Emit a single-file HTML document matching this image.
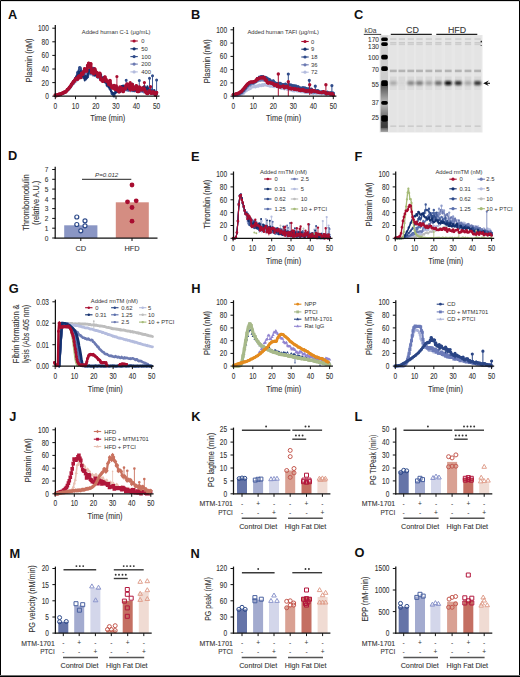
<!DOCTYPE html>
<html><head><meta charset="utf-8"><style>
html,body{margin:0;padding:0;background:#fff;overflow:hidden;}
svg{display:block;}
svg{font-family:"Liberation Sans",sans-serif;}
</style></head><body>
<svg width="520" height="677" viewBox="0 0 520 677">
<rect width="520" height="677" fill="#fff"/>
<g fill="#333" stroke-linejoin="round">
<text transform="translate(8,19)" font-size="12.8" font-weight="bold" fill="#111">A</text>
<polyline points="55.3,95.9 56.3,95.6 57.3,95.2 58.3,95.1 59.3,94.8 60.4,94.5 61.4,94.2 62.4,93.8 63.4,93.3 64.4,92.7 65.4,92.2 66.4,91.5 67.4,90.7 68.5,89.7 69.5,88.7 70.5,87.7 71.5,85.7 72.5,84.4 73.5,83.5 74.5,82.3 75.5,81.7 76.6,80.7 77.6,78.9 78.6,78.6 79.6,77.6 80.6,77 81.6,76.9 82.6,76.1 83.6,75.9 84.7,74.9 85.7,74.9 86.7,74.3 87.7,74.1 88.7,73.6 89.7,73.8 90.7,74.1 91.8,73.4 92.8,73.8 93.8,74.4 94.8,75 95.8,76.1 96.8,76.6 97.8,77.1 98.8,77.9 99.8,77.4 100.9,78.5 101.9,78.4 102.9,79.6 103.9,79.4 104.9,80.2 105.9,81.9 106.9,82.3 107.9,82.1 109,83.4 110,83.6 111,85.1 112,86.4 113,86.3 114,86.7 115,88 116,88.6 117.1,88.6 118.1,88 119.1,88.5 120.1,89.6 121.1,89.6 122.1,89.9 123.1,90.1 124.1,89.2 125.2,90.2 126.2,89.8 127.2,90 128.2,90.4 129.2,89.8 130.2,90.7 131.2,90.1 132.2,90.9 133.3,90.5 134.3,90.9 135.3,90.9 136.3,90.1 137.3,90.5 138.3,91.3 139.3,90.6 140.3,91.7 141.4,91.6 142.4,91.1 143.4,91.5 144.4,92.4 145.4,91.3 146.4,92.5 147.4,92.6 148.4,92 149.5,92.8 150.5,92.9 151.5,93.4 152.5,93.5 153.5,93 154.5,93.6 155.5,93.2 156.6,93.7" fill="none" stroke="#b4bcde" stroke-width="2.8" stroke-linejoin="round" stroke-linecap="round"/>
<polyline points="55.3,95.9 56.3,95.5 57.3,95.3 58.3,95.2 59.3,95 60.4,94.5 61.4,94.2 62.4,93.7 63.4,93.3 64.4,92.8 65.4,92.1 66.4,91.2 67.4,90.4 68.5,89.2 69.5,88.2 70.5,86.6 71.5,85.6 72.5,83.8 73.5,84 74.5,80.5 75.5,80.5 76.6,79 77.6,76.2 78.6,78.5 79.6,77.6 80.6,73.6 81.6,74.9 82.6,76.4 83.6,72.4 84.7,72.1 85.7,75.3 86.7,73.5 87.7,74.3 88.7,73.3 89.7,71.9 90.7,74 91.8,72.1 92.8,75.3 93.8,75.4 94.8,73.2 95.8,75.5 96.8,76 97.8,75.9 98.8,76.9 99.8,77.9 100.9,79.9 101.9,77.8 102.9,77.6 103.9,78.2 104.9,80 105.9,81.7 106.9,82.4 107.9,82 109,82.9 110,85.5 111,85.9 112,86.3 113,86.5 114,86.2 115,87.7 116,89.4 117.1,87.4 118.1,88.7 119.1,88.7 120.1,89.7 121.1,89.3 122.1,89.5 123.1,88.5 124.1,90.4 125.2,89.3 126.2,90.3 127.2,89 128.2,90.8 129.2,90.2 130.2,90 131.2,89.3 132.2,90.9 133.3,89.9 134.3,90.6 135.3,90.5 136.3,90.1 137.3,89 138.3,90.4 139.3,89.3 140.3,91.5 141.4,89.7 142.4,91.3 143.4,92 144.4,90.7 145.4,90.5 146.4,92.9 147.4,92.4 148.4,91.4 149.5,92.6 150.5,93 151.5,93.8 152.5,93.9 153.5,92.7 154.5,92 155.5,92.1 156.6,93.5" fill="none" stroke="#6c7ab2" stroke-width="2.2" stroke-linejoin="round" stroke-linecap="round"/>
<polyline points="55.3,95.7 56.3,95.1 57.3,94.9 58.3,94.5 59.3,94.7 60.4,94.3 61.4,94.1 62.4,93.6 63.4,92.9 64.4,92.7 65.4,91.8 66.4,91.1 67.4,90 68.5,88.7 69.5,87.1 70.5,85.9 71.5,85 72.5,83.3 73.5,82 74.5,79.8 75.5,78.2 76.6,76.4 77.6,72.4 78.6,70.8 79.6,67.6 80.6,67.5 81.6,72.6 82.6,71.4 83.6,77.4 84.7,78.3 85.7,79 86.7,78.2 87.7,76.7 88.7,73.2 89.7,71.7 90.7,73.1 91.8,68.2 92.8,68.9 93.8,68.3 94.8,71.1 95.8,72.7 96.8,72 97.8,76.9 98.8,74 99.8,76.2 100.9,78.7 101.9,79.3 102.9,78.2 103.9,80.7 104.9,80.4 105.9,80.7 106.9,83.2 107.9,86 109,85.6 110,88.8 111,90.7 112,93.5 113,94.7 114,95.9 115,92.4 116,90 117.1,91.9 118.1,89.6 119.1,87.8 120.1,91.4 121.1,90.4 122.1,86.5 123.1,85.9 124.1,86.5 125.2,88.7 126.2,87.2 127.2,84.8 128.2,84.7 129.2,85.3 130.2,88.7 131.2,85.8 132.2,88.7 133.3,87.4 134.3,90.7 135.3,86.9 136.3,88.9 137.3,88.3 138.3,90.7 139.3,88.5 140.3,88.5 141.4,88.1 142.4,89.1 143.4,87 144.4,88.8 145.4,89.1 146.4,89.7 147.4,87.3 148.4,90.5 149.5,90.4 150.5,91.6 151.5,89.3 152.5,90.3 153.5,91 154.5,93.9 155.5,92.6 156.6,93.5" fill="none" stroke="#2f4b8a" stroke-width="2.2" stroke-linejoin="round" stroke-linecap="round"/>
<path d="M53.8,95.7a1.5,1.5 0 1 0 3,0a1.5,1.5 0 1 0 -3,0M55.8,94.9a1.5,1.5 0 1 0 3,0a1.5,1.5 0 1 0 -3,0M57.8,94.7a1.5,1.5 0 1 0 3,0a1.5,1.5 0 1 0 -3,0M59.9,94.1a1.5,1.5 0 1 0 3,0a1.5,1.5 0 1 0 -3,0M61.9,92.9a1.5,1.5 0 1 0 3,0a1.5,1.5 0 1 0 -3,0M63.9,91.8a1.5,1.5 0 1 0 3,0a1.5,1.5 0 1 0 -3,0M65.9,90a1.5,1.5 0 1 0 3,0a1.5,1.5 0 1 0 -3,0M68,87.1a1.5,1.5 0 1 0 3,0a1.5,1.5 0 1 0 -3,0M70,85a1.5,1.5 0 1 0 3,0a1.5,1.5 0 1 0 -3,0M72,82a1.5,1.5 0 1 0 3,0a1.5,1.5 0 1 0 -3,0M74,78.2a1.5,1.5 0 1 0 3,0a1.5,1.5 0 1 0 -3,0M76.1,72.4a1.5,1.5 0 1 0 3,0a1.5,1.5 0 1 0 -3,0M78.1,67.6a1.5,1.5 0 1 0 3,0a1.5,1.5 0 1 0 -3,0M80.1,72.6a1.5,1.5 0 1 0 3,0a1.5,1.5 0 1 0 -3,0M82.1,77.4a1.5,1.5 0 1 0 3,0a1.5,1.5 0 1 0 -3,0M84.2,79a1.5,1.5 0 1 0 3,0a1.5,1.5 0 1 0 -3,0M86.2,76.7a1.5,1.5 0 1 0 3,0a1.5,1.5 0 1 0 -3,0M88.2,71.7a1.5,1.5 0 1 0 3,0a1.5,1.5 0 1 0 -3,0M90.2,68.2a1.5,1.5 0 1 0 3,0a1.5,1.5 0 1 0 -3,0M92.3,68.3a1.5,1.5 0 1 0 3,0a1.5,1.5 0 1 0 -3,0M94.3,72.7a1.5,1.5 0 1 0 3,0a1.5,1.5 0 1 0 -3,0M96.3,76.9a1.5,1.5 0 1 0 3,0a1.5,1.5 0 1 0 -3,0M98.3,76.2a1.5,1.5 0 1 0 3,0a1.5,1.5 0 1 0 -3,0M100.4,79.3a1.5,1.5 0 1 0 3,0a1.5,1.5 0 1 0 -3,0M102.4,80.7a1.5,1.5 0 1 0 3,0a1.5,1.5 0 1 0 -3,0M104.4,80.7a1.5,1.5 0 1 0 3,0a1.5,1.5 0 1 0 -3,0M106.4,86a1.5,1.5 0 1 0 3,0a1.5,1.5 0 1 0 -3,0M108.5,88.8a1.5,1.5 0 1 0 3,0a1.5,1.5 0 1 0 -3,0M110.5,93.5a1.5,1.5 0 1 0 3,0a1.5,1.5 0 1 0 -3,0M112.5,95.9a1.5,1.5 0 1 0 3,0a1.5,1.5 0 1 0 -3,0M114.5,90a1.5,1.5 0 1 0 3,0a1.5,1.5 0 1 0 -3,0M116.6,89.6a1.5,1.5 0 1 0 3,0a1.5,1.5 0 1 0 -3,0M118.6,91.4a1.5,1.5 0 1 0 3,0a1.5,1.5 0 1 0 -3,0M120.6,86.5a1.5,1.5 0 1 0 3,0a1.5,1.5 0 1 0 -3,0M122.6,86.5a1.5,1.5 0 1 0 3,0a1.5,1.5 0 1 0 -3,0M124.7,87.2a1.5,1.5 0 1 0 3,0a1.5,1.5 0 1 0 -3,0M126.7,84.7a1.5,1.5 0 1 0 3,0a1.5,1.5 0 1 0 -3,0M128.7,88.7a1.5,1.5 0 1 0 3,0a1.5,1.5 0 1 0 -3,0M130.8,88.7a1.5,1.5 0 1 0 3,0a1.5,1.5 0 1 0 -3,0M132.8,90.7a1.5,1.5 0 1 0 3,0a1.5,1.5 0 1 0 -3,0M134.8,88.9a1.5,1.5 0 1 0 3,0a1.5,1.5 0 1 0 -3,0M136.8,90.7a1.5,1.5 0 1 0 3,0a1.5,1.5 0 1 0 -3,0M138.8,88.5a1.5,1.5 0 1 0 3,0a1.5,1.5 0 1 0 -3,0M140.9,89.1a1.5,1.5 0 1 0 3,0a1.5,1.5 0 1 0 -3,0M142.9,88.8a1.5,1.5 0 1 0 3,0a1.5,1.5 0 1 0 -3,0M144.9,89.7a1.5,1.5 0 1 0 3,0a1.5,1.5 0 1 0 -3,0M146.9,90.5a1.5,1.5 0 1 0 3,0a1.5,1.5 0 1 0 -3,0M149,91.6a1.5,1.5 0 1 0 3,0a1.5,1.5 0 1 0 -3,0M151,90.3a1.5,1.5 0 1 0 3,0a1.5,1.5 0 1 0 -3,0M153,93.9a1.5,1.5 0 1 0 3,0a1.5,1.5 0 1 0 -3,0M155.1,93.5a1.5,1.5 0 1 0 3,0a1.5,1.5 0 1 0 -3,0" fill="#2f4b8a"/>
<polyline points="55.3,95.8 56.3,95.1 57.3,94.9 58.3,94.5 59.3,94.6 60.4,94.3 61.4,93.7 62.4,93.3 63.4,93.1 64.4,92.4 65.4,91.9 66.4,90.7 67.4,90.1 68.5,88.9 69.5,87.1 70.5,86.1 71.5,84.8 72.5,82.9 73.5,81.5 74.5,80.4 75.5,78.5 76.6,76.5 77.6,76.8 78.6,71.5 79.6,73.5 80.6,70.9 81.6,73.9 82.6,75.8 83.6,74.3 84.7,80.5 85.7,76.4 86.7,78.2 87.7,75.1 88.7,70.1 89.7,69 90.7,73.1 91.8,69.8 92.8,70 93.8,73.9 94.8,75.2 95.8,70.5 96.8,73.6 97.8,76.5 98.8,75.4 99.8,77.7 100.9,74.7 101.9,77.5 102.9,80.8 103.9,77.3 104.9,82.6 105.9,82.6 106.9,85.3 107.9,82.6 109,87.6 110,87.3 111,91.4 112,92.2 113,93.4 114,93.9 115,93.3 116,92.2 117.1,91.7 118.1,90.2 119.1,91.9 120.1,89.3 121.1,89.9 122.1,86.2 123.1,85.4 124.1,89.5 125.2,88.8 126.2,85.7 127.2,86.3 128.2,89.2 129.2,85.8 130.2,84.9 131.2,88 132.2,88.8 133.3,88.2 134.3,86.8 135.3,90.4 136.3,90.4 137.3,90.9 138.3,88.7 139.3,89.3 140.3,90.1 141.4,89.2 142.4,90.7 143.4,89.1 144.4,85.6 145.4,87.6 146.4,89.1 147.4,86.1 148.4,89.3 149.5,90.2 150.5,91.8 151.5,91.7 152.5,92 153.5,92.4 154.5,90 155.5,93.4 156.6,93.9" fill="none" stroke="#13306e" stroke-width="1.8" stroke-linejoin="round" stroke-linecap="round"/>
<path d="M54,95.8a1.3,1.3 0 1 0 2.6,0a1.3,1.3 0 1 0 -2.6,0M57,94.5a1.3,1.3 0 1 0 2.6,0a1.3,1.3 0 1 0 -2.6,0M60.1,93.7a1.3,1.3 0 1 0 2.6,0a1.3,1.3 0 1 0 -2.6,0M63.1,92.4a1.3,1.3 0 1 0 2.6,0a1.3,1.3 0 1 0 -2.6,0M66.1,90.1a1.3,1.3 0 1 0 2.6,0a1.3,1.3 0 1 0 -2.6,0M69.2,86.1a1.3,1.3 0 1 0 2.6,0a1.3,1.3 0 1 0 -2.6,0M72.2,81.5a1.3,1.3 0 1 0 2.6,0a1.3,1.3 0 1 0 -2.6,0M75.3,76.5a1.3,1.3 0 1 0 2.6,0a1.3,1.3 0 1 0 -2.6,0M78.3,73.5a1.3,1.3 0 1 0 2.6,0a1.3,1.3 0 1 0 -2.6,0M81.3,75.8a1.3,1.3 0 1 0 2.6,0a1.3,1.3 0 1 0 -2.6,0M84.4,76.4a1.3,1.3 0 1 0 2.6,0a1.3,1.3 0 1 0 -2.6,0M87.4,70.1a1.3,1.3 0 1 0 2.6,0a1.3,1.3 0 1 0 -2.6,0M90.5,69.8a1.3,1.3 0 1 0 2.6,0a1.3,1.3 0 1 0 -2.6,0M93.5,75.2a1.3,1.3 0 1 0 2.6,0a1.3,1.3 0 1 0 -2.6,0M96.5,76.5a1.3,1.3 0 1 0 2.6,0a1.3,1.3 0 1 0 -2.6,0M99.6,74.7a1.3,1.3 0 1 0 2.6,0a1.3,1.3 0 1 0 -2.6,0M102.6,77.3a1.3,1.3 0 1 0 2.6,0a1.3,1.3 0 1 0 -2.6,0M105.6,85.3a1.3,1.3 0 1 0 2.6,0a1.3,1.3 0 1 0 -2.6,0M108.7,87.3a1.3,1.3 0 1 0 2.6,0a1.3,1.3 0 1 0 -2.6,0M111.7,93.4a1.3,1.3 0 1 0 2.6,0a1.3,1.3 0 1 0 -2.6,0M114.8,92.2a1.3,1.3 0 1 0 2.6,0a1.3,1.3 0 1 0 -2.6,0M117.8,91.9a1.3,1.3 0 1 0 2.6,0a1.3,1.3 0 1 0 -2.6,0M120.8,86.2a1.3,1.3 0 1 0 2.6,0a1.3,1.3 0 1 0 -2.6,0M123.9,88.8a1.3,1.3 0 1 0 2.6,0a1.3,1.3 0 1 0 -2.6,0M126.9,89.2a1.3,1.3 0 1 0 2.6,0a1.3,1.3 0 1 0 -2.6,0M129.9,88a1.3,1.3 0 1 0 2.6,0a1.3,1.3 0 1 0 -2.6,0M133,86.8a1.3,1.3 0 1 0 2.6,0a1.3,1.3 0 1 0 -2.6,0M136,90.9a1.3,1.3 0 1 0 2.6,0a1.3,1.3 0 1 0 -2.6,0M139,90.1a1.3,1.3 0 1 0 2.6,0a1.3,1.3 0 1 0 -2.6,0M142.1,89.1a1.3,1.3 0 1 0 2.6,0a1.3,1.3 0 1 0 -2.6,0M145.1,89.1a1.3,1.3 0 1 0 2.6,0a1.3,1.3 0 1 0 -2.6,0M148.2,90.2a1.3,1.3 0 1 0 2.6,0a1.3,1.3 0 1 0 -2.6,0M151.2,92a1.3,1.3 0 1 0 2.6,0a1.3,1.3 0 1 0 -2.6,0M154.2,93.4a1.3,1.3 0 1 0 2.6,0a1.3,1.3 0 1 0 -2.6,0" fill="#13306e"/>
<path d="M126.2,80.2V90.8M139.3,80.6V90.8M149.5,78.2V92.8M152.5,75.8V92.1M156.6,79.9V94.2M132.2,84V92.1" stroke="#2f4b8a" stroke-width="0.9" fill="none"/>
<path d="M124.7,80.2a1.5,1.5 0 1 0 3,0a1.5,1.5 0 1 0 -3,0M137.8,80.6a1.5,1.5 0 1 0 3,0a1.5,1.5 0 1 0 -3,0M148,78.2a1.5,1.5 0 1 0 3,0a1.5,1.5 0 1 0 -3,0M151,75.8a1.5,1.5 0 1 0 3,0a1.5,1.5 0 1 0 -3,0M155.1,79.9a1.5,1.5 0 1 0 3,0a1.5,1.5 0 1 0 -3,0M130.8,84a1.5,1.5 0 1 0 3,0a1.5,1.5 0 1 0 -3,0" fill="#2f4b8a"/>
<polyline points="55.3,95.2 56.3,95.6 57.3,94.8 58.3,95 59.3,94.1 60.4,94.5 61.4,93.5 62.4,93.3 63.4,92.7 64.4,92.1 65.4,92 66.4,91 67.4,89.6 68.5,88.8 69.5,87.6 70.5,86.3 71.5,84.4 72.5,83 73.5,81.7 74.5,80.9 75.5,79 76.6,78.3 77.6,79.1 78.6,76.5 79.6,75.9 80.6,77.5 81.6,73.3 82.6,74.2 83.6,72.1 84.7,68.8 85.7,70.3 86.7,70.9 87.7,65.7 88.7,63.3 89.7,67 90.7,63.8 91.8,72.3 92.8,72.5 93.8,73.6 94.8,69 95.8,72 96.8,72.6 97.8,76.5 98.8,75.6 99.8,73.4 100.9,79.6 101.9,80.1 102.9,81.2 103.9,78.9 104.9,77 105.9,79.6 106.9,81.4 107.9,81.5 109,84.5 110,80.7 111,85.6 112,87.4 113,87.9 114,85.6 115,89.1 116,86.2 117.1,89.8 118.1,89.5 119.1,91.7 120.1,87.2 121.1,87.8 122.1,89.6 123.1,91.4 124.1,88.7 125.2,88.7 126.2,85.3 127.2,84.2 128.2,85 129.2,87.7 130.2,89.3 131.2,84.6 132.2,84.6 133.3,89.5 134.3,87.9 135.3,88.4 136.3,85.8 137.3,91.3 138.3,91.4 139.3,87.2 140.3,88.9 141.4,89.7 142.4,88.1 143.4,89.3 144.4,89 145.4,91.6 146.4,92.8 147.4,93.5 148.4,92.1 149.5,90.8 150.5,92.6 151.5,93.2 152.5,92.2 153.5,92.2 154.5,93.1 155.5,94.9 156.6,92.5" fill="none" stroke="#a80d30" stroke-width="3.0" stroke-linejoin="round" stroke-linecap="round"/>
<path d="M53.4,95.2a1.85,1.85 0 1 0 3.7,0a1.85,1.85 0 1 0 -3.7,0M54.5,95.6a1.85,1.85 0 1 0 3.7,0a1.85,1.85 0 1 0 -3.7,0M55.5,94.8a1.85,1.85 0 1 0 3.7,0a1.85,1.85 0 1 0 -3.7,0M56.5,95a1.85,1.85 0 1 0 3.7,0a1.85,1.85 0 1 0 -3.7,0M57.5,94.1a1.85,1.85 0 1 0 3.7,0a1.85,1.85 0 1 0 -3.7,0M58.5,94.5a1.85,1.85 0 1 0 3.7,0a1.85,1.85 0 1 0 -3.7,0M59.5,93.5a1.85,1.85 0 1 0 3.7,0a1.85,1.85 0 1 0 -3.7,0M60.5,93.3a1.85,1.85 0 1 0 3.7,0a1.85,1.85 0 1 0 -3.7,0M61.5,92.7a1.85,1.85 0 1 0 3.7,0a1.85,1.85 0 1 0 -3.7,0M62.6,92.1a1.85,1.85 0 1 0 3.7,0a1.85,1.85 0 1 0 -3.7,0M63.6,92a1.85,1.85 0 1 0 3.7,0a1.85,1.85 0 1 0 -3.7,0M64.6,91a1.85,1.85 0 1 0 3.7,0a1.85,1.85 0 1 0 -3.7,0M65.6,89.6a1.85,1.85 0 1 0 3.7,0a1.85,1.85 0 1 0 -3.7,0M66.6,88.8a1.85,1.85 0 1 0 3.7,0a1.85,1.85 0 1 0 -3.7,0M67.6,87.6a1.85,1.85 0 1 0 3.7,0a1.85,1.85 0 1 0 -3.7,0M68.6,86.3a1.85,1.85 0 1 0 3.7,0a1.85,1.85 0 1 0 -3.7,0M69.7,84.4a1.85,1.85 0 1 0 3.7,0a1.85,1.85 0 1 0 -3.7,0M70.7,83a1.85,1.85 0 1 0 3.7,0a1.85,1.85 0 1 0 -3.7,0M71.7,81.7a1.85,1.85 0 1 0 3.7,0a1.85,1.85 0 1 0 -3.7,0M72.7,80.9a1.85,1.85 0 1 0 3.7,0a1.85,1.85 0 1 0 -3.7,0M73.7,79a1.85,1.85 0 1 0 3.7,0a1.85,1.85 0 1 0 -3.7,0M74.7,78.3a1.85,1.85 0 1 0 3.7,0a1.85,1.85 0 1 0 -3.7,0M75.7,79.1a1.85,1.85 0 1 0 3.7,0a1.85,1.85 0 1 0 -3.7,0M76.7,76.5a1.85,1.85 0 1 0 3.7,0a1.85,1.85 0 1 0 -3.7,0M77.8,75.9a1.85,1.85 0 1 0 3.7,0a1.85,1.85 0 1 0 -3.7,0M78.8,77.5a1.85,1.85 0 1 0 3.7,0a1.85,1.85 0 1 0 -3.7,0M79.8,73.3a1.85,1.85 0 1 0 3.7,0a1.85,1.85 0 1 0 -3.7,0M80.8,74.2a1.85,1.85 0 1 0 3.7,0a1.85,1.85 0 1 0 -3.7,0M81.8,72.1a1.85,1.85 0 1 0 3.7,0a1.85,1.85 0 1 0 -3.7,0M82.8,68.8a1.85,1.85 0 1 0 3.7,0a1.85,1.85 0 1 0 -3.7,0M83.8,70.3a1.85,1.85 0 1 0 3.7,0a1.85,1.85 0 1 0 -3.7,0M84.8,70.9a1.85,1.85 0 1 0 3.7,0a1.85,1.85 0 1 0 -3.7,0M85.8,65.7a1.85,1.85 0 1 0 3.7,0a1.85,1.85 0 1 0 -3.7,0M86.9,63.3a1.85,1.85 0 1 0 3.7,0a1.85,1.85 0 1 0 -3.7,0M87.9,67a1.85,1.85 0 1 0 3.7,0a1.85,1.85 0 1 0 -3.7,0M88.9,63.8a1.85,1.85 0 1 0 3.7,0a1.85,1.85 0 1 0 -3.7,0M89.9,72.3a1.85,1.85 0 1 0 3.7,0a1.85,1.85 0 1 0 -3.7,0M90.9,72.5a1.85,1.85 0 1 0 3.7,0a1.85,1.85 0 1 0 -3.7,0M91.9,73.6a1.85,1.85 0 1 0 3.7,0a1.85,1.85 0 1 0 -3.7,0M92.9,69a1.85,1.85 0 1 0 3.7,0a1.85,1.85 0 1 0 -3.7,0M94,72a1.85,1.85 0 1 0 3.7,0a1.85,1.85 0 1 0 -3.7,0M95,72.6a1.85,1.85 0 1 0 3.7,0a1.85,1.85 0 1 0 -3.7,0M96,76.5a1.85,1.85 0 1 0 3.7,0a1.85,1.85 0 1 0 -3.7,0M97,75.6a1.85,1.85 0 1 0 3.7,0a1.85,1.85 0 1 0 -3.7,0M98,73.4a1.85,1.85 0 1 0 3.7,0a1.85,1.85 0 1 0 -3.7,0M99,79.6a1.85,1.85 0 1 0 3.7,0a1.85,1.85 0 1 0 -3.7,0M100,80.1a1.85,1.85 0 1 0 3.7,0a1.85,1.85 0 1 0 -3.7,0M101,81.2a1.85,1.85 0 1 0 3.7,0a1.85,1.85 0 1 0 -3.7,0M102,78.9a1.85,1.85 0 1 0 3.7,0a1.85,1.85 0 1 0 -3.7,0M103.1,77a1.85,1.85 0 1 0 3.7,0a1.85,1.85 0 1 0 -3.7,0M104.1,79.6a1.85,1.85 0 1 0 3.7,0a1.85,1.85 0 1 0 -3.7,0M105.1,81.4a1.85,1.85 0 1 0 3.7,0a1.85,1.85 0 1 0 -3.7,0M106.1,81.5a1.85,1.85 0 1 0 3.7,0a1.85,1.85 0 1 0 -3.7,0M107.1,84.5a1.85,1.85 0 1 0 3.7,0a1.85,1.85 0 1 0 -3.7,0M108.1,80.7a1.85,1.85 0 1 0 3.7,0a1.85,1.85 0 1 0 -3.7,0M109.1,85.6a1.85,1.85 0 1 0 3.7,0a1.85,1.85 0 1 0 -3.7,0M110.2,87.4a1.85,1.85 0 1 0 3.7,0a1.85,1.85 0 1 0 -3.7,0M111.2,87.9a1.85,1.85 0 1 0 3.7,0a1.85,1.85 0 1 0 -3.7,0M112.2,85.6a1.85,1.85 0 1 0 3.7,0a1.85,1.85 0 1 0 -3.7,0M113.2,89.1a1.85,1.85 0 1 0 3.7,0a1.85,1.85 0 1 0 -3.7,0M114.2,86.2a1.85,1.85 0 1 0 3.7,0a1.85,1.85 0 1 0 -3.7,0M115.2,89.8a1.85,1.85 0 1 0 3.7,0a1.85,1.85 0 1 0 -3.7,0M116.2,89.5a1.85,1.85 0 1 0 3.7,0a1.85,1.85 0 1 0 -3.7,0M117.2,91.7a1.85,1.85 0 1 0 3.7,0a1.85,1.85 0 1 0 -3.7,0M118.2,87.2a1.85,1.85 0 1 0 3.7,0a1.85,1.85 0 1 0 -3.7,0M119.3,87.8a1.85,1.85 0 1 0 3.7,0a1.85,1.85 0 1 0 -3.7,0M120.3,89.6a1.85,1.85 0 1 0 3.7,0a1.85,1.85 0 1 0 -3.7,0M121.3,91.4a1.85,1.85 0 1 0 3.7,0a1.85,1.85 0 1 0 -3.7,0M122.3,88.7a1.85,1.85 0 1 0 3.7,0a1.85,1.85 0 1 0 -3.7,0M123.3,88.7a1.85,1.85 0 1 0 3.7,0a1.85,1.85 0 1 0 -3.7,0M124.3,85.3a1.85,1.85 0 1 0 3.7,0a1.85,1.85 0 1 0 -3.7,0M125.3,84.2a1.85,1.85 0 1 0 3.7,0a1.85,1.85 0 1 0 -3.7,0M126.3,85a1.85,1.85 0 1 0 3.7,0a1.85,1.85 0 1 0 -3.7,0M127.4,87.7a1.85,1.85 0 1 0 3.7,0a1.85,1.85 0 1 0 -3.7,0M128.4,89.3a1.85,1.85 0 1 0 3.7,0a1.85,1.85 0 1 0 -3.7,0M129.4,84.6a1.85,1.85 0 1 0 3.7,0a1.85,1.85 0 1 0 -3.7,0M130.4,84.6a1.85,1.85 0 1 0 3.7,0a1.85,1.85 0 1 0 -3.7,0M131.4,89.5a1.85,1.85 0 1 0 3.7,0a1.85,1.85 0 1 0 -3.7,0M132.4,87.9a1.85,1.85 0 1 0 3.7,0a1.85,1.85 0 1 0 -3.7,0M133.4,88.4a1.85,1.85 0 1 0 3.7,0a1.85,1.85 0 1 0 -3.7,0M134.5,85.8a1.85,1.85 0 1 0 3.7,0a1.85,1.85 0 1 0 -3.7,0M135.5,91.3a1.85,1.85 0 1 0 3.7,0a1.85,1.85 0 1 0 -3.7,0M136.5,91.4a1.85,1.85 0 1 0 3.7,0a1.85,1.85 0 1 0 -3.7,0M137.5,87.2a1.85,1.85 0 1 0 3.7,0a1.85,1.85 0 1 0 -3.7,0M138.5,88.9a1.85,1.85 0 1 0 3.7,0a1.85,1.85 0 1 0 -3.7,0M139.5,89.7a1.85,1.85 0 1 0 3.7,0a1.85,1.85 0 1 0 -3.7,0M140.5,88.1a1.85,1.85 0 1 0 3.7,0a1.85,1.85 0 1 0 -3.7,0M141.5,89.3a1.85,1.85 0 1 0 3.7,0a1.85,1.85 0 1 0 -3.7,0M142.5,89a1.85,1.85 0 1 0 3.7,0a1.85,1.85 0 1 0 -3.7,0M143.6,91.6a1.85,1.85 0 1 0 3.7,0a1.85,1.85 0 1 0 -3.7,0M144.6,92.8a1.85,1.85 0 1 0 3.7,0a1.85,1.85 0 1 0 -3.7,0M145.6,93.5a1.85,1.85 0 1 0 3.7,0a1.85,1.85 0 1 0 -3.7,0M146.6,92.1a1.85,1.85 0 1 0 3.7,0a1.85,1.85 0 1 0 -3.7,0M147.6,90.8a1.85,1.85 0 1 0 3.7,0a1.85,1.85 0 1 0 -3.7,0M148.6,92.6a1.85,1.85 0 1 0 3.7,0a1.85,1.85 0 1 0 -3.7,0M149.6,93.2a1.85,1.85 0 1 0 3.7,0a1.85,1.85 0 1 0 -3.7,0M150.7,92.2a1.85,1.85 0 1 0 3.7,0a1.85,1.85 0 1 0 -3.7,0M151.7,92.2a1.85,1.85 0 1 0 3.7,0a1.85,1.85 0 1 0 -3.7,0M152.7,93.1a1.85,1.85 0 1 0 3.7,0a1.85,1.85 0 1 0 -3.7,0M153.7,94.9a1.85,1.85 0 1 0 3.7,0a1.85,1.85 0 1 0 -3.7,0M154.7,92.5a1.85,1.85 0 1 0 3.7,0a1.85,1.85 0 1 0 -3.7,0" fill="#a80d30"/>
<path d="M116.9,76.5V89.4M130.2,82.6V92.1M144.4,82.6V92.8M150.5,86.7V94.2" stroke="#a80d30" stroke-width="0.9" fill="none"/>
<path d="M115.3,76.5a1.6,1.6 0 1 0 3.2,0a1.6,1.6 0 1 0 -3.2,0M128.6,82.6a1.6,1.6 0 1 0 3.2,0a1.6,1.6 0 1 0 -3.2,0M142.8,82.6a1.6,1.6 0 1 0 3.2,0a1.6,1.6 0 1 0 -3.2,0M148.9,86.7a1.6,1.6 0 1 0 3.2,0a1.6,1.6 0 1 0 -3.2,0" fill="#a80d30"/>
<line x1="55.3" y1="25" x2="55.3" y2="96.8" stroke="#111" stroke-width="1.25"/>
<line x1="52.3" y1="96.2" x2="55.3" y2="96.2" stroke="#111" stroke-width="1.0"/>
<text transform="translate(48.9,99.1) scale(0.77,1)" font-size="8.5" text-anchor="end" stroke="#3a3a3a" stroke-width="0.1">0</text>
<line x1="52.3" y1="82.6" x2="55.3" y2="82.6" stroke="#111" stroke-width="1.0"/>
<text transform="translate(48.9,85.5) scale(0.77,1)" font-size="8.5" text-anchor="end" stroke="#3a3a3a" stroke-width="0.1">20</text>
<line x1="52.3" y1="69" x2="55.3" y2="69" stroke="#111" stroke-width="1.0"/>
<text transform="translate(48.9,71.9) scale(0.77,1)" font-size="8.5" text-anchor="end" stroke="#3a3a3a" stroke-width="0.1">40</text>
<line x1="52.3" y1="55.4" x2="55.3" y2="55.4" stroke="#111" stroke-width="1.0"/>
<text transform="translate(48.9,58.3) scale(0.77,1)" font-size="8.5" text-anchor="end" stroke="#3a3a3a" stroke-width="0.1">60</text>
<line x1="52.3" y1="41.8" x2="55.3" y2="41.8" stroke="#111" stroke-width="1.0"/>
<text transform="translate(48.9,44.7) scale(0.77,1)" font-size="8.5" text-anchor="end" stroke="#3a3a3a" stroke-width="0.1">80</text>
<line x1="52.3" y1="28.2" x2="55.3" y2="28.2" stroke="#111" stroke-width="1.0"/>
<text transform="translate(48.9,31.1) scale(0.77,1)" font-size="8.5" text-anchor="end" stroke="#3a3a3a" stroke-width="0.1">100</text>
<line x1="54.7" y1="96.2" x2="159.5" y2="96.2" stroke="#111" stroke-width="1.25"/>
<line x1="55.3" y1="96.2" x2="55.3" y2="99.2" stroke="#111" stroke-width="1.0"/>
<text transform="translate(55.3,108.6) scale(0.8,1)" font-size="8.2" text-anchor="middle" stroke="#3a3a3a" stroke-width="0.1">0</text>
<line x1="75.5" y1="96.2" x2="75.5" y2="99.2" stroke="#111" stroke-width="1.0"/>
<text transform="translate(75.5,108.6) scale(0.8,1)" font-size="8.2" text-anchor="middle" stroke="#3a3a3a" stroke-width="0.1">10</text>
<line x1="95.8" y1="96.2" x2="95.8" y2="99.2" stroke="#111" stroke-width="1.0"/>
<text transform="translate(95.8,108.6) scale(0.8,1)" font-size="8.2" text-anchor="middle" stroke="#3a3a3a" stroke-width="0.1">20</text>
<line x1="116" y1="96.2" x2="116" y2="99.2" stroke="#111" stroke-width="1.0"/>
<text transform="translate(116,108.6) scale(0.8,1)" font-size="8.2" text-anchor="middle" stroke="#3a3a3a" stroke-width="0.1">30</text>
<line x1="136.3" y1="96.2" x2="136.3" y2="99.2" stroke="#111" stroke-width="1.0"/>
<text transform="translate(136.3,108.6) scale(0.8,1)" font-size="8.2" text-anchor="middle" stroke="#3a3a3a" stroke-width="0.1">40</text>
<line x1="156.6" y1="96.2" x2="156.6" y2="99.2" stroke="#111" stroke-width="1.0"/>
<text transform="translate(156.6,108.6) scale(0.8,1)" font-size="8.2" text-anchor="middle" stroke="#3a3a3a" stroke-width="0.1">50</text>
<text transform="translate(107.7,121.1) scale(0.84,1)" font-size="8.8" text-anchor="middle" stroke="#3a3a3a" stroke-width="0.1">Time (min)</text>
<text transform="translate(31.6,60.4) rotate(-90) scale(0.85,1)" font-size="8.8" text-anchor="middle" stroke="#3a3a3a" stroke-width="0.1">Plasmin (nM)</text>
<text transform="translate(81.8,33.5)" font-size="5.8">Added human C-1 (μg/mL)</text>
<line x1="130.4" y1="41" x2="137.8" y2="41" stroke="#a80d30" stroke-width="1.1"/>
<circle cx="134.1" cy="41" r="1.6" fill="#a80d30"/>
<text transform="translate(141.2,43.1)" font-size="5.8">0</text>
<line x1="130.4" y1="48.8" x2="137.8" y2="48.8" stroke="#13306e" stroke-width="1.1"/>
<circle cx="134.1" cy="48.8" r="1.6" fill="#13306e"/>
<text transform="translate(141.2,50.9)" font-size="5.8">50</text>
<line x1="130.4" y1="56.6" x2="137.8" y2="56.6" stroke="#2f4b8a" stroke-width="1.1"/>
<circle cx="134.1" cy="56.6" r="1.6" fill="#2f4b8a"/>
<text transform="translate(141.2,58.7)" font-size="5.8">100</text>
<line x1="130.4" y1="64.1" x2="137.8" y2="64.1" stroke="#6c7ab2" stroke-width="1.1"/>
<circle cx="134.1" cy="64.1" r="1.6" fill="#6c7ab2"/>
<text transform="translate(141.2,66.2)" font-size="5.8">200</text>
<line x1="130.4" y1="71.9" x2="137.8" y2="71.9" stroke="#b4bcde" stroke-width="1.1"/>
<circle cx="134.1" cy="71.9" r="1.6" fill="#b4bcde"/>
<text transform="translate(141.2,74)" font-size="5.8">400</text>
<text transform="translate(191,19)" font-size="12.8" font-weight="bold" fill="#111">B</text>
<polyline points="233.3,96.2 234.3,95.5 235.3,95.4 236.3,95.4 237.3,95.6 238.3,94.8 239.3,94.6 240.3,94.6 241.3,94.2 242.3,93.9 243.3,93.4 244.3,92.1 245.3,91 246.3,90.7 247.3,89.2 248.3,89.3 249.3,88.8 250.3,88.5 251.3,87.1 252.3,87 253.3,86.5 254.3,86.5 255.3,86.8 256.3,86.3 257.3,85.9 258.3,86.2 259.3,85.1 260.3,85.5 261.3,85.6 262.3,84.7 263.3,85.4 264.3,84.5 265.3,85 266.3,84.9 267.3,85.3 268.3,85.3 269.3,85.8 270.3,86.1 271.3,85.4 272.3,86.3 273.3,85.9 274.3,86.7 275.3,86.1 276.3,86.4 277.3,86.8 278.3,87 279.3,87.4 280.3,87.4 281.3,88.3 282.3,88.1 283.3,87.9 284.3,88.8 285.3,88.3 286.3,88.5 287.3,89.2 288.3,89.5 289.3,89.6 290.3,89.8 291.3,89.4 292.3,90.2 293.3,90.7 294.3,90.8 295.3,90.3 296.3,90.2 297.3,90.9 298.3,91 299.3,91.1 300.3,91 301.3,91.7 302.3,91.4 303.3,91.6 304.3,91.7 305.3,92.3 306.3,92.4 307.3,92.3 308.3,91.8 309.3,92.6 310.3,92.4 311.3,92.9 312.3,93.2 313.3,93.3 314.3,92.7 315.3,92.8 316.3,93.3 317.3,93.1 318.3,93.2 319.3,93.1 320.3,93.1 321.3,93.8 322.3,93.3 323.3,93.4 324.3,93.9 325.3,93.7 326.3,94.2 327.3,94.4 328.3,94.7 329.3,94.1 330.3,94.9 331.3,95.1 332.3,94.4 333.3,94.6" fill="none" stroke="#b4bcde" stroke-width="3.2" stroke-linejoin="round" stroke-linecap="round"/>
<polyline points="233.3,95 234.3,95.7 235.3,95.7 236.3,94.5 237.3,95.2 238.3,95.1 239.3,94.3 240.3,94.2 241.3,93.1 242.3,93.1 243.3,91.4 244.3,91.1 245.3,89.7 246.3,88.2 247.3,87.3 248.3,86 249.3,85.4 250.3,85.4 251.3,84 252.3,83.9 253.3,83.8 254.3,83.4 255.3,82.2 256.3,82 257.3,81.2 258.3,81 259.3,80.4 260.3,80.6 261.3,80.2 262.3,80.1 263.3,80.5 264.3,79.8 265.3,80.5 266.3,80.3 267.3,80.6 268.3,81.4 269.3,82.6 270.3,82.4 271.3,83.2 272.3,84.2 273.3,84.7 274.3,84.5 275.3,85.3 276.3,84.7 277.3,85.4 278.3,85.6 279.3,86 280.3,86 281.3,85.9 282.3,86.8 283.3,87 284.3,87 285.3,87.5 286.3,87.4 287.3,87.6 288.3,88 289.3,87.9 290.3,88.3 291.3,88.9 292.3,88.2 293.3,89 294.3,89.2 295.3,89.4 296.3,89 297.3,89.2 298.3,89.8 299.3,90.1 300.3,90.6 301.3,90 302.3,90.9 303.3,90.7 304.3,91 305.3,91.2 306.3,91.4 307.3,91.7 308.3,92 309.3,91.6 310.3,91.5 311.3,91.8 312.3,92.4 313.3,92 314.3,92.8 315.3,92.6 316.3,92.2 317.3,92.3 318.3,92.8 319.3,92.5 320.3,93 321.3,93.1 322.3,93.1 323.3,92.8 324.3,93.1 325.3,93.5 326.3,93.3 327.3,93.5 328.3,93.9 329.3,93.5 330.3,93.6 331.3,93.9 332.3,93.6 333.3,94.7" fill="none" stroke="#6c7ab2" stroke-width="2.4" stroke-linejoin="round" stroke-linecap="round"/>
<polyline points="233.3,94.8 234.3,94.5 235.3,94.3 236.3,94.2 237.3,93.9 238.3,93.7 239.3,93.3 240.3,92.9 241.3,92.3 242.3,91.4 243.3,90.4 244.3,89.2 245.3,88.1 246.3,86.8 247.3,85.5 248.3,84.5 249.3,83.6 250.3,82.9 251.3,82.7 252.3,82.6 253.3,82.2 254.3,82 255.3,81.6 256.3,80.7 257.3,78.9 258.3,78.7 259.3,77.2 260.3,77.3 261.3,76.6 262.3,76.4 263.3,76.9 264.3,77.6 265.3,77.4 266.3,77.6 267.3,78.4 268.3,79.2 269.3,79.4 270.3,80.6 271.3,81 272.3,81.3 273.3,80.9 274.3,82.4 275.3,82.9 276.3,83.3 277.3,83.7 278.3,83.5 279.3,83.3 280.3,83.1 281.3,84.1 282.3,84.2 283.3,84.5 284.3,84.7 285.3,84.1 286.3,84.6 287.3,85.2 288.3,85.6 289.3,84.7 290.3,85 291.3,85 292.3,86.1 293.3,85.8 294.3,85.5 295.3,86.2 296.3,85.8 297.3,87.3 298.3,86.3 299.3,88 300.3,87.6 301.3,88.5 302.3,87.5 303.3,87.9 304.3,87.7 305.3,88.2 306.3,88.2 307.3,89.1 308.3,88.6 309.3,89.2 310.3,90 311.3,89.2 312.3,90.4 313.3,90.9 314.3,91.3 315.3,90.8 316.3,91.4 317.3,90.5 318.3,90.6 319.3,92 320.3,92.3 321.3,91.8 322.3,92.6 323.3,92.1 324.3,91.9 325.3,92.9 326.3,92.8 327.3,92.2 328.3,93 329.3,93.3 330.3,92.5 331.3,92.8 332.3,92.8 333.3,93.2" fill="none" stroke="#2f4b8a" stroke-width="2.6" stroke-linejoin="round" stroke-linecap="round"/>
<path d="M231.7,94.8a1.6,1.6 0 1 0 3.2,0a1.6,1.6 0 1 0 -3.2,0M233.7,94.3a1.6,1.6 0 1 0 3.2,0a1.6,1.6 0 1 0 -3.2,0M235.7,93.9a1.6,1.6 0 1 0 3.2,0a1.6,1.6 0 1 0 -3.2,0M237.7,93.3a1.6,1.6 0 1 0 3.2,0a1.6,1.6 0 1 0 -3.2,0M239.7,92.3a1.6,1.6 0 1 0 3.2,0a1.6,1.6 0 1 0 -3.2,0M241.7,90.4a1.6,1.6 0 1 0 3.2,0a1.6,1.6 0 1 0 -3.2,0M243.7,88.1a1.6,1.6 0 1 0 3.2,0a1.6,1.6 0 1 0 -3.2,0M245.7,85.5a1.6,1.6 0 1 0 3.2,0a1.6,1.6 0 1 0 -3.2,0M247.7,83.6a1.6,1.6 0 1 0 3.2,0a1.6,1.6 0 1 0 -3.2,0M249.7,82.7a1.6,1.6 0 1 0 3.2,0a1.6,1.6 0 1 0 -3.2,0M251.7,82.2a1.6,1.6 0 1 0 3.2,0a1.6,1.6 0 1 0 -3.2,0M253.7,81.6a1.6,1.6 0 1 0 3.2,0a1.6,1.6 0 1 0 -3.2,0M255.7,78.9a1.6,1.6 0 1 0 3.2,0a1.6,1.6 0 1 0 -3.2,0M257.7,77.2a1.6,1.6 0 1 0 3.2,0a1.6,1.6 0 1 0 -3.2,0M259.7,76.6a1.6,1.6 0 1 0 3.2,0a1.6,1.6 0 1 0 -3.2,0M261.7,76.9a1.6,1.6 0 1 0 3.2,0a1.6,1.6 0 1 0 -3.2,0M263.7,77.4a1.6,1.6 0 1 0 3.2,0a1.6,1.6 0 1 0 -3.2,0M265.7,78.4a1.6,1.6 0 1 0 3.2,0a1.6,1.6 0 1 0 -3.2,0M267.7,79.4a1.6,1.6 0 1 0 3.2,0a1.6,1.6 0 1 0 -3.2,0M269.7,81a1.6,1.6 0 1 0 3.2,0a1.6,1.6 0 1 0 -3.2,0M271.7,80.9a1.6,1.6 0 1 0 3.2,0a1.6,1.6 0 1 0 -3.2,0M273.7,82.9a1.6,1.6 0 1 0 3.2,0a1.6,1.6 0 1 0 -3.2,0M275.7,83.7a1.6,1.6 0 1 0 3.2,0a1.6,1.6 0 1 0 -3.2,0M277.7,83.3a1.6,1.6 0 1 0 3.2,0a1.6,1.6 0 1 0 -3.2,0M279.7,84.1a1.6,1.6 0 1 0 3.2,0a1.6,1.6 0 1 0 -3.2,0M281.7,84.5a1.6,1.6 0 1 0 3.2,0a1.6,1.6 0 1 0 -3.2,0M283.7,84.1a1.6,1.6 0 1 0 3.2,0a1.6,1.6 0 1 0 -3.2,0M285.7,85.2a1.6,1.6 0 1 0 3.2,0a1.6,1.6 0 1 0 -3.2,0M287.7,84.7a1.6,1.6 0 1 0 3.2,0a1.6,1.6 0 1 0 -3.2,0M289.7,85a1.6,1.6 0 1 0 3.2,0a1.6,1.6 0 1 0 -3.2,0M291.7,85.8a1.6,1.6 0 1 0 3.2,0a1.6,1.6 0 1 0 -3.2,0M293.7,86.2a1.6,1.6 0 1 0 3.2,0a1.6,1.6 0 1 0 -3.2,0M295.7,87.3a1.6,1.6 0 1 0 3.2,0a1.6,1.6 0 1 0 -3.2,0M297.7,88a1.6,1.6 0 1 0 3.2,0a1.6,1.6 0 1 0 -3.2,0M299.7,88.5a1.6,1.6 0 1 0 3.2,0a1.6,1.6 0 1 0 -3.2,0M301.7,87.9a1.6,1.6 0 1 0 3.2,0a1.6,1.6 0 1 0 -3.2,0M303.7,88.2a1.6,1.6 0 1 0 3.2,0a1.6,1.6 0 1 0 -3.2,0M305.7,89.1a1.6,1.6 0 1 0 3.2,0a1.6,1.6 0 1 0 -3.2,0M307.7,89.2a1.6,1.6 0 1 0 3.2,0a1.6,1.6 0 1 0 -3.2,0M309.7,89.2a1.6,1.6 0 1 0 3.2,0a1.6,1.6 0 1 0 -3.2,0M311.7,90.9a1.6,1.6 0 1 0 3.2,0a1.6,1.6 0 1 0 -3.2,0M313.7,90.8a1.6,1.6 0 1 0 3.2,0a1.6,1.6 0 1 0 -3.2,0M315.7,90.5a1.6,1.6 0 1 0 3.2,0a1.6,1.6 0 1 0 -3.2,0M317.7,92a1.6,1.6 0 1 0 3.2,0a1.6,1.6 0 1 0 -3.2,0M319.7,91.8a1.6,1.6 0 1 0 3.2,0a1.6,1.6 0 1 0 -3.2,0M321.7,92.1a1.6,1.6 0 1 0 3.2,0a1.6,1.6 0 1 0 -3.2,0M323.7,92.9a1.6,1.6 0 1 0 3.2,0a1.6,1.6 0 1 0 -3.2,0M325.7,92.2a1.6,1.6 0 1 0 3.2,0a1.6,1.6 0 1 0 -3.2,0M327.7,93.3a1.6,1.6 0 1 0 3.2,0a1.6,1.6 0 1 0 -3.2,0M329.7,92.8a1.6,1.6 0 1 0 3.2,0a1.6,1.6 0 1 0 -3.2,0M331.7,93.2a1.6,1.6 0 1 0 3.2,0a1.6,1.6 0 1 0 -3.2,0" fill="#2f4b8a"/>
<path d="M288.3,74V89.6M309.3,80.3V90.9M315.3,86.2V92.9M331.9,85.6V94.2" stroke="#2f4b8a" stroke-width="1.0" fill="none"/>
<path d="M286.7,74a1.6,1.6 0 1 0 3.2,0a1.6,1.6 0 1 0 -3.2,0M307.7,80.3a1.6,1.6 0 1 0 3.2,0a1.6,1.6 0 1 0 -3.2,0M313.7,86.2a1.6,1.6 0 1 0 3.2,0a1.6,1.6 0 1 0 -3.2,0M330.3,85.6a1.6,1.6 0 1 0 3.2,0a1.6,1.6 0 1 0 -3.2,0" fill="#2f4b8a"/>
<polyline points="233.3,94.8 234.3,94.4 235.3,94.3 236.3,93.8 237.3,93.7 238.3,93.1 239.3,92.8 240.3,92 241.3,91.4 242.3,90.3 243.3,89.1 244.3,87.9 245.3,86.7 246.3,85.4 247.3,84.2 248.3,83.5 249.3,82.6 250.3,82.1 251.3,81.9 252.3,81.9 253.3,81.9 254.3,81.4 255.3,81.2 256.3,80.2 257.3,78.6 258.3,79 259.3,78.1 260.3,78 261.3,77.5 262.3,77.9 263.3,77.1 264.3,77.8 265.3,80 266.3,80 267.3,82.5 268.3,83.1 269.3,82.6 270.3,82.8 271.3,83.2 272.3,83.2 273.3,83.8 274.3,85.2 275.3,84.6 276.3,84.6 277.3,86.4 278.3,85.9 279.3,86.8 280.3,87 281.3,86.6 282.3,86.4 283.3,86 284.3,87.7 285.3,87.2 286.3,86.5 287.3,87.1 288.3,87.7 289.3,88.5 290.3,88 291.3,88.9 292.3,88.4 293.3,88.6 294.3,89.2 295.3,88.7 296.3,89.6 297.3,89.6 298.3,89.1 299.3,90.3 300.3,90.5 301.3,89.9 302.3,90.3 303.3,89.6 304.3,90.8 305.3,90.7 306.3,91.4 307.3,90.7 308.3,91.1 309.3,90.9 310.3,90.5 311.3,91.9 312.3,90.3 313.3,90.9 314.3,90.8 315.3,91.4 316.3,91.5 317.3,91.9 318.3,92 319.3,92.5 320.3,92.4 321.3,92.6 322.3,92.6 323.3,91.7 324.3,92.1 325.3,92.5 326.3,93.8 327.3,93.6 328.3,93.3 329.3,93.3 330.3,94.1 331.3,94 332.3,93.8 333.3,95.3" fill="none" stroke="#a80d30" stroke-width="3.0" stroke-linejoin="round" stroke-linecap="round"/>
<path d="M231.6,94.8a1.7,1.7 0 1 0 3.4,0a1.7,1.7 0 1 0 -3.4,0M232.6,94.4a1.7,1.7 0 1 0 3.4,0a1.7,1.7 0 1 0 -3.4,0M233.6,94.3a1.7,1.7 0 1 0 3.4,0a1.7,1.7 0 1 0 -3.4,0M234.6,93.8a1.7,1.7 0 1 0 3.4,0a1.7,1.7 0 1 0 -3.4,0M235.6,93.7a1.7,1.7 0 1 0 3.4,0a1.7,1.7 0 1 0 -3.4,0M236.6,93.1a1.7,1.7 0 1 0 3.4,0a1.7,1.7 0 1 0 -3.4,0M237.6,92.8a1.7,1.7 0 1 0 3.4,0a1.7,1.7 0 1 0 -3.4,0M238.6,92a1.7,1.7 0 1 0 3.4,0a1.7,1.7 0 1 0 -3.4,0M239.6,91.4a1.7,1.7 0 1 0 3.4,0a1.7,1.7 0 1 0 -3.4,0M240.6,90.3a1.7,1.7 0 1 0 3.4,0a1.7,1.7 0 1 0 -3.4,0M241.6,89.1a1.7,1.7 0 1 0 3.4,0a1.7,1.7 0 1 0 -3.4,0M242.6,87.9a1.7,1.7 0 1 0 3.4,0a1.7,1.7 0 1 0 -3.4,0M243.6,86.7a1.7,1.7 0 1 0 3.4,0a1.7,1.7 0 1 0 -3.4,0M244.6,85.4a1.7,1.7 0 1 0 3.4,0a1.7,1.7 0 1 0 -3.4,0M245.6,84.2a1.7,1.7 0 1 0 3.4,0a1.7,1.7 0 1 0 -3.4,0M246.6,83.5a1.7,1.7 0 1 0 3.4,0a1.7,1.7 0 1 0 -3.4,0M247.6,82.6a1.7,1.7 0 1 0 3.4,0a1.7,1.7 0 1 0 -3.4,0M248.6,82.1a1.7,1.7 0 1 0 3.4,0a1.7,1.7 0 1 0 -3.4,0M249.6,81.9a1.7,1.7 0 1 0 3.4,0a1.7,1.7 0 1 0 -3.4,0M250.6,81.9a1.7,1.7 0 1 0 3.4,0a1.7,1.7 0 1 0 -3.4,0M251.6,81.9a1.7,1.7 0 1 0 3.4,0a1.7,1.7 0 1 0 -3.4,0M252.6,81.4a1.7,1.7 0 1 0 3.4,0a1.7,1.7 0 1 0 -3.4,0M253.6,81.2a1.7,1.7 0 1 0 3.4,0a1.7,1.7 0 1 0 -3.4,0M254.6,80.2a1.7,1.7 0 1 0 3.4,0a1.7,1.7 0 1 0 -3.4,0M255.6,78.6a1.7,1.7 0 1 0 3.4,0a1.7,1.7 0 1 0 -3.4,0M256.6,79a1.7,1.7 0 1 0 3.4,0a1.7,1.7 0 1 0 -3.4,0M257.6,78.1a1.7,1.7 0 1 0 3.4,0a1.7,1.7 0 1 0 -3.4,0M258.6,78a1.7,1.7 0 1 0 3.4,0a1.7,1.7 0 1 0 -3.4,0M259.6,77.5a1.7,1.7 0 1 0 3.4,0a1.7,1.7 0 1 0 -3.4,0M260.6,77.9a1.7,1.7 0 1 0 3.4,0a1.7,1.7 0 1 0 -3.4,0M261.6,77.1a1.7,1.7 0 1 0 3.4,0a1.7,1.7 0 1 0 -3.4,0M262.6,77.8a1.7,1.7 0 1 0 3.4,0a1.7,1.7 0 1 0 -3.4,0M263.6,80a1.7,1.7 0 1 0 3.4,0a1.7,1.7 0 1 0 -3.4,0M264.6,80a1.7,1.7 0 1 0 3.4,0a1.7,1.7 0 1 0 -3.4,0M265.6,82.5a1.7,1.7 0 1 0 3.4,0a1.7,1.7 0 1 0 -3.4,0M266.6,83.1a1.7,1.7 0 1 0 3.4,0a1.7,1.7 0 1 0 -3.4,0M267.6,82.6a1.7,1.7 0 1 0 3.4,0a1.7,1.7 0 1 0 -3.4,0M268.6,82.8a1.7,1.7 0 1 0 3.4,0a1.7,1.7 0 1 0 -3.4,0M269.6,83.2a1.7,1.7 0 1 0 3.4,0a1.7,1.7 0 1 0 -3.4,0M270.6,83.2a1.7,1.7 0 1 0 3.4,0a1.7,1.7 0 1 0 -3.4,0M271.6,83.8a1.7,1.7 0 1 0 3.4,0a1.7,1.7 0 1 0 -3.4,0M272.6,85.2a1.7,1.7 0 1 0 3.4,0a1.7,1.7 0 1 0 -3.4,0M273.6,84.6a1.7,1.7 0 1 0 3.4,0a1.7,1.7 0 1 0 -3.4,0M274.6,84.6a1.7,1.7 0 1 0 3.4,0a1.7,1.7 0 1 0 -3.4,0M275.6,86.4a1.7,1.7 0 1 0 3.4,0a1.7,1.7 0 1 0 -3.4,0M276.6,85.9a1.7,1.7 0 1 0 3.4,0a1.7,1.7 0 1 0 -3.4,0M277.6,86.8a1.7,1.7 0 1 0 3.4,0a1.7,1.7 0 1 0 -3.4,0M278.6,87a1.7,1.7 0 1 0 3.4,0a1.7,1.7 0 1 0 -3.4,0M279.6,86.6a1.7,1.7 0 1 0 3.4,0a1.7,1.7 0 1 0 -3.4,0M280.6,86.4a1.7,1.7 0 1 0 3.4,0a1.7,1.7 0 1 0 -3.4,0M281.6,86a1.7,1.7 0 1 0 3.4,0a1.7,1.7 0 1 0 -3.4,0M282.6,87.7a1.7,1.7 0 1 0 3.4,0a1.7,1.7 0 1 0 -3.4,0M283.6,87.2a1.7,1.7 0 1 0 3.4,0a1.7,1.7 0 1 0 -3.4,0M284.6,86.5a1.7,1.7 0 1 0 3.4,0a1.7,1.7 0 1 0 -3.4,0M285.6,87.1a1.7,1.7 0 1 0 3.4,0a1.7,1.7 0 1 0 -3.4,0M286.6,87.7a1.7,1.7 0 1 0 3.4,0a1.7,1.7 0 1 0 -3.4,0M287.6,88.5a1.7,1.7 0 1 0 3.4,0a1.7,1.7 0 1 0 -3.4,0M288.6,88a1.7,1.7 0 1 0 3.4,0a1.7,1.7 0 1 0 -3.4,0M289.6,88.9a1.7,1.7 0 1 0 3.4,0a1.7,1.7 0 1 0 -3.4,0M290.6,88.4a1.7,1.7 0 1 0 3.4,0a1.7,1.7 0 1 0 -3.4,0M291.6,88.6a1.7,1.7 0 1 0 3.4,0a1.7,1.7 0 1 0 -3.4,0M292.6,89.2a1.7,1.7 0 1 0 3.4,0a1.7,1.7 0 1 0 -3.4,0M293.6,88.7a1.7,1.7 0 1 0 3.4,0a1.7,1.7 0 1 0 -3.4,0M294.6,89.6a1.7,1.7 0 1 0 3.4,0a1.7,1.7 0 1 0 -3.4,0M295.6,89.6a1.7,1.7 0 1 0 3.4,0a1.7,1.7 0 1 0 -3.4,0M296.6,89.1a1.7,1.7 0 1 0 3.4,0a1.7,1.7 0 1 0 -3.4,0M297.6,90.3a1.7,1.7 0 1 0 3.4,0a1.7,1.7 0 1 0 -3.4,0M298.6,90.5a1.7,1.7 0 1 0 3.4,0a1.7,1.7 0 1 0 -3.4,0M299.6,89.9a1.7,1.7 0 1 0 3.4,0a1.7,1.7 0 1 0 -3.4,0M300.6,90.3a1.7,1.7 0 1 0 3.4,0a1.7,1.7 0 1 0 -3.4,0M301.6,89.6a1.7,1.7 0 1 0 3.4,0a1.7,1.7 0 1 0 -3.4,0M302.6,90.8a1.7,1.7 0 1 0 3.4,0a1.7,1.7 0 1 0 -3.4,0M303.6,90.7a1.7,1.7 0 1 0 3.4,0a1.7,1.7 0 1 0 -3.4,0M304.6,91.4a1.7,1.7 0 1 0 3.4,0a1.7,1.7 0 1 0 -3.4,0M305.6,90.7a1.7,1.7 0 1 0 3.4,0a1.7,1.7 0 1 0 -3.4,0M306.6,91.1a1.7,1.7 0 1 0 3.4,0a1.7,1.7 0 1 0 -3.4,0M307.6,90.9a1.7,1.7 0 1 0 3.4,0a1.7,1.7 0 1 0 -3.4,0M308.6,90.5a1.7,1.7 0 1 0 3.4,0a1.7,1.7 0 1 0 -3.4,0M309.6,91.9a1.7,1.7 0 1 0 3.4,0a1.7,1.7 0 1 0 -3.4,0M310.6,90.3a1.7,1.7 0 1 0 3.4,0a1.7,1.7 0 1 0 -3.4,0M311.6,90.9a1.7,1.7 0 1 0 3.4,0a1.7,1.7 0 1 0 -3.4,0M312.6,90.8a1.7,1.7 0 1 0 3.4,0a1.7,1.7 0 1 0 -3.4,0M313.6,91.4a1.7,1.7 0 1 0 3.4,0a1.7,1.7 0 1 0 -3.4,0M314.6,91.5a1.7,1.7 0 1 0 3.4,0a1.7,1.7 0 1 0 -3.4,0M315.6,91.9a1.7,1.7 0 1 0 3.4,0a1.7,1.7 0 1 0 -3.4,0M316.6,92a1.7,1.7 0 1 0 3.4,0a1.7,1.7 0 1 0 -3.4,0M317.6,92.5a1.7,1.7 0 1 0 3.4,0a1.7,1.7 0 1 0 -3.4,0M318.6,92.4a1.7,1.7 0 1 0 3.4,0a1.7,1.7 0 1 0 -3.4,0M319.6,92.6a1.7,1.7 0 1 0 3.4,0a1.7,1.7 0 1 0 -3.4,0M320.6,92.6a1.7,1.7 0 1 0 3.4,0a1.7,1.7 0 1 0 -3.4,0M321.6,91.7a1.7,1.7 0 1 0 3.4,0a1.7,1.7 0 1 0 -3.4,0M322.6,92.1a1.7,1.7 0 1 0 3.4,0a1.7,1.7 0 1 0 -3.4,0M323.6,92.5a1.7,1.7 0 1 0 3.4,0a1.7,1.7 0 1 0 -3.4,0M324.6,93.8a1.7,1.7 0 1 0 3.4,0a1.7,1.7 0 1 0 -3.4,0M325.6,93.6a1.7,1.7 0 1 0 3.4,0a1.7,1.7 0 1 0 -3.4,0M326.6,93.3a1.7,1.7 0 1 0 3.4,0a1.7,1.7 0 1 0 -3.4,0M327.6,93.3a1.7,1.7 0 1 0 3.4,0a1.7,1.7 0 1 0 -3.4,0M328.6,94.1a1.7,1.7 0 1 0 3.4,0a1.7,1.7 0 1 0 -3.4,0M329.6,94a1.7,1.7 0 1 0 3.4,0a1.7,1.7 0 1 0 -3.4,0M330.6,93.8a1.7,1.7 0 1 0 3.4,0a1.7,1.7 0 1 0 -3.4,0M331.6,95.3a1.7,1.7 0 1 0 3.4,0a1.7,1.7 0 1 0 -3.4,0" fill="#a80d30"/>
<path d="M278.3,74V95.9M288.3,81.7V96.2M309.7,84.7V94.9M325.9,84.7V94.9" stroke="#a80d30" stroke-width="1.0" fill="none"/>
<path d="M276.6,74a1.7,1.7 0 1 0 3.4,0a1.7,1.7 0 1 0 -3.4,0M286.6,81.7a1.7,1.7 0 1 0 3.4,0a1.7,1.7 0 1 0 -3.4,0M308,84.7a1.7,1.7 0 1 0 3.4,0a1.7,1.7 0 1 0 -3.4,0M324.2,84.7a1.7,1.7 0 1 0 3.4,0a1.7,1.7 0 1 0 -3.4,0" fill="#a80d30"/>
<line x1="233.5" y1="27" x2="233.5" y2="96.8" stroke="#111" stroke-width="1.25"/>
<line x1="230.5" y1="96.2" x2="233.5" y2="96.2" stroke="#111" stroke-width="1.0"/>
<text transform="translate(227.1,99.1) scale(0.77,1)" font-size="8.5" text-anchor="end" stroke="#3a3a3a" stroke-width="0.1">0</text>
<line x1="230.5" y1="82.9" x2="233.5" y2="82.9" stroke="#111" stroke-width="1.0"/>
<text transform="translate(227.1,85.9) scale(0.77,1)" font-size="8.5" text-anchor="end" stroke="#3a3a3a" stroke-width="0.1">20</text>
<line x1="230.5" y1="69.6" x2="233.5" y2="69.6" stroke="#111" stroke-width="1.0"/>
<text transform="translate(227.1,72.6) scale(0.77,1)" font-size="8.5" text-anchor="end" stroke="#3a3a3a" stroke-width="0.1">40</text>
<line x1="230.5" y1="56.4" x2="233.5" y2="56.4" stroke="#111" stroke-width="1.0"/>
<text transform="translate(227.1,59.3) scale(0.77,1)" font-size="8.5" text-anchor="end" stroke="#3a3a3a" stroke-width="0.1">60</text>
<line x1="230.5" y1="43.1" x2="233.5" y2="43.1" stroke="#111" stroke-width="1.0"/>
<text transform="translate(227.1,46) scale(0.77,1)" font-size="8.5" text-anchor="end" stroke="#3a3a3a" stroke-width="0.1">80</text>
<line x1="230.5" y1="29.8" x2="233.5" y2="29.8" stroke="#111" stroke-width="1.0"/>
<text transform="translate(227.1,32.7) scale(0.77,1)" font-size="8.5" text-anchor="end" stroke="#3a3a3a" stroke-width="0.1">100</text>
<line x1="232.8" y1="96.2" x2="336.4" y2="96.2" stroke="#111" stroke-width="1.25"/>
<line x1="233.3" y1="96.2" x2="233.3" y2="99.2" stroke="#111" stroke-width="1.0"/>
<text transform="translate(233.3,108.6) scale(0.8,1)" font-size="8.2" text-anchor="middle" stroke="#3a3a3a" stroke-width="0.1">0</text>
<line x1="253.3" y1="96.2" x2="253.3" y2="99.2" stroke="#111" stroke-width="1.0"/>
<text transform="translate(253.3,108.6) scale(0.8,1)" font-size="8.2" text-anchor="middle" stroke="#3a3a3a" stroke-width="0.1">10</text>
<line x1="273.3" y1="96.2" x2="273.3" y2="99.2" stroke="#111" stroke-width="1.0"/>
<text transform="translate(273.3,108.6) scale(0.8,1)" font-size="8.2" text-anchor="middle" stroke="#3a3a3a" stroke-width="0.1">20</text>
<line x1="293.3" y1="96.2" x2="293.3" y2="99.2" stroke="#111" stroke-width="1.0"/>
<text transform="translate(293.3,108.6) scale(0.8,1)" font-size="8.2" text-anchor="middle" stroke="#3a3a3a" stroke-width="0.1">30</text>
<line x1="313.3" y1="96.2" x2="313.3" y2="99.2" stroke="#111" stroke-width="1.0"/>
<text transform="translate(313.3,108.6) scale(0.8,1)" font-size="8.2" text-anchor="middle" stroke="#3a3a3a" stroke-width="0.1">40</text>
<line x1="333.3" y1="96.2" x2="333.3" y2="99.2" stroke="#111" stroke-width="1.0"/>
<text transform="translate(333.3,108.6) scale(0.8,1)" font-size="8.2" text-anchor="middle" stroke="#3a3a3a" stroke-width="0.1">50</text>
<text transform="translate(283.6,121.1) scale(0.84,1)" font-size="8.8" text-anchor="middle" stroke="#3a3a3a" stroke-width="0.1">Time (min)</text>
<text transform="translate(209.9,61.3) rotate(-90) scale(0.85,1)" font-size="8.8" text-anchor="middle" stroke="#3a3a3a" stroke-width="0.1">Plasmin (nM)</text>
<text transform="translate(247.5,33.5)" font-size="5.8">Added human TAFI (μg/mL)</text>
<line x1="301.3" y1="41.5" x2="308.7" y2="41.5" stroke="#a80d30" stroke-width="1.1"/>
<circle cx="305" cy="41.5" r="1.6" fill="#a80d30"/>
<text transform="translate(311,43.6)" font-size="5.8">0</text>
<line x1="301.3" y1="49.2" x2="308.7" y2="49.2" stroke="#13306e" stroke-width="1.1"/>
<circle cx="305" cy="49.2" r="1.6" fill="#13306e"/>
<text transform="translate(311,51.3)" font-size="5.8">9</text>
<line x1="301.3" y1="57" x2="308.7" y2="57" stroke="#2f4b8a" stroke-width="1.1"/>
<circle cx="305" cy="57" r="1.6" fill="#2f4b8a"/>
<text transform="translate(311,59.1)" font-size="5.8">18</text>
<line x1="301.3" y1="64.8" x2="308.7" y2="64.8" stroke="#6c7ab2" stroke-width="1.1"/>
<circle cx="305" cy="64.8" r="1.6" fill="#6c7ab2"/>
<text transform="translate(311,66.8)" font-size="5.8">36</text>
<line x1="301.3" y1="72.2" x2="308.7" y2="72.2" stroke="#b4bcde" stroke-width="1.1"/>
<circle cx="305" cy="72.2" r="1.6" fill="#b4bcde"/>
<text transform="translate(311,74.3)" font-size="5.8">72</text>
<text transform="translate(354,19)" font-size="12.8" font-weight="bold" fill="#111">C</text>
<text transform="translate(364.6,32.6)" font-size="6.7">kDa</text>
<line x1="363.8" y1="34.4" x2="381.2" y2="34.4" stroke="#222" stroke-width="0.9"/>
<text transform="translate(412.5,32.7) scale(0.98,1)" font-size="9.1" text-anchor="middle" stroke="#3a3a3a" stroke-width="0.1">CD</text>
<line x1="390.8" y1="34.4" x2="431.8" y2="34.4" stroke="#222" stroke-width="1.2"/>
<text transform="translate(457,32.7) scale(0.98,1)" font-size="9.0" text-anchor="middle" stroke="#3a3a3a" stroke-width="0.1">HFD</text>
<line x1="436.3" y1="34.4" x2="477.3" y2="34.4" stroke="#222" stroke-width="1.2"/>
<defs><filter id="bl" x="-50%" y="-50%" width="200%" height="200%"><feGaussianBlur stdDeviation="0.6"/></filter><filter id="bl2" x="-50%" y="-50%" width="200%" height="200%"><feGaussianBlur stdDeviation="0.8"/></filter><linearGradient id="lad" x1="0" y1="0" x2="0" y2="1"><stop offset="0" stop-color="#d4d4d4"/><stop offset="0.47" stop-color="#cccccc"/><stop offset="0.52" stop-color="#555555"/><stop offset="0.66" stop-color="#a8a8a8"/><stop offset="0.72" stop-color="#b4b4b4"/><stop offset="0.84" stop-color="#707070"/><stop offset="0.95" stop-color="#555"/><stop offset="1" stop-color="#aaa"/></linearGradient></defs>
<rect x="379.6" y="35" width="102.9" height="97.5" fill="#e7e7e7"/>
<g filter="url(#bl)"><rect x="380.6" y="35.5" width="7.4" height="96.5" fill="url(#lad)"/><rect x="381.2" y="37.5" width="6.6" height="3.6" rx="1.6" fill="#000"/><rect x="381.2" y="42.3" width="6.6" height="3.6" rx="1.6" fill="#000"/><rect x="381.2" y="54.8" width="6.6" height="4.6" rx="1.6" fill="#000"/><rect x="381.2" y="66.3" width="6.6" height="4.6" rx="1.6" fill="#000"/><rect x="381.2" y="80.3" width="6.6" height="5.8" rx="1.6" fill="#000"/><rect x="381.2" y="100.9" width="6.6" height="3.8" rx="1.6" fill="#000"/><rect x="381.2" y="115.2" width="6.6" height="6.5" rx="1.6" fill="#000"/><rect x="381.2" y="122" width="6" height="6" fill="#333" opacity="0.7"/><rect x="390" y="36" width="6.6" height="96" fill="#e4e4e4"/><rect x="390.2" y="38.4" width="6.2" height="1.3" fill="#cacaca"/><rect x="390.2" y="42.2" width="6.2" height="1.3" fill="#c4c4c4"/><rect x="390.2" y="44.0" width="6.2" height="1.1" fill="#cecece"/><rect x="389.9" y="69.6" width="6.8" height="2.6" fill="#b4b4b4"/><rect x="390" y="76.5" width="6.6" height="5" fill="#d8d8d8"/><rect x="390" y="85" width="6.6" height="5" fill="#dcdcdc"/><rect x="390.3" y="125.4" width="6" height="1.6" fill="#cccccc"/><rect x="398.6" y="36" width="6.6" height="96" fill="#e4e4e4"/><rect x="398.8" y="38.4" width="6.2" height="1.3" fill="#cacaca"/><rect x="398.8" y="42.2" width="6.2" height="1.3" fill="#c4c4c4"/><rect x="398.8" y="44.0" width="6.2" height="1.1" fill="#cecece"/><rect x="398.5" y="69.6" width="6.8" height="2.6" fill="#b4b4b4"/><rect x="398.6" y="76.5" width="6.6" height="5" fill="#d8d8d8"/><rect x="398.6" y="85" width="6.6" height="5" fill="#dcdcdc"/><rect x="398.9" y="125.4" width="6" height="1.6" fill="#cccccc"/><rect x="407.5" y="36" width="6.6" height="96" fill="#e4e4e4"/><rect x="407.7" y="38.4" width="6.2" height="1.3" fill="#cacaca"/><rect x="407.7" y="42.2" width="6.2" height="1.3" fill="#c4c4c4"/><rect x="407.7" y="44.0" width="6.2" height="1.1" fill="#cecece"/><rect x="407.4" y="69.6" width="6.8" height="2.6" fill="#b4b4b4"/><rect x="407.5" y="76.5" width="6.6" height="5" fill="#d8d8d8"/><rect x="407.5" y="85" width="6.6" height="5" fill="#dcdcdc"/><rect x="407.8" y="125.4" width="6" height="1.6" fill="#cccccc"/><rect x="416.2" y="36" width="6.6" height="96" fill="#e4e4e4"/><rect x="416.4" y="38.4" width="6.2" height="1.3" fill="#cacaca"/><rect x="416.4" y="42.2" width="6.2" height="1.3" fill="#c4c4c4"/><rect x="416.4" y="44.0" width="6.2" height="1.1" fill="#cecece"/><rect x="416.1" y="69.6" width="6.8" height="2.6" fill="#b4b4b4"/><rect x="416.2" y="76.5" width="6.6" height="5" fill="#d8d8d8"/><rect x="416.2" y="85" width="6.6" height="5" fill="#dcdcdc"/><rect x="416.5" y="125.4" width="6" height="1.6" fill="#cccccc"/><rect x="425.6" y="36" width="6.6" height="96" fill="#e4e4e4"/><rect x="425.8" y="38.4" width="6.2" height="1.3" fill="#cacaca"/><rect x="425.8" y="42.2" width="6.2" height="1.3" fill="#c4c4c4"/><rect x="425.8" y="44.0" width="6.2" height="1.1" fill="#cecece"/><rect x="425.5" y="69.6" width="6.8" height="2.6" fill="#b4b4b4"/><rect x="425.6" y="76.5" width="6.6" height="5" fill="#d8d8d8"/><rect x="425.6" y="85" width="6.6" height="5" fill="#dcdcdc"/><rect x="425.9" y="125.4" width="6" height="1.6" fill="#cccccc"/><rect x="435.1" y="36" width="6.6" height="96" fill="#e4e4e4"/><rect x="435.3" y="38.4" width="6.2" height="1.3" fill="#cacaca"/><rect x="435.3" y="42.2" width="6.2" height="1.3" fill="#c4c4c4"/><rect x="435.3" y="44.0" width="6.2" height="1.1" fill="#cecece"/><rect x="435" y="69.6" width="6.8" height="2.6" fill="#b4b4b4"/><rect x="435.1" y="76.5" width="6.6" height="5" fill="#d8d8d8"/><rect x="435.1" y="85" width="6.6" height="5" fill="#dcdcdc"/><rect x="435.4" y="125.4" width="6" height="1.6" fill="#cccccc"/><rect x="444.9" y="36" width="6.6" height="96" fill="#e4e4e4"/><rect x="445.1" y="38.4" width="6.2" height="1.3" fill="#cacaca"/><rect x="445.1" y="42.2" width="6.2" height="1.3" fill="#c4c4c4"/><rect x="445.1" y="44.0" width="6.2" height="1.1" fill="#cecece"/><rect x="444.8" y="69.6" width="6.8" height="2.6" fill="#b4b4b4"/><rect x="444.9" y="76.5" width="6.6" height="5" fill="#d8d8d8"/><rect x="444.9" y="85" width="6.6" height="5" fill="#dcdcdc"/><rect x="445.2" y="125.4" width="6" height="1.6" fill="#cccccc"/><rect x="455" y="36" width="6.6" height="96" fill="#e4e4e4"/><rect x="455.2" y="38.4" width="6.2" height="1.3" fill="#cacaca"/><rect x="455.2" y="42.2" width="6.2" height="1.3" fill="#c4c4c4"/><rect x="455.2" y="44.0" width="6.2" height="1.1" fill="#cecece"/><rect x="454.9" y="69.6" width="6.8" height="2.6" fill="#b4b4b4"/><rect x="455" y="76.5" width="6.6" height="5" fill="#d8d8d8"/><rect x="455" y="85" width="6.6" height="5" fill="#dcdcdc"/><rect x="455.3" y="125.4" width="6" height="1.6" fill="#cccccc"/><rect x="464.7" y="36" width="6.6" height="96" fill="#e4e4e4"/><rect x="464.9" y="38.4" width="6.2" height="1.3" fill="#cacaca"/><rect x="464.9" y="42.2" width="6.2" height="1.3" fill="#c4c4c4"/><rect x="464.9" y="44.0" width="6.2" height="1.1" fill="#cecece"/><rect x="464.6" y="69.6" width="6.8" height="2.6" fill="#b4b4b4"/><rect x="464.7" y="76.5" width="6.6" height="5" fill="#d8d8d8"/><rect x="464.7" y="85" width="6.6" height="5" fill="#dcdcdc"/><rect x="465" y="125.4" width="6" height="1.6" fill="#cccccc"/><rect x="474.3" y="36" width="6.6" height="96" fill="#e4e4e4"/><rect x="474.5" y="38.4" width="6.2" height="1.3" fill="#cacaca"/><rect x="474.5" y="42.2" width="6.2" height="1.3" fill="#c4c4c4"/><rect x="474.5" y="44.0" width="6.2" height="1.1" fill="#cecece"/><rect x="474.2" y="69.6" width="6.8" height="2.6" fill="#b4b4b4"/><rect x="474.3" y="76.5" width="6.6" height="5" fill="#d8d8d8"/><rect x="474.3" y="85" width="6.6" height="5" fill="#dcdcdc"/><rect x="474.6" y="125.4" width="6" height="1.6" fill="#cccccc"/></g>
<g filter="url(#bl2)"><rect x="389.7" y="81.0" width="7.2" height="4.2" rx="1.6" fill="#ababab"/><rect x="398.3" y="81.0" width="7.2" height="4.2" rx="1.6" fill="#d4d4d4"/><rect x="407.2" y="81.0" width="7.2" height="4.2" rx="1.6" fill="#8a8a8a"/><rect x="415.9" y="81.0" width="7.2" height="4.2" rx="1.6" fill="#808080"/><rect x="425.3" y="81.0" width="7.2" height="4.2" rx="1.6" fill="#a4a4a4"/><rect x="434.8" y="81.0" width="7.2" height="4.2" rx="1.6" fill="#707070"/><rect x="444.6" y="81.0" width="7.2" height="4.2" rx="1.6" fill="#101010"/><rect x="454.7" y="81.0" width="7.2" height="4.2" rx="1.6" fill="#303030"/><rect x="464.4" y="81.0" width="7.2" height="4.2" rx="1.6" fill="#a8a8a8"/><rect x="474" y="81.0" width="7.2" height="4.2" rx="1.6" fill="#383838"/></g>
<rect x="480.6" y="40.8" width="1.4" height="1.6" fill="#222"/>
<rect x="480.6" y="45" width="1.2" height="1" fill="#555"/>
<text transform="translate(378.9,42.2) scale(0.9,1)" font-size="7.2" text-anchor="end" stroke="#3a3a3a" stroke-width="0.1">170</text>
<text transform="translate(378.9,49.4) scale(0.9,1)" font-size="7.2" text-anchor="end" stroke="#3a3a3a" stroke-width="0.1">130</text>
<text transform="translate(378.9,60.1) scale(0.9,1)" font-size="7.2" text-anchor="end" stroke="#3a3a3a" stroke-width="0.1">100</text>
<text transform="translate(378.9,71.9) scale(0.9,1)" font-size="7.2" text-anchor="end" stroke="#3a3a3a" stroke-width="0.1">70</text>
<text transform="translate(378.9,86.6) scale(0.9,1)" font-size="7.2" text-anchor="end" stroke="#3a3a3a" stroke-width="0.1">55</text>
<text transform="translate(378.9,105.4) scale(0.9,1)" font-size="7.2" text-anchor="end" stroke="#3a3a3a" stroke-width="0.1">37</text>
<text transform="translate(378.9,120.4) scale(0.9,1)" font-size="7.2" text-anchor="end" stroke="#3a3a3a" stroke-width="0.1">25</text>
<path d="M483.2,83.3 L488.8,80.6 L486.8,83.3 L488.8,86 Z" fill="#111"/>
<line x1="486" y1="83.3" x2="490" y2="83.3" stroke="#111" stroke-width="1.1"/>
<text transform="translate(8,160)" font-size="12.8" font-weight="bold" fill="#111">D</text>
<rect x="64.2" y="225.3" width="33.2" height="12.7" fill="#8a96c4"/>
<rect x="115.8" y="202.3" width="33" height="35.7" fill="#d48d82"/>
<line x1="55.2" y1="166.8" x2="55.2" y2="238.6" stroke="#111" stroke-width="1.25"/>
<line x1="52.2" y1="238" x2="55.2" y2="238" stroke="#111" stroke-width="1.0"/>
<text transform="translate(48.5,240.8) scale(0.82,1)" font-size="8.0" text-anchor="end" stroke="#3a3a3a" stroke-width="0.1">0</text>
<line x1="52.2" y1="228.2" x2="55.2" y2="228.2" stroke="#111" stroke-width="1.0"/>
<text transform="translate(48.5,231) scale(0.82,1)" font-size="8.0" text-anchor="end" stroke="#3a3a3a" stroke-width="0.1">1</text>
<line x1="52.2" y1="218.4" x2="55.2" y2="218.4" stroke="#111" stroke-width="1.0"/>
<text transform="translate(48.5,221.2) scale(0.82,1)" font-size="8.0" text-anchor="end" stroke="#3a3a3a" stroke-width="0.1">2</text>
<line x1="52.2" y1="208.6" x2="55.2" y2="208.6" stroke="#111" stroke-width="1.0"/>
<text transform="translate(48.5,211.4) scale(0.82,1)" font-size="8.0" text-anchor="end" stroke="#3a3a3a" stroke-width="0.1">3</text>
<line x1="52.2" y1="198.8" x2="55.2" y2="198.8" stroke="#111" stroke-width="1.0"/>
<text transform="translate(48.5,201.6) scale(0.82,1)" font-size="8.0" text-anchor="end" stroke="#3a3a3a" stroke-width="0.1">4</text>
<line x1="52.2" y1="189.1" x2="55.2" y2="189.1" stroke="#111" stroke-width="1.0"/>
<text transform="translate(48.5,191.8) scale(0.82,1)" font-size="8.0" text-anchor="end" stroke="#3a3a3a" stroke-width="0.1">5</text>
<line x1="52.2" y1="179.3" x2="55.2" y2="179.3" stroke="#111" stroke-width="1.0"/>
<text transform="translate(48.5,182) scale(0.82,1)" font-size="8.0" text-anchor="end" stroke="#3a3a3a" stroke-width="0.1">6</text>
<line x1="52.2" y1="169.5" x2="55.2" y2="169.5" stroke="#111" stroke-width="1.0"/>
<text transform="translate(48.5,172.2) scale(0.82,1)" font-size="8.0" text-anchor="end" stroke="#3a3a3a" stroke-width="0.1">7</text>
<line x1="54.6" y1="238" x2="157.5" y2="238" stroke="#111" stroke-width="1.25"/>
<line x1="80.8" y1="238" x2="80.8" y2="241" stroke="#111" stroke-width="1.0"/>
<line x1="132" y1="238" x2="132" y2="241" stroke="#111" stroke-width="1.0"/>
<text transform="translate(80.8,251.2)" font-size="7.4" text-anchor="middle" stroke="#3a3a3a" stroke-width="0.1">CD</text>
<text transform="translate(132,251.2)" font-size="7.4" text-anchor="middle" stroke="#3a3a3a" stroke-width="0.1">HFD</text>
<text transform="translate(28.5,202.5) rotate(-90) scale(0.84,1)" font-size="9" text-anchor="middle" stroke="#3a3a3a" stroke-width="0.1">Thrombomodulin</text>
<text transform="translate(39.3,202.9) rotate(-90) scale(0.81,1)" font-size="9" text-anchor="middle" stroke="#3a3a3a" stroke-width="0.1">(relative A.U.)</text>
<line x1="82" y1="179.3" x2="131.3" y2="179.3" stroke="#222" stroke-width="1.0"/>
<text transform="translate(106.7,176.6)" font-size="6.2" text-anchor="middle" font-style="italic">P=0.012</text>
<circle cx="76.8" cy="217" r="2.0" fill="#fff" stroke="#2d4a8a" stroke-width="1.2"/>
<circle cx="85" cy="220.8" r="2.0" fill="#fff" stroke="#2d4a8a" stroke-width="1.2"/>
<circle cx="76.8" cy="224.5" r="2.0" fill="#fff" stroke="#2d4a8a" stroke-width="1.2"/>
<circle cx="85" cy="225.8" r="2.0" fill="#fff" stroke="#2d4a8a" stroke-width="1.2"/>
<circle cx="80.8" cy="230.8" r="2.0" fill="#fff" stroke="#2d4a8a" stroke-width="1.2"/>
<circle cx="132" cy="185" r="2.4" fill="#a80d30"/>
<circle cx="127.5" cy="201.8" r="2.4" fill="#a80d30"/>
<circle cx="136.2" cy="200.8" r="2.4" fill="#a80d30"/>
<circle cx="132" cy="207.5" r="2.4" fill="#a80d30"/>
<circle cx="132" cy="221.2" r="2.4" fill="#a80d30"/>
<text transform="translate(191,160.5)" font-size="12.8" font-weight="bold" fill="#111">E</text>
<polyline points="233.1,238.3 234.1,238.3 235,238.3 236,237.6 237,233 237.9,221.7 238.9,205 239.9,195.3 240.8,195.8 241.8,198.4 242.8,202.7 243.7,207.3 244.7,210.4 245.6,214 246.6,217.3 247.6,213.6 248.5,223.3 249.5,225 250.5,218.1 251.4,223.4 252.4,225.7 253.4,225.3 254.3,225.6 255.3,221.6 256.3,227.7 257.2,228.1 258.2,225.7 259.2,226.4 260.1,223.8 261.1,225 262.1,228.7 263,230.1 264,226 264.9,225.3 265.9,232.1 266.9,227.6 267.8,227 268.8,228.7 269.8,231.7 270.7,228.2 271.7,228.8 272.7,232.4 273.6,229.8 274.6,232.6 275.6,233.9 276.5,232.2 277.5,232.4 278.5,232.2 279.4,230.8 280.4,229.8 281.4,229.3 282.3,229.4 283.3,229.4 284.2,230.8 285.2,233.8 286.2,234.7 287.1,232.2 288.1,232.8 289.1,232.2 290,235.7 291,235.2 292,231.2 292.9,233.2 293.9,232.8 294.9,236.2 295.8,234.6 296.8,231.9 297.8,233.4 298.7,231.6 299.7,236 300.6,234.7 301.6,232.9 302.6,234.9 303.5,233.1 304.5,234.3 305.5,236.8 306.4,236.9 307.4,232.3 308.4,236.9 309.3,236.6 310.3,236 311.3,234.1 312.2,233.4 313.2,235.5 314.2,235.5 315.1,234.1 316.1,236.8 317.1,236.4 318,235.3 319,235.2 319.9,238.3 320.9,238.1 321.9,238 322.8,235.2 323.8,235.5 324.8,234.2 325.7,235.3 326.7,237.9 327.7,235.5 328.6,234.6 329.6,237.7" fill="none" stroke="#bdbdbd" stroke-width="1.0" stroke-linejoin="round" stroke-linecap="round"/>
<path d="M231.9,238.3a1.15,1.15 0 1 0 2.3,0a1.15,1.15 0 1 0 -2.3,0M232.9,238.3a1.15,1.15 0 1 0 2.3,0a1.15,1.15 0 1 0 -2.3,0M233.9,238.3a1.15,1.15 0 1 0 2.3,0a1.15,1.15 0 1 0 -2.3,0M234.8,237.6a1.15,1.15 0 1 0 2.3,0a1.15,1.15 0 1 0 -2.3,0M235.8,233a1.15,1.15 0 1 0 2.3,0a1.15,1.15 0 1 0 -2.3,0M236.8,221.7a1.15,1.15 0 1 0 2.3,0a1.15,1.15 0 1 0 -2.3,0M237.7,205a1.15,1.15 0 1 0 2.3,0a1.15,1.15 0 1 0 -2.3,0M238.7,195.3a1.15,1.15 0 1 0 2.3,0a1.15,1.15 0 1 0 -2.3,0M239.7,195.8a1.15,1.15 0 1 0 2.3,0a1.15,1.15 0 1 0 -2.3,0M240.6,198.4a1.15,1.15 0 1 0 2.3,0a1.15,1.15 0 1 0 -2.3,0M241.6,202.7a1.15,1.15 0 1 0 2.3,0a1.15,1.15 0 1 0 -2.3,0M242.6,207.3a1.15,1.15 0 1 0 2.3,0a1.15,1.15 0 1 0 -2.3,0M243.5,210.4a1.15,1.15 0 1 0 2.3,0a1.15,1.15 0 1 0 -2.3,0M244.5,214a1.15,1.15 0 1 0 2.3,0a1.15,1.15 0 1 0 -2.3,0M245.5,217.3a1.15,1.15 0 1 0 2.3,0a1.15,1.15 0 1 0 -2.3,0M246.4,213.6a1.15,1.15 0 1 0 2.3,0a1.15,1.15 0 1 0 -2.3,0M247.4,223.3a1.15,1.15 0 1 0 2.3,0a1.15,1.15 0 1 0 -2.3,0M248.4,225a1.15,1.15 0 1 0 2.3,0a1.15,1.15 0 1 0 -2.3,0M249.3,218.1a1.15,1.15 0 1 0 2.3,0a1.15,1.15 0 1 0 -2.3,0M250.3,223.4a1.15,1.15 0 1 0 2.3,0a1.15,1.15 0 1 0 -2.3,0M251.2,225.7a1.15,1.15 0 1 0 2.3,0a1.15,1.15 0 1 0 -2.3,0M252.2,225.3a1.15,1.15 0 1 0 2.3,0a1.15,1.15 0 1 0 -2.3,0M253.2,225.6a1.15,1.15 0 1 0 2.3,0a1.15,1.15 0 1 0 -2.3,0M254.1,221.6a1.15,1.15 0 1 0 2.3,0a1.15,1.15 0 1 0 -2.3,0M255.1,227.7a1.15,1.15 0 1 0 2.3,0a1.15,1.15 0 1 0 -2.3,0M256.1,228.1a1.15,1.15 0 1 0 2.3,0a1.15,1.15 0 1 0 -2.3,0M257,225.7a1.15,1.15 0 1 0 2.3,0a1.15,1.15 0 1 0 -2.3,0M258,226.4a1.15,1.15 0 1 0 2.3,0a1.15,1.15 0 1 0 -2.3,0M259,223.8a1.15,1.15 0 1 0 2.3,0a1.15,1.15 0 1 0 -2.3,0M259.9,225a1.15,1.15 0 1 0 2.3,0a1.15,1.15 0 1 0 -2.3,0M260.9,228.7a1.15,1.15 0 1 0 2.3,0a1.15,1.15 0 1 0 -2.3,0M261.9,230.1a1.15,1.15 0 1 0 2.3,0a1.15,1.15 0 1 0 -2.3,0M262.8,226a1.15,1.15 0 1 0 2.3,0a1.15,1.15 0 1 0 -2.3,0M263.8,225.3a1.15,1.15 0 1 0 2.3,0a1.15,1.15 0 1 0 -2.3,0M264.8,232.1a1.15,1.15 0 1 0 2.3,0a1.15,1.15 0 1 0 -2.3,0M265.7,227.6a1.15,1.15 0 1 0 2.3,0a1.15,1.15 0 1 0 -2.3,0M266.7,227a1.15,1.15 0 1 0 2.3,0a1.15,1.15 0 1 0 -2.3,0M267.7,228.7a1.15,1.15 0 1 0 2.3,0a1.15,1.15 0 1 0 -2.3,0M268.6,231.7a1.15,1.15 0 1 0 2.3,0a1.15,1.15 0 1 0 -2.3,0M269.6,228.2a1.15,1.15 0 1 0 2.3,0a1.15,1.15 0 1 0 -2.3,0M270.6,228.8a1.15,1.15 0 1 0 2.3,0a1.15,1.15 0 1 0 -2.3,0M271.5,232.4a1.15,1.15 0 1 0 2.3,0a1.15,1.15 0 1 0 -2.3,0M272.5,229.8a1.15,1.15 0 1 0 2.3,0a1.15,1.15 0 1 0 -2.3,0M273.4,232.6a1.15,1.15 0 1 0 2.3,0a1.15,1.15 0 1 0 -2.3,0M274.4,233.9a1.15,1.15 0 1 0 2.3,0a1.15,1.15 0 1 0 -2.3,0M275.4,232.2a1.15,1.15 0 1 0 2.3,0a1.15,1.15 0 1 0 -2.3,0M276.3,232.4a1.15,1.15 0 1 0 2.3,0a1.15,1.15 0 1 0 -2.3,0M277.3,232.2a1.15,1.15 0 1 0 2.3,0a1.15,1.15 0 1 0 -2.3,0M278.3,230.8a1.15,1.15 0 1 0 2.3,0a1.15,1.15 0 1 0 -2.3,0M279.2,229.8a1.15,1.15 0 1 0 2.3,0a1.15,1.15 0 1 0 -2.3,0M280.2,229.3a1.15,1.15 0 1 0 2.3,0a1.15,1.15 0 1 0 -2.3,0M281.2,229.4a1.15,1.15 0 1 0 2.3,0a1.15,1.15 0 1 0 -2.3,0M282.1,229.4a1.15,1.15 0 1 0 2.3,0a1.15,1.15 0 1 0 -2.3,0M283.1,230.8a1.15,1.15 0 1 0 2.3,0a1.15,1.15 0 1 0 -2.3,0M284.1,233.8a1.15,1.15 0 1 0 2.3,0a1.15,1.15 0 1 0 -2.3,0M285,234.7a1.15,1.15 0 1 0 2.3,0a1.15,1.15 0 1 0 -2.3,0M286,232.2a1.15,1.15 0 1 0 2.3,0a1.15,1.15 0 1 0 -2.3,0M287,232.8a1.15,1.15 0 1 0 2.3,0a1.15,1.15 0 1 0 -2.3,0M287.9,232.2a1.15,1.15 0 1 0 2.3,0a1.15,1.15 0 1 0 -2.3,0M288.9,235.7a1.15,1.15 0 1 0 2.3,0a1.15,1.15 0 1 0 -2.3,0M289.9,235.2a1.15,1.15 0 1 0 2.3,0a1.15,1.15 0 1 0 -2.3,0M290.8,231.2a1.15,1.15 0 1 0 2.3,0a1.15,1.15 0 1 0 -2.3,0M291.8,233.2a1.15,1.15 0 1 0 2.3,0a1.15,1.15 0 1 0 -2.3,0M292.7,232.8a1.15,1.15 0 1 0 2.3,0a1.15,1.15 0 1 0 -2.3,0M293.7,236.2a1.15,1.15 0 1 0 2.3,0a1.15,1.15 0 1 0 -2.3,0M294.7,234.6a1.15,1.15 0 1 0 2.3,0a1.15,1.15 0 1 0 -2.3,0M295.6,231.9a1.15,1.15 0 1 0 2.3,0a1.15,1.15 0 1 0 -2.3,0M296.6,233.4a1.15,1.15 0 1 0 2.3,0a1.15,1.15 0 1 0 -2.3,0M297.6,231.6a1.15,1.15 0 1 0 2.3,0a1.15,1.15 0 1 0 -2.3,0M298.5,236a1.15,1.15 0 1 0 2.3,0a1.15,1.15 0 1 0 -2.3,0M299.5,234.7a1.15,1.15 0 1 0 2.3,0a1.15,1.15 0 1 0 -2.3,0M300.5,232.9a1.15,1.15 0 1 0 2.3,0a1.15,1.15 0 1 0 -2.3,0M301.4,234.9a1.15,1.15 0 1 0 2.3,0a1.15,1.15 0 1 0 -2.3,0M302.4,233.1a1.15,1.15 0 1 0 2.3,0a1.15,1.15 0 1 0 -2.3,0M303.4,234.3a1.15,1.15 0 1 0 2.3,0a1.15,1.15 0 1 0 -2.3,0M304.3,236.8a1.15,1.15 0 1 0 2.3,0a1.15,1.15 0 1 0 -2.3,0M305.3,236.9a1.15,1.15 0 1 0 2.3,0a1.15,1.15 0 1 0 -2.3,0M306.3,232.3a1.15,1.15 0 1 0 2.3,0a1.15,1.15 0 1 0 -2.3,0M307.2,236.9a1.15,1.15 0 1 0 2.3,0a1.15,1.15 0 1 0 -2.3,0M308.2,236.6a1.15,1.15 0 1 0 2.3,0a1.15,1.15 0 1 0 -2.3,0M309.2,236a1.15,1.15 0 1 0 2.3,0a1.15,1.15 0 1 0 -2.3,0M310.1,234.1a1.15,1.15 0 1 0 2.3,0a1.15,1.15 0 1 0 -2.3,0M311.1,233.4a1.15,1.15 0 1 0 2.3,0a1.15,1.15 0 1 0 -2.3,0M312,235.5a1.15,1.15 0 1 0 2.3,0a1.15,1.15 0 1 0 -2.3,0M313,235.5a1.15,1.15 0 1 0 2.3,0a1.15,1.15 0 1 0 -2.3,0M314,234.1a1.15,1.15 0 1 0 2.3,0a1.15,1.15 0 1 0 -2.3,0M314.9,236.8a1.15,1.15 0 1 0 2.3,0a1.15,1.15 0 1 0 -2.3,0M315.9,236.4a1.15,1.15 0 1 0 2.3,0a1.15,1.15 0 1 0 -2.3,0M316.9,235.3a1.15,1.15 0 1 0 2.3,0a1.15,1.15 0 1 0 -2.3,0M317.8,235.2a1.15,1.15 0 1 0 2.3,0a1.15,1.15 0 1 0 -2.3,0M318.8,238.3a1.15,1.15 0 1 0 2.3,0a1.15,1.15 0 1 0 -2.3,0M319.8,238.1a1.15,1.15 0 1 0 2.3,0a1.15,1.15 0 1 0 -2.3,0M320.7,238a1.15,1.15 0 1 0 2.3,0a1.15,1.15 0 1 0 -2.3,0M321.7,235.2a1.15,1.15 0 1 0 2.3,0a1.15,1.15 0 1 0 -2.3,0M322.7,235.5a1.15,1.15 0 1 0 2.3,0a1.15,1.15 0 1 0 -2.3,0M323.6,234.2a1.15,1.15 0 1 0 2.3,0a1.15,1.15 0 1 0 -2.3,0M324.6,235.3a1.15,1.15 0 1 0 2.3,0a1.15,1.15 0 1 0 -2.3,0M325.6,237.9a1.15,1.15 0 1 0 2.3,0a1.15,1.15 0 1 0 -2.3,0M326.5,235.5a1.15,1.15 0 1 0 2.3,0a1.15,1.15 0 1 0 -2.3,0M327.5,234.6a1.15,1.15 0 1 0 2.3,0a1.15,1.15 0 1 0 -2.3,0M328.5,237.7a1.15,1.15 0 1 0 2.3,0a1.15,1.15 0 1 0 -2.3,0" fill="#bdbdbd"/>
<path d="M280.4,225.4V234.9M294.9,233.4V238.3M300.6,229.1V238M303.5,228.6V235.3" stroke="#bdbdbd" stroke-width="0.7" fill="none"/>
<path d="M279.4,225.4a1.0,1.0 0 1 0 2,0a1.0,1.0 0 1 0 -2,0M293.9,233.4a1.0,1.0 0 1 0 2,0a1.0,1.0 0 1 0 -2,0M299.6,229.1a1.0,1.0 0 1 0 2,0a1.0,1.0 0 1 0 -2,0M302.5,228.6a1.0,1.0 0 1 0 2,0a1.0,1.0 0 1 0 -2,0" fill="#bdbdbd"/>
<polyline points="233.1,238.3 234.1,238.3 235,238.3 236,237.5 237,232.7 237.9,220.9 238.9,205.3 239.9,195.9 240.8,194.3 241.8,198.9 242.8,202.1 243.7,206 244.7,210.7 245.6,214.6 246.6,214 247.6,221.7 248.5,224.1 249.5,218.8 250.5,218.9 251.4,219.8 252.4,219.6 253.4,226.3 254.3,227.8 255.3,228 256.3,221.9 257.2,228.8 258.2,228.9 259.2,230.2 260.1,230.3 261.1,230.7 262.1,228.7 263,230.4 264,229.7 264.9,225.7 265.9,231.2 266.9,227.1 267.8,227.9 268.8,229.2 269.8,229.4 270.7,228.3 271.7,229.7 272.7,232.2 273.6,231.7 274.6,232.5 275.6,231.6 276.5,228.2 277.5,231.8 278.5,234.2 279.4,231.9 280.4,230 281.4,232.4 282.3,231 283.3,234.8 284.2,235.1 285.2,231.7 286.2,235.4 287.1,234.1 288.1,233.7 289.1,235 290,236 291,236.3 292,231.1 292.9,232.7 293.9,231.3 294.9,234 295.8,231.5 296.8,232.2 297.8,233.6 298.7,234.2 299.7,234.3 300.6,235.9 301.6,235.2 302.6,233.4 303.5,236.3 304.5,232.8 305.5,234.7 306.4,234.2 307.4,233.1 308.4,234.2 309.3,236.9 310.3,236.4 311.3,237.8 312.2,237.7 313.2,233 314.2,235 315.1,233.1 316.1,234.2 317.1,236.7 318,233.5 319,233.8 319.9,236.2 320.9,238.2 321.9,237.1 322.8,238 323.8,237.1 324.8,238.3 325.7,235.6 326.7,234.4 327.7,238.2 328.6,235.6 329.6,236.6" fill="none" stroke="#b4bcde" stroke-width="1.0" stroke-linejoin="round" stroke-linecap="round"/>
<path d="M231.9,238.3a1.15,1.15 0 1 0 2.3,0a1.15,1.15 0 1 0 -2.3,0M232.9,238.3a1.15,1.15 0 1 0 2.3,0a1.15,1.15 0 1 0 -2.3,0M233.9,238.3a1.15,1.15 0 1 0 2.3,0a1.15,1.15 0 1 0 -2.3,0M234.8,237.5a1.15,1.15 0 1 0 2.3,0a1.15,1.15 0 1 0 -2.3,0M235.8,232.7a1.15,1.15 0 1 0 2.3,0a1.15,1.15 0 1 0 -2.3,0M236.8,220.9a1.15,1.15 0 1 0 2.3,0a1.15,1.15 0 1 0 -2.3,0M237.7,205.3a1.15,1.15 0 1 0 2.3,0a1.15,1.15 0 1 0 -2.3,0M238.7,195.9a1.15,1.15 0 1 0 2.3,0a1.15,1.15 0 1 0 -2.3,0M239.7,194.3a1.15,1.15 0 1 0 2.3,0a1.15,1.15 0 1 0 -2.3,0M240.6,198.9a1.15,1.15 0 1 0 2.3,0a1.15,1.15 0 1 0 -2.3,0M241.6,202.1a1.15,1.15 0 1 0 2.3,0a1.15,1.15 0 1 0 -2.3,0M242.6,206a1.15,1.15 0 1 0 2.3,0a1.15,1.15 0 1 0 -2.3,0M243.5,210.7a1.15,1.15 0 1 0 2.3,0a1.15,1.15 0 1 0 -2.3,0M244.5,214.6a1.15,1.15 0 1 0 2.3,0a1.15,1.15 0 1 0 -2.3,0M245.5,214a1.15,1.15 0 1 0 2.3,0a1.15,1.15 0 1 0 -2.3,0M246.4,221.7a1.15,1.15 0 1 0 2.3,0a1.15,1.15 0 1 0 -2.3,0M247.4,224.1a1.15,1.15 0 1 0 2.3,0a1.15,1.15 0 1 0 -2.3,0M248.4,218.8a1.15,1.15 0 1 0 2.3,0a1.15,1.15 0 1 0 -2.3,0M249.3,218.9a1.15,1.15 0 1 0 2.3,0a1.15,1.15 0 1 0 -2.3,0M250.3,219.8a1.15,1.15 0 1 0 2.3,0a1.15,1.15 0 1 0 -2.3,0M251.2,219.6a1.15,1.15 0 1 0 2.3,0a1.15,1.15 0 1 0 -2.3,0M252.2,226.3a1.15,1.15 0 1 0 2.3,0a1.15,1.15 0 1 0 -2.3,0M253.2,227.8a1.15,1.15 0 1 0 2.3,0a1.15,1.15 0 1 0 -2.3,0M254.1,228a1.15,1.15 0 1 0 2.3,0a1.15,1.15 0 1 0 -2.3,0M255.1,221.9a1.15,1.15 0 1 0 2.3,0a1.15,1.15 0 1 0 -2.3,0M256.1,228.8a1.15,1.15 0 1 0 2.3,0a1.15,1.15 0 1 0 -2.3,0M257,228.9a1.15,1.15 0 1 0 2.3,0a1.15,1.15 0 1 0 -2.3,0M258,230.2a1.15,1.15 0 1 0 2.3,0a1.15,1.15 0 1 0 -2.3,0M259,230.3a1.15,1.15 0 1 0 2.3,0a1.15,1.15 0 1 0 -2.3,0M259.9,230.7a1.15,1.15 0 1 0 2.3,0a1.15,1.15 0 1 0 -2.3,0M260.9,228.7a1.15,1.15 0 1 0 2.3,0a1.15,1.15 0 1 0 -2.3,0M261.9,230.4a1.15,1.15 0 1 0 2.3,0a1.15,1.15 0 1 0 -2.3,0M262.8,229.7a1.15,1.15 0 1 0 2.3,0a1.15,1.15 0 1 0 -2.3,0M263.8,225.7a1.15,1.15 0 1 0 2.3,0a1.15,1.15 0 1 0 -2.3,0M264.8,231.2a1.15,1.15 0 1 0 2.3,0a1.15,1.15 0 1 0 -2.3,0M265.7,227.1a1.15,1.15 0 1 0 2.3,0a1.15,1.15 0 1 0 -2.3,0M266.7,227.9a1.15,1.15 0 1 0 2.3,0a1.15,1.15 0 1 0 -2.3,0M267.7,229.2a1.15,1.15 0 1 0 2.3,0a1.15,1.15 0 1 0 -2.3,0M268.6,229.4a1.15,1.15 0 1 0 2.3,0a1.15,1.15 0 1 0 -2.3,0M269.6,228.3a1.15,1.15 0 1 0 2.3,0a1.15,1.15 0 1 0 -2.3,0M270.6,229.7a1.15,1.15 0 1 0 2.3,0a1.15,1.15 0 1 0 -2.3,0M271.5,232.2a1.15,1.15 0 1 0 2.3,0a1.15,1.15 0 1 0 -2.3,0M272.5,231.7a1.15,1.15 0 1 0 2.3,0a1.15,1.15 0 1 0 -2.3,0M273.4,232.5a1.15,1.15 0 1 0 2.3,0a1.15,1.15 0 1 0 -2.3,0M274.4,231.6a1.15,1.15 0 1 0 2.3,0a1.15,1.15 0 1 0 -2.3,0M275.4,228.2a1.15,1.15 0 1 0 2.3,0a1.15,1.15 0 1 0 -2.3,0M276.3,231.8a1.15,1.15 0 1 0 2.3,0a1.15,1.15 0 1 0 -2.3,0M277.3,234.2a1.15,1.15 0 1 0 2.3,0a1.15,1.15 0 1 0 -2.3,0M278.3,231.9a1.15,1.15 0 1 0 2.3,0a1.15,1.15 0 1 0 -2.3,0M279.2,230a1.15,1.15 0 1 0 2.3,0a1.15,1.15 0 1 0 -2.3,0M280.2,232.4a1.15,1.15 0 1 0 2.3,0a1.15,1.15 0 1 0 -2.3,0M281.2,231a1.15,1.15 0 1 0 2.3,0a1.15,1.15 0 1 0 -2.3,0M282.1,234.8a1.15,1.15 0 1 0 2.3,0a1.15,1.15 0 1 0 -2.3,0M283.1,235.1a1.15,1.15 0 1 0 2.3,0a1.15,1.15 0 1 0 -2.3,0M284.1,231.7a1.15,1.15 0 1 0 2.3,0a1.15,1.15 0 1 0 -2.3,0M285,235.4a1.15,1.15 0 1 0 2.3,0a1.15,1.15 0 1 0 -2.3,0M286,234.1a1.15,1.15 0 1 0 2.3,0a1.15,1.15 0 1 0 -2.3,0M287,233.7a1.15,1.15 0 1 0 2.3,0a1.15,1.15 0 1 0 -2.3,0M287.9,235a1.15,1.15 0 1 0 2.3,0a1.15,1.15 0 1 0 -2.3,0M288.9,236a1.15,1.15 0 1 0 2.3,0a1.15,1.15 0 1 0 -2.3,0M289.9,236.3a1.15,1.15 0 1 0 2.3,0a1.15,1.15 0 1 0 -2.3,0M290.8,231.1a1.15,1.15 0 1 0 2.3,0a1.15,1.15 0 1 0 -2.3,0M291.8,232.7a1.15,1.15 0 1 0 2.3,0a1.15,1.15 0 1 0 -2.3,0M292.7,231.3a1.15,1.15 0 1 0 2.3,0a1.15,1.15 0 1 0 -2.3,0M293.7,234a1.15,1.15 0 1 0 2.3,0a1.15,1.15 0 1 0 -2.3,0M294.7,231.5a1.15,1.15 0 1 0 2.3,0a1.15,1.15 0 1 0 -2.3,0M295.6,232.2a1.15,1.15 0 1 0 2.3,0a1.15,1.15 0 1 0 -2.3,0M296.6,233.6a1.15,1.15 0 1 0 2.3,0a1.15,1.15 0 1 0 -2.3,0M297.6,234.2a1.15,1.15 0 1 0 2.3,0a1.15,1.15 0 1 0 -2.3,0M298.5,234.3a1.15,1.15 0 1 0 2.3,0a1.15,1.15 0 1 0 -2.3,0M299.5,235.9a1.15,1.15 0 1 0 2.3,0a1.15,1.15 0 1 0 -2.3,0M300.5,235.2a1.15,1.15 0 1 0 2.3,0a1.15,1.15 0 1 0 -2.3,0M301.4,233.4a1.15,1.15 0 1 0 2.3,0a1.15,1.15 0 1 0 -2.3,0M302.4,236.3a1.15,1.15 0 1 0 2.3,0a1.15,1.15 0 1 0 -2.3,0M303.4,232.8a1.15,1.15 0 1 0 2.3,0a1.15,1.15 0 1 0 -2.3,0M304.3,234.7a1.15,1.15 0 1 0 2.3,0a1.15,1.15 0 1 0 -2.3,0M305.3,234.2a1.15,1.15 0 1 0 2.3,0a1.15,1.15 0 1 0 -2.3,0M306.3,233.1a1.15,1.15 0 1 0 2.3,0a1.15,1.15 0 1 0 -2.3,0M307.2,234.2a1.15,1.15 0 1 0 2.3,0a1.15,1.15 0 1 0 -2.3,0M308.2,236.9a1.15,1.15 0 1 0 2.3,0a1.15,1.15 0 1 0 -2.3,0M309.2,236.4a1.15,1.15 0 1 0 2.3,0a1.15,1.15 0 1 0 -2.3,0M310.1,237.8a1.15,1.15 0 1 0 2.3,0a1.15,1.15 0 1 0 -2.3,0M311.1,237.7a1.15,1.15 0 1 0 2.3,0a1.15,1.15 0 1 0 -2.3,0M312,233a1.15,1.15 0 1 0 2.3,0a1.15,1.15 0 1 0 -2.3,0M313,235a1.15,1.15 0 1 0 2.3,0a1.15,1.15 0 1 0 -2.3,0M314,233.1a1.15,1.15 0 1 0 2.3,0a1.15,1.15 0 1 0 -2.3,0M314.9,234.2a1.15,1.15 0 1 0 2.3,0a1.15,1.15 0 1 0 -2.3,0M315.9,236.7a1.15,1.15 0 1 0 2.3,0a1.15,1.15 0 1 0 -2.3,0M316.9,233.5a1.15,1.15 0 1 0 2.3,0a1.15,1.15 0 1 0 -2.3,0M317.8,233.8a1.15,1.15 0 1 0 2.3,0a1.15,1.15 0 1 0 -2.3,0M318.8,236.2a1.15,1.15 0 1 0 2.3,0a1.15,1.15 0 1 0 -2.3,0M319.8,238.2a1.15,1.15 0 1 0 2.3,0a1.15,1.15 0 1 0 -2.3,0M320.7,237.1a1.15,1.15 0 1 0 2.3,0a1.15,1.15 0 1 0 -2.3,0M321.7,238a1.15,1.15 0 1 0 2.3,0a1.15,1.15 0 1 0 -2.3,0M322.7,237.1a1.15,1.15 0 1 0 2.3,0a1.15,1.15 0 1 0 -2.3,0M323.6,238.3a1.15,1.15 0 1 0 2.3,0a1.15,1.15 0 1 0 -2.3,0M324.6,235.6a1.15,1.15 0 1 0 2.3,0a1.15,1.15 0 1 0 -2.3,0M325.6,234.4a1.15,1.15 0 1 0 2.3,0a1.15,1.15 0 1 0 -2.3,0M326.5,238.2a1.15,1.15 0 1 0 2.3,0a1.15,1.15 0 1 0 -2.3,0M327.5,235.6a1.15,1.15 0 1 0 2.3,0a1.15,1.15 0 1 0 -2.3,0M328.5,236.6a1.15,1.15 0 1 0 2.3,0a1.15,1.15 0 1 0 -2.3,0" fill="#b4bcde"/>
<path d="M253.4,221.8V229.1M314.2,229.6V238.3M328.6,232V238" stroke="#b4bcde" stroke-width="0.7" fill="none"/>
<path d="M252.4,221.8a1.0,1.0 0 1 0 2,0a1.0,1.0 0 1 0 -2,0M313.2,229.6a1.0,1.0 0 1 0 2,0a1.0,1.0 0 1 0 -2,0M327.6,232a1.0,1.0 0 1 0 2,0a1.0,1.0 0 1 0 -2,0" fill="#b4bcde"/>
<polyline points="233.1,238.3 234.1,238.2 235,238.1 236,237.9 237,232.6 237.9,220.7 238.9,203.8 239.9,196.6 240.8,194.7 241.8,198.7 242.8,203 243.7,205.8 244.7,210.4 245.6,214 246.6,212.1 247.6,217 248.5,221.5 249.5,222.5 250.5,221.8 251.4,226.3 252.4,222.4 253.4,222 254.3,225.1 255.3,222.4 256.3,222.3 257.2,225.5 258.2,225 259.2,229.5 260.1,230.2 261.1,224 262.1,229.2 263,230 264,225.6 264.9,226.9 265.9,231.5 266.9,230.4 267.8,231.1 268.8,231.2 269.8,233.1 270.7,229.9 271.7,231.5 272.7,231.2 273.6,232.7 274.6,233.3 275.6,233.9 276.5,228.9 277.5,229.8 278.5,231.2 279.4,234 280.4,234 281.4,234.3 282.3,233.3 283.3,235 284.2,233.8 285.2,234.4 286.2,234.6 287.1,232.1 288.1,233.3 289.1,233.4 290,234.2 291,233.3 292,232 292.9,234.8 293.9,236.2 294.9,234.1 295.8,234.7 296.8,232.6 297.8,236.4 298.7,232.3 299.7,237 300.6,234.2 301.6,234.8 302.6,235.6 303.5,232.5 304.5,233.6 305.5,236.5 306.4,234.8 307.4,234.3 308.4,237.4 309.3,237.2 310.3,234.6 311.3,234 312.2,235.5 313.2,235.8 314.2,235.4 315.1,236.8 316.1,233.7 317.1,233.4 318,235.9 319,238.3 319.9,236.5 320.9,234.6 321.9,237.1 322.8,238.3 323.8,238 324.8,235.5 325.7,236 326.7,237.8 327.7,236.2 328.6,235.7 329.6,234.8" fill="none" stroke="#6c7ab2" stroke-width="1.0" stroke-linejoin="round" stroke-linecap="round"/>
<path d="M231.9,238.3a1.15,1.15 0 1 0 2.3,0a1.15,1.15 0 1 0 -2.3,0M232.9,238.2a1.15,1.15 0 1 0 2.3,0a1.15,1.15 0 1 0 -2.3,0M233.9,238.1a1.15,1.15 0 1 0 2.3,0a1.15,1.15 0 1 0 -2.3,0M234.8,237.9a1.15,1.15 0 1 0 2.3,0a1.15,1.15 0 1 0 -2.3,0M235.8,232.6a1.15,1.15 0 1 0 2.3,0a1.15,1.15 0 1 0 -2.3,0M236.8,220.7a1.15,1.15 0 1 0 2.3,0a1.15,1.15 0 1 0 -2.3,0M237.7,203.8a1.15,1.15 0 1 0 2.3,0a1.15,1.15 0 1 0 -2.3,0M238.7,196.6a1.15,1.15 0 1 0 2.3,0a1.15,1.15 0 1 0 -2.3,0M239.7,194.7a1.15,1.15 0 1 0 2.3,0a1.15,1.15 0 1 0 -2.3,0M240.6,198.7a1.15,1.15 0 1 0 2.3,0a1.15,1.15 0 1 0 -2.3,0M241.6,203a1.15,1.15 0 1 0 2.3,0a1.15,1.15 0 1 0 -2.3,0M242.6,205.8a1.15,1.15 0 1 0 2.3,0a1.15,1.15 0 1 0 -2.3,0M243.5,210.4a1.15,1.15 0 1 0 2.3,0a1.15,1.15 0 1 0 -2.3,0M244.5,214a1.15,1.15 0 1 0 2.3,0a1.15,1.15 0 1 0 -2.3,0M245.5,212.1a1.15,1.15 0 1 0 2.3,0a1.15,1.15 0 1 0 -2.3,0M246.4,217a1.15,1.15 0 1 0 2.3,0a1.15,1.15 0 1 0 -2.3,0M247.4,221.5a1.15,1.15 0 1 0 2.3,0a1.15,1.15 0 1 0 -2.3,0M248.4,222.5a1.15,1.15 0 1 0 2.3,0a1.15,1.15 0 1 0 -2.3,0M249.3,221.8a1.15,1.15 0 1 0 2.3,0a1.15,1.15 0 1 0 -2.3,0M250.3,226.3a1.15,1.15 0 1 0 2.3,0a1.15,1.15 0 1 0 -2.3,0M251.2,222.4a1.15,1.15 0 1 0 2.3,0a1.15,1.15 0 1 0 -2.3,0M252.2,222a1.15,1.15 0 1 0 2.3,0a1.15,1.15 0 1 0 -2.3,0M253.2,225.1a1.15,1.15 0 1 0 2.3,0a1.15,1.15 0 1 0 -2.3,0M254.1,222.4a1.15,1.15 0 1 0 2.3,0a1.15,1.15 0 1 0 -2.3,0M255.1,222.3a1.15,1.15 0 1 0 2.3,0a1.15,1.15 0 1 0 -2.3,0M256.1,225.5a1.15,1.15 0 1 0 2.3,0a1.15,1.15 0 1 0 -2.3,0M257,225a1.15,1.15 0 1 0 2.3,0a1.15,1.15 0 1 0 -2.3,0M258,229.5a1.15,1.15 0 1 0 2.3,0a1.15,1.15 0 1 0 -2.3,0M259,230.2a1.15,1.15 0 1 0 2.3,0a1.15,1.15 0 1 0 -2.3,0M259.9,224a1.15,1.15 0 1 0 2.3,0a1.15,1.15 0 1 0 -2.3,0M260.9,229.2a1.15,1.15 0 1 0 2.3,0a1.15,1.15 0 1 0 -2.3,0M261.9,230a1.15,1.15 0 1 0 2.3,0a1.15,1.15 0 1 0 -2.3,0M262.8,225.6a1.15,1.15 0 1 0 2.3,0a1.15,1.15 0 1 0 -2.3,0M263.8,226.9a1.15,1.15 0 1 0 2.3,0a1.15,1.15 0 1 0 -2.3,0M264.8,231.5a1.15,1.15 0 1 0 2.3,0a1.15,1.15 0 1 0 -2.3,0M265.7,230.4a1.15,1.15 0 1 0 2.3,0a1.15,1.15 0 1 0 -2.3,0M266.7,231.1a1.15,1.15 0 1 0 2.3,0a1.15,1.15 0 1 0 -2.3,0M267.7,231.2a1.15,1.15 0 1 0 2.3,0a1.15,1.15 0 1 0 -2.3,0M268.6,233.1a1.15,1.15 0 1 0 2.3,0a1.15,1.15 0 1 0 -2.3,0M269.6,229.9a1.15,1.15 0 1 0 2.3,0a1.15,1.15 0 1 0 -2.3,0M270.6,231.5a1.15,1.15 0 1 0 2.3,0a1.15,1.15 0 1 0 -2.3,0M271.5,231.2a1.15,1.15 0 1 0 2.3,0a1.15,1.15 0 1 0 -2.3,0M272.5,232.7a1.15,1.15 0 1 0 2.3,0a1.15,1.15 0 1 0 -2.3,0M273.4,233.3a1.15,1.15 0 1 0 2.3,0a1.15,1.15 0 1 0 -2.3,0M274.4,233.9a1.15,1.15 0 1 0 2.3,0a1.15,1.15 0 1 0 -2.3,0M275.4,228.9a1.15,1.15 0 1 0 2.3,0a1.15,1.15 0 1 0 -2.3,0M276.3,229.8a1.15,1.15 0 1 0 2.3,0a1.15,1.15 0 1 0 -2.3,0M277.3,231.2a1.15,1.15 0 1 0 2.3,0a1.15,1.15 0 1 0 -2.3,0M278.3,234a1.15,1.15 0 1 0 2.3,0a1.15,1.15 0 1 0 -2.3,0M279.2,234a1.15,1.15 0 1 0 2.3,0a1.15,1.15 0 1 0 -2.3,0M280.2,234.3a1.15,1.15 0 1 0 2.3,0a1.15,1.15 0 1 0 -2.3,0M281.2,233.3a1.15,1.15 0 1 0 2.3,0a1.15,1.15 0 1 0 -2.3,0M282.1,235a1.15,1.15 0 1 0 2.3,0a1.15,1.15 0 1 0 -2.3,0M283.1,233.8a1.15,1.15 0 1 0 2.3,0a1.15,1.15 0 1 0 -2.3,0M284.1,234.4a1.15,1.15 0 1 0 2.3,0a1.15,1.15 0 1 0 -2.3,0M285,234.6a1.15,1.15 0 1 0 2.3,0a1.15,1.15 0 1 0 -2.3,0M286,232.1a1.15,1.15 0 1 0 2.3,0a1.15,1.15 0 1 0 -2.3,0M287,233.3a1.15,1.15 0 1 0 2.3,0a1.15,1.15 0 1 0 -2.3,0M287.9,233.4a1.15,1.15 0 1 0 2.3,0a1.15,1.15 0 1 0 -2.3,0M288.9,234.2a1.15,1.15 0 1 0 2.3,0a1.15,1.15 0 1 0 -2.3,0M289.9,233.3a1.15,1.15 0 1 0 2.3,0a1.15,1.15 0 1 0 -2.3,0M290.8,232a1.15,1.15 0 1 0 2.3,0a1.15,1.15 0 1 0 -2.3,0M291.8,234.8a1.15,1.15 0 1 0 2.3,0a1.15,1.15 0 1 0 -2.3,0M292.7,236.2a1.15,1.15 0 1 0 2.3,0a1.15,1.15 0 1 0 -2.3,0M293.7,234.1a1.15,1.15 0 1 0 2.3,0a1.15,1.15 0 1 0 -2.3,0M294.7,234.7a1.15,1.15 0 1 0 2.3,0a1.15,1.15 0 1 0 -2.3,0M295.6,232.6a1.15,1.15 0 1 0 2.3,0a1.15,1.15 0 1 0 -2.3,0M296.6,236.4a1.15,1.15 0 1 0 2.3,0a1.15,1.15 0 1 0 -2.3,0M297.6,232.3a1.15,1.15 0 1 0 2.3,0a1.15,1.15 0 1 0 -2.3,0M298.5,237a1.15,1.15 0 1 0 2.3,0a1.15,1.15 0 1 0 -2.3,0M299.5,234.2a1.15,1.15 0 1 0 2.3,0a1.15,1.15 0 1 0 -2.3,0M300.5,234.8a1.15,1.15 0 1 0 2.3,0a1.15,1.15 0 1 0 -2.3,0M301.4,235.6a1.15,1.15 0 1 0 2.3,0a1.15,1.15 0 1 0 -2.3,0M302.4,232.5a1.15,1.15 0 1 0 2.3,0a1.15,1.15 0 1 0 -2.3,0M303.4,233.6a1.15,1.15 0 1 0 2.3,0a1.15,1.15 0 1 0 -2.3,0M304.3,236.5a1.15,1.15 0 1 0 2.3,0a1.15,1.15 0 1 0 -2.3,0M305.3,234.8a1.15,1.15 0 1 0 2.3,0a1.15,1.15 0 1 0 -2.3,0M306.3,234.3a1.15,1.15 0 1 0 2.3,0a1.15,1.15 0 1 0 -2.3,0M307.2,237.4a1.15,1.15 0 1 0 2.3,0a1.15,1.15 0 1 0 -2.3,0M308.2,237.2a1.15,1.15 0 1 0 2.3,0a1.15,1.15 0 1 0 -2.3,0M309.2,234.6a1.15,1.15 0 1 0 2.3,0a1.15,1.15 0 1 0 -2.3,0M310.1,234a1.15,1.15 0 1 0 2.3,0a1.15,1.15 0 1 0 -2.3,0M311.1,235.5a1.15,1.15 0 1 0 2.3,0a1.15,1.15 0 1 0 -2.3,0M312,235.8a1.15,1.15 0 1 0 2.3,0a1.15,1.15 0 1 0 -2.3,0M313,235.4a1.15,1.15 0 1 0 2.3,0a1.15,1.15 0 1 0 -2.3,0M314,236.8a1.15,1.15 0 1 0 2.3,0a1.15,1.15 0 1 0 -2.3,0M314.9,233.7a1.15,1.15 0 1 0 2.3,0a1.15,1.15 0 1 0 -2.3,0M315.9,233.4a1.15,1.15 0 1 0 2.3,0a1.15,1.15 0 1 0 -2.3,0M316.9,235.9a1.15,1.15 0 1 0 2.3,0a1.15,1.15 0 1 0 -2.3,0M317.8,238.3a1.15,1.15 0 1 0 2.3,0a1.15,1.15 0 1 0 -2.3,0M318.8,236.5a1.15,1.15 0 1 0 2.3,0a1.15,1.15 0 1 0 -2.3,0M319.8,234.6a1.15,1.15 0 1 0 2.3,0a1.15,1.15 0 1 0 -2.3,0M320.7,237.1a1.15,1.15 0 1 0 2.3,0a1.15,1.15 0 1 0 -2.3,0M321.7,238.3a1.15,1.15 0 1 0 2.3,0a1.15,1.15 0 1 0 -2.3,0M322.7,238a1.15,1.15 0 1 0 2.3,0a1.15,1.15 0 1 0 -2.3,0M323.6,235.5a1.15,1.15 0 1 0 2.3,0a1.15,1.15 0 1 0 -2.3,0M324.6,236a1.15,1.15 0 1 0 2.3,0a1.15,1.15 0 1 0 -2.3,0M325.6,237.8a1.15,1.15 0 1 0 2.3,0a1.15,1.15 0 1 0 -2.3,0M326.5,236.2a1.15,1.15 0 1 0 2.3,0a1.15,1.15 0 1 0 -2.3,0M327.5,235.7a1.15,1.15 0 1 0 2.3,0a1.15,1.15 0 1 0 -2.3,0M328.5,234.8a1.15,1.15 0 1 0 2.3,0a1.15,1.15 0 1 0 -2.3,0" fill="#6c7ab2"/>
<path d="M288.1,227.8V236.5M297.8,233.5V238.3M329.6,229.1V238.3" stroke="#6c7ab2" stroke-width="0.7" fill="none"/>
<path d="M287.1,227.8a1.0,1.0 0 1 0 2,0a1.0,1.0 0 1 0 -2,0M296.8,233.5a1.0,1.0 0 1 0 2,0a1.0,1.0 0 1 0 -2,0M328.6,229.1a1.0,1.0 0 1 0 2,0a1.0,1.0 0 1 0 -2,0" fill="#6c7ab2"/>
<polyline points="233.1,238.3 234.1,238.2 235,238.1 236,237.5 237,232.4 237.9,221.4 238.9,203.7 239.9,196.1 240.8,195.5 241.8,199.8 242.8,203 243.7,207.3 244.7,210.8 245.6,213.7 246.6,213.8 247.6,215.9 248.5,223.4 249.5,224.7 250.5,223.8 251.4,222.1 252.4,220.5 253.4,221.5 254.3,221.1 255.3,224.4 256.3,224.5 257.2,227.5 258.2,227.7 259.2,228.8 260.1,226.8 261.1,226.6 262.1,227.2 263,228.8 264,228.9 264.9,230.4 265.9,226.8 266.9,228.6 267.8,227.8 268.8,227.6 269.8,231.3 270.7,232.6 271.7,231.7 272.7,227.9 273.6,228.8 274.6,231.4 275.6,229.3 276.5,232.2 277.5,229.1 278.5,234 279.4,230.2 280.4,229 281.4,232.5 282.3,232.4 283.3,234.5 284.2,233.8 285.2,234.2 286.2,234 287.1,235.4 288.1,234.2 289.1,235.5 290,233.2 291,234 292,235.1 292.9,231.3 293.9,234.9 294.9,233.8 295.8,231.9 296.8,232.7 297.8,231.7 298.7,233.7 299.7,232.4 300.6,236.8 301.6,233.2 302.6,235.4 303.5,235.6 304.5,233.2 305.5,233.4 306.4,235.6 307.4,235.6 308.4,236.1 309.3,232.7 310.3,234.5 311.3,236.4 312.2,235.1 313.2,237.7 314.2,236.6 315.1,235.5 316.1,233.2 317.1,233.9 318,235.6 319,234.6 319.9,237.3 320.9,235.1 321.9,233.7 322.8,238 323.8,234.3 324.8,234.1 325.7,237.3 326.7,235.2 327.7,234.4 328.6,238.3 329.6,237.2" fill="none" stroke="#5a6eab" stroke-width="1.1" stroke-linejoin="round" stroke-linecap="round"/>
<path d="M231.9,238.3a1.15,1.15 0 1 0 2.3,0a1.15,1.15 0 1 0 -2.3,0M232.9,238.2a1.15,1.15 0 1 0 2.3,0a1.15,1.15 0 1 0 -2.3,0M233.9,238.1a1.15,1.15 0 1 0 2.3,0a1.15,1.15 0 1 0 -2.3,0M234.8,237.5a1.15,1.15 0 1 0 2.3,0a1.15,1.15 0 1 0 -2.3,0M235.8,232.4a1.15,1.15 0 1 0 2.3,0a1.15,1.15 0 1 0 -2.3,0M236.8,221.4a1.15,1.15 0 1 0 2.3,0a1.15,1.15 0 1 0 -2.3,0M237.7,203.7a1.15,1.15 0 1 0 2.3,0a1.15,1.15 0 1 0 -2.3,0M238.7,196.1a1.15,1.15 0 1 0 2.3,0a1.15,1.15 0 1 0 -2.3,0M239.7,195.5a1.15,1.15 0 1 0 2.3,0a1.15,1.15 0 1 0 -2.3,0M240.6,199.8a1.15,1.15 0 1 0 2.3,0a1.15,1.15 0 1 0 -2.3,0M241.6,203a1.15,1.15 0 1 0 2.3,0a1.15,1.15 0 1 0 -2.3,0M242.6,207.3a1.15,1.15 0 1 0 2.3,0a1.15,1.15 0 1 0 -2.3,0M243.5,210.8a1.15,1.15 0 1 0 2.3,0a1.15,1.15 0 1 0 -2.3,0M244.5,213.7a1.15,1.15 0 1 0 2.3,0a1.15,1.15 0 1 0 -2.3,0M245.5,213.8a1.15,1.15 0 1 0 2.3,0a1.15,1.15 0 1 0 -2.3,0M246.4,215.9a1.15,1.15 0 1 0 2.3,0a1.15,1.15 0 1 0 -2.3,0M247.4,223.4a1.15,1.15 0 1 0 2.3,0a1.15,1.15 0 1 0 -2.3,0M248.4,224.7a1.15,1.15 0 1 0 2.3,0a1.15,1.15 0 1 0 -2.3,0M249.3,223.8a1.15,1.15 0 1 0 2.3,0a1.15,1.15 0 1 0 -2.3,0M250.3,222.1a1.15,1.15 0 1 0 2.3,0a1.15,1.15 0 1 0 -2.3,0M251.2,220.5a1.15,1.15 0 1 0 2.3,0a1.15,1.15 0 1 0 -2.3,0M252.2,221.5a1.15,1.15 0 1 0 2.3,0a1.15,1.15 0 1 0 -2.3,0M253.2,221.1a1.15,1.15 0 1 0 2.3,0a1.15,1.15 0 1 0 -2.3,0M254.1,224.4a1.15,1.15 0 1 0 2.3,0a1.15,1.15 0 1 0 -2.3,0M255.1,224.5a1.15,1.15 0 1 0 2.3,0a1.15,1.15 0 1 0 -2.3,0M256.1,227.5a1.15,1.15 0 1 0 2.3,0a1.15,1.15 0 1 0 -2.3,0M257,227.7a1.15,1.15 0 1 0 2.3,0a1.15,1.15 0 1 0 -2.3,0M258,228.8a1.15,1.15 0 1 0 2.3,0a1.15,1.15 0 1 0 -2.3,0M259,226.8a1.15,1.15 0 1 0 2.3,0a1.15,1.15 0 1 0 -2.3,0M259.9,226.6a1.15,1.15 0 1 0 2.3,0a1.15,1.15 0 1 0 -2.3,0M260.9,227.2a1.15,1.15 0 1 0 2.3,0a1.15,1.15 0 1 0 -2.3,0M261.9,228.8a1.15,1.15 0 1 0 2.3,0a1.15,1.15 0 1 0 -2.3,0M262.8,228.9a1.15,1.15 0 1 0 2.3,0a1.15,1.15 0 1 0 -2.3,0M263.8,230.4a1.15,1.15 0 1 0 2.3,0a1.15,1.15 0 1 0 -2.3,0M264.8,226.8a1.15,1.15 0 1 0 2.3,0a1.15,1.15 0 1 0 -2.3,0M265.7,228.6a1.15,1.15 0 1 0 2.3,0a1.15,1.15 0 1 0 -2.3,0M266.7,227.8a1.15,1.15 0 1 0 2.3,0a1.15,1.15 0 1 0 -2.3,0M267.7,227.6a1.15,1.15 0 1 0 2.3,0a1.15,1.15 0 1 0 -2.3,0M268.6,231.3a1.15,1.15 0 1 0 2.3,0a1.15,1.15 0 1 0 -2.3,0M269.6,232.6a1.15,1.15 0 1 0 2.3,0a1.15,1.15 0 1 0 -2.3,0M270.6,231.7a1.15,1.15 0 1 0 2.3,0a1.15,1.15 0 1 0 -2.3,0M271.5,227.9a1.15,1.15 0 1 0 2.3,0a1.15,1.15 0 1 0 -2.3,0M272.5,228.8a1.15,1.15 0 1 0 2.3,0a1.15,1.15 0 1 0 -2.3,0M273.4,231.4a1.15,1.15 0 1 0 2.3,0a1.15,1.15 0 1 0 -2.3,0M274.4,229.3a1.15,1.15 0 1 0 2.3,0a1.15,1.15 0 1 0 -2.3,0M275.4,232.2a1.15,1.15 0 1 0 2.3,0a1.15,1.15 0 1 0 -2.3,0M276.3,229.1a1.15,1.15 0 1 0 2.3,0a1.15,1.15 0 1 0 -2.3,0M277.3,234a1.15,1.15 0 1 0 2.3,0a1.15,1.15 0 1 0 -2.3,0M278.3,230.2a1.15,1.15 0 1 0 2.3,0a1.15,1.15 0 1 0 -2.3,0M279.2,229a1.15,1.15 0 1 0 2.3,0a1.15,1.15 0 1 0 -2.3,0M280.2,232.5a1.15,1.15 0 1 0 2.3,0a1.15,1.15 0 1 0 -2.3,0M281.2,232.4a1.15,1.15 0 1 0 2.3,0a1.15,1.15 0 1 0 -2.3,0M282.1,234.5a1.15,1.15 0 1 0 2.3,0a1.15,1.15 0 1 0 -2.3,0M283.1,233.8a1.15,1.15 0 1 0 2.3,0a1.15,1.15 0 1 0 -2.3,0M284.1,234.2a1.15,1.15 0 1 0 2.3,0a1.15,1.15 0 1 0 -2.3,0M285,234a1.15,1.15 0 1 0 2.3,0a1.15,1.15 0 1 0 -2.3,0M286,235.4a1.15,1.15 0 1 0 2.3,0a1.15,1.15 0 1 0 -2.3,0M287,234.2a1.15,1.15 0 1 0 2.3,0a1.15,1.15 0 1 0 -2.3,0M287.9,235.5a1.15,1.15 0 1 0 2.3,0a1.15,1.15 0 1 0 -2.3,0M288.9,233.2a1.15,1.15 0 1 0 2.3,0a1.15,1.15 0 1 0 -2.3,0M289.9,234a1.15,1.15 0 1 0 2.3,0a1.15,1.15 0 1 0 -2.3,0M290.8,235.1a1.15,1.15 0 1 0 2.3,0a1.15,1.15 0 1 0 -2.3,0M291.8,231.3a1.15,1.15 0 1 0 2.3,0a1.15,1.15 0 1 0 -2.3,0M292.7,234.9a1.15,1.15 0 1 0 2.3,0a1.15,1.15 0 1 0 -2.3,0M293.7,233.8a1.15,1.15 0 1 0 2.3,0a1.15,1.15 0 1 0 -2.3,0M294.7,231.9a1.15,1.15 0 1 0 2.3,0a1.15,1.15 0 1 0 -2.3,0M295.6,232.7a1.15,1.15 0 1 0 2.3,0a1.15,1.15 0 1 0 -2.3,0M296.6,231.7a1.15,1.15 0 1 0 2.3,0a1.15,1.15 0 1 0 -2.3,0M297.6,233.7a1.15,1.15 0 1 0 2.3,0a1.15,1.15 0 1 0 -2.3,0M298.5,232.4a1.15,1.15 0 1 0 2.3,0a1.15,1.15 0 1 0 -2.3,0M299.5,236.8a1.15,1.15 0 1 0 2.3,0a1.15,1.15 0 1 0 -2.3,0M300.5,233.2a1.15,1.15 0 1 0 2.3,0a1.15,1.15 0 1 0 -2.3,0M301.4,235.4a1.15,1.15 0 1 0 2.3,0a1.15,1.15 0 1 0 -2.3,0M302.4,235.6a1.15,1.15 0 1 0 2.3,0a1.15,1.15 0 1 0 -2.3,0M303.4,233.2a1.15,1.15 0 1 0 2.3,0a1.15,1.15 0 1 0 -2.3,0M304.3,233.4a1.15,1.15 0 1 0 2.3,0a1.15,1.15 0 1 0 -2.3,0M305.3,235.6a1.15,1.15 0 1 0 2.3,0a1.15,1.15 0 1 0 -2.3,0M306.3,235.6a1.15,1.15 0 1 0 2.3,0a1.15,1.15 0 1 0 -2.3,0M307.2,236.1a1.15,1.15 0 1 0 2.3,0a1.15,1.15 0 1 0 -2.3,0M308.2,232.7a1.15,1.15 0 1 0 2.3,0a1.15,1.15 0 1 0 -2.3,0M309.2,234.5a1.15,1.15 0 1 0 2.3,0a1.15,1.15 0 1 0 -2.3,0M310.1,236.4a1.15,1.15 0 1 0 2.3,0a1.15,1.15 0 1 0 -2.3,0M311.1,235.1a1.15,1.15 0 1 0 2.3,0a1.15,1.15 0 1 0 -2.3,0M312,237.7a1.15,1.15 0 1 0 2.3,0a1.15,1.15 0 1 0 -2.3,0M313,236.6a1.15,1.15 0 1 0 2.3,0a1.15,1.15 0 1 0 -2.3,0M314,235.5a1.15,1.15 0 1 0 2.3,0a1.15,1.15 0 1 0 -2.3,0M314.9,233.2a1.15,1.15 0 1 0 2.3,0a1.15,1.15 0 1 0 -2.3,0M315.9,233.9a1.15,1.15 0 1 0 2.3,0a1.15,1.15 0 1 0 -2.3,0M316.9,235.6a1.15,1.15 0 1 0 2.3,0a1.15,1.15 0 1 0 -2.3,0M317.8,234.6a1.15,1.15 0 1 0 2.3,0a1.15,1.15 0 1 0 -2.3,0M318.8,237.3a1.15,1.15 0 1 0 2.3,0a1.15,1.15 0 1 0 -2.3,0M319.8,235.1a1.15,1.15 0 1 0 2.3,0a1.15,1.15 0 1 0 -2.3,0M320.7,233.7a1.15,1.15 0 1 0 2.3,0a1.15,1.15 0 1 0 -2.3,0M321.7,238a1.15,1.15 0 1 0 2.3,0a1.15,1.15 0 1 0 -2.3,0M322.7,234.3a1.15,1.15 0 1 0 2.3,0a1.15,1.15 0 1 0 -2.3,0M323.6,234.1a1.15,1.15 0 1 0 2.3,0a1.15,1.15 0 1 0 -2.3,0M324.6,237.3a1.15,1.15 0 1 0 2.3,0a1.15,1.15 0 1 0 -2.3,0M325.6,235.2a1.15,1.15 0 1 0 2.3,0a1.15,1.15 0 1 0 -2.3,0M326.5,234.4a1.15,1.15 0 1 0 2.3,0a1.15,1.15 0 1 0 -2.3,0M327.5,238.3a1.15,1.15 0 1 0 2.3,0a1.15,1.15 0 1 0 -2.3,0M328.5,237.2a1.15,1.15 0 1 0 2.3,0a1.15,1.15 0 1 0 -2.3,0" fill="#5a6eab"/>
<path d="M259.2,222.9V232.8M272.7,221.7V230.3M287.1,225.6V238.3M290,222.9V235.6M302.6,231.1V238.3M309.3,224.4V235.9" stroke="#5a6eab" stroke-width="0.7" fill="none"/>
<path d="M258.2,222.9a1.0,1.0 0 1 0 2,0a1.0,1.0 0 1 0 -2,0M271.7,221.7a1.0,1.0 0 1 0 2,0a1.0,1.0 0 1 0 -2,0M286.1,225.6a1.0,1.0 0 1 0 2,0a1.0,1.0 0 1 0 -2,0M289,222.9a1.0,1.0 0 1 0 2,0a1.0,1.0 0 1 0 -2,0M301.6,231.1a1.0,1.0 0 1 0 2,0a1.0,1.0 0 1 0 -2,0M308.3,224.4a1.0,1.0 0 1 0 2,0a1.0,1.0 0 1 0 -2,0" fill="#5a6eab"/>
<polyline points="233.1,238.3 234.1,238.1 235,238.1 236,237.5 237,232.9 237.9,220.6 238.9,204.4 239.9,195.3 240.8,194.5 241.8,198 242.8,203.4 243.7,206.9 244.7,210.1 245.6,213.7 246.6,214 247.6,219.5 248.5,215.6 249.5,225.1 250.5,219.9 251.4,223.6 252.4,227.1 253.4,222.5 254.3,228 255.3,227.1 256.3,226.8 257.2,228.5 258.2,228.8 259.2,229.8 260.1,224.6 261.1,230.3 262.1,230.1 263,231 264,225.5 264.9,228.3 265.9,226.7 266.9,226 267.8,229.5 268.8,230.4 269.8,230.6 270.7,231.6 271.7,229.7 272.7,227.5 273.6,230.6 274.6,229.2 275.6,228.6 276.5,229.2 277.5,230.3 278.5,231.2 279.4,234.2 280.4,232.6 281.4,229.9 282.3,232.5 283.3,231.3 284.2,233.9 285.2,232.2 286.2,234.4 287.1,231.3 288.1,231.3 289.1,236 290,232.4 291,235.8 292,231.1 292.9,235.5 293.9,235.9 294.9,231.8 295.8,233.4 296.8,236.8 297.8,234.4 298.7,232.5 299.7,236.2 300.6,233.1 301.6,235.6 302.6,234.9 303.5,235.2 304.5,237.1 305.5,235.3 306.4,234.7 307.4,234.2 308.4,234.7 309.3,236.8 310.3,234.5 311.3,236.3 312.2,233.2 313.2,237.4 314.2,234 315.1,237.7 316.1,235.3 317.1,236.5 318,236 319,235 319.9,234.5 320.9,238.3 321.9,234.3 322.8,235.6 323.8,238.3 324.8,235.6 325.7,235.1 326.7,237.3 327.7,235 328.6,238.3 329.6,237.2" fill="none" stroke="#2f4b8a" stroke-width="1.1" stroke-linejoin="round" stroke-linecap="round"/>
<path d="M231.9,238.3a1.15,1.15 0 1 0 2.3,0a1.15,1.15 0 1 0 -2.3,0M232.9,238.1a1.15,1.15 0 1 0 2.3,0a1.15,1.15 0 1 0 -2.3,0M233.9,238.1a1.15,1.15 0 1 0 2.3,0a1.15,1.15 0 1 0 -2.3,0M234.8,237.5a1.15,1.15 0 1 0 2.3,0a1.15,1.15 0 1 0 -2.3,0M235.8,232.9a1.15,1.15 0 1 0 2.3,0a1.15,1.15 0 1 0 -2.3,0M236.8,220.6a1.15,1.15 0 1 0 2.3,0a1.15,1.15 0 1 0 -2.3,0M237.7,204.4a1.15,1.15 0 1 0 2.3,0a1.15,1.15 0 1 0 -2.3,0M238.7,195.3a1.15,1.15 0 1 0 2.3,0a1.15,1.15 0 1 0 -2.3,0M239.7,194.5a1.15,1.15 0 1 0 2.3,0a1.15,1.15 0 1 0 -2.3,0M240.6,198a1.15,1.15 0 1 0 2.3,0a1.15,1.15 0 1 0 -2.3,0M241.6,203.4a1.15,1.15 0 1 0 2.3,0a1.15,1.15 0 1 0 -2.3,0M242.6,206.9a1.15,1.15 0 1 0 2.3,0a1.15,1.15 0 1 0 -2.3,0M243.5,210.1a1.15,1.15 0 1 0 2.3,0a1.15,1.15 0 1 0 -2.3,0M244.5,213.7a1.15,1.15 0 1 0 2.3,0a1.15,1.15 0 1 0 -2.3,0M245.5,214a1.15,1.15 0 1 0 2.3,0a1.15,1.15 0 1 0 -2.3,0M246.4,219.5a1.15,1.15 0 1 0 2.3,0a1.15,1.15 0 1 0 -2.3,0M247.4,215.6a1.15,1.15 0 1 0 2.3,0a1.15,1.15 0 1 0 -2.3,0M248.4,225.1a1.15,1.15 0 1 0 2.3,0a1.15,1.15 0 1 0 -2.3,0M249.3,219.9a1.15,1.15 0 1 0 2.3,0a1.15,1.15 0 1 0 -2.3,0M250.3,223.6a1.15,1.15 0 1 0 2.3,0a1.15,1.15 0 1 0 -2.3,0M251.2,227.1a1.15,1.15 0 1 0 2.3,0a1.15,1.15 0 1 0 -2.3,0M252.2,222.5a1.15,1.15 0 1 0 2.3,0a1.15,1.15 0 1 0 -2.3,0M253.2,228a1.15,1.15 0 1 0 2.3,0a1.15,1.15 0 1 0 -2.3,0M254.1,227.1a1.15,1.15 0 1 0 2.3,0a1.15,1.15 0 1 0 -2.3,0M255.1,226.8a1.15,1.15 0 1 0 2.3,0a1.15,1.15 0 1 0 -2.3,0M256.1,228.5a1.15,1.15 0 1 0 2.3,0a1.15,1.15 0 1 0 -2.3,0M257,228.8a1.15,1.15 0 1 0 2.3,0a1.15,1.15 0 1 0 -2.3,0M258,229.8a1.15,1.15 0 1 0 2.3,0a1.15,1.15 0 1 0 -2.3,0M259,224.6a1.15,1.15 0 1 0 2.3,0a1.15,1.15 0 1 0 -2.3,0M259.9,230.3a1.15,1.15 0 1 0 2.3,0a1.15,1.15 0 1 0 -2.3,0M260.9,230.1a1.15,1.15 0 1 0 2.3,0a1.15,1.15 0 1 0 -2.3,0M261.9,231a1.15,1.15 0 1 0 2.3,0a1.15,1.15 0 1 0 -2.3,0M262.8,225.5a1.15,1.15 0 1 0 2.3,0a1.15,1.15 0 1 0 -2.3,0M263.8,228.3a1.15,1.15 0 1 0 2.3,0a1.15,1.15 0 1 0 -2.3,0M264.8,226.7a1.15,1.15 0 1 0 2.3,0a1.15,1.15 0 1 0 -2.3,0M265.7,226a1.15,1.15 0 1 0 2.3,0a1.15,1.15 0 1 0 -2.3,0M266.7,229.5a1.15,1.15 0 1 0 2.3,0a1.15,1.15 0 1 0 -2.3,0M267.7,230.4a1.15,1.15 0 1 0 2.3,0a1.15,1.15 0 1 0 -2.3,0M268.6,230.6a1.15,1.15 0 1 0 2.3,0a1.15,1.15 0 1 0 -2.3,0M269.6,231.6a1.15,1.15 0 1 0 2.3,0a1.15,1.15 0 1 0 -2.3,0M270.6,229.7a1.15,1.15 0 1 0 2.3,0a1.15,1.15 0 1 0 -2.3,0M271.5,227.5a1.15,1.15 0 1 0 2.3,0a1.15,1.15 0 1 0 -2.3,0M272.5,230.6a1.15,1.15 0 1 0 2.3,0a1.15,1.15 0 1 0 -2.3,0M273.4,229.2a1.15,1.15 0 1 0 2.3,0a1.15,1.15 0 1 0 -2.3,0M274.4,228.6a1.15,1.15 0 1 0 2.3,0a1.15,1.15 0 1 0 -2.3,0M275.4,229.2a1.15,1.15 0 1 0 2.3,0a1.15,1.15 0 1 0 -2.3,0M276.3,230.3a1.15,1.15 0 1 0 2.3,0a1.15,1.15 0 1 0 -2.3,0M277.3,231.2a1.15,1.15 0 1 0 2.3,0a1.15,1.15 0 1 0 -2.3,0M278.3,234.2a1.15,1.15 0 1 0 2.3,0a1.15,1.15 0 1 0 -2.3,0M279.2,232.6a1.15,1.15 0 1 0 2.3,0a1.15,1.15 0 1 0 -2.3,0M280.2,229.9a1.15,1.15 0 1 0 2.3,0a1.15,1.15 0 1 0 -2.3,0M281.2,232.5a1.15,1.15 0 1 0 2.3,0a1.15,1.15 0 1 0 -2.3,0M282.1,231.3a1.15,1.15 0 1 0 2.3,0a1.15,1.15 0 1 0 -2.3,0M283.1,233.9a1.15,1.15 0 1 0 2.3,0a1.15,1.15 0 1 0 -2.3,0M284.1,232.2a1.15,1.15 0 1 0 2.3,0a1.15,1.15 0 1 0 -2.3,0M285,234.4a1.15,1.15 0 1 0 2.3,0a1.15,1.15 0 1 0 -2.3,0M286,231.3a1.15,1.15 0 1 0 2.3,0a1.15,1.15 0 1 0 -2.3,0M287,231.3a1.15,1.15 0 1 0 2.3,0a1.15,1.15 0 1 0 -2.3,0M287.9,236a1.15,1.15 0 1 0 2.3,0a1.15,1.15 0 1 0 -2.3,0M288.9,232.4a1.15,1.15 0 1 0 2.3,0a1.15,1.15 0 1 0 -2.3,0M289.9,235.8a1.15,1.15 0 1 0 2.3,0a1.15,1.15 0 1 0 -2.3,0M290.8,231.1a1.15,1.15 0 1 0 2.3,0a1.15,1.15 0 1 0 -2.3,0M291.8,235.5a1.15,1.15 0 1 0 2.3,0a1.15,1.15 0 1 0 -2.3,0M292.7,235.9a1.15,1.15 0 1 0 2.3,0a1.15,1.15 0 1 0 -2.3,0M293.7,231.8a1.15,1.15 0 1 0 2.3,0a1.15,1.15 0 1 0 -2.3,0M294.7,233.4a1.15,1.15 0 1 0 2.3,0a1.15,1.15 0 1 0 -2.3,0M295.6,236.8a1.15,1.15 0 1 0 2.3,0a1.15,1.15 0 1 0 -2.3,0M296.6,234.4a1.15,1.15 0 1 0 2.3,0a1.15,1.15 0 1 0 -2.3,0M297.6,232.5a1.15,1.15 0 1 0 2.3,0a1.15,1.15 0 1 0 -2.3,0M298.5,236.2a1.15,1.15 0 1 0 2.3,0a1.15,1.15 0 1 0 -2.3,0M299.5,233.1a1.15,1.15 0 1 0 2.3,0a1.15,1.15 0 1 0 -2.3,0M300.5,235.6a1.15,1.15 0 1 0 2.3,0a1.15,1.15 0 1 0 -2.3,0M301.4,234.9a1.15,1.15 0 1 0 2.3,0a1.15,1.15 0 1 0 -2.3,0M302.4,235.2a1.15,1.15 0 1 0 2.3,0a1.15,1.15 0 1 0 -2.3,0M303.4,237.1a1.15,1.15 0 1 0 2.3,0a1.15,1.15 0 1 0 -2.3,0M304.3,235.3a1.15,1.15 0 1 0 2.3,0a1.15,1.15 0 1 0 -2.3,0M305.3,234.7a1.15,1.15 0 1 0 2.3,0a1.15,1.15 0 1 0 -2.3,0M306.3,234.2a1.15,1.15 0 1 0 2.3,0a1.15,1.15 0 1 0 -2.3,0M307.2,234.7a1.15,1.15 0 1 0 2.3,0a1.15,1.15 0 1 0 -2.3,0M308.2,236.8a1.15,1.15 0 1 0 2.3,0a1.15,1.15 0 1 0 -2.3,0M309.2,234.5a1.15,1.15 0 1 0 2.3,0a1.15,1.15 0 1 0 -2.3,0M310.1,236.3a1.15,1.15 0 1 0 2.3,0a1.15,1.15 0 1 0 -2.3,0M311.1,233.2a1.15,1.15 0 1 0 2.3,0a1.15,1.15 0 1 0 -2.3,0M312,237.4a1.15,1.15 0 1 0 2.3,0a1.15,1.15 0 1 0 -2.3,0M313,234a1.15,1.15 0 1 0 2.3,0a1.15,1.15 0 1 0 -2.3,0M314,237.7a1.15,1.15 0 1 0 2.3,0a1.15,1.15 0 1 0 -2.3,0M314.9,235.3a1.15,1.15 0 1 0 2.3,0a1.15,1.15 0 1 0 -2.3,0M315.9,236.5a1.15,1.15 0 1 0 2.3,0a1.15,1.15 0 1 0 -2.3,0M316.9,236a1.15,1.15 0 1 0 2.3,0a1.15,1.15 0 1 0 -2.3,0M317.8,235a1.15,1.15 0 1 0 2.3,0a1.15,1.15 0 1 0 -2.3,0M318.8,234.5a1.15,1.15 0 1 0 2.3,0a1.15,1.15 0 1 0 -2.3,0M319.8,238.3a1.15,1.15 0 1 0 2.3,0a1.15,1.15 0 1 0 -2.3,0M320.7,234.3a1.15,1.15 0 1 0 2.3,0a1.15,1.15 0 1 0 -2.3,0M321.7,235.6a1.15,1.15 0 1 0 2.3,0a1.15,1.15 0 1 0 -2.3,0M322.7,238.3a1.15,1.15 0 1 0 2.3,0a1.15,1.15 0 1 0 -2.3,0M323.6,235.6a1.15,1.15 0 1 0 2.3,0a1.15,1.15 0 1 0 -2.3,0M324.6,235.1a1.15,1.15 0 1 0 2.3,0a1.15,1.15 0 1 0 -2.3,0M325.6,237.3a1.15,1.15 0 1 0 2.3,0a1.15,1.15 0 1 0 -2.3,0M326.5,235a1.15,1.15 0 1 0 2.3,0a1.15,1.15 0 1 0 -2.3,0M327.5,238.3a1.15,1.15 0 1 0 2.3,0a1.15,1.15 0 1 0 -2.3,0M328.5,237.2a1.15,1.15 0 1 0 2.3,0a1.15,1.15 0 1 0 -2.3,0" fill="#2f4b8a"/>
<path d="M268.8,227.4V231.9M270.7,226.4V233.9M283.3,226.6V234.9M291,231.6V237.9M294.9,228.2V234.7M316.1,226.1V236.9" stroke="#2f4b8a" stroke-width="0.7" fill="none"/>
<path d="M267.8,227.4a1.0,1.0 0 1 0 2,0a1.0,1.0 0 1 0 -2,0M269.7,226.4a1.0,1.0 0 1 0 2,0a1.0,1.0 0 1 0 -2,0M282.3,226.6a1.0,1.0 0 1 0 2,0a1.0,1.0 0 1 0 -2,0M290,231.6a1.0,1.0 0 1 0 2,0a1.0,1.0 0 1 0 -2,0M293.9,228.2a1.0,1.0 0 1 0 2,0a1.0,1.0 0 1 0 -2,0M315.1,226.1a1.0,1.0 0 1 0 2,0a1.0,1.0 0 1 0 -2,0" fill="#2f4b8a"/>
<polyline points="233.1,238.3 234.1,238 235,238 236,237.5 237,232.4 237.9,220.7 238.9,205.5 239.9,195.6 240.8,195.6 241.8,198.5 242.8,203.1 243.7,206.5 244.7,210.4 245.6,213.8 246.6,213.3 247.6,213.8 248.5,221.1 249.5,218.2 250.5,218.5 251.4,223.4 252.4,226.3 253.4,223.9 254.3,222.4 255.3,224.9 256.3,227.9 257.2,224.4 258.2,227.6 259.2,223.9 260.1,229.4 261.1,226.7 262.1,228.5 263,224.6 264,230.8 264.9,226.1 265.9,229.5 266.9,230 267.8,231.4 268.8,229.7 269.8,227.1 270.7,226.9 271.7,227.5 272.7,229.8 273.6,232.3 274.6,230.8 275.6,230.1 276.5,232.5 277.5,228.4 278.5,234.1 279.4,233.3 280.4,233.7 281.4,234 282.3,234.8 283.3,233.9 284.2,233.2 285.2,230.1 286.2,232.5 287.1,232.2 288.1,234 289.1,235.1 290,233 291,232.2 292,235.9 292.9,232.9 293.9,235.5 294.9,232.9 295.8,234.9 296.8,236.1 297.8,236.2 298.7,232.7 299.7,234.1 300.6,236.7 301.6,232.3 302.6,235.8 303.5,235.8 304.5,237.3 305.5,235.8 306.4,234.5 307.4,232.7 308.4,236 309.3,235 310.3,237.3 311.3,234.2 312.2,236.3 313.2,236 314.2,236.6 315.1,233.9 316.1,233.2 317.1,237.6 318,236.1 319,237.9 319.9,234.8 320.9,234.1 321.9,238.1 322.8,235.4 323.8,237.4 324.8,236.8 325.7,236.3 326.7,237.3 327.7,236.1 328.6,237.8 329.6,237" fill="none" stroke="#13306e" stroke-width="1.1" stroke-linejoin="round" stroke-linecap="round"/>
<path d="M231.9,238.3a1.15,1.15 0 1 0 2.3,0a1.15,1.15 0 1 0 -2.3,0M232.9,238a1.15,1.15 0 1 0 2.3,0a1.15,1.15 0 1 0 -2.3,0M233.9,238a1.15,1.15 0 1 0 2.3,0a1.15,1.15 0 1 0 -2.3,0M234.8,237.5a1.15,1.15 0 1 0 2.3,0a1.15,1.15 0 1 0 -2.3,0M235.8,232.4a1.15,1.15 0 1 0 2.3,0a1.15,1.15 0 1 0 -2.3,0M236.8,220.7a1.15,1.15 0 1 0 2.3,0a1.15,1.15 0 1 0 -2.3,0M237.7,205.5a1.15,1.15 0 1 0 2.3,0a1.15,1.15 0 1 0 -2.3,0M238.7,195.6a1.15,1.15 0 1 0 2.3,0a1.15,1.15 0 1 0 -2.3,0M239.7,195.6a1.15,1.15 0 1 0 2.3,0a1.15,1.15 0 1 0 -2.3,0M240.6,198.5a1.15,1.15 0 1 0 2.3,0a1.15,1.15 0 1 0 -2.3,0M241.6,203.1a1.15,1.15 0 1 0 2.3,0a1.15,1.15 0 1 0 -2.3,0M242.6,206.5a1.15,1.15 0 1 0 2.3,0a1.15,1.15 0 1 0 -2.3,0M243.5,210.4a1.15,1.15 0 1 0 2.3,0a1.15,1.15 0 1 0 -2.3,0M244.5,213.8a1.15,1.15 0 1 0 2.3,0a1.15,1.15 0 1 0 -2.3,0M245.5,213.3a1.15,1.15 0 1 0 2.3,0a1.15,1.15 0 1 0 -2.3,0M246.4,213.8a1.15,1.15 0 1 0 2.3,0a1.15,1.15 0 1 0 -2.3,0M247.4,221.1a1.15,1.15 0 1 0 2.3,0a1.15,1.15 0 1 0 -2.3,0M248.4,218.2a1.15,1.15 0 1 0 2.3,0a1.15,1.15 0 1 0 -2.3,0M249.3,218.5a1.15,1.15 0 1 0 2.3,0a1.15,1.15 0 1 0 -2.3,0M250.3,223.4a1.15,1.15 0 1 0 2.3,0a1.15,1.15 0 1 0 -2.3,0M251.2,226.3a1.15,1.15 0 1 0 2.3,0a1.15,1.15 0 1 0 -2.3,0M252.2,223.9a1.15,1.15 0 1 0 2.3,0a1.15,1.15 0 1 0 -2.3,0M253.2,222.4a1.15,1.15 0 1 0 2.3,0a1.15,1.15 0 1 0 -2.3,0M254.1,224.9a1.15,1.15 0 1 0 2.3,0a1.15,1.15 0 1 0 -2.3,0M255.1,227.9a1.15,1.15 0 1 0 2.3,0a1.15,1.15 0 1 0 -2.3,0M256.1,224.4a1.15,1.15 0 1 0 2.3,0a1.15,1.15 0 1 0 -2.3,0M257,227.6a1.15,1.15 0 1 0 2.3,0a1.15,1.15 0 1 0 -2.3,0M258,223.9a1.15,1.15 0 1 0 2.3,0a1.15,1.15 0 1 0 -2.3,0M259,229.4a1.15,1.15 0 1 0 2.3,0a1.15,1.15 0 1 0 -2.3,0M259.9,226.7a1.15,1.15 0 1 0 2.3,0a1.15,1.15 0 1 0 -2.3,0M260.9,228.5a1.15,1.15 0 1 0 2.3,0a1.15,1.15 0 1 0 -2.3,0M261.9,224.6a1.15,1.15 0 1 0 2.3,0a1.15,1.15 0 1 0 -2.3,0M262.8,230.8a1.15,1.15 0 1 0 2.3,0a1.15,1.15 0 1 0 -2.3,0M263.8,226.1a1.15,1.15 0 1 0 2.3,0a1.15,1.15 0 1 0 -2.3,0M264.8,229.5a1.15,1.15 0 1 0 2.3,0a1.15,1.15 0 1 0 -2.3,0M265.7,230a1.15,1.15 0 1 0 2.3,0a1.15,1.15 0 1 0 -2.3,0M266.7,231.4a1.15,1.15 0 1 0 2.3,0a1.15,1.15 0 1 0 -2.3,0M267.7,229.7a1.15,1.15 0 1 0 2.3,0a1.15,1.15 0 1 0 -2.3,0M268.6,227.1a1.15,1.15 0 1 0 2.3,0a1.15,1.15 0 1 0 -2.3,0M269.6,226.9a1.15,1.15 0 1 0 2.3,0a1.15,1.15 0 1 0 -2.3,0M270.6,227.5a1.15,1.15 0 1 0 2.3,0a1.15,1.15 0 1 0 -2.3,0M271.5,229.8a1.15,1.15 0 1 0 2.3,0a1.15,1.15 0 1 0 -2.3,0M272.5,232.3a1.15,1.15 0 1 0 2.3,0a1.15,1.15 0 1 0 -2.3,0M273.4,230.8a1.15,1.15 0 1 0 2.3,0a1.15,1.15 0 1 0 -2.3,0M274.4,230.1a1.15,1.15 0 1 0 2.3,0a1.15,1.15 0 1 0 -2.3,0M275.4,232.5a1.15,1.15 0 1 0 2.3,0a1.15,1.15 0 1 0 -2.3,0M276.3,228.4a1.15,1.15 0 1 0 2.3,0a1.15,1.15 0 1 0 -2.3,0M277.3,234.1a1.15,1.15 0 1 0 2.3,0a1.15,1.15 0 1 0 -2.3,0M278.3,233.3a1.15,1.15 0 1 0 2.3,0a1.15,1.15 0 1 0 -2.3,0M279.2,233.7a1.15,1.15 0 1 0 2.3,0a1.15,1.15 0 1 0 -2.3,0M280.2,234a1.15,1.15 0 1 0 2.3,0a1.15,1.15 0 1 0 -2.3,0M281.2,234.8a1.15,1.15 0 1 0 2.3,0a1.15,1.15 0 1 0 -2.3,0M282.1,233.9a1.15,1.15 0 1 0 2.3,0a1.15,1.15 0 1 0 -2.3,0M283.1,233.2a1.15,1.15 0 1 0 2.3,0a1.15,1.15 0 1 0 -2.3,0M284.1,230.1a1.15,1.15 0 1 0 2.3,0a1.15,1.15 0 1 0 -2.3,0M285,232.5a1.15,1.15 0 1 0 2.3,0a1.15,1.15 0 1 0 -2.3,0M286,232.2a1.15,1.15 0 1 0 2.3,0a1.15,1.15 0 1 0 -2.3,0M287,234a1.15,1.15 0 1 0 2.3,0a1.15,1.15 0 1 0 -2.3,0M287.9,235.1a1.15,1.15 0 1 0 2.3,0a1.15,1.15 0 1 0 -2.3,0M288.9,233a1.15,1.15 0 1 0 2.3,0a1.15,1.15 0 1 0 -2.3,0M289.9,232.2a1.15,1.15 0 1 0 2.3,0a1.15,1.15 0 1 0 -2.3,0M290.8,235.9a1.15,1.15 0 1 0 2.3,0a1.15,1.15 0 1 0 -2.3,0M291.8,232.9a1.15,1.15 0 1 0 2.3,0a1.15,1.15 0 1 0 -2.3,0M292.7,235.5a1.15,1.15 0 1 0 2.3,0a1.15,1.15 0 1 0 -2.3,0M293.7,232.9a1.15,1.15 0 1 0 2.3,0a1.15,1.15 0 1 0 -2.3,0M294.7,234.9a1.15,1.15 0 1 0 2.3,0a1.15,1.15 0 1 0 -2.3,0M295.6,236.1a1.15,1.15 0 1 0 2.3,0a1.15,1.15 0 1 0 -2.3,0M296.6,236.2a1.15,1.15 0 1 0 2.3,0a1.15,1.15 0 1 0 -2.3,0M297.6,232.7a1.15,1.15 0 1 0 2.3,0a1.15,1.15 0 1 0 -2.3,0M298.5,234.1a1.15,1.15 0 1 0 2.3,0a1.15,1.15 0 1 0 -2.3,0M299.5,236.7a1.15,1.15 0 1 0 2.3,0a1.15,1.15 0 1 0 -2.3,0M300.5,232.3a1.15,1.15 0 1 0 2.3,0a1.15,1.15 0 1 0 -2.3,0M301.4,235.8a1.15,1.15 0 1 0 2.3,0a1.15,1.15 0 1 0 -2.3,0M302.4,235.8a1.15,1.15 0 1 0 2.3,0a1.15,1.15 0 1 0 -2.3,0M303.4,237.3a1.15,1.15 0 1 0 2.3,0a1.15,1.15 0 1 0 -2.3,0M304.3,235.8a1.15,1.15 0 1 0 2.3,0a1.15,1.15 0 1 0 -2.3,0M305.3,234.5a1.15,1.15 0 1 0 2.3,0a1.15,1.15 0 1 0 -2.3,0M306.3,232.7a1.15,1.15 0 1 0 2.3,0a1.15,1.15 0 1 0 -2.3,0M307.2,236a1.15,1.15 0 1 0 2.3,0a1.15,1.15 0 1 0 -2.3,0M308.2,235a1.15,1.15 0 1 0 2.3,0a1.15,1.15 0 1 0 -2.3,0M309.2,237.3a1.15,1.15 0 1 0 2.3,0a1.15,1.15 0 1 0 -2.3,0M310.1,234.2a1.15,1.15 0 1 0 2.3,0a1.15,1.15 0 1 0 -2.3,0M311.1,236.3a1.15,1.15 0 1 0 2.3,0a1.15,1.15 0 1 0 -2.3,0M312,236a1.15,1.15 0 1 0 2.3,0a1.15,1.15 0 1 0 -2.3,0M313,236.6a1.15,1.15 0 1 0 2.3,0a1.15,1.15 0 1 0 -2.3,0M314,233.9a1.15,1.15 0 1 0 2.3,0a1.15,1.15 0 1 0 -2.3,0M314.9,233.2a1.15,1.15 0 1 0 2.3,0a1.15,1.15 0 1 0 -2.3,0M315.9,237.6a1.15,1.15 0 1 0 2.3,0a1.15,1.15 0 1 0 -2.3,0M316.9,236.1a1.15,1.15 0 1 0 2.3,0a1.15,1.15 0 1 0 -2.3,0M317.8,237.9a1.15,1.15 0 1 0 2.3,0a1.15,1.15 0 1 0 -2.3,0M318.8,234.8a1.15,1.15 0 1 0 2.3,0a1.15,1.15 0 1 0 -2.3,0M319.8,234.1a1.15,1.15 0 1 0 2.3,0a1.15,1.15 0 1 0 -2.3,0M320.7,238.1a1.15,1.15 0 1 0 2.3,0a1.15,1.15 0 1 0 -2.3,0M321.7,235.4a1.15,1.15 0 1 0 2.3,0a1.15,1.15 0 1 0 -2.3,0M322.7,237.4a1.15,1.15 0 1 0 2.3,0a1.15,1.15 0 1 0 -2.3,0M323.6,236.8a1.15,1.15 0 1 0 2.3,0a1.15,1.15 0 1 0 -2.3,0M324.6,236.3a1.15,1.15 0 1 0 2.3,0a1.15,1.15 0 1 0 -2.3,0M325.6,237.3a1.15,1.15 0 1 0 2.3,0a1.15,1.15 0 1 0 -2.3,0M326.5,236.1a1.15,1.15 0 1 0 2.3,0a1.15,1.15 0 1 0 -2.3,0M327.5,237.8a1.15,1.15 0 1 0 2.3,0a1.15,1.15 0 1 0 -2.3,0M328.5,237a1.15,1.15 0 1 0 2.3,0a1.15,1.15 0 1 0 -2.3,0" fill="#13306e"/>
<path d="M261.1,219.1V230.4M266.9,220.3V232.2M269.8,220.7V232M315.1,230.5V236.9M328.6,227.7V238.3" stroke="#13306e" stroke-width="0.7" fill="none"/>
<path d="M260.1,219.1a1.0,1.0 0 1 0 2,0a1.0,1.0 0 1 0 -2,0M265.9,220.3a1.0,1.0 0 1 0 2,0a1.0,1.0 0 1 0 -2,0M268.8,220.7a1.0,1.0 0 1 0 2,0a1.0,1.0 0 1 0 -2,0M314.1,230.5a1.0,1.0 0 1 0 2,0a1.0,1.0 0 1 0 -2,0M327.6,227.7a1.0,1.0 0 1 0 2,0a1.0,1.0 0 1 0 -2,0" fill="#13306e"/>
<path d="M253.3,232.5a1.0,1.0 0 1 0 2,0a1.0,1.0 0 1 0 -2,0M255.3,233.2a1.0,1.0 0 1 0 2,0a1.0,1.0 0 1 0 -2,0M313.2,233.8a1.0,1.0 0 1 0 2,0a1.0,1.0 0 1 0 -2,0M315.1,233.2a1.0,1.0 0 1 0 2,0a1.0,1.0 0 1 0 -2,0M317,233.8a1.0,1.0 0 1 0 2,0a1.0,1.0 0 1 0 -2,0" fill="#a6bb78"/>
<path d="M261.7,221V233.2M271.5,216.7V233.2M265.9,219V234.4M326.7,217.1V235.7M322.8,221V235.1M328.6,225.5V235.7" stroke="#b4bcde" stroke-width="0.8" fill="none"/>
<path d="M260.6,221a1.1,1.1 0 1 0 2.2,0a1.1,1.1 0 1 0 -2.2,0M270.4,216.7a1.1,1.1 0 1 0 2.2,0a1.1,1.1 0 1 0 -2.2,0M264.8,219a1.1,1.1 0 1 0 2.2,0a1.1,1.1 0 1 0 -2.2,0M325.6,217.1a1.1,1.1 0 1 0 2.2,0a1.1,1.1 0 1 0 -2.2,0M321.7,221a1.1,1.1 0 1 0 2.2,0a1.1,1.1 0 1 0 -2.2,0M327.5,225.5a1.1,1.1 0 1 0 2.2,0a1.1,1.1 0 1 0 -2.2,0" fill="#b4bcde"/>
<polyline points="233.1,238.2 234.1,238.3 235,238.2 236,237.5 237,232.4 237.9,221.2 238.9,204.3 239.9,196.2 240.8,195 241.8,199.8 242.8,202.6 243.7,206.5 244.7,210.8 245.6,214.1 246.6,214.2 247.6,218.8 248.5,215.6 249.5,216.7 250.5,218.9 251.4,225.9 252.4,226.7 253.4,225.6 254.3,225.6 255.3,223.5 256.3,223.1 257.2,225.5 258.2,225.3 259.2,226.2 260.1,230.4 261.1,227.2 262.1,229.7 263,228.6 264,231.7 264.9,227.6 265.9,226.2 266.9,232.1 267.8,228.9 268.8,232.8 269.8,230.8 270.7,232.3 271.7,228 272.7,229 273.6,228.2 274.6,232.6 275.6,229.7 276.5,230 277.5,231.3 278.5,229 279.4,231 280.4,233.2 281.4,230.7 282.3,232.3 283.3,234.1 284.2,231.8 285.2,235.3 286.2,233.1 287.1,232.6 288.1,235.9 289.1,232.4 290,235.7 291,232.6 292,234.5 292.9,236.4 293.9,231.1 294.9,236.4 295.8,235.9 296.8,234.1 297.8,235.6 298.7,234.1 299.7,234.5 300.6,234 301.6,234.3 302.6,235.7 303.5,236.2 304.5,233.6 305.5,235.1 306.4,234.7 307.4,232.6 308.4,237.5 309.3,236.2 310.3,234.8 311.3,237.5 312.2,233.9 313.2,235.9 314.2,236.4 315.1,237.1 316.1,233.2 317.1,238.1 318,234.2 319,234.9 319.9,234 320.9,235.1 321.9,237 322.8,236.1 323.8,234.3 324.8,238.3 325.7,234.9 326.7,235.9 327.7,238.3 328.6,234.7 329.6,238" fill="none" stroke="#a80d30" stroke-width="1.2" stroke-linejoin="round" stroke-linecap="round"/>
<path d="M231.8,238.2a1.35,1.35 0 1 0 2.7,0a1.35,1.35 0 1 0 -2.7,0M232.7,238.3a1.35,1.35 0 1 0 2.7,0a1.35,1.35 0 1 0 -2.7,0M233.7,238.2a1.35,1.35 0 1 0 2.7,0a1.35,1.35 0 1 0 -2.7,0M234.6,237.5a1.35,1.35 0 1 0 2.7,0a1.35,1.35 0 1 0 -2.7,0M235.6,232.4a1.35,1.35 0 1 0 2.7,0a1.35,1.35 0 1 0 -2.7,0M236.6,221.2a1.35,1.35 0 1 0 2.7,0a1.35,1.35 0 1 0 -2.7,0M237.5,204.3a1.35,1.35 0 1 0 2.7,0a1.35,1.35 0 1 0 -2.7,0M238.5,196.2a1.35,1.35 0 1 0 2.7,0a1.35,1.35 0 1 0 -2.7,0M239.5,195a1.35,1.35 0 1 0 2.7,0a1.35,1.35 0 1 0 -2.7,0M240.4,199.8a1.35,1.35 0 1 0 2.7,0a1.35,1.35 0 1 0 -2.7,0M241.4,202.6a1.35,1.35 0 1 0 2.7,0a1.35,1.35 0 1 0 -2.7,0M242.4,206.5a1.35,1.35 0 1 0 2.7,0a1.35,1.35 0 1 0 -2.7,0M243.3,210.8a1.35,1.35 0 1 0 2.7,0a1.35,1.35 0 1 0 -2.7,0M244.3,214.1a1.35,1.35 0 1 0 2.7,0a1.35,1.35 0 1 0 -2.7,0M245.3,214.2a1.35,1.35 0 1 0 2.7,0a1.35,1.35 0 1 0 -2.7,0M246.2,218.8a1.35,1.35 0 1 0 2.7,0a1.35,1.35 0 1 0 -2.7,0M247.2,215.6a1.35,1.35 0 1 0 2.7,0a1.35,1.35 0 1 0 -2.7,0M248.2,216.7a1.35,1.35 0 1 0 2.7,0a1.35,1.35 0 1 0 -2.7,0M249.1,218.9a1.35,1.35 0 1 0 2.7,0a1.35,1.35 0 1 0 -2.7,0M250.1,225.9a1.35,1.35 0 1 0 2.7,0a1.35,1.35 0 1 0 -2.7,0M251.1,226.7a1.35,1.35 0 1 0 2.7,0a1.35,1.35 0 1 0 -2.7,0M252,225.6a1.35,1.35 0 1 0 2.7,0a1.35,1.35 0 1 0 -2.7,0M253,225.6a1.35,1.35 0 1 0 2.7,0a1.35,1.35 0 1 0 -2.7,0M253.9,223.5a1.35,1.35 0 1 0 2.7,0a1.35,1.35 0 1 0 -2.7,0M254.9,223.1a1.35,1.35 0 1 0 2.7,0a1.35,1.35 0 1 0 -2.7,0M255.9,225.5a1.35,1.35 0 1 0 2.7,0a1.35,1.35 0 1 0 -2.7,0M256.8,225.3a1.35,1.35 0 1 0 2.7,0a1.35,1.35 0 1 0 -2.7,0M257.8,226.2a1.35,1.35 0 1 0 2.7,0a1.35,1.35 0 1 0 -2.7,0M258.8,230.4a1.35,1.35 0 1 0 2.7,0a1.35,1.35 0 1 0 -2.7,0M259.7,227.2a1.35,1.35 0 1 0 2.7,0a1.35,1.35 0 1 0 -2.7,0M260.7,229.7a1.35,1.35 0 1 0 2.7,0a1.35,1.35 0 1 0 -2.7,0M261.7,228.6a1.35,1.35 0 1 0 2.7,0a1.35,1.35 0 1 0 -2.7,0M262.6,231.7a1.35,1.35 0 1 0 2.7,0a1.35,1.35 0 1 0 -2.7,0M263.6,227.6a1.35,1.35 0 1 0 2.7,0a1.35,1.35 0 1 0 -2.7,0M264.6,226.2a1.35,1.35 0 1 0 2.7,0a1.35,1.35 0 1 0 -2.7,0M265.5,232.1a1.35,1.35 0 1 0 2.7,0a1.35,1.35 0 1 0 -2.7,0M266.5,228.9a1.35,1.35 0 1 0 2.7,0a1.35,1.35 0 1 0 -2.7,0M267.5,232.8a1.35,1.35 0 1 0 2.7,0a1.35,1.35 0 1 0 -2.7,0M268.4,230.8a1.35,1.35 0 1 0 2.7,0a1.35,1.35 0 1 0 -2.7,0M269.4,232.3a1.35,1.35 0 1 0 2.7,0a1.35,1.35 0 1 0 -2.7,0M270.3,228a1.35,1.35 0 1 0 2.7,0a1.35,1.35 0 1 0 -2.7,0M271.3,229a1.35,1.35 0 1 0 2.7,0a1.35,1.35 0 1 0 -2.7,0M272.3,228.2a1.35,1.35 0 1 0 2.7,0a1.35,1.35 0 1 0 -2.7,0M273.2,232.6a1.35,1.35 0 1 0 2.7,0a1.35,1.35 0 1 0 -2.7,0M274.2,229.7a1.35,1.35 0 1 0 2.7,0a1.35,1.35 0 1 0 -2.7,0M275.2,230a1.35,1.35 0 1 0 2.7,0a1.35,1.35 0 1 0 -2.7,0M276.1,231.3a1.35,1.35 0 1 0 2.7,0a1.35,1.35 0 1 0 -2.7,0M277.1,229a1.35,1.35 0 1 0 2.7,0a1.35,1.35 0 1 0 -2.7,0M278.1,231a1.35,1.35 0 1 0 2.7,0a1.35,1.35 0 1 0 -2.7,0M279,233.2a1.35,1.35 0 1 0 2.7,0a1.35,1.35 0 1 0 -2.7,0M280,230.7a1.35,1.35 0 1 0 2.7,0a1.35,1.35 0 1 0 -2.7,0M281,232.3a1.35,1.35 0 1 0 2.7,0a1.35,1.35 0 1 0 -2.7,0M281.9,234.1a1.35,1.35 0 1 0 2.7,0a1.35,1.35 0 1 0 -2.7,0M282.9,231.8a1.35,1.35 0 1 0 2.7,0a1.35,1.35 0 1 0 -2.7,0M283.9,235.3a1.35,1.35 0 1 0 2.7,0a1.35,1.35 0 1 0 -2.7,0M284.8,233.1a1.35,1.35 0 1 0 2.7,0a1.35,1.35 0 1 0 -2.7,0M285.8,232.6a1.35,1.35 0 1 0 2.7,0a1.35,1.35 0 1 0 -2.7,0M286.8,235.9a1.35,1.35 0 1 0 2.7,0a1.35,1.35 0 1 0 -2.7,0M287.7,232.4a1.35,1.35 0 1 0 2.7,0a1.35,1.35 0 1 0 -2.7,0M288.7,235.7a1.35,1.35 0 1 0 2.7,0a1.35,1.35 0 1 0 -2.7,0M289.6,232.6a1.35,1.35 0 1 0 2.7,0a1.35,1.35 0 1 0 -2.7,0M290.6,234.5a1.35,1.35 0 1 0 2.7,0a1.35,1.35 0 1 0 -2.7,0M291.6,236.4a1.35,1.35 0 1 0 2.7,0a1.35,1.35 0 1 0 -2.7,0M292.5,231.1a1.35,1.35 0 1 0 2.7,0a1.35,1.35 0 1 0 -2.7,0M293.5,236.4a1.35,1.35 0 1 0 2.7,0a1.35,1.35 0 1 0 -2.7,0M294.5,235.9a1.35,1.35 0 1 0 2.7,0a1.35,1.35 0 1 0 -2.7,0M295.4,234.1a1.35,1.35 0 1 0 2.7,0a1.35,1.35 0 1 0 -2.7,0M296.4,235.6a1.35,1.35 0 1 0 2.7,0a1.35,1.35 0 1 0 -2.7,0M297.4,234.1a1.35,1.35 0 1 0 2.7,0a1.35,1.35 0 1 0 -2.7,0M298.3,234.5a1.35,1.35 0 1 0 2.7,0a1.35,1.35 0 1 0 -2.7,0M299.3,234a1.35,1.35 0 1 0 2.7,0a1.35,1.35 0 1 0 -2.7,0M300.3,234.3a1.35,1.35 0 1 0 2.7,0a1.35,1.35 0 1 0 -2.7,0M301.2,235.7a1.35,1.35 0 1 0 2.7,0a1.35,1.35 0 1 0 -2.7,0M302.2,236.2a1.35,1.35 0 1 0 2.7,0a1.35,1.35 0 1 0 -2.7,0M303.2,233.6a1.35,1.35 0 1 0 2.7,0a1.35,1.35 0 1 0 -2.7,0M304.1,235.1a1.35,1.35 0 1 0 2.7,0a1.35,1.35 0 1 0 -2.7,0M305.1,234.7a1.35,1.35 0 1 0 2.7,0a1.35,1.35 0 1 0 -2.7,0M306.1,232.6a1.35,1.35 0 1 0 2.7,0a1.35,1.35 0 1 0 -2.7,0M307,237.5a1.35,1.35 0 1 0 2.7,0a1.35,1.35 0 1 0 -2.7,0M308,236.2a1.35,1.35 0 1 0 2.7,0a1.35,1.35 0 1 0 -2.7,0M308.9,234.8a1.35,1.35 0 1 0 2.7,0a1.35,1.35 0 1 0 -2.7,0M309.9,237.5a1.35,1.35 0 1 0 2.7,0a1.35,1.35 0 1 0 -2.7,0M310.9,233.9a1.35,1.35 0 1 0 2.7,0a1.35,1.35 0 1 0 -2.7,0M311.8,235.9a1.35,1.35 0 1 0 2.7,0a1.35,1.35 0 1 0 -2.7,0M312.8,236.4a1.35,1.35 0 1 0 2.7,0a1.35,1.35 0 1 0 -2.7,0M313.8,237.1a1.35,1.35 0 1 0 2.7,0a1.35,1.35 0 1 0 -2.7,0M314.7,233.2a1.35,1.35 0 1 0 2.7,0a1.35,1.35 0 1 0 -2.7,0M315.7,238.1a1.35,1.35 0 1 0 2.7,0a1.35,1.35 0 1 0 -2.7,0M316.7,234.2a1.35,1.35 0 1 0 2.7,0a1.35,1.35 0 1 0 -2.7,0M317.6,234.9a1.35,1.35 0 1 0 2.7,0a1.35,1.35 0 1 0 -2.7,0M318.6,234a1.35,1.35 0 1 0 2.7,0a1.35,1.35 0 1 0 -2.7,0M319.6,235.1a1.35,1.35 0 1 0 2.7,0a1.35,1.35 0 1 0 -2.7,0M320.5,237a1.35,1.35 0 1 0 2.7,0a1.35,1.35 0 1 0 -2.7,0M321.5,236.1a1.35,1.35 0 1 0 2.7,0a1.35,1.35 0 1 0 -2.7,0M322.5,234.3a1.35,1.35 0 1 0 2.7,0a1.35,1.35 0 1 0 -2.7,0M323.4,238.3a1.35,1.35 0 1 0 2.7,0a1.35,1.35 0 1 0 -2.7,0M324.4,234.9a1.35,1.35 0 1 0 2.7,0a1.35,1.35 0 1 0 -2.7,0M325.4,235.9a1.35,1.35 0 1 0 2.7,0a1.35,1.35 0 1 0 -2.7,0M326.3,238.3a1.35,1.35 0 1 0 2.7,0a1.35,1.35 0 1 0 -2.7,0M327.3,234.7a1.35,1.35 0 1 0 2.7,0a1.35,1.35 0 1 0 -2.7,0M328.2,238a1.35,1.35 0 1 0 2.7,0a1.35,1.35 0 1 0 -2.7,0" fill="#a80d30"/>
<path d="M251.4,220.3V228.2M255.3,219.7V228.3M268.8,227.4V235.4M269.8,228.7V234.2M284.2,227.6V236.4M292.9,230.5V238.3M296.8,228.3V236.5M299.7,228.7V238.3M300.6,226.5V237.9M305.5,230.8V238.3M318,227.6V235.7M325.7,228.2V238.3M291.4,222.9V236.4M308.4,224.2V236.4M285.2,226.7V237" stroke="#a80d30" stroke-width="0.8" fill="none"/>
<path d="M250.2,220.3a1.2,1.2 0 1 0 2.4,0a1.2,1.2 0 1 0 -2.4,0M254.1,219.7a1.2,1.2 0 1 0 2.4,0a1.2,1.2 0 1 0 -2.4,0M267.6,227.4a1.2,1.2 0 1 0 2.4,0a1.2,1.2 0 1 0 -2.4,0M268.6,228.7a1.2,1.2 0 1 0 2.4,0a1.2,1.2 0 1 0 -2.4,0M283,227.6a1.2,1.2 0 1 0 2.4,0a1.2,1.2 0 1 0 -2.4,0M291.7,230.5a1.2,1.2 0 1 0 2.4,0a1.2,1.2 0 1 0 -2.4,0M295.6,228.3a1.2,1.2 0 1 0 2.4,0a1.2,1.2 0 1 0 -2.4,0M298.5,228.7a1.2,1.2 0 1 0 2.4,0a1.2,1.2 0 1 0 -2.4,0M299.4,226.5a1.2,1.2 0 1 0 2.4,0a1.2,1.2 0 1 0 -2.4,0M304.3,230.8a1.2,1.2 0 1 0 2.4,0a1.2,1.2 0 1 0 -2.4,0M316.8,227.6a1.2,1.2 0 1 0 2.4,0a1.2,1.2 0 1 0 -2.4,0M324.5,228.2a1.2,1.2 0 1 0 2.4,0a1.2,1.2 0 1 0 -2.4,0M290.2,222.9a1.2,1.2 0 1 0 2.4,0a1.2,1.2 0 1 0 -2.4,0M307.2,224.2a1.2,1.2 0 1 0 2.4,0a1.2,1.2 0 1 0 -2.4,0M284,226.7a1.2,1.2 0 1 0 2.4,0a1.2,1.2 0 1 0 -2.4,0" fill="#a80d30"/>
<line x1="233.5" y1="171.5" x2="233.5" y2="238.9" stroke="#111" stroke-width="1.25"/>
<line x1="230.5" y1="238.3" x2="233.5" y2="238.3" stroke="#111" stroke-width="1.0"/>
<text transform="translate(227.1,241.2) scale(0.77,1)" font-size="8.5" text-anchor="end" stroke="#3a3a3a" stroke-width="0.1">0</text>
<line x1="230.5" y1="225.5" x2="233.5" y2="225.5" stroke="#111" stroke-width="1.0"/>
<text transform="translate(227.1,228.4) scale(0.77,1)" font-size="8.5" text-anchor="end" stroke="#3a3a3a" stroke-width="0.1">20</text>
<line x1="230.5" y1="212.6" x2="233.5" y2="212.6" stroke="#111" stroke-width="1.0"/>
<text transform="translate(227.1,215.5) scale(0.77,1)" font-size="8.5" text-anchor="end" stroke="#3a3a3a" stroke-width="0.1">40</text>
<line x1="230.5" y1="199.8" x2="233.5" y2="199.8" stroke="#111" stroke-width="1.0"/>
<text transform="translate(227.1,202.7) scale(0.77,1)" font-size="8.5" text-anchor="end" stroke="#3a3a3a" stroke-width="0.1">60</text>
<line x1="230.5" y1="186.9" x2="233.5" y2="186.9" stroke="#111" stroke-width="1.0"/>
<text transform="translate(227.1,189.8) scale(0.77,1)" font-size="8.5" text-anchor="end" stroke="#3a3a3a" stroke-width="0.1">80</text>
<line x1="230.5" y1="174.1" x2="233.5" y2="174.1" stroke="#111" stroke-width="1.0"/>
<text transform="translate(227.1,177) scale(0.77,1)" font-size="8.5" text-anchor="end" stroke="#3a3a3a" stroke-width="0.1">100</text>
<line x1="232.9" y1="238.3" x2="332.5" y2="238.3" stroke="#111" stroke-width="1.25"/>
<line x1="233.1" y1="238.3" x2="233.1" y2="241.3" stroke="#111" stroke-width="1.0"/>
<text transform="translate(233.1,250.7) scale(0.8,1)" font-size="8.2" text-anchor="middle" stroke="#3a3a3a" stroke-width="0.1">0</text>
<line x1="252.4" y1="238.3" x2="252.4" y2="241.3" stroke="#111" stroke-width="1.0"/>
<text transform="translate(252.4,250.7) scale(0.8,1)" font-size="8.2" text-anchor="middle" stroke="#3a3a3a" stroke-width="0.1">10</text>
<line x1="271.7" y1="238.3" x2="271.7" y2="241.3" stroke="#111" stroke-width="1.0"/>
<text transform="translate(271.7,250.7) scale(0.8,1)" font-size="8.2" text-anchor="middle" stroke="#3a3a3a" stroke-width="0.1">20</text>
<line x1="291" y1="238.3" x2="291" y2="241.3" stroke="#111" stroke-width="1.0"/>
<text transform="translate(291,250.7) scale(0.8,1)" font-size="8.2" text-anchor="middle" stroke="#3a3a3a" stroke-width="0.1">30</text>
<line x1="310.3" y1="238.3" x2="310.3" y2="241.3" stroke="#111" stroke-width="1.0"/>
<text transform="translate(310.3,250.7) scale(0.8,1)" font-size="8.2" text-anchor="middle" stroke="#3a3a3a" stroke-width="0.1">40</text>
<line x1="329.6" y1="238.3" x2="329.6" y2="241.3" stroke="#111" stroke-width="1.0"/>
<text transform="translate(329.6,250.7) scale(0.8,1)" font-size="8.2" text-anchor="middle" stroke="#3a3a3a" stroke-width="0.1">50</text>
<text transform="translate(283.6,263.5) scale(0.84,1)" font-size="8.8" text-anchor="middle" stroke="#3a3a3a" stroke-width="0.1">Time (min)</text>
<text transform="translate(209.9,204.2) rotate(-90) scale(0.85,1)" font-size="8.8" text-anchor="middle" stroke="#3a3a3a" stroke-width="0.1">Thrombin (nM)</text>
<text transform="translate(260,173.8)" font-size="5.8">Added rmTM (nM)</text>
<line x1="264.1" y1="179" x2="271.5" y2="179" stroke="#a80d30" stroke-width="1.1"/>
<circle cx="267.8" cy="179" r="1.3" fill="#a80d30"/>
<text transform="translate(274.5,181.1)" font-size="5.8">0</text>
<line x1="264.1" y1="189" x2="271.5" y2="189" stroke="#13306e" stroke-width="1.1"/>
<circle cx="267.8" cy="189" r="1.3" fill="#13306e"/>
<text transform="translate(274.5,191.1)" font-size="5.8">0.31</text>
<line x1="264.1" y1="199" x2="271.5" y2="199" stroke="#2f4b8a" stroke-width="1.1"/>
<circle cx="267.8" cy="199" r="1.3" fill="#2f4b8a"/>
<text transform="translate(274.5,201.1)" font-size="5.8">0.62</text>
<line x1="264.1" y1="209" x2="271.5" y2="209" stroke="#5a6eab" stroke-width="1.1"/>
<circle cx="267.8" cy="209" r="1.3" fill="#5a6eab"/>
<text transform="translate(274.5,211.1)" font-size="5.8">1.25</text>
<line x1="290.8" y1="179" x2="298.2" y2="179" stroke="#6c7ab2" stroke-width="1.1"/>
<circle cx="294.5" cy="179" r="1.3" fill="#6c7ab2"/>
<text transform="translate(300.8,181.1)" font-size="5.8">2.5</text>
<line x1="290.8" y1="189" x2="298.2" y2="189" stroke="#b4bcde" stroke-width="1.1"/>
<circle cx="294.5" cy="189" r="1.3" fill="#b4bcde"/>
<text transform="translate(300.8,191.1)" font-size="5.8">5</text>
<line x1="290.8" y1="199" x2="298.2" y2="199" stroke="#bdbdbd" stroke-width="1.1"/>
<circle cx="294.5" cy="199" r="1.3" fill="#bdbdbd"/>
<text transform="translate(300.8,201.1)" font-size="5.8">10</text>
<line x1="290.8" y1="209" x2="298.2" y2="209" stroke="#a6bb78" stroke-width="1.1"/>
<circle cx="294.5" cy="209" r="1.3" fill="#a6bb78"/>
<text transform="translate(300.8,211.1)" font-size="5.8">10 + PTCI</text>
<text transform="translate(354.5,160.8)" font-size="12.8" font-weight="bold" fill="#111">F</text>
<polyline points="395.3,238.3 396.3,238.3 397.2,238.3 398.2,238.2 399.2,238.2 400.1,238.2 401.1,238.2 402,238.2 403,238.1 404,238 404.9,237.9 405.9,237.8 406.9,237.7 407.8,237.6 408.8,237.5 409.7,237.4 410.7,237.1 411.7,237 412.6,236.7 413.6,236.6 414.6,237 415.5,235.7 416.5,236.6 417.4,235.1 418.4,234.9 419.4,235.6 420.3,234.6 421.3,234.3 422.3,235 423.2,233.8 424.2,234.5 425.2,232.8 426.1,232.9 427.1,232 428,233.4 429,232.6 430,231.7 430.9,231.4 431.9,231.9 432.9,230.1 433.8,229.9 434.8,230.7 435.7,230.7 436.7,229.2 437.7,229.5 438.6,228.6 439.6,228.6 440.6,228.5 441.5,229.1 442.5,228.5 443.4,227.5 444.4,226.5 445.4,227 446.3,225.9 447.3,226 448.3,224.9 449.2,225.2 450.2,225.8 451.2,226 452.1,226.1 453.1,226 454,223.9 455,223.8 456,224.1 456.9,225.8 457.9,224.4 458.9,225.9 459.8,224 460.8,224.7 461.7,224.6 462.7,225.2 463.7,225.8 464.6,224.9 465.6,224.8 466.6,226.9 467.5,226.6 468.5,226.1 469.5,226.5 470.4,227.4 471.4,227.5 472.3,226.6 473.3,228.4 474.3,228.8 475.2,228 476.2,229.2 477.2,228 478.1,229.5 479.1,228.5 480,229.9 481,229 482,229.6 482.9,229.9 483.9,231.2 484.9,231.5 485.8,232 486.8,231.9 487.7,231.2 488.7,232.6 489.7,232.5 490.6,232.1 491.6,233.2" fill="none" stroke="#bdbdbd" stroke-width="1.6" stroke-linejoin="round" stroke-linecap="round"/>
<path d="M394.2,238.3a1.15,1.15 0 1 0 2.3,0a1.15,1.15 0 1 0 -2.3,0M396.1,238.3a1.15,1.15 0 1 0 2.3,0a1.15,1.15 0 1 0 -2.3,0M398,238.2a1.15,1.15 0 1 0 2.3,0a1.15,1.15 0 1 0 -2.3,0M399.9,238.2a1.15,1.15 0 1 0 2.3,0a1.15,1.15 0 1 0 -2.3,0M401.9,238.1a1.15,1.15 0 1 0 2.3,0a1.15,1.15 0 1 0 -2.3,0M403.8,237.9a1.15,1.15 0 1 0 2.3,0a1.15,1.15 0 1 0 -2.3,0M405.7,237.7a1.15,1.15 0 1 0 2.3,0a1.15,1.15 0 1 0 -2.3,0M407.6,237.5a1.15,1.15 0 1 0 2.3,0a1.15,1.15 0 1 0 -2.3,0M409.6,237.1a1.15,1.15 0 1 0 2.3,0a1.15,1.15 0 1 0 -2.3,0M411.5,236.7a1.15,1.15 0 1 0 2.3,0a1.15,1.15 0 1 0 -2.3,0M413.4,237a1.15,1.15 0 1 0 2.3,0a1.15,1.15 0 1 0 -2.3,0M415.3,236.6a1.15,1.15 0 1 0 2.3,0a1.15,1.15 0 1 0 -2.3,0M417.3,234.9a1.15,1.15 0 1 0 2.3,0a1.15,1.15 0 1 0 -2.3,0M419.2,234.6a1.15,1.15 0 1 0 2.3,0a1.15,1.15 0 1 0 -2.3,0M421.1,235a1.15,1.15 0 1 0 2.3,0a1.15,1.15 0 1 0 -2.3,0M423,234.5a1.15,1.15 0 1 0 2.3,0a1.15,1.15 0 1 0 -2.3,0M425,232.9a1.15,1.15 0 1 0 2.3,0a1.15,1.15 0 1 0 -2.3,0M426.9,233.4a1.15,1.15 0 1 0 2.3,0a1.15,1.15 0 1 0 -2.3,0M428.8,231.7a1.15,1.15 0 1 0 2.3,0a1.15,1.15 0 1 0 -2.3,0M430.7,231.9a1.15,1.15 0 1 0 2.3,0a1.15,1.15 0 1 0 -2.3,0M432.7,229.9a1.15,1.15 0 1 0 2.3,0a1.15,1.15 0 1 0 -2.3,0M434.6,230.7a1.15,1.15 0 1 0 2.3,0a1.15,1.15 0 1 0 -2.3,0M436.5,229.5a1.15,1.15 0 1 0 2.3,0a1.15,1.15 0 1 0 -2.3,0M438.4,228.6a1.15,1.15 0 1 0 2.3,0a1.15,1.15 0 1 0 -2.3,0M440.4,229.1a1.15,1.15 0 1 0 2.3,0a1.15,1.15 0 1 0 -2.3,0M442.3,227.5a1.15,1.15 0 1 0 2.3,0a1.15,1.15 0 1 0 -2.3,0M444.2,227a1.15,1.15 0 1 0 2.3,0a1.15,1.15 0 1 0 -2.3,0M446.2,226a1.15,1.15 0 1 0 2.3,0a1.15,1.15 0 1 0 -2.3,0M448.1,225.2a1.15,1.15 0 1 0 2.3,0a1.15,1.15 0 1 0 -2.3,0M450,226a1.15,1.15 0 1 0 2.3,0a1.15,1.15 0 1 0 -2.3,0M451.9,226a1.15,1.15 0 1 0 2.3,0a1.15,1.15 0 1 0 -2.3,0M453.9,223.8a1.15,1.15 0 1 0 2.3,0a1.15,1.15 0 1 0 -2.3,0M455.8,225.8a1.15,1.15 0 1 0 2.3,0a1.15,1.15 0 1 0 -2.3,0M457.7,225.9a1.15,1.15 0 1 0 2.3,0a1.15,1.15 0 1 0 -2.3,0M459.6,224.7a1.15,1.15 0 1 0 2.3,0a1.15,1.15 0 1 0 -2.3,0M461.6,225.2a1.15,1.15 0 1 0 2.3,0a1.15,1.15 0 1 0 -2.3,0M463.5,224.9a1.15,1.15 0 1 0 2.3,0a1.15,1.15 0 1 0 -2.3,0M465.4,226.9a1.15,1.15 0 1 0 2.3,0a1.15,1.15 0 1 0 -2.3,0M467.3,226.1a1.15,1.15 0 1 0 2.3,0a1.15,1.15 0 1 0 -2.3,0M469.3,227.4a1.15,1.15 0 1 0 2.3,0a1.15,1.15 0 1 0 -2.3,0M471.2,226.6a1.15,1.15 0 1 0 2.3,0a1.15,1.15 0 1 0 -2.3,0M473.1,228.8a1.15,1.15 0 1 0 2.3,0a1.15,1.15 0 1 0 -2.3,0M475,229.2a1.15,1.15 0 1 0 2.3,0a1.15,1.15 0 1 0 -2.3,0M477,229.5a1.15,1.15 0 1 0 2.3,0a1.15,1.15 0 1 0 -2.3,0M478.9,229.9a1.15,1.15 0 1 0 2.3,0a1.15,1.15 0 1 0 -2.3,0M480.8,229.6a1.15,1.15 0 1 0 2.3,0a1.15,1.15 0 1 0 -2.3,0M482.7,231.2a1.15,1.15 0 1 0 2.3,0a1.15,1.15 0 1 0 -2.3,0M484.7,232a1.15,1.15 0 1 0 2.3,0a1.15,1.15 0 1 0 -2.3,0M486.6,231.2a1.15,1.15 0 1 0 2.3,0a1.15,1.15 0 1 0 -2.3,0M488.5,232.5a1.15,1.15 0 1 0 2.3,0a1.15,1.15 0 1 0 -2.3,0M490.5,233.2a1.15,1.15 0 1 0 2.3,0a1.15,1.15 0 1 0 -2.3,0" fill="#bdbdbd"/>
<polyline points="395.3,238.3 396.3,238.3 397.2,238.3 398.2,238.3 399.2,238.2 400.1,238.2 401.1,238.2 402,238.3 403,238.2 404,238.3 404.9,238.1 405.9,237.8 406.9,237.7 407.8,237.4 408.8,237 409.7,236.7 410.7,236.5 411.7,236.1 412.6,235.6 413.6,235.6 414.6,234.3 415.5,234.2 416.5,234.8 417.4,235 418.4,232.4 419.4,233.7 420.3,234 421.3,233.6 422.3,231 423.2,231.3 424.2,230.3 425.2,230.1 426.1,230.3 427.1,228.5 428,229.9 429,228.9 430,227.5 430.9,227.8 431.9,226.5 432.9,226.9 433.8,226 434.8,227.8 435.7,226.7 436.7,226 437.7,226.2 438.6,225.2 439.6,225.1 440.6,224 441.5,222.1 442.5,222.6 443.4,222.1 444.4,222.2 445.4,221.5 446.3,218.2 447.3,218.9 448.3,218.7 449.2,220.4 450.2,218.1 451.2,220.8 452.1,220.2 453.1,218.1 454,220 455,220.7 456,220.5 456.9,220.2 457.9,220.9 458.9,223.3 459.8,224.4 460.8,223.7 461.7,224.2 462.7,224.7 463.7,222.3 464.6,222.9 465.6,225.3 466.6,224.3 467.5,225.6 468.5,224 469.5,225.9 470.4,226.8 471.4,227.1 472.3,226.3 473.3,227.6 474.3,226.7 475.2,225.9 476.2,227.8 477.2,228.7 478.1,226.3 479.1,228.2 480,229.8 481,230.1 482,230.2 482.9,228.7 483.9,228.4 484.9,229.8 485.8,231.2 486.8,230.4 487.7,228.7 488.7,230.4 489.7,229.3 490.6,229.9 491.6,232.7" fill="none" stroke="#b4bcde" stroke-width="1.6" stroke-linejoin="round" stroke-linecap="round"/>
<path d="M394.2,238.3a1.15,1.15 0 1 0 2.3,0a1.15,1.15 0 1 0 -2.3,0M396.1,238.3a1.15,1.15 0 1 0 2.3,0a1.15,1.15 0 1 0 -2.3,0M398,238.2a1.15,1.15 0 1 0 2.3,0a1.15,1.15 0 1 0 -2.3,0M399.9,238.2a1.15,1.15 0 1 0 2.3,0a1.15,1.15 0 1 0 -2.3,0M401.9,238.2a1.15,1.15 0 1 0 2.3,0a1.15,1.15 0 1 0 -2.3,0M403.8,238.1a1.15,1.15 0 1 0 2.3,0a1.15,1.15 0 1 0 -2.3,0M405.7,237.7a1.15,1.15 0 1 0 2.3,0a1.15,1.15 0 1 0 -2.3,0M407.6,237a1.15,1.15 0 1 0 2.3,0a1.15,1.15 0 1 0 -2.3,0M409.6,236.5a1.15,1.15 0 1 0 2.3,0a1.15,1.15 0 1 0 -2.3,0M411.5,235.6a1.15,1.15 0 1 0 2.3,0a1.15,1.15 0 1 0 -2.3,0M413.4,234.3a1.15,1.15 0 1 0 2.3,0a1.15,1.15 0 1 0 -2.3,0M415.3,234.8a1.15,1.15 0 1 0 2.3,0a1.15,1.15 0 1 0 -2.3,0M417.3,232.4a1.15,1.15 0 1 0 2.3,0a1.15,1.15 0 1 0 -2.3,0M419.2,234a1.15,1.15 0 1 0 2.3,0a1.15,1.15 0 1 0 -2.3,0M421.1,231a1.15,1.15 0 1 0 2.3,0a1.15,1.15 0 1 0 -2.3,0M423,230.3a1.15,1.15 0 1 0 2.3,0a1.15,1.15 0 1 0 -2.3,0M425,230.3a1.15,1.15 0 1 0 2.3,0a1.15,1.15 0 1 0 -2.3,0M426.9,229.9a1.15,1.15 0 1 0 2.3,0a1.15,1.15 0 1 0 -2.3,0M428.8,227.5a1.15,1.15 0 1 0 2.3,0a1.15,1.15 0 1 0 -2.3,0M430.7,226.5a1.15,1.15 0 1 0 2.3,0a1.15,1.15 0 1 0 -2.3,0M432.7,226a1.15,1.15 0 1 0 2.3,0a1.15,1.15 0 1 0 -2.3,0M434.6,226.7a1.15,1.15 0 1 0 2.3,0a1.15,1.15 0 1 0 -2.3,0M436.5,226.2a1.15,1.15 0 1 0 2.3,0a1.15,1.15 0 1 0 -2.3,0M438.4,225.1a1.15,1.15 0 1 0 2.3,0a1.15,1.15 0 1 0 -2.3,0M440.4,222.1a1.15,1.15 0 1 0 2.3,0a1.15,1.15 0 1 0 -2.3,0M442.3,222.1a1.15,1.15 0 1 0 2.3,0a1.15,1.15 0 1 0 -2.3,0M444.2,221.5a1.15,1.15 0 1 0 2.3,0a1.15,1.15 0 1 0 -2.3,0M446.2,218.9a1.15,1.15 0 1 0 2.3,0a1.15,1.15 0 1 0 -2.3,0M448.1,220.4a1.15,1.15 0 1 0 2.3,0a1.15,1.15 0 1 0 -2.3,0M450,220.8a1.15,1.15 0 1 0 2.3,0a1.15,1.15 0 1 0 -2.3,0M451.9,218.1a1.15,1.15 0 1 0 2.3,0a1.15,1.15 0 1 0 -2.3,0M453.9,220.7a1.15,1.15 0 1 0 2.3,0a1.15,1.15 0 1 0 -2.3,0M455.8,220.2a1.15,1.15 0 1 0 2.3,0a1.15,1.15 0 1 0 -2.3,0M457.7,223.3a1.15,1.15 0 1 0 2.3,0a1.15,1.15 0 1 0 -2.3,0M459.6,223.7a1.15,1.15 0 1 0 2.3,0a1.15,1.15 0 1 0 -2.3,0M461.6,224.7a1.15,1.15 0 1 0 2.3,0a1.15,1.15 0 1 0 -2.3,0M463.5,222.9a1.15,1.15 0 1 0 2.3,0a1.15,1.15 0 1 0 -2.3,0M465.4,224.3a1.15,1.15 0 1 0 2.3,0a1.15,1.15 0 1 0 -2.3,0M467.3,224a1.15,1.15 0 1 0 2.3,0a1.15,1.15 0 1 0 -2.3,0M469.3,226.8a1.15,1.15 0 1 0 2.3,0a1.15,1.15 0 1 0 -2.3,0M471.2,226.3a1.15,1.15 0 1 0 2.3,0a1.15,1.15 0 1 0 -2.3,0M473.1,226.7a1.15,1.15 0 1 0 2.3,0a1.15,1.15 0 1 0 -2.3,0M475,227.8a1.15,1.15 0 1 0 2.3,0a1.15,1.15 0 1 0 -2.3,0M477,226.3a1.15,1.15 0 1 0 2.3,0a1.15,1.15 0 1 0 -2.3,0M478.9,229.8a1.15,1.15 0 1 0 2.3,0a1.15,1.15 0 1 0 -2.3,0M480.8,230.2a1.15,1.15 0 1 0 2.3,0a1.15,1.15 0 1 0 -2.3,0M482.7,228.4a1.15,1.15 0 1 0 2.3,0a1.15,1.15 0 1 0 -2.3,0M484.7,231.2a1.15,1.15 0 1 0 2.3,0a1.15,1.15 0 1 0 -2.3,0M486.6,228.7a1.15,1.15 0 1 0 2.3,0a1.15,1.15 0 1 0 -2.3,0M488.5,229.3a1.15,1.15 0 1 0 2.3,0a1.15,1.15 0 1 0 -2.3,0M490.5,232.7a1.15,1.15 0 1 0 2.3,0a1.15,1.15 0 1 0 -2.3,0" fill="#b4bcde"/>
<polyline points="395.3,238.3 396.3,238.2 397.2,238.3 398.2,238.2 399.2,238.1 400.1,238.1 401.1,238.2 402,238.1 403,238.2 404,237.9 404.9,237.7 405.9,237.3 406.9,237.1 407.8,236.7 408.8,236.4 409.7,236.2 410.7,235.4 411.7,235 412.6,234.8 413.6,234.5 414.6,233.8 415.5,233.4 416.5,232 417.4,232.1 418.4,231.9 419.4,231.2 420.3,231.4 421.3,232.1 422.3,231.5 423.2,227.6 424.2,227.4 425.2,228.8 426.1,225.8 427.1,226.6 428,227.6 429,223.8 430,224.1 430.9,221.8 431.9,222 432.9,223.7 433.8,220.4 434.8,218.4 435.7,216.4 436.7,217.7 437.7,215.1 438.6,212.8 439.6,214.4 440.6,209.8 441.5,209.8 442.5,213.8 443.4,211.5 444.4,213.8 445.4,216 446.3,215 447.3,214.1 448.3,216.9 449.2,219.6 450.2,218.3 451.2,217.5 452.1,217.2 453.1,218.8 454,222.4 455,218.6 456,220.7 456.9,223.5 457.9,223.7 458.9,224.2 459.8,222.1 460.8,224.7 461.7,222.3 462.7,225.6 463.7,224.2 464.6,225 465.6,227 466.6,227.5 467.5,224.1 468.5,224.2 469.5,227.9 470.4,225.8 471.4,225.1 472.3,225.8 473.3,226.2 474.3,228.6 475.2,227.4 476.2,228.5 477.2,227.1 478.1,228.3 479.1,228 480,228.2 481,230.2 482,229.3 482.9,231.8 483.9,231.6 484.9,229.2 485.8,231.4 486.8,230.6 487.7,231.3 488.7,232.6 489.7,231.7 490.6,230.8 491.6,233.1" fill="none" stroke="#6c7ab2" stroke-width="1.6" stroke-linejoin="round" stroke-linecap="round"/>
<path d="M394.2,238.3a1.15,1.15 0 1 0 2.3,0a1.15,1.15 0 1 0 -2.3,0M396.1,238.3a1.15,1.15 0 1 0 2.3,0a1.15,1.15 0 1 0 -2.3,0M398,238.1a1.15,1.15 0 1 0 2.3,0a1.15,1.15 0 1 0 -2.3,0M399.9,238.2a1.15,1.15 0 1 0 2.3,0a1.15,1.15 0 1 0 -2.3,0M401.9,238.2a1.15,1.15 0 1 0 2.3,0a1.15,1.15 0 1 0 -2.3,0M403.8,237.7a1.15,1.15 0 1 0 2.3,0a1.15,1.15 0 1 0 -2.3,0M405.7,237.1a1.15,1.15 0 1 0 2.3,0a1.15,1.15 0 1 0 -2.3,0M407.6,236.4a1.15,1.15 0 1 0 2.3,0a1.15,1.15 0 1 0 -2.3,0M409.6,235.4a1.15,1.15 0 1 0 2.3,0a1.15,1.15 0 1 0 -2.3,0M411.5,234.8a1.15,1.15 0 1 0 2.3,0a1.15,1.15 0 1 0 -2.3,0M413.4,233.8a1.15,1.15 0 1 0 2.3,0a1.15,1.15 0 1 0 -2.3,0M415.3,232a1.15,1.15 0 1 0 2.3,0a1.15,1.15 0 1 0 -2.3,0M417.3,231.9a1.15,1.15 0 1 0 2.3,0a1.15,1.15 0 1 0 -2.3,0M419.2,231.4a1.15,1.15 0 1 0 2.3,0a1.15,1.15 0 1 0 -2.3,0M421.1,231.5a1.15,1.15 0 1 0 2.3,0a1.15,1.15 0 1 0 -2.3,0M423,227.4a1.15,1.15 0 1 0 2.3,0a1.15,1.15 0 1 0 -2.3,0M425,225.8a1.15,1.15 0 1 0 2.3,0a1.15,1.15 0 1 0 -2.3,0M426.9,227.6a1.15,1.15 0 1 0 2.3,0a1.15,1.15 0 1 0 -2.3,0M428.8,224.1a1.15,1.15 0 1 0 2.3,0a1.15,1.15 0 1 0 -2.3,0M430.7,222a1.15,1.15 0 1 0 2.3,0a1.15,1.15 0 1 0 -2.3,0M432.7,220.4a1.15,1.15 0 1 0 2.3,0a1.15,1.15 0 1 0 -2.3,0M434.6,216.4a1.15,1.15 0 1 0 2.3,0a1.15,1.15 0 1 0 -2.3,0M436.5,215.1a1.15,1.15 0 1 0 2.3,0a1.15,1.15 0 1 0 -2.3,0M438.4,214.4a1.15,1.15 0 1 0 2.3,0a1.15,1.15 0 1 0 -2.3,0M440.4,209.8a1.15,1.15 0 1 0 2.3,0a1.15,1.15 0 1 0 -2.3,0M442.3,211.5a1.15,1.15 0 1 0 2.3,0a1.15,1.15 0 1 0 -2.3,0M444.2,216a1.15,1.15 0 1 0 2.3,0a1.15,1.15 0 1 0 -2.3,0M446.2,214.1a1.15,1.15 0 1 0 2.3,0a1.15,1.15 0 1 0 -2.3,0M448.1,219.6a1.15,1.15 0 1 0 2.3,0a1.15,1.15 0 1 0 -2.3,0M450,217.5a1.15,1.15 0 1 0 2.3,0a1.15,1.15 0 1 0 -2.3,0M451.9,218.8a1.15,1.15 0 1 0 2.3,0a1.15,1.15 0 1 0 -2.3,0M453.9,218.6a1.15,1.15 0 1 0 2.3,0a1.15,1.15 0 1 0 -2.3,0M455.8,223.5a1.15,1.15 0 1 0 2.3,0a1.15,1.15 0 1 0 -2.3,0M457.7,224.2a1.15,1.15 0 1 0 2.3,0a1.15,1.15 0 1 0 -2.3,0M459.6,224.7a1.15,1.15 0 1 0 2.3,0a1.15,1.15 0 1 0 -2.3,0M461.6,225.6a1.15,1.15 0 1 0 2.3,0a1.15,1.15 0 1 0 -2.3,0M463.5,225a1.15,1.15 0 1 0 2.3,0a1.15,1.15 0 1 0 -2.3,0M465.4,227.5a1.15,1.15 0 1 0 2.3,0a1.15,1.15 0 1 0 -2.3,0M467.3,224.2a1.15,1.15 0 1 0 2.3,0a1.15,1.15 0 1 0 -2.3,0M469.3,225.8a1.15,1.15 0 1 0 2.3,0a1.15,1.15 0 1 0 -2.3,0M471.2,225.8a1.15,1.15 0 1 0 2.3,0a1.15,1.15 0 1 0 -2.3,0M473.1,228.6a1.15,1.15 0 1 0 2.3,0a1.15,1.15 0 1 0 -2.3,0M475,228.5a1.15,1.15 0 1 0 2.3,0a1.15,1.15 0 1 0 -2.3,0M477,228.3a1.15,1.15 0 1 0 2.3,0a1.15,1.15 0 1 0 -2.3,0M478.9,228.2a1.15,1.15 0 1 0 2.3,0a1.15,1.15 0 1 0 -2.3,0M480.8,229.3a1.15,1.15 0 1 0 2.3,0a1.15,1.15 0 1 0 -2.3,0M482.7,231.6a1.15,1.15 0 1 0 2.3,0a1.15,1.15 0 1 0 -2.3,0M484.7,231.4a1.15,1.15 0 1 0 2.3,0a1.15,1.15 0 1 0 -2.3,0M486.6,231.3a1.15,1.15 0 1 0 2.3,0a1.15,1.15 0 1 0 -2.3,0M488.5,231.7a1.15,1.15 0 1 0 2.3,0a1.15,1.15 0 1 0 -2.3,0M490.5,233.1a1.15,1.15 0 1 0 2.3,0a1.15,1.15 0 1 0 -2.3,0" fill="#6c7ab2"/>
<polyline points="395.3,238.3 396.3,238.2 397.2,238.1 398.2,238.3 399.2,238.3 400.1,238.3 401.1,238.3 402,238.3 403,238.2 404,237.9 404.9,237.4 405.9,237.2 406.9,237 407.8,236.5 408.8,235.8 409.7,235.4 410.7,234.8 411.7,233.7 412.6,233.1 413.6,232.6 414.6,233 415.5,232 416.5,227.8 417.4,230 418.4,227 419.4,224.6 420.3,227.4 421.3,224.9 422.3,223.4 423.2,220.4 424.2,222.5 425.2,221.1 426.1,220.2 427.1,220.2 428,216.2 429,214.7 430,215.9 430.9,217.3 431.9,213.3 432.9,212.8 433.8,213.1 434.8,215.1 435.7,213.2 436.7,215.1 437.7,216 438.6,216.7 439.6,218.7 440.6,218.1 441.5,216.9 442.5,217.9 443.4,220 444.4,218.2 445.4,218.5 446.3,222.6 447.3,222.4 448.3,222.5 449.2,223.8 450.2,220.8 451.2,221.6 452.1,222.4 453.1,220.7 454,223.8 455,224.8 456,225.5 456.9,224.8 457.9,222.9 458.9,224.2 459.8,226.8 460.8,225.5 461.7,227.3 462.7,225.3 463.7,227.6 464.6,227.6 465.6,226 466.6,225.5 467.5,226.6 468.5,228.2 469.5,227.1 470.4,228.8 471.4,230.1 472.3,229.3 473.3,228 474.3,228.5 475.2,230.4 476.2,228.2 477.2,228.6 478.1,230.8 479.1,228.6 480,231.4 481,232.3 482,231 482.9,230 483.9,231.2 484.9,231.6 485.8,232.1 486.8,233 487.7,233.2 488.7,233.1 489.7,232.7 490.6,231.5 491.6,234.6" fill="none" stroke="#5a70ac" stroke-width="1.6" stroke-linejoin="round" stroke-linecap="round"/>
<path d="M394.2,238.3a1.15,1.15 0 1 0 2.3,0a1.15,1.15 0 1 0 -2.3,0M396.1,238.1a1.15,1.15 0 1 0 2.3,0a1.15,1.15 0 1 0 -2.3,0M398,238.3a1.15,1.15 0 1 0 2.3,0a1.15,1.15 0 1 0 -2.3,0M399.9,238.3a1.15,1.15 0 1 0 2.3,0a1.15,1.15 0 1 0 -2.3,0M401.9,238.2a1.15,1.15 0 1 0 2.3,0a1.15,1.15 0 1 0 -2.3,0M403.8,237.4a1.15,1.15 0 1 0 2.3,0a1.15,1.15 0 1 0 -2.3,0M405.7,237a1.15,1.15 0 1 0 2.3,0a1.15,1.15 0 1 0 -2.3,0M407.6,235.8a1.15,1.15 0 1 0 2.3,0a1.15,1.15 0 1 0 -2.3,0M409.6,234.8a1.15,1.15 0 1 0 2.3,0a1.15,1.15 0 1 0 -2.3,0M411.5,233.1a1.15,1.15 0 1 0 2.3,0a1.15,1.15 0 1 0 -2.3,0M413.4,233a1.15,1.15 0 1 0 2.3,0a1.15,1.15 0 1 0 -2.3,0M415.3,227.8a1.15,1.15 0 1 0 2.3,0a1.15,1.15 0 1 0 -2.3,0M417.3,227a1.15,1.15 0 1 0 2.3,0a1.15,1.15 0 1 0 -2.3,0M419.2,227.4a1.15,1.15 0 1 0 2.3,0a1.15,1.15 0 1 0 -2.3,0M421.1,223.4a1.15,1.15 0 1 0 2.3,0a1.15,1.15 0 1 0 -2.3,0M423,222.5a1.15,1.15 0 1 0 2.3,0a1.15,1.15 0 1 0 -2.3,0M425,220.2a1.15,1.15 0 1 0 2.3,0a1.15,1.15 0 1 0 -2.3,0M426.9,216.2a1.15,1.15 0 1 0 2.3,0a1.15,1.15 0 1 0 -2.3,0M428.8,215.9a1.15,1.15 0 1 0 2.3,0a1.15,1.15 0 1 0 -2.3,0M430.7,213.3a1.15,1.15 0 1 0 2.3,0a1.15,1.15 0 1 0 -2.3,0M432.7,213.1a1.15,1.15 0 1 0 2.3,0a1.15,1.15 0 1 0 -2.3,0M434.6,213.2a1.15,1.15 0 1 0 2.3,0a1.15,1.15 0 1 0 -2.3,0M436.5,216a1.15,1.15 0 1 0 2.3,0a1.15,1.15 0 1 0 -2.3,0M438.4,218.7a1.15,1.15 0 1 0 2.3,0a1.15,1.15 0 1 0 -2.3,0M440.4,216.9a1.15,1.15 0 1 0 2.3,0a1.15,1.15 0 1 0 -2.3,0M442.3,220a1.15,1.15 0 1 0 2.3,0a1.15,1.15 0 1 0 -2.3,0M444.2,218.5a1.15,1.15 0 1 0 2.3,0a1.15,1.15 0 1 0 -2.3,0M446.2,222.4a1.15,1.15 0 1 0 2.3,0a1.15,1.15 0 1 0 -2.3,0M448.1,223.8a1.15,1.15 0 1 0 2.3,0a1.15,1.15 0 1 0 -2.3,0M450,221.6a1.15,1.15 0 1 0 2.3,0a1.15,1.15 0 1 0 -2.3,0M451.9,220.7a1.15,1.15 0 1 0 2.3,0a1.15,1.15 0 1 0 -2.3,0M453.9,224.8a1.15,1.15 0 1 0 2.3,0a1.15,1.15 0 1 0 -2.3,0M455.8,224.8a1.15,1.15 0 1 0 2.3,0a1.15,1.15 0 1 0 -2.3,0M457.7,224.2a1.15,1.15 0 1 0 2.3,0a1.15,1.15 0 1 0 -2.3,0M459.6,225.5a1.15,1.15 0 1 0 2.3,0a1.15,1.15 0 1 0 -2.3,0M461.6,225.3a1.15,1.15 0 1 0 2.3,0a1.15,1.15 0 1 0 -2.3,0M463.5,227.6a1.15,1.15 0 1 0 2.3,0a1.15,1.15 0 1 0 -2.3,0M465.4,225.5a1.15,1.15 0 1 0 2.3,0a1.15,1.15 0 1 0 -2.3,0M467.3,228.2a1.15,1.15 0 1 0 2.3,0a1.15,1.15 0 1 0 -2.3,0M469.3,228.8a1.15,1.15 0 1 0 2.3,0a1.15,1.15 0 1 0 -2.3,0M471.2,229.3a1.15,1.15 0 1 0 2.3,0a1.15,1.15 0 1 0 -2.3,0M473.1,228.5a1.15,1.15 0 1 0 2.3,0a1.15,1.15 0 1 0 -2.3,0M475,228.2a1.15,1.15 0 1 0 2.3,0a1.15,1.15 0 1 0 -2.3,0M477,230.8a1.15,1.15 0 1 0 2.3,0a1.15,1.15 0 1 0 -2.3,0M478.9,231.4a1.15,1.15 0 1 0 2.3,0a1.15,1.15 0 1 0 -2.3,0M480.8,231a1.15,1.15 0 1 0 2.3,0a1.15,1.15 0 1 0 -2.3,0M482.7,231.2a1.15,1.15 0 1 0 2.3,0a1.15,1.15 0 1 0 -2.3,0M484.7,232.1a1.15,1.15 0 1 0 2.3,0a1.15,1.15 0 1 0 -2.3,0M486.6,233.2a1.15,1.15 0 1 0 2.3,0a1.15,1.15 0 1 0 -2.3,0M488.5,232.7a1.15,1.15 0 1 0 2.3,0a1.15,1.15 0 1 0 -2.3,0M490.5,234.6a1.15,1.15 0 1 0 2.3,0a1.15,1.15 0 1 0 -2.3,0" fill="#5a70ac"/>
<polyline points="395.3,238.3 396.3,238.3 397.2,238.3 398.2,238.3 399.2,238.3 400.1,238.3 401.1,238.2 402,238.1 403,237.7 404,237.1 404.9,236.8 405.9,235.9 406.9,235.3 407.8,234 408.8,233 409.7,232.2 410.7,230.7 411.7,229.5 412.6,228.5 413.6,227 414.6,224.7 415.5,222.4 416.5,224.3 417.4,222.7 418.4,218.9 419.4,216.7 420.3,219.5 421.3,218.2 422.3,213.6 423.2,214.7 424.2,213.2 425.2,209.6 426.1,210 427.1,210.4 428,210.1 429,211.9 430,212.8 430.9,214.9 431.9,216 432.9,219.2 433.8,215.6 434.8,216.1 435.7,219.3 436.7,218.4 437.7,221.7 438.6,219.9 439.6,219.7 440.6,221.5 441.5,221.3 442.5,219.8 443.4,223.2 444.4,222.1 445.4,224 446.3,223 447.3,221.1 448.3,222.6 449.2,225.4 450.2,222 451.2,223.2 452.1,224 453.1,225.2 454,225.4 455,226.1 456,224.5 456.9,227.1 457.9,223.7 458.9,227.4 459.8,225.5 460.8,225.9 461.7,227 462.7,227.6 463.7,227.2 464.6,227.9 465.6,225.7 466.6,227.2 467.5,228 468.5,227.7 469.5,228.6 470.4,230.2 471.4,230.9 472.3,227.6 473.3,228.3 474.3,231.4 475.2,229.7 476.2,229.4 477.2,229.2 478.1,232.5 479.1,232.5 480,231.8 481,231.3 482,233.3 482.9,231.4 483.9,231.4 484.9,232.7 485.8,231.5 486.8,233.3 487.7,232 488.7,233.6 489.7,233.8 490.6,234 491.6,233.1" fill="none" stroke="#2f4b8a" stroke-width="1.6" stroke-linejoin="round" stroke-linecap="round"/>
<path d="M394.2,238.3a1.15,1.15 0 1 0 2.3,0a1.15,1.15 0 1 0 -2.3,0M396.1,238.3a1.15,1.15 0 1 0 2.3,0a1.15,1.15 0 1 0 -2.3,0M398,238.3a1.15,1.15 0 1 0 2.3,0a1.15,1.15 0 1 0 -2.3,0M399.9,238.2a1.15,1.15 0 1 0 2.3,0a1.15,1.15 0 1 0 -2.3,0M401.9,237.7a1.15,1.15 0 1 0 2.3,0a1.15,1.15 0 1 0 -2.3,0M403.8,236.8a1.15,1.15 0 1 0 2.3,0a1.15,1.15 0 1 0 -2.3,0M405.7,235.3a1.15,1.15 0 1 0 2.3,0a1.15,1.15 0 1 0 -2.3,0M407.6,233a1.15,1.15 0 1 0 2.3,0a1.15,1.15 0 1 0 -2.3,0M409.6,230.7a1.15,1.15 0 1 0 2.3,0a1.15,1.15 0 1 0 -2.3,0M411.5,228.5a1.15,1.15 0 1 0 2.3,0a1.15,1.15 0 1 0 -2.3,0M413.4,224.7a1.15,1.15 0 1 0 2.3,0a1.15,1.15 0 1 0 -2.3,0M415.3,224.3a1.15,1.15 0 1 0 2.3,0a1.15,1.15 0 1 0 -2.3,0M417.3,218.9a1.15,1.15 0 1 0 2.3,0a1.15,1.15 0 1 0 -2.3,0M419.2,219.5a1.15,1.15 0 1 0 2.3,0a1.15,1.15 0 1 0 -2.3,0M421.1,213.6a1.15,1.15 0 1 0 2.3,0a1.15,1.15 0 1 0 -2.3,0M423,213.2a1.15,1.15 0 1 0 2.3,0a1.15,1.15 0 1 0 -2.3,0M425,210a1.15,1.15 0 1 0 2.3,0a1.15,1.15 0 1 0 -2.3,0M426.9,210.1a1.15,1.15 0 1 0 2.3,0a1.15,1.15 0 1 0 -2.3,0M428.8,212.8a1.15,1.15 0 1 0 2.3,0a1.15,1.15 0 1 0 -2.3,0M430.7,216a1.15,1.15 0 1 0 2.3,0a1.15,1.15 0 1 0 -2.3,0M432.7,215.6a1.15,1.15 0 1 0 2.3,0a1.15,1.15 0 1 0 -2.3,0M434.6,219.3a1.15,1.15 0 1 0 2.3,0a1.15,1.15 0 1 0 -2.3,0M436.5,221.7a1.15,1.15 0 1 0 2.3,0a1.15,1.15 0 1 0 -2.3,0M438.4,219.7a1.15,1.15 0 1 0 2.3,0a1.15,1.15 0 1 0 -2.3,0M440.4,221.3a1.15,1.15 0 1 0 2.3,0a1.15,1.15 0 1 0 -2.3,0M442.3,223.2a1.15,1.15 0 1 0 2.3,0a1.15,1.15 0 1 0 -2.3,0M444.2,224a1.15,1.15 0 1 0 2.3,0a1.15,1.15 0 1 0 -2.3,0M446.2,221.1a1.15,1.15 0 1 0 2.3,0a1.15,1.15 0 1 0 -2.3,0M448.1,225.4a1.15,1.15 0 1 0 2.3,0a1.15,1.15 0 1 0 -2.3,0M450,223.2a1.15,1.15 0 1 0 2.3,0a1.15,1.15 0 1 0 -2.3,0M451.9,225.2a1.15,1.15 0 1 0 2.3,0a1.15,1.15 0 1 0 -2.3,0M453.9,226.1a1.15,1.15 0 1 0 2.3,0a1.15,1.15 0 1 0 -2.3,0M455.8,227.1a1.15,1.15 0 1 0 2.3,0a1.15,1.15 0 1 0 -2.3,0M457.7,227.4a1.15,1.15 0 1 0 2.3,0a1.15,1.15 0 1 0 -2.3,0M459.6,225.9a1.15,1.15 0 1 0 2.3,0a1.15,1.15 0 1 0 -2.3,0M461.6,227.6a1.15,1.15 0 1 0 2.3,0a1.15,1.15 0 1 0 -2.3,0M463.5,227.9a1.15,1.15 0 1 0 2.3,0a1.15,1.15 0 1 0 -2.3,0M465.4,227.2a1.15,1.15 0 1 0 2.3,0a1.15,1.15 0 1 0 -2.3,0M467.3,227.7a1.15,1.15 0 1 0 2.3,0a1.15,1.15 0 1 0 -2.3,0M469.3,230.2a1.15,1.15 0 1 0 2.3,0a1.15,1.15 0 1 0 -2.3,0M471.2,227.6a1.15,1.15 0 1 0 2.3,0a1.15,1.15 0 1 0 -2.3,0M473.1,231.4a1.15,1.15 0 1 0 2.3,0a1.15,1.15 0 1 0 -2.3,0M475,229.4a1.15,1.15 0 1 0 2.3,0a1.15,1.15 0 1 0 -2.3,0M477,232.5a1.15,1.15 0 1 0 2.3,0a1.15,1.15 0 1 0 -2.3,0M478.9,231.8a1.15,1.15 0 1 0 2.3,0a1.15,1.15 0 1 0 -2.3,0M480.8,233.3a1.15,1.15 0 1 0 2.3,0a1.15,1.15 0 1 0 -2.3,0M482.7,231.4a1.15,1.15 0 1 0 2.3,0a1.15,1.15 0 1 0 -2.3,0M484.7,231.5a1.15,1.15 0 1 0 2.3,0a1.15,1.15 0 1 0 -2.3,0M486.6,232a1.15,1.15 0 1 0 2.3,0a1.15,1.15 0 1 0 -2.3,0M488.5,233.8a1.15,1.15 0 1 0 2.3,0a1.15,1.15 0 1 0 -2.3,0M490.5,233.1a1.15,1.15 0 1 0 2.3,0a1.15,1.15 0 1 0 -2.3,0" fill="#2f4b8a"/>
<polyline points="395.3,238.1 396.3,238.3 397.2,238.3 398.2,238.1 399.2,238.3 400.1,238.3 401.1,238.3 402,237.9 403,237.9 404,237 404.9,235.5 405.9,233.5 406.9,231.7 407.8,230.1 408.8,227.6 409.7,225.6 410.7,223 411.7,220.9 412.6,219.4 413.6,217 414.6,216 415.5,216.6 416.5,214.2 417.4,215.8 418.4,211.8 419.4,212.5 420.3,214.7 421.3,214.6 422.3,213.9 423.2,213.1 424.2,216.4 425.2,217.9 426.1,217.4 427.1,219.5 428,218.8 429,216.8 430,220.5 430.9,220.4 431.9,218.5 432.9,221.5 433.8,222.2 434.8,221.9 435.7,220.5 436.7,220.3 437.7,220.7 438.6,223.7 439.6,222.9 440.6,223.9 441.5,222.1 442.5,223.2 443.4,221.8 444.4,222.8 445.4,223 446.3,225 447.3,223.6 448.3,225.9 449.2,226 450.2,223 451.2,226.1 452.1,227 453.1,224.2 454,226.7 455,226.4 456,225.5 456.9,224.2 457.9,228.2 458.9,225.9 459.8,228.5 460.8,225.8 461.7,227.7 462.7,229 463.7,228 464.6,227.3 465.6,229.5 466.6,228.8 467.5,227.6 468.5,227.7 469.5,228.3 470.4,229.5 471.4,228.9 472.3,231.2 473.3,230.7 474.3,231.2 475.2,232.1 476.2,232.7 477.2,232.9 478.1,229.9 479.1,232.2 480,232.7 481,231.7 482,231.8 482.9,231.4 483.9,231.6 484.9,234.6 485.8,234.2 486.8,233.9 487.7,234.4 488.7,233.7 489.7,234.9 490.6,233 491.6,235" fill="none" stroke="#13306e" stroke-width="1.6" stroke-linejoin="round" stroke-linecap="round"/>
<path d="M394.2,238.1a1.15,1.15 0 1 0 2.3,0a1.15,1.15 0 1 0 -2.3,0M396.1,238.3a1.15,1.15 0 1 0 2.3,0a1.15,1.15 0 1 0 -2.3,0M398,238.3a1.15,1.15 0 1 0 2.3,0a1.15,1.15 0 1 0 -2.3,0M399.9,238.3a1.15,1.15 0 1 0 2.3,0a1.15,1.15 0 1 0 -2.3,0M401.9,237.9a1.15,1.15 0 1 0 2.3,0a1.15,1.15 0 1 0 -2.3,0M403.8,235.5a1.15,1.15 0 1 0 2.3,0a1.15,1.15 0 1 0 -2.3,0M405.7,231.7a1.15,1.15 0 1 0 2.3,0a1.15,1.15 0 1 0 -2.3,0M407.6,227.6a1.15,1.15 0 1 0 2.3,0a1.15,1.15 0 1 0 -2.3,0M409.6,223a1.15,1.15 0 1 0 2.3,0a1.15,1.15 0 1 0 -2.3,0M411.5,219.4a1.15,1.15 0 1 0 2.3,0a1.15,1.15 0 1 0 -2.3,0M413.4,216a1.15,1.15 0 1 0 2.3,0a1.15,1.15 0 1 0 -2.3,0M415.3,214.2a1.15,1.15 0 1 0 2.3,0a1.15,1.15 0 1 0 -2.3,0M417.3,211.8a1.15,1.15 0 1 0 2.3,0a1.15,1.15 0 1 0 -2.3,0M419.2,214.7a1.15,1.15 0 1 0 2.3,0a1.15,1.15 0 1 0 -2.3,0M421.1,213.9a1.15,1.15 0 1 0 2.3,0a1.15,1.15 0 1 0 -2.3,0M423,216.4a1.15,1.15 0 1 0 2.3,0a1.15,1.15 0 1 0 -2.3,0M425,217.4a1.15,1.15 0 1 0 2.3,0a1.15,1.15 0 1 0 -2.3,0M426.9,218.8a1.15,1.15 0 1 0 2.3,0a1.15,1.15 0 1 0 -2.3,0M428.8,220.5a1.15,1.15 0 1 0 2.3,0a1.15,1.15 0 1 0 -2.3,0M430.7,218.5a1.15,1.15 0 1 0 2.3,0a1.15,1.15 0 1 0 -2.3,0M432.7,222.2a1.15,1.15 0 1 0 2.3,0a1.15,1.15 0 1 0 -2.3,0M434.6,220.5a1.15,1.15 0 1 0 2.3,0a1.15,1.15 0 1 0 -2.3,0M436.5,220.7a1.15,1.15 0 1 0 2.3,0a1.15,1.15 0 1 0 -2.3,0M438.4,222.9a1.15,1.15 0 1 0 2.3,0a1.15,1.15 0 1 0 -2.3,0M440.4,222.1a1.15,1.15 0 1 0 2.3,0a1.15,1.15 0 1 0 -2.3,0M442.3,221.8a1.15,1.15 0 1 0 2.3,0a1.15,1.15 0 1 0 -2.3,0M444.2,223a1.15,1.15 0 1 0 2.3,0a1.15,1.15 0 1 0 -2.3,0M446.2,223.6a1.15,1.15 0 1 0 2.3,0a1.15,1.15 0 1 0 -2.3,0M448.1,226a1.15,1.15 0 1 0 2.3,0a1.15,1.15 0 1 0 -2.3,0M450,226.1a1.15,1.15 0 1 0 2.3,0a1.15,1.15 0 1 0 -2.3,0M451.9,224.2a1.15,1.15 0 1 0 2.3,0a1.15,1.15 0 1 0 -2.3,0M453.9,226.4a1.15,1.15 0 1 0 2.3,0a1.15,1.15 0 1 0 -2.3,0M455.8,224.2a1.15,1.15 0 1 0 2.3,0a1.15,1.15 0 1 0 -2.3,0M457.7,225.9a1.15,1.15 0 1 0 2.3,0a1.15,1.15 0 1 0 -2.3,0M459.6,225.8a1.15,1.15 0 1 0 2.3,0a1.15,1.15 0 1 0 -2.3,0M461.6,229a1.15,1.15 0 1 0 2.3,0a1.15,1.15 0 1 0 -2.3,0M463.5,227.3a1.15,1.15 0 1 0 2.3,0a1.15,1.15 0 1 0 -2.3,0M465.4,228.8a1.15,1.15 0 1 0 2.3,0a1.15,1.15 0 1 0 -2.3,0M467.3,227.7a1.15,1.15 0 1 0 2.3,0a1.15,1.15 0 1 0 -2.3,0M469.3,229.5a1.15,1.15 0 1 0 2.3,0a1.15,1.15 0 1 0 -2.3,0M471.2,231.2a1.15,1.15 0 1 0 2.3,0a1.15,1.15 0 1 0 -2.3,0M473.1,231.2a1.15,1.15 0 1 0 2.3,0a1.15,1.15 0 1 0 -2.3,0M475,232.7a1.15,1.15 0 1 0 2.3,0a1.15,1.15 0 1 0 -2.3,0M477,229.9a1.15,1.15 0 1 0 2.3,0a1.15,1.15 0 1 0 -2.3,0M478.9,232.7a1.15,1.15 0 1 0 2.3,0a1.15,1.15 0 1 0 -2.3,0M480.8,231.8a1.15,1.15 0 1 0 2.3,0a1.15,1.15 0 1 0 -2.3,0M482.7,231.6a1.15,1.15 0 1 0 2.3,0a1.15,1.15 0 1 0 -2.3,0M484.7,234.2a1.15,1.15 0 1 0 2.3,0a1.15,1.15 0 1 0 -2.3,0M486.6,234.4a1.15,1.15 0 1 0 2.3,0a1.15,1.15 0 1 0 -2.3,0M488.5,234.9a1.15,1.15 0 1 0 2.3,0a1.15,1.15 0 1 0 -2.3,0M490.5,235a1.15,1.15 0 1 0 2.3,0a1.15,1.15 0 1 0 -2.3,0" fill="#13306e"/>
<path d="M425.7,204.5V213.9M429,208.7V215.2M433.8,210V216.5M436.7,212.6V219M445.4,217.7V222.9" stroke="#3f5a98" stroke-width="0.8" fill="none"/>
<path d="M424.5,204.5a1.2,1.2 0 1 0 2.4,0a1.2,1.2 0 1 0 -2.4,0M427.8,208.7a1.2,1.2 0 1 0 2.4,0a1.2,1.2 0 1 0 -2.4,0M432.6,210a1.2,1.2 0 1 0 2.4,0a1.2,1.2 0 1 0 -2.4,0M435.5,212.6a1.2,1.2 0 1 0 2.4,0a1.2,1.2 0 1 0 -2.4,0M444.2,217.7a1.2,1.2 0 1 0 2.4,0a1.2,1.2 0 1 0 -2.4,0" fill="#3f5a98"/>
<path d="M439,208.7V216.5M441.5,205.7V213.9M444,210.4V217.7M449.2,212.6V220.3M453.1,216.5V222.9" stroke="#8f9ccb" stroke-width="0.8" fill="none"/>
<path d="M437.8,208.7a1.2,1.2 0 1 0 2.4,0a1.2,1.2 0 1 0 -2.4,0M440.3,205.7a1.2,1.2 0 1 0 2.4,0a1.2,1.2 0 1 0 -2.4,0M442.8,210.4a1.2,1.2 0 1 0 2.4,0a1.2,1.2 0 1 0 -2.4,0M448,212.6a1.2,1.2 0 1 0 2.4,0a1.2,1.2 0 1 0 -2.4,0M451.9,216.5a1.2,1.2 0 1 0 2.4,0a1.2,1.2 0 1 0 -2.4,0" fill="#8f9ccb"/>
<path d="M486.8,211.6V235.1M458.9,220.3V230.6M476.2,226.7V235.1" stroke="#6c7ab2" stroke-width="0.8" fill="none"/>
<path d="M485.7,211.6a1.1,1.1 0 1 0 2.2,0a1.1,1.1 0 1 0 -2.2,0M457.8,220.3a1.1,1.1 0 1 0 2.2,0a1.1,1.1 0 1 0 -2.2,0M475.1,226.7a1.1,1.1 0 1 0 2.2,0a1.1,1.1 0 1 0 -2.2,0" fill="#6c7ab2"/>
<polyline points="395.3,238.3 396.1,238.3 396.8,238.3 397.6,238.3 398.4,238.3 399.2,238.3 399.9,238.3 400.7,238.3 401.5,238.3 402.2,238.3 403,237.1 403.8,231.9 404.5,223.2 405.3,215 406.1,206.6 406.9,199.4 407.6,192.6 408.4,188.5 409.2,193 409.9,199.1 410.7,199.2 411.5,202.9 412.2,214.5 413,221.8 413.8,226.6 414.6,230.3 415.3,232.7 416.1,234.2 416.9,235.1 417.6,235.7 418.4,236.3 419.2,236.6 420,236.7 420.7,236.8 421.5,236.9 422.3,237.1 423,237.2 423.8,237.3 424.6,237.4 425.3,237.5 426.1,237.6 426.9,237.6 427.7,237.6 428.4,237.6 429.2,237.6 430,237.7 430.7,237.6 431.5,237.7 432.3,237.6 433,237.7 433.8,237.6 434.6,238.1 435.4,237.9 436.1,237.4 436.9,237.9 437.7,237.4 438.4,237.3 439.2,237.5 440,237.5 440.8,238 441.5,237.7 442.3,237.2 443.1,237.2 443.8,237.6 444.6,237.7 445.4,237.2 446.1,237.6 446.9,237.3 447.7,238.1 448.5,237.9 449.2,237.3 450,237.6 450.8,237.4 451.5,237.7 452.3,237.2 453.1,238.1 453.9,237.9 454.6,237.5 455.4,237.6 456.2,237.5 456.9,237.7 457.7,237.4 458.5,237.4 459.2,237.8 460,238.1 460.8,237.9 461.6,237.8 462.3,237.1 463.1,237.2 463.9,237.5 464.6,238 465.4,237.2 466.2,238 466.9,238 467.7,237.4 468.5,237.8 469.3,237.8 470,237.9 470.8,238.2 471.6,238 472.3,238.1 473.1,238.2 473.9,238.1 474.7,238 475.4,237.6 476.2,237.7 477,237.4 477.7,237.3 478.5,237.6 479.3,237.6 480,238.2 480.8,238.1 481.6,237.3 482.4,237.2 483.1,237.8 483.9,237.3 484.7,237.3 485.4,237.9 486.2,238.1 487,238 487.7,238.1 488.5,238.1 489.3,237.6 490.1,237.9 490.8,237.2 491.6,237.6" fill="none" stroke="#a6bb78" stroke-width="1.3" stroke-linejoin="round" stroke-linecap="round"/>
<path d="M394.2,238.3a1.1,1.1 0 1 0 2.2,0a1.1,1.1 0 1 0 -2.2,0M395,238.3a1.1,1.1 0 1 0 2.2,0a1.1,1.1 0 1 0 -2.2,0M395.7,238.3a1.1,1.1 0 1 0 2.2,0a1.1,1.1 0 1 0 -2.2,0M396.5,238.3a1.1,1.1 0 1 0 2.2,0a1.1,1.1 0 1 0 -2.2,0M397.3,238.3a1.1,1.1 0 1 0 2.2,0a1.1,1.1 0 1 0 -2.2,0M398.1,238.3a1.1,1.1 0 1 0 2.2,0a1.1,1.1 0 1 0 -2.2,0M398.8,238.3a1.1,1.1 0 1 0 2.2,0a1.1,1.1 0 1 0 -2.2,0M399.6,238.3a1.1,1.1 0 1 0 2.2,0a1.1,1.1 0 1 0 -2.2,0M400.4,238.3a1.1,1.1 0 1 0 2.2,0a1.1,1.1 0 1 0 -2.2,0M401.1,238.3a1.1,1.1 0 1 0 2.2,0a1.1,1.1 0 1 0 -2.2,0M401.9,237.1a1.1,1.1 0 1 0 2.2,0a1.1,1.1 0 1 0 -2.2,0M402.7,231.9a1.1,1.1 0 1 0 2.2,0a1.1,1.1 0 1 0 -2.2,0M403.4,223.2a1.1,1.1 0 1 0 2.2,0a1.1,1.1 0 1 0 -2.2,0M404.2,215a1.1,1.1 0 1 0 2.2,0a1.1,1.1 0 1 0 -2.2,0M405,206.6a1.1,1.1 0 1 0 2.2,0a1.1,1.1 0 1 0 -2.2,0M405.8,199.4a1.1,1.1 0 1 0 2.2,0a1.1,1.1 0 1 0 -2.2,0M406.5,192.6a1.1,1.1 0 1 0 2.2,0a1.1,1.1 0 1 0 -2.2,0M407.3,188.5a1.1,1.1 0 1 0 2.2,0a1.1,1.1 0 1 0 -2.2,0M408.1,193a1.1,1.1 0 1 0 2.2,0a1.1,1.1 0 1 0 -2.2,0M408.8,199.1a1.1,1.1 0 1 0 2.2,0a1.1,1.1 0 1 0 -2.2,0M409.6,199.2a1.1,1.1 0 1 0 2.2,0a1.1,1.1 0 1 0 -2.2,0M410.4,202.9a1.1,1.1 0 1 0 2.2,0a1.1,1.1 0 1 0 -2.2,0M411.1,214.5a1.1,1.1 0 1 0 2.2,0a1.1,1.1 0 1 0 -2.2,0M411.9,221.8a1.1,1.1 0 1 0 2.2,0a1.1,1.1 0 1 0 -2.2,0M412.7,226.6a1.1,1.1 0 1 0 2.2,0a1.1,1.1 0 1 0 -2.2,0M413.5,230.3a1.1,1.1 0 1 0 2.2,0a1.1,1.1 0 1 0 -2.2,0M414.2,232.7a1.1,1.1 0 1 0 2.2,0a1.1,1.1 0 1 0 -2.2,0M415,234.2a1.1,1.1 0 1 0 2.2,0a1.1,1.1 0 1 0 -2.2,0M415.8,235.1a1.1,1.1 0 1 0 2.2,0a1.1,1.1 0 1 0 -2.2,0M416.5,235.7a1.1,1.1 0 1 0 2.2,0a1.1,1.1 0 1 0 -2.2,0M417.3,236.3a1.1,1.1 0 1 0 2.2,0a1.1,1.1 0 1 0 -2.2,0M418.1,236.6a1.1,1.1 0 1 0 2.2,0a1.1,1.1 0 1 0 -2.2,0M418.9,236.7a1.1,1.1 0 1 0 2.2,0a1.1,1.1 0 1 0 -2.2,0M419.6,236.8a1.1,1.1 0 1 0 2.2,0a1.1,1.1 0 1 0 -2.2,0M420.4,236.9a1.1,1.1 0 1 0 2.2,0a1.1,1.1 0 1 0 -2.2,0" fill="#a6bb78"/>
<path d="M433.8,231.9V238.3M458.9,233.2V238.3M476.2,230.6V238.3" stroke="#a6bb78" stroke-width="0.8" fill="none"/>
<path d="M432.9,231.9a0.9,0.9 0 1 0 1.8,0a0.9,0.9 0 1 0 -1.8,0M458,233.2a0.9,0.9 0 1 0 1.8,0a0.9,0.9 0 1 0 -1.8,0M475.3,230.6a0.9,0.9 0 1 0 1.8,0a0.9,0.9 0 1 0 -1.8,0" fill="#a6bb78"/>
<polyline points="395.3,238 396.3,237.8 397.2,237.4 398.2,237.5 399.2,236.7 400.1,236 401.1,233.3 402,227.3 403,221 404,216.9 404.9,213.9 405.9,210.8 406.9,210.9 407.8,209.7 408.8,206.8 409.7,205.2 410.7,205.9 411.7,211.9 412.6,217.2 413.6,219.7 414.6,222.5 415.5,223.6 416.5,221.9 417.4,224.1 418.4,224.3 419.4,224.7 420.3,223.1 421.3,225.7 422.3,224.5 423.2,223.7 424.2,225.3 425.2,226.7 426.1,227.5 427.1,225.8 428,227.8 429,227.1 430,225.8 430.9,226.1 431.9,228.2 432.9,228 433.8,228.5 434.8,228.7 435.7,228.1 436.7,229.7 437.7,229.8 438.6,229.9 439.6,229.4 440.6,228.8 441.5,229.7 442.5,229.5 443.4,228.4 444.4,228.5 445.4,229.9 446.3,228.4 447.3,231.6 448.3,229.7 449.2,229.5 450.2,230.6 451.2,230.6 452.1,231.3 453.1,229.7 454,231.8 455,230.6 456,230.2 456.9,230 457.9,229.7 458.9,232.3 459.8,232.5 460.8,232.2 461.7,230.5 462.7,231.3 463.7,230.9 464.6,232 465.6,231.8 466.6,230.4 467.5,232.4 468.5,232.4 469.5,231.7 470.4,231.2 471.4,231.2 472.3,232.4 473.3,234.1 474.3,234 475.2,234.3 476.2,234.5 477.2,232.6 478.1,233.6 479.1,234.5 480,232.5 481,233.2 482,233.6 482.9,232.7 483.9,235.1 484.9,234.2 485.8,233.9 486.8,234.4 487.7,235.3 488.7,233.9 489.7,234 490.6,234 491.6,235.4" fill="none" stroke="#a80d30" stroke-width="1.4" stroke-linejoin="round" stroke-linecap="round"/>
<path d="M393.9,238a1.4,1.4 0 1 0 2.8,0a1.4,1.4 0 1 0 -2.8,0M394.9,237.8a1.4,1.4 0 1 0 2.8,0a1.4,1.4 0 1 0 -2.8,0M395.8,237.4a1.4,1.4 0 1 0 2.8,0a1.4,1.4 0 1 0 -2.8,0M396.8,237.5a1.4,1.4 0 1 0 2.8,0a1.4,1.4 0 1 0 -2.8,0M397.8,236.7a1.4,1.4 0 1 0 2.8,0a1.4,1.4 0 1 0 -2.8,0M398.7,236a1.4,1.4 0 1 0 2.8,0a1.4,1.4 0 1 0 -2.8,0M399.7,233.3a1.4,1.4 0 1 0 2.8,0a1.4,1.4 0 1 0 -2.8,0M400.6,227.3a1.4,1.4 0 1 0 2.8,0a1.4,1.4 0 1 0 -2.8,0M401.6,221a1.4,1.4 0 1 0 2.8,0a1.4,1.4 0 1 0 -2.8,0M402.6,216.9a1.4,1.4 0 1 0 2.8,0a1.4,1.4 0 1 0 -2.8,0M403.5,213.9a1.4,1.4 0 1 0 2.8,0a1.4,1.4 0 1 0 -2.8,0M404.5,210.8a1.4,1.4 0 1 0 2.8,0a1.4,1.4 0 1 0 -2.8,0M405.5,210.9a1.4,1.4 0 1 0 2.8,0a1.4,1.4 0 1 0 -2.8,0M406.4,209.7a1.4,1.4 0 1 0 2.8,0a1.4,1.4 0 1 0 -2.8,0M407.4,206.8a1.4,1.4 0 1 0 2.8,0a1.4,1.4 0 1 0 -2.8,0M408.3,205.2a1.4,1.4 0 1 0 2.8,0a1.4,1.4 0 1 0 -2.8,0M409.3,205.9a1.4,1.4 0 1 0 2.8,0a1.4,1.4 0 1 0 -2.8,0M410.3,211.9a1.4,1.4 0 1 0 2.8,0a1.4,1.4 0 1 0 -2.8,0M411.2,217.2a1.4,1.4 0 1 0 2.8,0a1.4,1.4 0 1 0 -2.8,0M412.2,219.7a1.4,1.4 0 1 0 2.8,0a1.4,1.4 0 1 0 -2.8,0M413.2,222.5a1.4,1.4 0 1 0 2.8,0a1.4,1.4 0 1 0 -2.8,0M414.1,223.6a1.4,1.4 0 1 0 2.8,0a1.4,1.4 0 1 0 -2.8,0M415.1,221.9a1.4,1.4 0 1 0 2.8,0a1.4,1.4 0 1 0 -2.8,0M416,224.1a1.4,1.4 0 1 0 2.8,0a1.4,1.4 0 1 0 -2.8,0M417,224.3a1.4,1.4 0 1 0 2.8,0a1.4,1.4 0 1 0 -2.8,0M418,224.7a1.4,1.4 0 1 0 2.8,0a1.4,1.4 0 1 0 -2.8,0M418.9,223.1a1.4,1.4 0 1 0 2.8,0a1.4,1.4 0 1 0 -2.8,0M419.9,225.7a1.4,1.4 0 1 0 2.8,0a1.4,1.4 0 1 0 -2.8,0M420.9,224.5a1.4,1.4 0 1 0 2.8,0a1.4,1.4 0 1 0 -2.8,0M421.8,223.7a1.4,1.4 0 1 0 2.8,0a1.4,1.4 0 1 0 -2.8,0M422.8,225.3a1.4,1.4 0 1 0 2.8,0a1.4,1.4 0 1 0 -2.8,0M423.8,226.7a1.4,1.4 0 1 0 2.8,0a1.4,1.4 0 1 0 -2.8,0M424.7,227.5a1.4,1.4 0 1 0 2.8,0a1.4,1.4 0 1 0 -2.8,0M425.7,225.8a1.4,1.4 0 1 0 2.8,0a1.4,1.4 0 1 0 -2.8,0M426.6,227.8a1.4,1.4 0 1 0 2.8,0a1.4,1.4 0 1 0 -2.8,0M427.6,227.1a1.4,1.4 0 1 0 2.8,0a1.4,1.4 0 1 0 -2.8,0M428.6,225.8a1.4,1.4 0 1 0 2.8,0a1.4,1.4 0 1 0 -2.8,0M429.5,226.1a1.4,1.4 0 1 0 2.8,0a1.4,1.4 0 1 0 -2.8,0M430.5,228.2a1.4,1.4 0 1 0 2.8,0a1.4,1.4 0 1 0 -2.8,0M431.5,228a1.4,1.4 0 1 0 2.8,0a1.4,1.4 0 1 0 -2.8,0M432.4,228.5a1.4,1.4 0 1 0 2.8,0a1.4,1.4 0 1 0 -2.8,0M433.4,228.7a1.4,1.4 0 1 0 2.8,0a1.4,1.4 0 1 0 -2.8,0M434.3,228.1a1.4,1.4 0 1 0 2.8,0a1.4,1.4 0 1 0 -2.8,0M435.3,229.7a1.4,1.4 0 1 0 2.8,0a1.4,1.4 0 1 0 -2.8,0M436.3,229.8a1.4,1.4 0 1 0 2.8,0a1.4,1.4 0 1 0 -2.8,0M437.2,229.9a1.4,1.4 0 1 0 2.8,0a1.4,1.4 0 1 0 -2.8,0M438.2,229.4a1.4,1.4 0 1 0 2.8,0a1.4,1.4 0 1 0 -2.8,0M439.2,228.8a1.4,1.4 0 1 0 2.8,0a1.4,1.4 0 1 0 -2.8,0M440.1,229.7a1.4,1.4 0 1 0 2.8,0a1.4,1.4 0 1 0 -2.8,0M441.1,229.5a1.4,1.4 0 1 0 2.8,0a1.4,1.4 0 1 0 -2.8,0M442.1,228.4a1.4,1.4 0 1 0 2.8,0a1.4,1.4 0 1 0 -2.8,0M443,228.5a1.4,1.4 0 1 0 2.8,0a1.4,1.4 0 1 0 -2.8,0M444,229.9a1.4,1.4 0 1 0 2.8,0a1.4,1.4 0 1 0 -2.8,0M444.9,228.4a1.4,1.4 0 1 0 2.8,0a1.4,1.4 0 1 0 -2.8,0M445.9,231.6a1.4,1.4 0 1 0 2.8,0a1.4,1.4 0 1 0 -2.8,0M446.9,229.7a1.4,1.4 0 1 0 2.8,0a1.4,1.4 0 1 0 -2.8,0M447.8,229.5a1.4,1.4 0 1 0 2.8,0a1.4,1.4 0 1 0 -2.8,0M448.8,230.6a1.4,1.4 0 1 0 2.8,0a1.4,1.4 0 1 0 -2.8,0M449.8,230.6a1.4,1.4 0 1 0 2.8,0a1.4,1.4 0 1 0 -2.8,0M450.7,231.3a1.4,1.4 0 1 0 2.8,0a1.4,1.4 0 1 0 -2.8,0M451.7,229.7a1.4,1.4 0 1 0 2.8,0a1.4,1.4 0 1 0 -2.8,0M452.6,231.8a1.4,1.4 0 1 0 2.8,0a1.4,1.4 0 1 0 -2.8,0M453.6,230.6a1.4,1.4 0 1 0 2.8,0a1.4,1.4 0 1 0 -2.8,0M454.6,230.2a1.4,1.4 0 1 0 2.8,0a1.4,1.4 0 1 0 -2.8,0M455.5,230a1.4,1.4 0 1 0 2.8,0a1.4,1.4 0 1 0 -2.8,0M456.5,229.7a1.4,1.4 0 1 0 2.8,0a1.4,1.4 0 1 0 -2.8,0M457.5,232.3a1.4,1.4 0 1 0 2.8,0a1.4,1.4 0 1 0 -2.8,0M458.4,232.5a1.4,1.4 0 1 0 2.8,0a1.4,1.4 0 1 0 -2.8,0M459.4,232.2a1.4,1.4 0 1 0 2.8,0a1.4,1.4 0 1 0 -2.8,0M460.3,230.5a1.4,1.4 0 1 0 2.8,0a1.4,1.4 0 1 0 -2.8,0M461.3,231.3a1.4,1.4 0 1 0 2.8,0a1.4,1.4 0 1 0 -2.8,0M462.3,230.9a1.4,1.4 0 1 0 2.8,0a1.4,1.4 0 1 0 -2.8,0M463.2,232a1.4,1.4 0 1 0 2.8,0a1.4,1.4 0 1 0 -2.8,0M464.2,231.8a1.4,1.4 0 1 0 2.8,0a1.4,1.4 0 1 0 -2.8,0M465.2,230.4a1.4,1.4 0 1 0 2.8,0a1.4,1.4 0 1 0 -2.8,0M466.1,232.4a1.4,1.4 0 1 0 2.8,0a1.4,1.4 0 1 0 -2.8,0M467.1,232.4a1.4,1.4 0 1 0 2.8,0a1.4,1.4 0 1 0 -2.8,0M468.1,231.7a1.4,1.4 0 1 0 2.8,0a1.4,1.4 0 1 0 -2.8,0M469,231.2a1.4,1.4 0 1 0 2.8,0a1.4,1.4 0 1 0 -2.8,0M470,231.2a1.4,1.4 0 1 0 2.8,0a1.4,1.4 0 1 0 -2.8,0M470.9,232.4a1.4,1.4 0 1 0 2.8,0a1.4,1.4 0 1 0 -2.8,0M471.9,234.1a1.4,1.4 0 1 0 2.8,0a1.4,1.4 0 1 0 -2.8,0M472.9,234a1.4,1.4 0 1 0 2.8,0a1.4,1.4 0 1 0 -2.8,0M473.8,234.3a1.4,1.4 0 1 0 2.8,0a1.4,1.4 0 1 0 -2.8,0M474.8,234.5a1.4,1.4 0 1 0 2.8,0a1.4,1.4 0 1 0 -2.8,0M475.8,232.6a1.4,1.4 0 1 0 2.8,0a1.4,1.4 0 1 0 -2.8,0M476.7,233.6a1.4,1.4 0 1 0 2.8,0a1.4,1.4 0 1 0 -2.8,0M477.7,234.5a1.4,1.4 0 1 0 2.8,0a1.4,1.4 0 1 0 -2.8,0M478.6,232.5a1.4,1.4 0 1 0 2.8,0a1.4,1.4 0 1 0 -2.8,0M479.6,233.2a1.4,1.4 0 1 0 2.8,0a1.4,1.4 0 1 0 -2.8,0M480.6,233.6a1.4,1.4 0 1 0 2.8,0a1.4,1.4 0 1 0 -2.8,0M481.5,232.7a1.4,1.4 0 1 0 2.8,0a1.4,1.4 0 1 0 -2.8,0M482.5,235.1a1.4,1.4 0 1 0 2.8,0a1.4,1.4 0 1 0 -2.8,0M483.5,234.2a1.4,1.4 0 1 0 2.8,0a1.4,1.4 0 1 0 -2.8,0M484.4,233.9a1.4,1.4 0 1 0 2.8,0a1.4,1.4 0 1 0 -2.8,0M485.4,234.4a1.4,1.4 0 1 0 2.8,0a1.4,1.4 0 1 0 -2.8,0M486.3,235.3a1.4,1.4 0 1 0 2.8,0a1.4,1.4 0 1 0 -2.8,0M487.3,233.9a1.4,1.4 0 1 0 2.8,0a1.4,1.4 0 1 0 -2.8,0M488.3,234a1.4,1.4 0 1 0 2.8,0a1.4,1.4 0 1 0 -2.8,0M489.2,234a1.4,1.4 0 1 0 2.8,0a1.4,1.4 0 1 0 -2.8,0M490.2,235.4a1.4,1.4 0 1 0 2.8,0a1.4,1.4 0 1 0 -2.8,0" fill="#a80d30"/>
<line x1="395.7" y1="171.5" x2="395.7" y2="238.9" stroke="#111" stroke-width="1.25"/>
<line x1="392.7" y1="238.3" x2="395.7" y2="238.3" stroke="#111" stroke-width="1.0"/>
<text transform="translate(389.3,241.2) scale(0.77,1)" font-size="8.5" text-anchor="end" stroke="#3a3a3a" stroke-width="0.1">0</text>
<line x1="392.7" y1="225.5" x2="395.7" y2="225.5" stroke="#111" stroke-width="1.0"/>
<text transform="translate(389.3,228.4) scale(0.77,1)" font-size="8.5" text-anchor="end" stroke="#3a3a3a" stroke-width="0.1">20</text>
<line x1="392.7" y1="212.6" x2="395.7" y2="212.6" stroke="#111" stroke-width="1.0"/>
<text transform="translate(389.3,215.5) scale(0.77,1)" font-size="8.5" text-anchor="end" stroke="#3a3a3a" stroke-width="0.1">40</text>
<line x1="392.7" y1="199.8" x2="395.7" y2="199.8" stroke="#111" stroke-width="1.0"/>
<text transform="translate(389.3,202.7) scale(0.77,1)" font-size="8.5" text-anchor="end" stroke="#3a3a3a" stroke-width="0.1">60</text>
<line x1="392.7" y1="186.9" x2="395.7" y2="186.9" stroke="#111" stroke-width="1.0"/>
<text transform="translate(389.3,189.8) scale(0.77,1)" font-size="8.5" text-anchor="end" stroke="#3a3a3a" stroke-width="0.1">80</text>
<line x1="392.7" y1="174.1" x2="395.7" y2="174.1" stroke="#111" stroke-width="1.0"/>
<text transform="translate(389.3,177) scale(0.77,1)" font-size="8.5" text-anchor="end" stroke="#3a3a3a" stroke-width="0.1">100</text>
<line x1="395.1" y1="238.3" x2="494.2" y2="238.3" stroke="#111" stroke-width="1.25"/>
<line x1="395.3" y1="238.3" x2="395.3" y2="241.3" stroke="#111" stroke-width="1.0"/>
<text transform="translate(395.3,250.7) scale(0.8,1)" font-size="8.2" text-anchor="middle" stroke="#3a3a3a" stroke-width="0.1">0</text>
<line x1="414.6" y1="238.3" x2="414.6" y2="241.3" stroke="#111" stroke-width="1.0"/>
<text transform="translate(414.6,250.7) scale(0.8,1)" font-size="8.2" text-anchor="middle" stroke="#3a3a3a" stroke-width="0.1">10</text>
<line x1="433.8" y1="238.3" x2="433.8" y2="241.3" stroke="#111" stroke-width="1.0"/>
<text transform="translate(433.8,250.7) scale(0.8,1)" font-size="8.2" text-anchor="middle" stroke="#3a3a3a" stroke-width="0.1">20</text>
<line x1="453.1" y1="238.3" x2="453.1" y2="241.3" stroke="#111" stroke-width="1.0"/>
<text transform="translate(453.1,250.7) scale(0.8,1)" font-size="8.2" text-anchor="middle" stroke="#3a3a3a" stroke-width="0.1">30</text>
<line x1="472.3" y1="238.3" x2="472.3" y2="241.3" stroke="#111" stroke-width="1.0"/>
<text transform="translate(472.3,250.7) scale(0.8,1)" font-size="8.2" text-anchor="middle" stroke="#3a3a3a" stroke-width="0.1">40</text>
<line x1="491.6" y1="238.3" x2="491.6" y2="241.3" stroke="#111" stroke-width="1.0"/>
<text transform="translate(491.6,250.7) scale(0.8,1)" font-size="8.2" text-anchor="middle" stroke="#3a3a3a" stroke-width="0.1">50</text>
<text transform="translate(445.8,263.5) scale(0.84,1)" font-size="8.8" text-anchor="middle" stroke="#3a3a3a" stroke-width="0.1">Time (min)</text>
<text transform="translate(371.9,204.4) rotate(-90) scale(0.85,1)" font-size="8.8" text-anchor="middle" stroke="#3a3a3a" stroke-width="0.1">Plasmin (nM)</text>
<text transform="translate(435.4,174.2)" font-size="5.8">Added rmTM (nM)</text>
<line x1="449.3" y1="179.2" x2="456.7" y2="179.2" stroke="#a80d30" stroke-width="1.1"/>
<circle cx="453" cy="179.2" r="1.6" fill="#a80d30"/>
<text transform="translate(459.4,181.3)" font-size="5.8">0</text>
<line x1="449.3" y1="188.8" x2="456.7" y2="188.8" stroke="#13306e" stroke-width="1.1"/>
<circle cx="453" cy="188.8" r="1.6" fill="#13306e"/>
<text transform="translate(459.4,190.9)" font-size="5.8">0.31</text>
<line x1="449.3" y1="198.8" x2="456.7" y2="198.8" stroke="#2f4b8a" stroke-width="1.1"/>
<circle cx="453" cy="198.8" r="1.6" fill="#2f4b8a"/>
<text transform="translate(459.4,200.9)" font-size="5.8">0.62</text>
<line x1="449.3" y1="208.7" x2="456.7" y2="208.7" stroke="#5a70ac" stroke-width="1.1"/>
<circle cx="453" cy="208.7" r="1.6" fill="#5a70ac"/>
<text transform="translate(459.4,210.8)" font-size="5.8">1.25</text>
<line x1="477.5" y1="179.2" x2="484.9" y2="179.2" stroke="#6c7ab2" stroke-width="1.1"/>
<circle cx="481.2" cy="179.2" r="1.6" fill="#6c7ab2"/>
<text transform="translate(486.3,181.3)" font-size="5.8">2.5</text>
<line x1="477.5" y1="188.8" x2="484.9" y2="188.8" stroke="#b4bcde" stroke-width="1.1"/>
<circle cx="481.2" cy="188.8" r="1.6" fill="#b4bcde"/>
<text transform="translate(486.3,190.9)" font-size="5.8">5</text>
<line x1="477.5" y1="198.8" x2="484.9" y2="198.8" stroke="#bdbdbd" stroke-width="1.1"/>
<circle cx="481.2" cy="198.8" r="1.6" fill="#bdbdbd"/>
<text transform="translate(486.3,200.9)" font-size="5.8">10</text>
<line x1="477.5" y1="208.7" x2="484.9" y2="208.7" stroke="#a6bb78" stroke-width="1.1"/>
<circle cx="481.2" cy="208.7" r="1.6" fill="#a6bb78"/>
<text transform="translate(486.3,210.8)" font-size="5.8">10 + PTCI</text>
<text transform="translate(8.7,292.5)" font-size="12.8" font-weight="bold" fill="#111">G</text>
<polyline points="59.1,366.1 59.8,353.4 60.6,340 61.4,328.6 62.1,323.8 62.9,323.6 63.7,323.4 64.5,323.7 65.2,323.4 66,323.5 66.8,323.6 67.6,323.6 68.3,323.6 69.1,323.8 69.9,323.4 70.6,323.8 71.4,323.4 72.2,323.5 73,324 73.7,323.9 74.5,323.8 75.3,323.6 76,324 76.8,323.8 77.6,324 78.4,323.7 79.1,323.6 79.9,323.8 80.7,324.2 81.4,323.8 82.2,324.1 83,323.9 83.8,324.2 84.5,323.9 85.3,323.9 86.1,324.1 86.9,324.1 87.6,324.2 88.4,324.4 89.2,324.7 89.9,324.3 90.7,324.7 91.5,325 92.3,324.8 93,324.9 93.8,325.1 94.6,324.8 95.3,325.4 96.1,325 96.9,325.3 97.7,325.7 98.4,325.7 99.2,325.8 100,326.2 100.7,325.9 101.5,326.1 102.3,326.1 103.1,326.3 103.8,326.5 104.6,326.5 105.4,326.8 106.2,327.1 106.9,327.3 107.7,327.5 108.5,327.5 109.2,327.6 110,327.8 110.8,327.9 111.6,328.6 112.3,328.5 113.1,328.9 113.9,328.7 114.6,328.8 115.4,329 116.2,328.9 117,329.4 117.7,329.2 118.5,329.4 119.3,329.8 120,329.4 120.8,330.1 121.6,330 122.4,330.1 123.1,330.1 123.9,330 124.7,330.4 125.5,330.3 126.2,330.8 127,330.8 127.8,331.2 128.5,331 129.3,331.3 130.1,331.2 130.9,331.8 131.6,331.7 132.4,331.5 133.2,332.3 133.9,332 134.7,332.2 135.5,332.3 136.3,332.6 137,332.8 137.8,332.7 138.6,333.3 139.3,333.2 140.1,333.4 140.9,333.6 141.7,333.9 142.4,334.4 143.2,334.1 144,334.6 144.8,334.5 145.5,334.5 146.3,334.9 147.1,335.3 147.8,335.2 148.6,335.7 149.4,335.9 150.2,335.9 150.9,336.1 151.7,336.2 152.5,336.5" fill="none" stroke="#bdbdbd" stroke-width="2.8" stroke-linejoin="round" stroke-linecap="round"/>
<path d="M93.8,321.1V328.6" stroke="#bdbdbd" stroke-width="0.8" fill="none"/>
<path d="M92.9,321.1a0.9,0.9 0 1 0 1.8,0a0.9,0.9 0 1 0 -1.8,0" fill="#bdbdbd"/>
<polyline points="59.1,365.8 59.8,353.7 60.6,339.8 61.4,328.9 62.1,324 62.9,324.4 63.7,324 64.5,324.5 65.2,324 66,324.4 66.8,324.5 67.6,324.4 68.3,324.2 69.1,324.7 69.9,324.6 70.6,325 71.4,325.1 72.2,325.1 73,325.2 73.7,325.3 74.5,325.2 75.3,325.5 76,325.4 76.8,325.5 77.6,325.7 78.4,325.8 79.1,326.2 79.9,326.3 80.7,326.3 81.4,326.7 82.2,327.1 83,327 83.8,327.2 84.5,327.6 85.3,327.8 86.1,328 86.9,327.8 87.6,327.9 88.4,328.2 89.2,328.5 89.9,329 90.7,329.2 91.5,329 92.3,329.2 93,329.5 93.8,329.9 94.6,330.1 95.3,330.3 96.1,330.6 96.9,330.5 97.7,330.9 98.4,331 99.2,331.4 100,331.5 100.7,331.7 101.5,331.9 102.3,332.6 103.1,332.4 103.8,332.7 104.6,333 105.4,333.5 106.2,333.5 106.9,333.8 107.7,334.5 108.5,334.5 109.2,334.6 110,334.9 110.8,335.1 111.6,335.6 112.3,335.7 113.1,336.4 113.9,336.2 114.6,336.8 115.4,336.6 116.2,336.8 117,337.3 117.7,337.7 118.5,338 119.3,337.9 120,338.3 120.8,338.2 121.6,338.5 122.4,338.7 123.1,338.8 123.9,339.4 124.7,339.4 125.5,339.9 126.2,339.7 127,339.8 127.8,340.4 128.5,340.3 129.3,340.3 130.1,340.9 130.9,341.2 131.6,341.4 132.4,341.2 133.2,341.9 133.9,341.7 134.7,342.3 135.5,342.1 136.3,342.3 137,342.5 137.8,343.2 138.6,343.1 139.3,343.5 140.1,343.4 140.9,343.9 141.7,344.2 142.4,344.3 143.2,344.7 144,344.8 144.8,344.8 145.5,345.2 146.3,345.5 147.1,345.2 147.8,345.9 148.6,345.8 149.4,346.1 150.2,346.3 150.9,346.5 151.7,346.8 152.5,346.8" fill="none" stroke="#b4bcde" stroke-width="2.8" stroke-linejoin="round" stroke-linecap="round"/>
<polyline points="59.1,365.9 59.8,353.1 60.6,340.4 61.4,329.1 62.1,323.1 62.9,323.6 63.7,323.4 64.5,323.4 65.2,323.2 66,324.3 66.8,324.1 67.6,323.4 68.3,324.3 69.1,325.5 69.9,325.5 70.6,326.9 71.4,327.4 72.2,328 73,329 73.7,329.8 74.5,330.1 75.3,330.6 76,331.6 76.8,331.9 77.6,332.2 78.4,334.1 79.1,334.5 79.9,335.5 80.7,335.4 81.4,336.4 82.2,337 83,337.8 83.8,337.7 84.5,338.1 85.3,338.8 86.1,338.5 86.9,339.4 87.6,339.3 88.4,338.6 89.2,339.6 89.9,339.9 90.7,340.2 91.5,339.8 92.3,340.1 93,341.8 93.8,342 94.6,342.9 95.3,343.9 96.1,344.9 96.9,345.7 97.7,347 98.4,346.9 99.2,348.8 100,349.3 100.7,350 101.5,350.8 102.3,351.7 103.1,352.2 103.8,352.2 104.6,353.7 105.4,354.1 106.2,354.3 106.9,354.1 107.7,354.8 108.5,355.1 109.2,355.8 110,356 110.8,355.5 111.6,356.2 112.3,356.1 113.1,356.6 113.9,356.7 114.6,357 115.4,356.2 116.2,356.7 117,357 117.7,357.4 118.5,356.8 119.3,357.2 120,357.9 120.8,357.9 121.6,357 122.4,357.9 123.1,357.8 123.9,358.3 124.7,357.4 125.5,358.3 126.2,358 127,357.8 127.8,358.2 128.5,358.5 129.3,358.7 130.1,358.3 130.9,358.9 131.6,358.6 132.4,358.3 133.2,358.5 133.9,358.9 134.7,359.2 135.5,360 136.3,359.3 137,359.4 137.8,360.4 138.6,361.1 139.3,360.7 140.1,361.2 140.9,361 141.7,361.4 142.4,362.1 143.2,362.3 144,362.7 144.8,362.8 145.5,363.2 146.3,363.5 147.1,364.5 147.8,364.1 148.6,365.5 149.4,365.7 150.2,365.7 150.9,366.1" fill="none" stroke="#6c7ab2" stroke-width="2.6" stroke-linejoin="round" stroke-linecap="round"/>
<polyline points="59.1,365.7 59.8,354.2 60.6,341 61.4,330.1 62.1,323.1 62.9,323.6 63.7,323.5 64.5,323.4 65.2,323.7 66,323.7 66.8,324.1 67.6,324.7 68.3,325.8 69.1,325.5 69.9,326.5 70.6,327.2 71.4,328.1 72.2,329.1 73,329.9 73.7,332.2 74.5,334.4 75.3,336 76,339.2 76.8,342 77.6,345.3 78.4,348.6 79.1,352.5 79.9,356 80.7,358.9 81.4,361.8 82.2,364.4 83,365.1 83.8,365.8 84.5,366.1 85.3,366.1 86.1,365.7 86.9,365.9 87.6,366.1 88.4,366 89.2,365.7 89.9,366.1 90.7,366 91.5,366.1 92.3,366.1 93,366.1 93.8,366.1 94.6,366.1 95.3,366.1 96.1,365.8 96.9,366.1 97.7,366.1 98.4,365.8 99.2,365.7 100,365.8 100.7,366.1 101.5,366.1 102.3,365.9 103.1,366.1 103.8,366.1 104.6,366.1 105.4,366.1 106.2,366.1 106.9,366.1 107.7,365.7 108.5,366.1 109.2,366.1 110,366.1 110.8,366.1 111.6,365.9 112.3,365.8 113.1,365.9 113.9,365.7 114.6,366 115.4,366.1 116.2,366.1 117,366.1 117.7,366.1 118.5,366.1 119.3,365.8 120,366 120.8,366.1 121.6,366.1 122.4,366.1 123.1,365.8 123.9,365.8 124.7,366 125.5,366 126.2,366.1 127,366.1 127.8,365.8 128.5,365.9 129.3,366.1 130.1,365.7 130.9,365.8 131.6,365.9 132.4,366.1 133.2,365.7 133.9,366.1 134.7,366.1 135.5,366.1 136.3,366.1 137,365.9 137.8,366 138.6,366.1 139.3,366.1 140.1,365.9 140.9,366.1 141.7,366.1 142.4,365.8 143.2,366.1 144,366.1 144.8,366.1 145.5,365.9 146.3,366.1 147.1,366 147.8,366.1 148.6,365.8 149.4,366.1 150.2,366.1 150.9,366.1 151.7,366.1" fill="none" stroke="#2f4b8a" stroke-width="2.6" stroke-linejoin="round" stroke-linecap="round"/>
<polyline points="59.1,366.1 59.8,353.8 60.6,342.1 61.4,330.8 62.1,324 62.9,324.1 63.7,324.5 64.5,324.4 65.2,324.4 66,324.6 66.8,325.4 67.6,326 68.3,326.7 69.1,327.4 69.9,327.9 70.6,329 71.4,329.9 72.2,331 73,332.5 73.7,335 74.5,337.3 75.3,339.8 76,343 76.8,346.1 77.6,350.9 78.4,355.1 79.1,358.8 79.9,361.7 80.7,364.3 81.4,365 82.2,365.9 83,366.1 83.8,365.7" fill="none" stroke="#5a6eab" stroke-width="2.6" stroke-linejoin="round" stroke-linecap="round"/>
<polyline points="59.1,365.7 59.8,347.7 60.6,331.3 61.4,326.4 62.1,326.2 62.9,326 63.7,326.5 64.5,326.7 65.2,326.6 66,326.8 66.8,326.3 67.6,326 68.3,326.7 69.1,326.7 69.9,328.6 70.6,330.1 71.4,333.1 72.2,336.5 73,340.9 73.7,346.5 74.5,352.3 75.3,358.8 76,362.2 76.8,364.4 77.6,366.1 78.4,365.9" fill="none" stroke="#a6bb78" stroke-width="2.0" stroke-linejoin="round" stroke-linecap="round"/>
<polyline points="59.1,366.1 59.8,353.9 60.6,341.5 61.4,330.1 62.1,323.1 62.9,323.6 63.7,323.1 64.5,323.4 65.2,323.4 66,324.1 66.8,324 67.6,324.4 68.3,324.7 69.1,325.4 69.9,325.5 70.6,326.4 71.4,327 72.2,327.7 73,328.5 73.7,329.2 74.5,330.3 75.3,331.6 76,333.3 76.8,335 77.6,338.3 78.4,341.8 79.1,345.9 79.9,349.8 80.7,354.5 81.4,359.3 82.2,363.1 83,365.8 83.8,365.8 84.5,365.9 85.3,366.1 86.1,366.1 86.9,366.1 87.6,366 88.4,366.1 89.2,365.8 89.9,366.1 90.7,366.1 91.5,366.1 92.3,366.1 93,366.1 93.8,366.1 94.6,366.1 95.3,365.8 96.1,366.1 96.9,366.1 97.7,366 98.4,366.1 99.2,366.1 100,366.1 100.7,366.1 101.5,366 102.3,366.1 103.1,366.1 103.8,366.1 104.6,366.1 105.4,366.1 106.2,366 106.9,366 107.7,365.8 108.5,366.1 109.2,366.1 110,366 110.8,365.9 111.6,366.1 112.3,365.9 113.1,366.1 113.9,366.1 114.6,366.1 115.4,366.1 116.2,366 117,366.1 117.7,365.8 118.5,365.8 119.3,366.1 120,366.1 120.8,366.1 121.6,366.1 122.4,366.1 123.1,365.9 123.9,366.1 124.7,365.9 125.5,366.1 126.2,366.1 127,365.8 127.8,366.1 128.5,366.1 129.3,365.9 130.1,365.9 130.9,365.9 131.6,365.9 132.4,366.1 133.2,366.1 133.9,366 134.7,366.1 135.5,366 136.3,366.1 137,366.1 137.8,366.1 138.6,366.1 139.3,366.1 140.1,365.9 140.9,366.1 141.7,366.1 142.4,366.1 143.2,366.1 144,365.8 144.8,365.9 145.5,366.1 146.3,366.1 147.1,366.1 147.8,365.9 148.6,366.1 149.4,366.1 150.2,366.1 150.9,366.1 151.7,366" fill="none" stroke="#13306e" stroke-width="2.6" stroke-linejoin="round" stroke-linecap="round"/>
<polyline points="54.4,362.4 55,363.8 55.6,364.4 56.2,364.8 56.7,365.7 57.3,365.3 57.9,365 58.5,331.2 59.1,323.1 59.6,323 60.2,326.7 60.8,327.6 61.4,326.9 62,327.2 62.5,326.5 63.1,326.5 63.7,326.9 64.3,326.4 64.8,326.6 65.4,326.6 66,326.9 66.6,326.3 67.2,326.8 67.7,327 68.3,326.1 68.9,326.8 69.5,327.2 70.1,328 70.6,329 71.2,330.1 71.8,332.4 72.4,333.7 73,335.8 73.5,337.5 74.1,341.4 74.7,345.3 75.3,349 75.9,352.3 76.4,356.6 77,359.6 77.6,361.8 78.2,363 78.7,363.7 79.3,364.5 79.9,364.8 80.5,365.1 81.1,365.4 81.6,364.8 82.2,365.1 82.8,365.3 83.4,365.1 84,365.6 84.5,364.8 85.1,365.3 85.7,365.5 86.3,363.6 86.9,361.4 87.4,358.7 88,357.5 88.6,355.6 89.2,354.8 89.7,355.1 90.3,354.3 90.9,354.6 91.5,354.6 92.1,354.5 92.6,354.9 93.2,354.2 93.8,355.1 94.4,355.5 95,355.7 95.5,356.6 96.1,356.9 96.7,357.2 97.3,357.9 97.9,358.8 98.4,359.7 99,359.5 99.6,360.1 100.2,360.7 100.7,362.3 101.3,362.7 101.9,362.9 102.5,362.4 103.1,362.8 103.6,362.4 104.2,362.4 104.8,362.7 105.4,363.1 106,362.6 106.5,364.6 107.1,365.8" fill="none" stroke="#a80d30" stroke-width="2.4" stroke-linejoin="round" stroke-linecap="round"/>
<path d="M52.9,362.4a1.5,1.5 0 1 0 3,0a1.5,1.5 0 1 0 -3,0M53.5,363.8a1.5,1.5 0 1 0 3,0a1.5,1.5 0 1 0 -3,0M54.1,364.4a1.5,1.5 0 1 0 3,0a1.5,1.5 0 1 0 -3,0M54.7,364.8a1.5,1.5 0 1 0 3,0a1.5,1.5 0 1 0 -3,0M55.2,365.7a1.5,1.5 0 1 0 3,0a1.5,1.5 0 1 0 -3,0M55.8,365.3a1.5,1.5 0 1 0 3,0a1.5,1.5 0 1 0 -3,0M56.4,365a1.5,1.5 0 1 0 3,0a1.5,1.5 0 1 0 -3,0M57,331.2a1.5,1.5 0 1 0 3,0a1.5,1.5 0 1 0 -3,0M57.6,323.1a1.5,1.5 0 1 0 3,0a1.5,1.5 0 1 0 -3,0M58.1,323a1.5,1.5 0 1 0 3,0a1.5,1.5 0 1 0 -3,0M58.7,326.7a1.5,1.5 0 1 0 3,0a1.5,1.5 0 1 0 -3,0M59.3,327.6a1.5,1.5 0 1 0 3,0a1.5,1.5 0 1 0 -3,0M59.9,326.9a1.5,1.5 0 1 0 3,0a1.5,1.5 0 1 0 -3,0M60.5,327.2a1.5,1.5 0 1 0 3,0a1.5,1.5 0 1 0 -3,0M61,326.5a1.5,1.5 0 1 0 3,0a1.5,1.5 0 1 0 -3,0M61.6,326.5a1.5,1.5 0 1 0 3,0a1.5,1.5 0 1 0 -3,0M62.2,326.9a1.5,1.5 0 1 0 3,0a1.5,1.5 0 1 0 -3,0M62.8,326.4a1.5,1.5 0 1 0 3,0a1.5,1.5 0 1 0 -3,0M63.3,326.6a1.5,1.5 0 1 0 3,0a1.5,1.5 0 1 0 -3,0M63.9,326.6a1.5,1.5 0 1 0 3,0a1.5,1.5 0 1 0 -3,0M64.5,326.9a1.5,1.5 0 1 0 3,0a1.5,1.5 0 1 0 -3,0M65.1,326.3a1.5,1.5 0 1 0 3,0a1.5,1.5 0 1 0 -3,0M65.7,326.8a1.5,1.5 0 1 0 3,0a1.5,1.5 0 1 0 -3,0M66.2,327a1.5,1.5 0 1 0 3,0a1.5,1.5 0 1 0 -3,0M66.8,326.1a1.5,1.5 0 1 0 3,0a1.5,1.5 0 1 0 -3,0M67.4,326.8a1.5,1.5 0 1 0 3,0a1.5,1.5 0 1 0 -3,0M68,327.2a1.5,1.5 0 1 0 3,0a1.5,1.5 0 1 0 -3,0M68.6,328a1.5,1.5 0 1 0 3,0a1.5,1.5 0 1 0 -3,0M69.1,329a1.5,1.5 0 1 0 3,0a1.5,1.5 0 1 0 -3,0M69.7,330.1a1.5,1.5 0 1 0 3,0a1.5,1.5 0 1 0 -3,0M70.3,332.4a1.5,1.5 0 1 0 3,0a1.5,1.5 0 1 0 -3,0M70.9,333.7a1.5,1.5 0 1 0 3,0a1.5,1.5 0 1 0 -3,0M71.5,335.8a1.5,1.5 0 1 0 3,0a1.5,1.5 0 1 0 -3,0M72,337.5a1.5,1.5 0 1 0 3,0a1.5,1.5 0 1 0 -3,0M72.6,341.4a1.5,1.5 0 1 0 3,0a1.5,1.5 0 1 0 -3,0M73.2,345.3a1.5,1.5 0 1 0 3,0a1.5,1.5 0 1 0 -3,0M73.8,349a1.5,1.5 0 1 0 3,0a1.5,1.5 0 1 0 -3,0M74.4,352.3a1.5,1.5 0 1 0 3,0a1.5,1.5 0 1 0 -3,0M74.9,356.6a1.5,1.5 0 1 0 3,0a1.5,1.5 0 1 0 -3,0M75.5,359.6a1.5,1.5 0 1 0 3,0a1.5,1.5 0 1 0 -3,0M76.1,361.8a1.5,1.5 0 1 0 3,0a1.5,1.5 0 1 0 -3,0M76.7,363a1.5,1.5 0 1 0 3,0a1.5,1.5 0 1 0 -3,0M77.2,363.7a1.5,1.5 0 1 0 3,0a1.5,1.5 0 1 0 -3,0M77.8,364.5a1.5,1.5 0 1 0 3,0a1.5,1.5 0 1 0 -3,0M78.4,364.8a1.5,1.5 0 1 0 3,0a1.5,1.5 0 1 0 -3,0M79,365.1a1.5,1.5 0 1 0 3,0a1.5,1.5 0 1 0 -3,0M79.6,365.4a1.5,1.5 0 1 0 3,0a1.5,1.5 0 1 0 -3,0M80.1,364.8a1.5,1.5 0 1 0 3,0a1.5,1.5 0 1 0 -3,0M80.7,365.1a1.5,1.5 0 1 0 3,0a1.5,1.5 0 1 0 -3,0M81.3,365.3a1.5,1.5 0 1 0 3,0a1.5,1.5 0 1 0 -3,0M81.9,365.1a1.5,1.5 0 1 0 3,0a1.5,1.5 0 1 0 -3,0M82.5,365.6a1.5,1.5 0 1 0 3,0a1.5,1.5 0 1 0 -3,0M83,364.8a1.5,1.5 0 1 0 3,0a1.5,1.5 0 1 0 -3,0M83.6,365.3a1.5,1.5 0 1 0 3,0a1.5,1.5 0 1 0 -3,0M84.2,365.5a1.5,1.5 0 1 0 3,0a1.5,1.5 0 1 0 -3,0M84.8,363.6a1.5,1.5 0 1 0 3,0a1.5,1.5 0 1 0 -3,0M85.4,361.4a1.5,1.5 0 1 0 3,0a1.5,1.5 0 1 0 -3,0M85.9,358.7a1.5,1.5 0 1 0 3,0a1.5,1.5 0 1 0 -3,0M86.5,357.5a1.5,1.5 0 1 0 3,0a1.5,1.5 0 1 0 -3,0M87.1,355.6a1.5,1.5 0 1 0 3,0a1.5,1.5 0 1 0 -3,0M87.7,354.8a1.5,1.5 0 1 0 3,0a1.5,1.5 0 1 0 -3,0M88.2,355.1a1.5,1.5 0 1 0 3,0a1.5,1.5 0 1 0 -3,0M88.8,354.3a1.5,1.5 0 1 0 3,0a1.5,1.5 0 1 0 -3,0M89.4,354.6a1.5,1.5 0 1 0 3,0a1.5,1.5 0 1 0 -3,0M90,354.6a1.5,1.5 0 1 0 3,0a1.5,1.5 0 1 0 -3,0M90.6,354.5a1.5,1.5 0 1 0 3,0a1.5,1.5 0 1 0 -3,0M91.1,354.9a1.5,1.5 0 1 0 3,0a1.5,1.5 0 1 0 -3,0M91.7,354.2a1.5,1.5 0 1 0 3,0a1.5,1.5 0 1 0 -3,0M92.3,355.1a1.5,1.5 0 1 0 3,0a1.5,1.5 0 1 0 -3,0M92.9,355.5a1.5,1.5 0 1 0 3,0a1.5,1.5 0 1 0 -3,0M93.5,355.7a1.5,1.5 0 1 0 3,0a1.5,1.5 0 1 0 -3,0M94,356.6a1.5,1.5 0 1 0 3,0a1.5,1.5 0 1 0 -3,0M94.6,356.9a1.5,1.5 0 1 0 3,0a1.5,1.5 0 1 0 -3,0M95.2,357.2a1.5,1.5 0 1 0 3,0a1.5,1.5 0 1 0 -3,0M95.8,357.9a1.5,1.5 0 1 0 3,0a1.5,1.5 0 1 0 -3,0M96.4,358.8a1.5,1.5 0 1 0 3,0a1.5,1.5 0 1 0 -3,0M96.9,359.7a1.5,1.5 0 1 0 3,0a1.5,1.5 0 1 0 -3,0M97.5,359.5a1.5,1.5 0 1 0 3,0a1.5,1.5 0 1 0 -3,0M98.1,360.1a1.5,1.5 0 1 0 3,0a1.5,1.5 0 1 0 -3,0M98.7,360.7a1.5,1.5 0 1 0 3,0a1.5,1.5 0 1 0 -3,0M99.2,362.3a1.5,1.5 0 1 0 3,0a1.5,1.5 0 1 0 -3,0M99.8,362.7a1.5,1.5 0 1 0 3,0a1.5,1.5 0 1 0 -3,0M100.4,362.9a1.5,1.5 0 1 0 3,0a1.5,1.5 0 1 0 -3,0M101,362.4a1.5,1.5 0 1 0 3,0a1.5,1.5 0 1 0 -3,0M101.6,362.8a1.5,1.5 0 1 0 3,0a1.5,1.5 0 1 0 -3,0M102.1,362.4a1.5,1.5 0 1 0 3,0a1.5,1.5 0 1 0 -3,0M102.7,362.4a1.5,1.5 0 1 0 3,0a1.5,1.5 0 1 0 -3,0M103.3,362.7a1.5,1.5 0 1 0 3,0a1.5,1.5 0 1 0 -3,0M103.9,363.1a1.5,1.5 0 1 0 3,0a1.5,1.5 0 1 0 -3,0M104.5,362.6a1.5,1.5 0 1 0 3,0a1.5,1.5 0 1 0 -3,0M105,364.6a1.5,1.5 0 1 0 3,0a1.5,1.5 0 1 0 -3,0M105.6,365.8a1.5,1.5 0 1 0 3,0a1.5,1.5 0 1 0 -3,0" fill="#a80d30"/>
<polyline points="119.3,365.1 119.9,364.3 120.4,364.1 121,364.7 121.6,363.8 122.2,363.8 122.8,363.8 123.3,364.4 123.9,363.7 124.5,364.2 125.1,363.9 125.6,364.2 126.2,364.1 126.8,364.2" fill="none" stroke="#a80d30" stroke-width="2.2" stroke-linejoin="round" stroke-linecap="round"/>
<path d="M118.1,365.1a1.2,1.2 0 1 0 2.4,0a1.2,1.2 0 1 0 -2.4,0M118.7,364.3a1.2,1.2 0 1 0 2.4,0a1.2,1.2 0 1 0 -2.4,0M119.2,364.1a1.2,1.2 0 1 0 2.4,0a1.2,1.2 0 1 0 -2.4,0M119.8,364.7a1.2,1.2 0 1 0 2.4,0a1.2,1.2 0 1 0 -2.4,0M120.4,363.8a1.2,1.2 0 1 0 2.4,0a1.2,1.2 0 1 0 -2.4,0M121,363.8a1.2,1.2 0 1 0 2.4,0a1.2,1.2 0 1 0 -2.4,0M121.5,363.8a1.2,1.2 0 1 0 2.4,0a1.2,1.2 0 1 0 -2.4,0M122.1,364.4a1.2,1.2 0 1 0 2.4,0a1.2,1.2 0 1 0 -2.4,0M122.7,363.7a1.2,1.2 0 1 0 2.4,0a1.2,1.2 0 1 0 -2.4,0M123.3,364.2a1.2,1.2 0 1 0 2.4,0a1.2,1.2 0 1 0 -2.4,0M123.9,363.9a1.2,1.2 0 1 0 2.4,0a1.2,1.2 0 1 0 -2.4,0M124.4,364.2a1.2,1.2 0 1 0 2.4,0a1.2,1.2 0 1 0 -2.4,0M125,364.1a1.2,1.2 0 1 0 2.4,0a1.2,1.2 0 1 0 -2.4,0M125.6,364.2a1.2,1.2 0 1 0 2.4,0a1.2,1.2 0 1 0 -2.4,0" fill="#a80d30"/>
<line x1="55.4" y1="299.6" x2="55.4" y2="366.8" stroke="#111" stroke-width="1.25"/>
<line x1="52.4" y1="366.1" x2="55.4" y2="366.1" stroke="#111" stroke-width="1.0"/>
<text transform="translate(49,369) scale(0.77,1)" font-size="8.5" text-anchor="end" stroke="#3a3a3a" stroke-width="0.1">0.00</text>
<line x1="52.4" y1="344.7" x2="55.4" y2="344.7" stroke="#111" stroke-width="1.0"/>
<text transform="translate(49,347.6) scale(0.77,1)" font-size="8.5" text-anchor="end" stroke="#3a3a3a" stroke-width="0.1">0.01</text>
<line x1="52.4" y1="323.2" x2="55.4" y2="323.2" stroke="#111" stroke-width="1.0"/>
<text transform="translate(49,326.2) scale(0.77,1)" font-size="8.5" text-anchor="end" stroke="#3a3a3a" stroke-width="0.1">0.02</text>
<line x1="52.4" y1="301.8" x2="55.4" y2="301.8" stroke="#111" stroke-width="1.0"/>
<text transform="translate(49,304.7) scale(0.77,1)" font-size="8.5" text-anchor="end" stroke="#3a3a3a" stroke-width="0.1">0.03</text>
<line x1="54.8" y1="366.1" x2="153.8" y2="366.1" stroke="#111" stroke-width="1.25"/>
<line x1="55.2" y1="366.1" x2="55.2" y2="369.1" stroke="#111" stroke-width="1.0"/>
<text transform="translate(55.2,378.5) scale(0.8,1)" font-size="8.2" text-anchor="middle" stroke="#3a3a3a" stroke-width="0.1">0</text>
<line x1="74.5" y1="366.1" x2="74.5" y2="369.1" stroke="#111" stroke-width="1.0"/>
<text transform="translate(74.5,378.5) scale(0.8,1)" font-size="8.2" text-anchor="middle" stroke="#3a3a3a" stroke-width="0.1">10</text>
<line x1="93.8" y1="366.1" x2="93.8" y2="369.1" stroke="#111" stroke-width="1.0"/>
<text transform="translate(93.8,378.5) scale(0.8,1)" font-size="8.2" text-anchor="middle" stroke="#3a3a3a" stroke-width="0.1">20</text>
<line x1="113.1" y1="366.1" x2="113.1" y2="369.1" stroke="#111" stroke-width="1.0"/>
<text transform="translate(113.1,378.5) scale(0.8,1)" font-size="8.2" text-anchor="middle" stroke="#3a3a3a" stroke-width="0.1">30</text>
<line x1="132.4" y1="366.1" x2="132.4" y2="369.1" stroke="#111" stroke-width="1.0"/>
<text transform="translate(132.4,378.5) scale(0.8,1)" font-size="8.2" text-anchor="middle" stroke="#3a3a3a" stroke-width="0.1">40</text>
<line x1="151.7" y1="366.1" x2="151.7" y2="369.1" stroke="#111" stroke-width="1.0"/>
<text transform="translate(151.7,378.5) scale(0.8,1)" font-size="8.2" text-anchor="middle" stroke="#3a3a3a" stroke-width="0.1">50</text>
<text transform="translate(105.3,391.7) scale(0.84,1)" font-size="8.8" text-anchor="middle" stroke="#3a3a3a" stroke-width="0.1">Time (min)</text>
<text transform="translate(18.6,333.8) rotate(-90) scale(0.827,1)" font-size="9.0" text-anchor="middle" stroke="#3a3a3a" stroke-width="0.1">Fibrin formation &amp;</text>
<text transform="translate(29.2,334) rotate(-90) scale(0.784,1)" font-size="9.0" text-anchor="middle" stroke="#3a3a3a" stroke-width="0.1">lysis (Abs 405 nm)</text>
<text transform="translate(90.8,303.2)" font-size="5.8">Added rmTM (nM)</text>
<line x1="85.1" y1="307.7" x2="92.5" y2="307.7" stroke="#a80d30" stroke-width="1.1"/>
<circle cx="88.8" cy="307.7" r="1.2" fill="#a80d30"/>
<text transform="translate(95.2,309.8)" font-size="5.8">0</text>
<line x1="85.1" y1="314.8" x2="92.5" y2="314.8" stroke="#13306e" stroke-width="1.1"/>
<circle cx="88.8" cy="314.8" r="1.2" fill="#13306e"/>
<text transform="translate(95.2,316.9)" font-size="5.8">0.31</text>
<line x1="111.1" y1="307.7" x2="118.5" y2="307.7" stroke="#2f4b8a" stroke-width="1.1"/>
<circle cx="114.8" cy="307.7" r="1.2" fill="#2f4b8a"/>
<text transform="translate(121.2,309.8)" font-size="5.8">0.62</text>
<line x1="111.1" y1="314.8" x2="118.5" y2="314.8" stroke="#5a6eab" stroke-width="1.1"/>
<circle cx="114.8" cy="314.8" r="1.2" fill="#5a6eab"/>
<text transform="translate(121.2,316.9)" font-size="5.8">1.25</text>
<line x1="111.1" y1="322.1" x2="118.5" y2="322.1" stroke="#6c7ab2" stroke-width="1.1"/>
<circle cx="114.8" cy="322.1" r="1.2" fill="#6c7ab2"/>
<text transform="translate(121.2,324.2)" font-size="5.8">2.5</text>
<line x1="139" y1="307.7" x2="146.4" y2="307.7" stroke="#b4bcde" stroke-width="1.1"/>
<circle cx="142.7" cy="307.7" r="1.2" fill="#b4bcde"/>
<text transform="translate(148.1,309.8)" font-size="5.8">5</text>
<line x1="139" y1="314.8" x2="146.4" y2="314.8" stroke="#bdbdbd" stroke-width="1.1"/>
<circle cx="142.7" cy="314.8" r="1.2" fill="#bdbdbd"/>
<text transform="translate(148.1,316.9)" font-size="5.8">10</text>
<line x1="139" y1="322.1" x2="146.4" y2="322.1" stroke="#a6bb78" stroke-width="1.1"/>
<circle cx="142.7" cy="322.1" r="1.2" fill="#a6bb78"/>
<text transform="translate(148.1,324.2)" font-size="5.8">10 + PTCI</text>
<text transform="translate(191.2,292.7)" font-size="12.8" font-weight="bold" fill="#111">H</text>
<path d="M233.6,364.8l1.2,2.1h-2.4zM234.6,364.5l1.2,2.1h-2.4zM235.5,363.7l1.2,2.1h-2.4zM236.5,364.8l1.2,2.1h-2.4zM237.4,364.8l1.2,2.1h-2.4zM238.4,363.9l1.2,2.1h-2.4zM239.4,364.2l1.2,2.1h-2.4zM240.3,364.1l1.2,2.1h-2.4zM241.3,363.1l1.2,2.1h-2.4zM242.2,361.5l1.2,2.1h-2.4zM243.2,358.7l1.2,2.1h-2.4zM244.2,353l1.2,2.1h-2.4zM245.1,347.6l1.2,2.1h-2.4zM246.1,343.4l1.2,2.1h-2.4zM247,338.5l1.2,2.1h-2.4zM248,334.8l1.2,2.1h-2.4zM249,330.2l1.2,2.1h-2.4zM249.9,329l1.2,2.1h-2.4zM250.9,328.5l1.2,2.1h-2.4zM251.8,332.6l1.2,2.1h-2.4zM252.8,334.9l1.2,2.1h-2.4zM253.8,334.3l1.2,2.1h-2.4zM254.7,337.8l1.2,2.1h-2.4zM255.7,337.2l1.2,2.1h-2.4zM256.6,339.7l1.2,2.1h-2.4zM257.6,340.5l1.2,2.1h-2.4zM258.6,341.9l1.2,2.1h-2.4zM259.5,344.2l1.2,2.1h-2.4zM260.5,343.1l1.2,2.1h-2.4zM261.4,345.2l1.2,2.1h-2.4zM262.4,345.2l1.2,2.1h-2.4zM263.4,346.5l1.2,2.1h-2.4zM264.3,347.2l1.2,2.1h-2.4zM265.3,346.6l1.2,2.1h-2.4zM266.2,348l1.2,2.1h-2.4zM267.2,347.1l1.2,2.1h-2.4zM268.2,345.9l1.2,2.1h-2.4zM269.1,345.8l1.2,2.1h-2.4zM270.1,347.9l1.2,2.1h-2.4zM271,349.1l1.2,2.1h-2.4zM272,348.7l1.2,2.1h-2.4zM273,349.9l1.2,2.1h-2.4zM273.9,349.7l1.2,2.1h-2.4zM274.9,348.7l1.2,2.1h-2.4zM275.8,349l1.2,2.1h-2.4zM276.8,351.1l1.2,2.1h-2.4zM277.8,350l1.2,2.1h-2.4zM278.7,350.4l1.2,2.1h-2.4zM279.7,350.8l1.2,2.1h-2.4zM280.6,351.9l1.2,2.1h-2.4zM281.6,351.3l1.2,2.1h-2.4zM282.6,352.5l1.2,2.1h-2.4zM283.5,350.9l1.2,2.1h-2.4zM284.5,351.3l1.2,2.1h-2.4zM285.4,351.6l1.2,2.1h-2.4zM286.4,352.5l1.2,2.1h-2.4zM287.4,351l1.2,2.1h-2.4zM288.3,353.1l1.2,2.1h-2.4zM289.3,353.9l1.2,2.1h-2.4zM290.2,353.6l1.2,2.1h-2.4zM291.2,352.1l1.2,2.1h-2.4zM292.2,354.7l1.2,2.1h-2.4zM293.1,353l1.2,2.1h-2.4zM294.1,352.7l1.2,2.1h-2.4zM295,353.2l1.2,2.1h-2.4zM296,354.7l1.2,2.1h-2.4zM297,354.9l1.2,2.1h-2.4zM297.9,353.8l1.2,2.1h-2.4zM298.9,354.5l1.2,2.1h-2.4zM299.8,354.4l1.2,2.1h-2.4zM300.8,356.6l1.2,2.1h-2.4zM301.8,355.4l1.2,2.1h-2.4zM302.7,355.2l1.2,2.1h-2.4zM303.7,357l1.2,2.1h-2.4zM304.6,357.3l1.2,2.1h-2.4zM305.6,355.5l1.2,2.1h-2.4zM306.6,356.6l1.2,2.1h-2.4zM307.5,357.3l1.2,2.1h-2.4zM308.5,357.2l1.2,2.1h-2.4zM309.4,358.1l1.2,2.1h-2.4zM310.4,358.4l1.2,2.1h-2.4zM311.4,359l1.2,2.1h-2.4zM312.3,358.3l1.2,2.1h-2.4zM313.3,359.3l1.2,2.1h-2.4zM314.2,357.2l1.2,2.1h-2.4zM315.2,357.2l1.2,2.1h-2.4zM316.2,358.6l1.2,2.1h-2.4zM317.1,360.4l1.2,2.1h-2.4zM318.1,359l1.2,2.1h-2.4zM319,360.7l1.2,2.1h-2.4zM320,360.2l1.2,2.1h-2.4zM321,361.2l1.2,2.1h-2.4zM321.9,360.3l1.2,2.1h-2.4zM322.9,361.9l1.2,2.1h-2.4zM323.8,361.5l1.2,2.1h-2.4zM324.8,361.9l1.2,2.1h-2.4zM325.8,361.4l1.2,2.1h-2.4zM326.7,360.1l1.2,2.1h-2.4zM327.7,361.5l1.2,2.1h-2.4zM328.6,361.1l1.2,2.1h-2.4zM329.6,361.5l1.2,2.1h-2.4z" fill="#2a4585"/>
<path d="M295,362.9V357.2M320,365.5V361" stroke="#2a4585" stroke-width="0.7" fill="none"/>
<path d="M294.4,362.9a0.6,0.6 0 1 0 1.2,0a0.6,0.6 0 1 0 -1.2,0M319.4,365.5a0.6,0.6 0 1 0 1.2,0a0.6,0.6 0 1 0 -1.2,0" fill="#2a4585"/>
<polyline points="259.5,352 260.5,353 261.4,349.1 262.4,349.8 263.4,346.9 264.3,343.1 265.3,342.4 266.2,339.8 267.2,339 268.2,335.4 269.1,335.6 270.1,339.1 271,339.3 272,337 273,335.1 273.9,332.4 274.9,332.2 275.8,330.8 276.8,332.8 277.8,333.9 278.7,335.9 279.7,336.2 280.6,337.7 281.6,338.6 282.6,338.7 283.5,341.7 284.5,342.6 285.4,343.2 286.4,342.6 287.4,345.5 288.3,346.3 289.3,346.6 290.2,346.5 291.2,348.4 292.2,349.4 293.1,348.3 294.1,349.4 295,349.9 296,352.3 297,352.1 297.9,353.1 298.9,352.8 299.8,351.5 300.8,351.7 301.8,352.6 302.7,354.5 303.7,354.3 304.6,353.6 305.6,355.7 306.6,355.8 307.5,355.1 308.5,356.6 309.4,356.4 310.4,357 311.4,355.8 312.3,357 313.3,358.6 314.2,359.1 315.2,357.3 316.2,359.2 317.1,357.6 318.1,359.2 319,358.4 320,359.2 321,358.4 321.9,360.3 322.9,359.6 323.8,359 324.8,360.5 325.8,358.4 326.7,358.6 327.7,358.9 328.6,359.3 329.6,359.6" fill="none" stroke="#9184d0" stroke-width="1.0" stroke-linejoin="round" stroke-linecap="round" stroke-opacity="0.6"/>
<path d="M259.5,350.2l1.7,2.8h-3.3zM260.5,351.2l1.7,2.8h-3.3zM261.4,347.3l1.7,2.8h-3.3zM262.4,348l1.7,2.8h-3.3zM263.4,345.1l1.7,2.8h-3.3zM264.3,341.3l1.7,2.8h-3.3zM265.3,340.6l1.7,2.8h-3.3zM266.2,338l1.7,2.8h-3.3zM267.2,337.2l1.7,2.8h-3.3zM268.2,333.6l1.7,2.8h-3.3zM269.1,333.8l1.7,2.8h-3.3zM270.1,337.3l1.7,2.8h-3.3zM271,337.5l1.7,2.8h-3.3zM272,335.2l1.7,2.8h-3.3zM273,333.3l1.7,2.8h-3.3zM273.9,330.6l1.7,2.8h-3.3zM274.9,330.4l1.7,2.8h-3.3zM275.8,329l1.7,2.8h-3.3zM276.8,331l1.7,2.8h-3.3zM277.8,332.1l1.7,2.8h-3.3zM278.7,334.1l1.7,2.8h-3.3zM279.7,334.4l1.7,2.8h-3.3zM280.6,335.9l1.7,2.8h-3.3zM281.6,336.8l1.7,2.8h-3.3zM282.6,336.9l1.7,2.8h-3.3zM283.5,339.9l1.7,2.8h-3.3zM284.5,340.8l1.7,2.8h-3.3zM285.4,341.4l1.7,2.8h-3.3zM286.4,340.8l1.7,2.8h-3.3zM287.4,343.7l1.7,2.8h-3.3zM288.3,344.5l1.7,2.8h-3.3zM289.3,344.8l1.7,2.8h-3.3zM290.2,344.7l1.7,2.8h-3.3zM291.2,346.6l1.7,2.8h-3.3zM292.2,347.6l1.7,2.8h-3.3zM293.1,346.5l1.7,2.8h-3.3zM294.1,347.6l1.7,2.8h-3.3zM295,348.1l1.7,2.8h-3.3zM296,350.5l1.7,2.8h-3.3zM297,350.3l1.7,2.8h-3.3zM297.9,351.3l1.7,2.8h-3.3zM298.9,351l1.7,2.8h-3.3zM299.8,349.7l1.7,2.8h-3.3zM300.8,349.9l1.7,2.8h-3.3zM301.8,350.8l1.7,2.8h-3.3zM302.7,352.7l1.7,2.8h-3.3zM303.7,352.5l1.7,2.8h-3.3zM304.6,351.8l1.7,2.8h-3.3zM305.6,353.9l1.7,2.8h-3.3zM306.6,354l1.7,2.8h-3.3zM307.5,353.3l1.7,2.8h-3.3zM308.5,354.8l1.7,2.8h-3.3zM309.4,354.6l1.7,2.8h-3.3zM310.4,355.2l1.7,2.8h-3.3zM311.4,354l1.7,2.8h-3.3zM312.3,355.2l1.7,2.8h-3.3zM313.3,356.8l1.7,2.8h-3.3zM314.2,357.3l1.7,2.8h-3.3zM315.2,355.5l1.7,2.8h-3.3zM316.2,357.4l1.7,2.8h-3.3zM317.1,355.8l1.7,2.8h-3.3zM318.1,357.4l1.7,2.8h-3.3zM319,356.6l1.7,2.8h-3.3zM320,357.4l1.7,2.8h-3.3zM321,356.6l1.7,2.8h-3.3zM321.9,358.5l1.7,2.8h-3.3zM322.9,357.8l1.7,2.8h-3.3zM323.8,357.2l1.7,2.8h-3.3zM324.8,358.7l1.7,2.8h-3.3zM325.8,356.6l1.7,2.8h-3.3zM326.7,356.8l1.7,2.8h-3.3zM327.7,357.1l1.7,2.8h-3.3zM328.6,357.5l1.7,2.8h-3.3zM329.6,357.8l1.7,2.8h-3.3z" fill="#9184d0"/>
<polyline points="233.6,366.1 234.3,366.1 234.9,365.7 235.6,366 236.3,366.1 237,365.7 237.6,366.1 238.3,366 239,365.9 239.6,365.3 240.3,365.2 241,364.8 241.7,363.1 242.3,359.7 243,356.1 243.7,352.7 244.4,348.9 245,344.9 245.7,340.9 246.4,337.1 247,333.4 247.7,330 248.4,327.4 249.1,324.9 249.7,323.9 250.4,324 251.1,325.5 251.7,328 252.4,330.2 253.1,333.2 253.8,334.4 254.4,335.8 255.1,336.7 255.8,338.6 256.4,339.5 257.1,340.3 257.8,341.6 258.5,342.3 259.1,343.5 259.8,344.2 260.5,344.8 261.2,345.4 261.8,346 262.5,346.7 263.2,346.5 263.8,347.2 264.5,347.6 265.2,348.2 265.9,348.8 266.5,349.2 267.2,348.9 267.9,349.4 268.5,350 269.2,350.1 269.9,350.2 270.6,351.2 271.2,351.2 271.9,351.4 272.6,351.7 273.2,351.8 273.9,352.3 274.6,352.6 275.3,352.3 275.9,352.8 276.6,352.7 277.3,353.5 278,353.5 278.6,353.6 279.3,354.1 280,354 280.6,354.3 281.3,354.3 282,354.6 282.7,354.3 283.3,354.7 284,355 284.7,354.9 285.3,355.2 286,355.5 286.7,355.2 287.4,355.5 288,356.1 288.7,355.8 289.4,356.1 290,356.5 290.7,355.9 291.4,356.3 292.1,356.2 292.7,356.7 293.4,356.9 294.1,357.3 294.8,357 295.4,357.3 296.1,357.7 296.8,357.3 297.4,357.6 298.1,358.2 298.8,357.6 299.5,358.2 300.1,357.9 300.8,358.4 301.5,358.8 302.1,358.6 302.8,358.8 303.5,358.6 304.2,359 304.8,359.2 305.5,359.3 306.2,359.3 306.8,359.3 307.5,359.3 308.2,359.8 308.9,360.1 309.5,360.3 310.2,360 310.9,360.4 311.6,360.1 312.2,360.5 312.9,360.3 313.6,361.1 314.2,360.6 314.9,361.3 315.6,361.4 316.3,361.4 316.9,361.7 317.6,361.7 318.3,361.8 318.9,361.9 319.6,362.5 320.3,362.3 321,362.6 321.6,362.6 322.3,363 323,362.8 323.6,363.4 324.3,363.7 325,363.4 325.7,363.6 326.3,364.2 327,364.2 327.7,364.3 328.4,364.6 329,364.4 329.7,364.6" fill="none" stroke="#a7b98a" stroke-width="3.2" stroke-linejoin="round" stroke-linecap="round"/>
<path d="M232,364.5h3.2v3.2h-3.2zM233.3,364.1h3.2v3.2h-3.2zM234.7,364.5h3.2v3.2h-3.2zM236,364.5h3.2v3.2h-3.2zM237.4,364.3h3.2v3.2h-3.2zM238.7,363.6h3.2v3.2h-3.2zM240.1,361.5h3.2v3.2h-3.2zM241.4,354.5h3.2v3.2h-3.2zM242.8,347.3h3.2v3.2h-3.2zM244.1,339.3h3.2v3.2h-3.2zM245.4,331.8h3.2v3.2h-3.2zM246.8,325.8h3.2v3.2h-3.2zM248.1,322.3h3.2v3.2h-3.2zM249.5,323.9h3.2v3.2h-3.2zM250.8,328.6h3.2v3.2h-3.2zM252.2,332.8h3.2v3.2h-3.2zM253.5,335.1h3.2v3.2h-3.2zM254.8,337.9h3.2v3.2h-3.2zM256.2,340h3.2v3.2h-3.2zM257.5,341.9h3.2v3.2h-3.2zM258.9,343.2h3.2v3.2h-3.2zM260.2,344.4h3.2v3.2h-3.2zM261.6,344.9h3.2v3.2h-3.2zM262.9,346h3.2v3.2h-3.2zM264.3,347.2h3.2v3.2h-3.2zM265.6,347.3h3.2v3.2h-3.2zM266.9,348.4h3.2v3.2h-3.2zM268.3,348.6h3.2v3.2h-3.2zM269.6,349.6h3.2v3.2h-3.2zM271,350.1h3.2v3.2h-3.2zM272.3,350.7h3.2v3.2h-3.2zM273.7,350.7h3.2v3.2h-3.2zM275,351.1h3.2v3.2h-3.2zM276.4,351.9h3.2v3.2h-3.2zM277.7,352.5h3.2v3.2h-3.2zM279,352.7h3.2v3.2h-3.2zM280.4,353h3.2v3.2h-3.2zM281.7,353.1h3.2v3.2h-3.2zM283.1,353.3h3.2v3.2h-3.2zM284.4,353.9h3.2v3.2h-3.2zM285.8,353.9h3.2v3.2h-3.2zM287.1,354.2h3.2v3.2h-3.2zM288.4,354.9h3.2v3.2h-3.2zM289.8,354.7h3.2v3.2h-3.2zM291.1,355.1h3.2v3.2h-3.2zM292.5,355.7h3.2v3.2h-3.2zM293.8,355.7h3.2v3.2h-3.2zM295.2,355.7h3.2v3.2h-3.2zM296.5,356.6h3.2v3.2h-3.2zM297.9,356.6h3.2v3.2h-3.2zM299.2,356.8h3.2v3.2h-3.2zM300.5,357h3.2v3.2h-3.2zM301.9,357h3.2v3.2h-3.2zM303.2,357.6h3.2v3.2h-3.2zM304.6,357.7h3.2v3.2h-3.2zM305.9,357.7h3.2v3.2h-3.2zM307.3,358.5h3.2v3.2h-3.2zM308.6,358.4h3.2v3.2h-3.2zM310,358.5h3.2v3.2h-3.2zM311.3,358.7h3.2v3.2h-3.2zM312.6,359h3.2v3.2h-3.2zM314,359.8h3.2v3.2h-3.2zM315.3,360.1h3.2v3.2h-3.2zM316.7,360.2h3.2v3.2h-3.2zM318,360.9h3.2v3.2h-3.2zM319.4,361h3.2v3.2h-3.2zM320.7,361.4h3.2v3.2h-3.2zM322,361.8h3.2v3.2h-3.2zM323.4,361.8h3.2v3.2h-3.2zM324.7,362.6h3.2v3.2h-3.2zM326.1,362.7h3.2v3.2h-3.2zM327.4,362.8h3.2v3.2h-3.2z" fill="#a7b98a"/>
<polyline points="233.6,365.5 234.3,365.1 234.9,365.1 235.6,364.5 236.3,364.9 237,364 237.6,364 238.3,363.7 239,363.4 239.6,363.7 240.3,363 241,362.9 241.7,363 242.3,362.2 243,362.3 243.7,361.9 244.4,362.1 245,361.5 245.7,361.8 246.4,361.5 247,361.2 247.7,361 248.4,360.4 249.1,360.4 249.7,360.1 250.4,359.4 251.1,359.1 251.7,359 252.4,358.8 253.1,358 253.8,357.8 254.4,357.6 255.1,357.2 255.8,356.7 256.4,356.2 257.1,356 257.8,355.7 258.5,354.8 259.1,354.5 259.8,354.1 260.5,353.4 261.2,352.6 261.8,351.9 262.5,352 263.2,350.8 263.8,350.6 264.5,349.6 265.2,349 265.9,348.8 266.5,347.9 267.2,347.3 267.9,346.9 268.5,345.6 269.2,344.8 269.9,343.6 270.6,343.3 271.2,342.6 271.9,341.6 272.6,341.8 273.2,341.6 273.9,341.5 274.6,341 275.3,341.5 275.9,341.6 276.6,341 277.3,338.7 278,337.5 278.6,336.4 279.3,335.6 280,334.9 280.6,334.4 281.3,334.1 282,334.4 282.7,334.3 283.3,334.8 284,335.2 284.7,336.2 285.3,336.3 286,337.1 286.7,337.7 287.4,338.2 288,338.9 288.7,339.4 289.4,340.2 290,341.2 290.7,341.6 291.4,341.9 292.1,342.8 292.7,343.1 293.4,343.6 294.1,344.3 294.8,344.6 295.4,344.9 296.1,345.2 296.8,345.8 297.4,346.3 298.1,347.1 298.8,346.8 299.5,347.4 300.1,347.7 300.8,348.2 301.5,348.5 302.1,349.2 302.8,349.3 303.5,349.9 304.2,349.5 304.8,350.4 305.5,350.6 306.2,350.9 306.8,351.5 307.5,351.6 308.2,352 308.9,352.8 309.5,353.6 310.2,353.4 310.9,354.1 311.6,354.8 312.2,354.7 312.9,355.2 313.6,355.3 314.2,355.9 314.9,356.4 315.6,356.9 316.3,357.1 316.9,357 317.6,357.1 318.3,357.7 318.9,357.7 319.6,358.2 320.3,358.6 321,358.6 321.6,358.9 322.3,358.6 323,359.5 323.6,359.7 324.3,359.9 325,359.9 325.7,360.8 326.3,361.2 327,361.3 327.7,361.9 328.4,362" fill="none" stroke="#e38b1e" stroke-width="2.8" stroke-linejoin="round" stroke-linecap="round"/>
<path d="M232.1,365.5a1.5,1.5 0 1 0 3,0a1.5,1.5 0 1 0 -3,0M233.4,365.1a1.5,1.5 0 1 0 3,0a1.5,1.5 0 1 0 -3,0M234.8,364.9a1.5,1.5 0 1 0 3,0a1.5,1.5 0 1 0 -3,0M236.1,364a1.5,1.5 0 1 0 3,0a1.5,1.5 0 1 0 -3,0M237.5,363.4a1.5,1.5 0 1 0 3,0a1.5,1.5 0 1 0 -3,0M238.8,363a1.5,1.5 0 1 0 3,0a1.5,1.5 0 1 0 -3,0M240.2,363a1.5,1.5 0 1 0 3,0a1.5,1.5 0 1 0 -3,0M241.5,362.3a1.5,1.5 0 1 0 3,0a1.5,1.5 0 1 0 -3,0M242.9,362.1a1.5,1.5 0 1 0 3,0a1.5,1.5 0 1 0 -3,0M244.2,361.8a1.5,1.5 0 1 0 3,0a1.5,1.5 0 1 0 -3,0M245.5,361.2a1.5,1.5 0 1 0 3,0a1.5,1.5 0 1 0 -3,0M246.9,360.4a1.5,1.5 0 1 0 3,0a1.5,1.5 0 1 0 -3,0M248.2,360.1a1.5,1.5 0 1 0 3,0a1.5,1.5 0 1 0 -3,0M249.6,359.1a1.5,1.5 0 1 0 3,0a1.5,1.5 0 1 0 -3,0M250.9,358.8a1.5,1.5 0 1 0 3,0a1.5,1.5 0 1 0 -3,0M252.3,357.8a1.5,1.5 0 1 0 3,0a1.5,1.5 0 1 0 -3,0M253.6,357.2a1.5,1.5 0 1 0 3,0a1.5,1.5 0 1 0 -3,0M254.9,356.2a1.5,1.5 0 1 0 3,0a1.5,1.5 0 1 0 -3,0M256.3,355.7a1.5,1.5 0 1 0 3,0a1.5,1.5 0 1 0 -3,0M257.6,354.5a1.5,1.5 0 1 0 3,0a1.5,1.5 0 1 0 -3,0M259,353.4a1.5,1.5 0 1 0 3,0a1.5,1.5 0 1 0 -3,0M260.3,351.9a1.5,1.5 0 1 0 3,0a1.5,1.5 0 1 0 -3,0M261.7,350.8a1.5,1.5 0 1 0 3,0a1.5,1.5 0 1 0 -3,0M263,349.6a1.5,1.5 0 1 0 3,0a1.5,1.5 0 1 0 -3,0M264.4,348.8a1.5,1.5 0 1 0 3,0a1.5,1.5 0 1 0 -3,0M265.7,347.3a1.5,1.5 0 1 0 3,0a1.5,1.5 0 1 0 -3,0M267,345.6a1.5,1.5 0 1 0 3,0a1.5,1.5 0 1 0 -3,0M268.4,343.6a1.5,1.5 0 1 0 3,0a1.5,1.5 0 1 0 -3,0M269.7,342.6a1.5,1.5 0 1 0 3,0a1.5,1.5 0 1 0 -3,0M271.1,341.8a1.5,1.5 0 1 0 3,0a1.5,1.5 0 1 0 -3,0M272.4,341.5a1.5,1.5 0 1 0 3,0a1.5,1.5 0 1 0 -3,0M273.8,341.5a1.5,1.5 0 1 0 3,0a1.5,1.5 0 1 0 -3,0M275.1,341a1.5,1.5 0 1 0 3,0a1.5,1.5 0 1 0 -3,0M276.5,337.5a1.5,1.5 0 1 0 3,0a1.5,1.5 0 1 0 -3,0M277.8,335.6a1.5,1.5 0 1 0 3,0a1.5,1.5 0 1 0 -3,0M279.1,334.4a1.5,1.5 0 1 0 3,0a1.5,1.5 0 1 0 -3,0M280.5,334.4a1.5,1.5 0 1 0 3,0a1.5,1.5 0 1 0 -3,0M281.8,334.8a1.5,1.5 0 1 0 3,0a1.5,1.5 0 1 0 -3,0M283.2,336.2a1.5,1.5 0 1 0 3,0a1.5,1.5 0 1 0 -3,0M284.5,337.1a1.5,1.5 0 1 0 3,0a1.5,1.5 0 1 0 -3,0M285.9,338.2a1.5,1.5 0 1 0 3,0a1.5,1.5 0 1 0 -3,0M287.2,339.4a1.5,1.5 0 1 0 3,0a1.5,1.5 0 1 0 -3,0M288.5,341.2a1.5,1.5 0 1 0 3,0a1.5,1.5 0 1 0 -3,0M289.9,341.9a1.5,1.5 0 1 0 3,0a1.5,1.5 0 1 0 -3,0M291.2,343.1a1.5,1.5 0 1 0 3,0a1.5,1.5 0 1 0 -3,0M292.6,344.3a1.5,1.5 0 1 0 3,0a1.5,1.5 0 1 0 -3,0M293.9,344.9a1.5,1.5 0 1 0 3,0a1.5,1.5 0 1 0 -3,0M295.3,345.8a1.5,1.5 0 1 0 3,0a1.5,1.5 0 1 0 -3,0M296.6,347.1a1.5,1.5 0 1 0 3,0a1.5,1.5 0 1 0 -3,0M298,347.4a1.5,1.5 0 1 0 3,0a1.5,1.5 0 1 0 -3,0M299.3,348.2a1.5,1.5 0 1 0 3,0a1.5,1.5 0 1 0 -3,0M300.6,349.2a1.5,1.5 0 1 0 3,0a1.5,1.5 0 1 0 -3,0M302,349.9a1.5,1.5 0 1 0 3,0a1.5,1.5 0 1 0 -3,0M303.3,350.4a1.5,1.5 0 1 0 3,0a1.5,1.5 0 1 0 -3,0M304.7,350.9a1.5,1.5 0 1 0 3,0a1.5,1.5 0 1 0 -3,0M306,351.6a1.5,1.5 0 1 0 3,0a1.5,1.5 0 1 0 -3,0M307.4,352.8a1.5,1.5 0 1 0 3,0a1.5,1.5 0 1 0 -3,0M308.7,353.4a1.5,1.5 0 1 0 3,0a1.5,1.5 0 1 0 -3,0M310.1,354.8a1.5,1.5 0 1 0 3,0a1.5,1.5 0 1 0 -3,0M311.4,355.2a1.5,1.5 0 1 0 3,0a1.5,1.5 0 1 0 -3,0M312.7,355.9a1.5,1.5 0 1 0 3,0a1.5,1.5 0 1 0 -3,0M314.1,356.9a1.5,1.5 0 1 0 3,0a1.5,1.5 0 1 0 -3,0M315.4,357a1.5,1.5 0 1 0 3,0a1.5,1.5 0 1 0 -3,0M316.8,357.7a1.5,1.5 0 1 0 3,0a1.5,1.5 0 1 0 -3,0M318.1,358.2a1.5,1.5 0 1 0 3,0a1.5,1.5 0 1 0 -3,0M319.5,358.6a1.5,1.5 0 1 0 3,0a1.5,1.5 0 1 0 -3,0M320.8,358.6a1.5,1.5 0 1 0 3,0a1.5,1.5 0 1 0 -3,0M322.1,359.7a1.5,1.5 0 1 0 3,0a1.5,1.5 0 1 0 -3,0M323.5,359.9a1.5,1.5 0 1 0 3,0a1.5,1.5 0 1 0 -3,0M324.8,361.2a1.5,1.5 0 1 0 3,0a1.5,1.5 0 1 0 -3,0M326.2,361.9a1.5,1.5 0 1 0 3,0a1.5,1.5 0 1 0 -3,0" fill="#e38b1e"/>
<line x1="233.5" y1="300.3" x2="233.5" y2="366.8" stroke="#111" stroke-width="1.25"/>
<line x1="230.5" y1="366.1" x2="233.5" y2="366.1" stroke="#111" stroke-width="1.0"/>
<text transform="translate(227.1,369) scale(0.77,1)" font-size="8.5" text-anchor="end" stroke="#3a3a3a" stroke-width="0.1">0</text>
<line x1="230.5" y1="353.4" x2="233.5" y2="353.4" stroke="#111" stroke-width="1.0"/>
<text transform="translate(227.1,356.3) scale(0.77,1)" font-size="8.5" text-anchor="end" stroke="#3a3a3a" stroke-width="0.1">20</text>
<line x1="230.5" y1="340.7" x2="233.5" y2="340.7" stroke="#111" stroke-width="1.0"/>
<text transform="translate(227.1,343.6) scale(0.77,1)" font-size="8.5" text-anchor="end" stroke="#3a3a3a" stroke-width="0.1">40</text>
<line x1="230.5" y1="327.9" x2="233.5" y2="327.9" stroke="#111" stroke-width="1.0"/>
<text transform="translate(227.1,330.9) scale(0.77,1)" font-size="8.5" text-anchor="end" stroke="#3a3a3a" stroke-width="0.1">60</text>
<line x1="230.5" y1="315.2" x2="233.5" y2="315.2" stroke="#111" stroke-width="1.0"/>
<text transform="translate(227.1,318.2) scale(0.77,1)" font-size="8.5" text-anchor="end" stroke="#3a3a3a" stroke-width="0.1">80</text>
<line x1="230.5" y1="302.5" x2="233.5" y2="302.5" stroke="#111" stroke-width="1.0"/>
<text transform="translate(227.1,305.4) scale(0.77,1)" font-size="8.5" text-anchor="end" stroke="#3a3a3a" stroke-width="0.1">100</text>
<line x1="232.9" y1="366.1" x2="332.9" y2="366.1" stroke="#111" stroke-width="1.25"/>
<line x1="233.6" y1="366.1" x2="233.6" y2="369.1" stroke="#111" stroke-width="1.0"/>
<text transform="translate(233.6,378.5) scale(0.8,1)" font-size="8.2" text-anchor="middle" stroke="#3a3a3a" stroke-width="0.1">0</text>
<line x1="252.8" y1="366.1" x2="252.8" y2="369.1" stroke="#111" stroke-width="1.0"/>
<text transform="translate(252.8,378.5) scale(0.8,1)" font-size="8.2" text-anchor="middle" stroke="#3a3a3a" stroke-width="0.1">10</text>
<line x1="272" y1="366.1" x2="272" y2="369.1" stroke="#111" stroke-width="1.0"/>
<text transform="translate(272,378.5) scale(0.8,1)" font-size="8.2" text-anchor="middle" stroke="#3a3a3a" stroke-width="0.1">20</text>
<line x1="291.2" y1="366.1" x2="291.2" y2="369.1" stroke="#111" stroke-width="1.0"/>
<text transform="translate(291.2,378.5) scale(0.8,1)" font-size="8.2" text-anchor="middle" stroke="#3a3a3a" stroke-width="0.1">30</text>
<line x1="310.4" y1="366.1" x2="310.4" y2="369.1" stroke="#111" stroke-width="1.0"/>
<text transform="translate(310.4,378.5) scale(0.8,1)" font-size="8.2" text-anchor="middle" stroke="#3a3a3a" stroke-width="0.1">40</text>
<line x1="329.6" y1="366.1" x2="329.6" y2="369.1" stroke="#111" stroke-width="1.0"/>
<text transform="translate(329.6,378.5) scale(0.8,1)" font-size="8.2" text-anchor="middle" stroke="#3a3a3a" stroke-width="0.1">50</text>
<text transform="translate(283.7,391.7) scale(0.84,1)" font-size="8.8" text-anchor="middle" stroke="#3a3a3a" stroke-width="0.1">Time (min)</text>
<text transform="translate(209.9,332.9) rotate(-90) scale(0.85,1)" font-size="8.8" text-anchor="middle" stroke="#3a3a3a" stroke-width="0.1">Plasmin (nM)</text>
<line x1="294" y1="304.2" x2="301.4" y2="304.2" stroke="#e38b1e" stroke-width="1.1"/>
<circle cx="297.7" cy="304.2" r="1.4" fill="#e38b1e"/>
<text transform="translate(304.4,306.3)" font-size="5.8">NPP</text>
<line x1="294" y1="311.9" x2="301.4" y2="311.9" stroke="#a7b98a" stroke-width="1.1"/>
<rect x="296.3" y="310.5" width="2.8" height="2.8" fill="#a7b98a"/>
<text transform="translate(304.4,314)" font-size="5.8">PTCI</text>
<line x1="294" y1="319.2" x2="301.4" y2="319.2" stroke="#2a4585" stroke-width="1.1"/>
<path d="M297.7,317.5l1.5,2.7h-3.1z" fill="#2a4585"/>
<text transform="translate(304.4,321.3)" font-size="5.8">MTM-1701</text>
<line x1="294" y1="326.3" x2="301.4" y2="326.3" stroke="#9184d0" stroke-width="1.1"/>
<path d="M297.7,324.6l1.5,2.7h-3.1z" fill="#9184d0"/>
<text transform="translate(304.4,328.4)" font-size="5.8">Rat IgG</text>
<text transform="translate(356.3,292.7)" font-size="12.8" font-weight="bold" fill="#111">I</text>
<polyline points="395.3,366.1 396.1,366 396.8,366.1 397.6,366 398.4,366 399.2,365.9 399.9,366.1 400.7,366.1 401.5,366.1 402.2,366.1 403,366.1 403.8,365.5 404.5,365 405.3,363.6 406.1,361.8 406.9,359.8 407.6,357.2 408.4,353.9 409.2,350.5 409.9,346.6 410.7,343.3 411.5,340.1 412.2,336.8 413,334.6 413.8,332.1 414.6,330.5 415.3,329.8 416.1,330 416.9,330.1 417.6,330.5 418.4,331 419.2,332.5 420,334.6 420.7,338.6 421.5,340.2 422.3,342.9 423,346.2 423.8,346.8 424.6,347.6 425.3,347.8 426.1,348.1 426.9,348.2 427.7,347.7 428.4,349.7 429.2,350.7 430,350.3 430.7,350.9 431.5,350.1 432.3,350.6 433,351.3 433.8,352.2 434.6,350.5 435.4,351 436.1,351.3 436.9,351.3 437.7,351.1 438.4,353.7 439.2,353.5 440,353 440.8,352.6 441.5,353.4 442.3,353.6 443.1,354.4 443.8,354.8 444.6,353.4 445.4,353.3 446.1,354.9 446.9,355.2 447.7,356.4 448.5,355.4 449.2,356.7 450,355.9 450.8,357 451.5,356.8 452.3,356 453.1,357.7 453.9,357.4 454.6,358.3 455.4,358.1 456.2,357.4 456.9,358.6 457.7,357.7 458.5,359.4 459.2,359.5 460,359.3 460.8,359.8 461.6,359.7 462.3,360.8 463.1,361.6 463.9,360.8 464.6,361.9 465.4,361.6 466.2,361 466.9,360.9 467.7,360.6 468.5,361.3 469.3,361.7 470,362.4 470.8,362.2 471.6,362.8 472.3,363.4 473.1,362.5 473.9,362.5 474.7,363.3 475.4,362.5 476.2,363.1 477,363.7 477.7,362.7 478.5,364.6 479.3,364.2 480,364.2 480.8,363.6 481.6,364.7 482.4,363.2 483.1,365.2 483.9,364.6 484.7,364.7 485.4,364.2 486.2,365.3 487,365.6 487.7,364.5 488.5,364.5 489.3,365 490.1,364.4 490.8,365.6 491.6,365.6" fill="none" stroke="#aab2d8" stroke-width="2.2" stroke-linejoin="round" stroke-linecap="round"/>
<path d="M395.3,364.3l1.7,2.8h-3.3zM396.1,364.2l1.7,2.8h-3.3zM396.8,364.3l1.7,2.8h-3.3zM397.6,364.2l1.7,2.8h-3.3zM398.4,364.2l1.7,2.8h-3.3zM399.2,364.1l1.7,2.8h-3.3zM399.9,364.3l1.7,2.8h-3.3zM400.7,364.3l1.7,2.8h-3.3zM401.5,364.3l1.7,2.8h-3.3zM402.2,364.3l1.7,2.8h-3.3zM403,364.3l1.7,2.8h-3.3zM403.8,363.7l1.7,2.8h-3.3zM404.5,363.2l1.7,2.8h-3.3zM405.3,361.8l1.7,2.8h-3.3zM406.1,360l1.7,2.8h-3.3zM406.9,358l1.7,2.8h-3.3zM407.6,355.4l1.7,2.8h-3.3zM408.4,352.1l1.7,2.8h-3.3zM409.2,348.7l1.7,2.8h-3.3zM409.9,344.8l1.7,2.8h-3.3zM410.7,341.5l1.7,2.8h-3.3zM411.5,338.3l1.7,2.8h-3.3zM412.2,335l1.7,2.8h-3.3zM413,332.8l1.7,2.8h-3.3zM413.8,330.3l1.7,2.8h-3.3zM414.6,328.7l1.7,2.8h-3.3zM415.3,328l1.7,2.8h-3.3zM416.1,328.2l1.7,2.8h-3.3zM416.9,328.3l1.7,2.8h-3.3zM417.6,328.7l1.7,2.8h-3.3zM418.4,329.2l1.7,2.8h-3.3zM419.2,330.7l1.7,2.8h-3.3zM420,332.8l1.7,2.8h-3.3zM420.7,336.8l1.7,2.8h-3.3zM421.5,338.4l1.7,2.8h-3.3zM422.3,341.1l1.7,2.8h-3.3zM423,344.4l1.7,2.8h-3.3zM423.8,345l1.7,2.8h-3.3zM424.6,345.8l1.7,2.8h-3.3zM425.3,346l1.7,2.8h-3.3zM426.1,346.3l1.7,2.8h-3.3zM426.9,346.4l1.7,2.8h-3.3zM427.7,345.9l1.7,2.8h-3.3zM428.4,347.9l1.7,2.8h-3.3zM429.2,348.9l1.7,2.8h-3.3zM430,348.5l1.7,2.8h-3.3zM430.7,349.1l1.7,2.8h-3.3zM431.5,348.3l1.7,2.8h-3.3zM432.3,348.8l1.7,2.8h-3.3zM433,349.5l1.7,2.8h-3.3zM433.8,350.4l1.7,2.8h-3.3zM434.6,348.7l1.7,2.8h-3.3zM435.4,349.2l1.7,2.8h-3.3zM436.1,349.5l1.7,2.8h-3.3zM436.9,349.5l1.7,2.8h-3.3zM437.7,349.3l1.7,2.8h-3.3zM438.4,351.9l1.7,2.8h-3.3zM439.2,351.7l1.7,2.8h-3.3zM440,351.2l1.7,2.8h-3.3zM440.8,350.8l1.7,2.8h-3.3zM441.5,351.6l1.7,2.8h-3.3zM442.3,351.8l1.7,2.8h-3.3zM443.1,352.6l1.7,2.8h-3.3zM443.8,353l1.7,2.8h-3.3zM444.6,351.6l1.7,2.8h-3.3zM445.4,351.5l1.7,2.8h-3.3zM446.1,353.1l1.7,2.8h-3.3zM446.9,353.4l1.7,2.8h-3.3zM447.7,354.6l1.7,2.8h-3.3zM448.5,353.6l1.7,2.8h-3.3zM449.2,354.9l1.7,2.8h-3.3zM450,354.1l1.7,2.8h-3.3zM450.8,355.2l1.7,2.8h-3.3zM451.5,355l1.7,2.8h-3.3zM452.3,354.2l1.7,2.8h-3.3zM453.1,355.9l1.7,2.8h-3.3zM453.9,355.6l1.7,2.8h-3.3zM454.6,356.5l1.7,2.8h-3.3zM455.4,356.3l1.7,2.8h-3.3zM456.2,355.6l1.7,2.8h-3.3zM456.9,356.8l1.7,2.8h-3.3zM457.7,355.9l1.7,2.8h-3.3zM458.5,357.6l1.7,2.8h-3.3zM459.2,357.7l1.7,2.8h-3.3zM460,357.5l1.7,2.8h-3.3zM460.8,358l1.7,2.8h-3.3zM461.6,357.9l1.7,2.8h-3.3zM462.3,359l1.7,2.8h-3.3zM463.1,359.8l1.7,2.8h-3.3zM463.9,359l1.7,2.8h-3.3zM464.6,360.1l1.7,2.8h-3.3zM465.4,359.8l1.7,2.8h-3.3zM466.2,359.2l1.7,2.8h-3.3zM466.9,359.1l1.7,2.8h-3.3zM467.7,358.8l1.7,2.8h-3.3zM468.5,359.5l1.7,2.8h-3.3zM469.3,359.9l1.7,2.8h-3.3zM470,360.6l1.7,2.8h-3.3zM470.8,360.4l1.7,2.8h-3.3zM471.6,361l1.7,2.8h-3.3zM472.3,361.6l1.7,2.8h-3.3zM473.1,360.7l1.7,2.8h-3.3zM473.9,360.7l1.7,2.8h-3.3zM474.7,361.5l1.7,2.8h-3.3zM475.4,360.7l1.7,2.8h-3.3zM476.2,361.3l1.7,2.8h-3.3zM477,361.9l1.7,2.8h-3.3zM477.7,360.9l1.7,2.8h-3.3zM478.5,362.8l1.7,2.8h-3.3zM479.3,362.4l1.7,2.8h-3.3zM480,362.4l1.7,2.8h-3.3zM480.8,361.8l1.7,2.8h-3.3zM481.6,362.9l1.7,2.8h-3.3zM482.4,361.4l1.7,2.8h-3.3zM483.1,363.4l1.7,2.8h-3.3zM483.9,362.8l1.7,2.8h-3.3zM484.7,362.9l1.7,2.8h-3.3zM485.4,362.4l1.7,2.8h-3.3zM486.2,363.5l1.7,2.8h-3.3zM487,363.8l1.7,2.8h-3.3zM487.7,362.7l1.7,2.8h-3.3zM488.5,362.7l1.7,2.8h-3.3zM489.3,363.2l1.7,2.8h-3.3zM490.1,362.6l1.7,2.8h-3.3zM490.8,363.8l1.7,2.8h-3.3zM491.6,363.8l1.7,2.8h-3.3z" fill="#aab2d8"/>
<polyline points="395.3,366.1 396.1,366 396.8,366 397.6,366.1 398.4,366.1 399.2,366.1 399.9,366 400.7,366 401.5,366.1 402.2,366 403,365.9 403.8,365.6 404.5,365.1 405.3,364.3 406.1,363.2 406.9,361.8 407.6,359.6 408.4,357.1 409.2,353.4 409.9,349.6 410.7,345 411.5,340.7 412.2,335.8 413,330.8 413.8,327.7 414.6,326.9 415.3,326.1 416.1,326.3 416.9,326.4 417.6,326.4 418.4,326.6 419.2,326.2 420,326.4 420.7,327.1 421.5,330.7 422.3,332.2 423,339.4 423.8,343.2 424.6,344.3 425.3,345.8 426.1,344.9 426.9,347.6 427.7,348.2 428.4,347.4 429.2,349.1 430,347.6 430.7,348.5 431.5,347.7 432.3,347.9 433,350.4 433.8,349.1 434.6,350.3 435.4,349.3 436.1,352.2 436.9,351.5 437.7,350.3 438.4,353.3 439.2,352.9 440,353.2 440.8,353.4 441.5,351.9 442.3,354.5 443.1,353.1 443.8,354.9 444.6,353.6 445.4,355.9 446.1,356.3 446.9,354.2 447.7,357.1 448.5,355.8 449.2,357.2 450,356.5 450.8,357.5 451.5,357 452.3,357.1 453.1,357.2 453.9,359 454.6,357.5 455.4,359.2 456.2,358.6 456.9,358.3 457.7,358.6 458.5,359.4 459.2,359.6 460,360.7 460.8,359.1 461.6,359.9 462.3,359.7 463.1,359.4 463.9,360.2 464.6,361.3 465.4,361 466.2,361.9 466.9,361.8 467.7,360.6 468.5,361.1 469.3,362.4 470,361.8 470.8,362.2 471.6,361.4 472.3,361.5 473.1,362.8 473.9,363.5 474.7,363.4 475.4,362.8 476.2,363.4 477,364.2 477.7,362.8 478.5,363.2 479.3,364 480,364.8 480.8,364.2 481.6,363.9 482.4,365.2 483.1,365.2 483.9,365.5 484.7,365.6 485.4,364.5 486.2,364.4 487,364.7 487.7,365.5 488.5,365.6 489.3,366.1 490.1,364.7 490.8,365.4 491.6,366.1" fill="none" stroke="#6b7ab8" stroke-width="2.0" stroke-linejoin="round" stroke-linecap="round"/>
<path d="M393.8,364.6h3v3h-3zM394.6,364.5h3v3h-3zM395.3,364.5h3v3h-3zM396.1,364.6h3v3h-3zM396.9,364.6h3v3h-3zM397.7,364.6h3v3h-3zM398.4,364.5h3v3h-3zM399.2,364.5h3v3h-3zM400,364.6h3v3h-3zM400.7,364.5h3v3h-3zM401.5,364.4h3v3h-3zM402.3,364.1h3v3h-3zM403,363.6h3v3h-3zM403.8,362.8h3v3h-3zM404.6,361.7h3v3h-3zM405.4,360.3h3v3h-3zM406.1,358.1h3v3h-3zM406.9,355.6h3v3h-3zM407.7,351.9h3v3h-3zM408.4,348.1h3v3h-3zM409.2,343.5h3v3h-3zM410,339.2h3v3h-3zM410.7,334.3h3v3h-3zM411.5,329.3h3v3h-3zM412.3,326.2h3v3h-3zM413.1,325.4h3v3h-3zM413.8,324.6h3v3h-3zM414.6,324.8h3v3h-3zM415.4,324.9h3v3h-3zM416.1,324.9h3v3h-3zM416.9,325.1h3v3h-3zM417.7,324.7h3v3h-3zM418.5,324.9h3v3h-3zM419.2,325.6h3v3h-3zM420,329.2h3v3h-3zM420.8,330.7h3v3h-3zM421.5,337.9h3v3h-3zM422.3,341.7h3v3h-3zM423.1,342.8h3v3h-3zM423.8,344.3h3v3h-3zM424.6,343.4h3v3h-3zM425.4,346.1h3v3h-3zM426.2,346.7h3v3h-3zM426.9,345.9h3v3h-3zM427.7,347.6h3v3h-3zM428.5,346.1h3v3h-3zM429.2,347h3v3h-3zM430,346.2h3v3h-3zM430.8,346.4h3v3h-3zM431.5,348.9h3v3h-3zM432.3,347.6h3v3h-3zM433.1,348.8h3v3h-3zM433.9,347.8h3v3h-3zM434.6,350.7h3v3h-3zM435.4,350h3v3h-3zM436.2,348.8h3v3h-3zM436.9,351.8h3v3h-3zM437.7,351.4h3v3h-3zM438.5,351.7h3v3h-3zM439.3,351.9h3v3h-3zM440,350.4h3v3h-3zM440.8,353h3v3h-3zM441.6,351.6h3v3h-3zM442.3,353.4h3v3h-3zM443.1,352.1h3v3h-3zM443.9,354.4h3v3h-3zM444.6,354.8h3v3h-3zM445.4,352.7h3v3h-3zM446.2,355.6h3v3h-3zM447,354.3h3v3h-3zM447.7,355.7h3v3h-3zM448.5,355h3v3h-3zM449.3,356h3v3h-3zM450,355.5h3v3h-3zM450.8,355.6h3v3h-3zM451.6,355.7h3v3h-3zM452.4,357.5h3v3h-3zM453.1,356h3v3h-3zM453.9,357.7h3v3h-3zM454.7,357.1h3v3h-3zM455.4,356.8h3v3h-3zM456.2,357.1h3v3h-3zM457,357.9h3v3h-3zM457.7,358.1h3v3h-3zM458.5,359.2h3v3h-3zM459.3,357.6h3v3h-3zM460.1,358.4h3v3h-3zM460.8,358.2h3v3h-3zM461.6,357.9h3v3h-3zM462.4,358.7h3v3h-3zM463.1,359.8h3v3h-3zM463.9,359.5h3v3h-3zM464.7,360.4h3v3h-3zM465.4,360.3h3v3h-3zM466.2,359.1h3v3h-3zM467,359.6h3v3h-3zM467.8,360.9h3v3h-3zM468.5,360.3h3v3h-3zM469.3,360.7h3v3h-3zM470.1,359.9h3v3h-3zM470.8,360h3v3h-3zM471.6,361.3h3v3h-3zM472.4,362h3v3h-3zM473.2,361.9h3v3h-3zM473.9,361.3h3v3h-3zM474.7,361.9h3v3h-3zM475.5,362.7h3v3h-3zM476.2,361.3h3v3h-3zM477,361.7h3v3h-3zM477.8,362.5h3v3h-3zM478.5,363.3h3v3h-3zM479.3,362.7h3v3h-3zM480.1,362.4h3v3h-3zM480.9,363.7h3v3h-3zM481.6,363.7h3v3h-3zM482.4,364h3v3h-3zM483.2,364.1h3v3h-3zM483.9,363h3v3h-3zM484.7,362.9h3v3h-3zM485.5,363.2h3v3h-3zM486.2,364h3v3h-3zM487,364.1h3v3h-3zM487.8,364.6h3v3h-3zM488.6,363.2h3v3h-3zM489.3,363.9h3v3h-3zM490.1,364.6h3v3h-3z" fill="#6b7ab8"/>
<polyline points="395.3,366.1 396.1,366 396.8,365.9 397.6,365.9 398.4,365.7 399.2,365.6 399.9,365.3 400.7,365 401.5,364.6 402.2,364.2 403,363.6 403.8,363.5 404.5,362.9 405.3,362.5 406.1,362 406.9,361.5 407.6,360.9 408.4,360.4 409.2,360 409.9,359.6 410.7,358.9 411.5,358.3 412.2,357.9 413,357.2 413.8,356.6 414.6,355.9 415.3,355.6 416.1,354.9 416.9,354 417.6,353.5 418.4,352.8 419.2,352.1 420,350.9 420.7,350.3 421.5,349.3 422.3,348.1 423,347.3 423.8,345.9 424.6,345.3 425.3,343.8 426.1,343.4 426.9,342.6 427.7,342.4 428.4,343 429.2,342.4 430,339.8 430.7,340.3 431.5,337.4 432.3,340.6 433,340.5 433.8,339.9 434.6,342.4 435.4,344.4 436.1,342.7 436.9,345.9 437.7,345.5 438.4,346.4 439.2,346.4 440,348.1 440.8,345.6 441.5,346.2 442.3,347.3 443.1,348.3 443.8,348.2 444.6,348.9 445.4,348.7 446.1,348.9 446.9,348.6 447.7,351.4 448.5,349.3 449.2,350.1 450,351.9 450.8,352.3 451.5,354.2 452.3,354.3 453.1,355.3 453.9,355.5 454.6,354.1 455.4,356 456.2,355 456.9,355.1 457.7,356.5 458.5,356.1 459.2,356.7 460,357 460.8,357.4 461.6,357.5 462.3,359.1 463.1,357.2 463.9,359.6 464.6,360 465.4,360 466.2,358.8 466.9,358.7 467.7,358.9 468.5,361.3 469.3,360.9 470,360.2 470.8,362 471.6,361.5 472.3,361.3 473.1,362.2 473.9,362.4 474.7,362.2 475.4,363.1 476.2,361.6 477,362.7 477.7,363.6 478.5,363 479.3,363.5 480,363 480.8,364.4 481.6,363.9 482.4,364.7 483.1,363.7 483.9,364 484.7,363.5 485.4,364 486.2,364.4 487,364.3 487.7,365 488.5,364.7 489.3,365.2 490.1,365.1 490.8,365.3" fill="none" stroke="#2a4585" stroke-width="2.4" stroke-linejoin="round" stroke-linecap="round"/>
<path d="M393.7,366.1a1.6,1.6 0 1 0 3.2,0a1.6,1.6 0 1 0 -3.2,0M395.2,365.9a1.6,1.6 0 1 0 3.2,0a1.6,1.6 0 1 0 -3.2,0M396.8,365.7a1.6,1.6 0 1 0 3.2,0a1.6,1.6 0 1 0 -3.2,0M398.3,365.3a1.6,1.6 0 1 0 3.2,0a1.6,1.6 0 1 0 -3.2,0M399.9,364.6a1.6,1.6 0 1 0 3.2,0a1.6,1.6 0 1 0 -3.2,0M401.4,363.6a1.6,1.6 0 1 0 3.2,0a1.6,1.6 0 1 0 -3.2,0M402.9,362.9a1.6,1.6 0 1 0 3.2,0a1.6,1.6 0 1 0 -3.2,0M404.5,362a1.6,1.6 0 1 0 3.2,0a1.6,1.6 0 1 0 -3.2,0M406,360.9a1.6,1.6 0 1 0 3.2,0a1.6,1.6 0 1 0 -3.2,0M407.6,360a1.6,1.6 0 1 0 3.2,0a1.6,1.6 0 1 0 -3.2,0M409.1,358.9a1.6,1.6 0 1 0 3.2,0a1.6,1.6 0 1 0 -3.2,0M410.6,357.9a1.6,1.6 0 1 0 3.2,0a1.6,1.6 0 1 0 -3.2,0M412.2,356.6a1.6,1.6 0 1 0 3.2,0a1.6,1.6 0 1 0 -3.2,0M413.7,355.6a1.6,1.6 0 1 0 3.2,0a1.6,1.6 0 1 0 -3.2,0M415.3,354a1.6,1.6 0 1 0 3.2,0a1.6,1.6 0 1 0 -3.2,0M416.8,352.8a1.6,1.6 0 1 0 3.2,0a1.6,1.6 0 1 0 -3.2,0M418.4,350.9a1.6,1.6 0 1 0 3.2,0a1.6,1.6 0 1 0 -3.2,0M419.9,349.3a1.6,1.6 0 1 0 3.2,0a1.6,1.6 0 1 0 -3.2,0M421.4,347.3a1.6,1.6 0 1 0 3.2,0a1.6,1.6 0 1 0 -3.2,0M423,345.3a1.6,1.6 0 1 0 3.2,0a1.6,1.6 0 1 0 -3.2,0M424.5,343.4a1.6,1.6 0 1 0 3.2,0a1.6,1.6 0 1 0 -3.2,0M426.1,342.4a1.6,1.6 0 1 0 3.2,0a1.6,1.6 0 1 0 -3.2,0M427.6,342.4a1.6,1.6 0 1 0 3.2,0a1.6,1.6 0 1 0 -3.2,0M429.1,340.3a1.6,1.6 0 1 0 3.2,0a1.6,1.6 0 1 0 -3.2,0M430.7,340.6a1.6,1.6 0 1 0 3.2,0a1.6,1.6 0 1 0 -3.2,0M432.2,339.9a1.6,1.6 0 1 0 3.2,0a1.6,1.6 0 1 0 -3.2,0M433.8,344.4a1.6,1.6 0 1 0 3.2,0a1.6,1.6 0 1 0 -3.2,0M435.3,345.9a1.6,1.6 0 1 0 3.2,0a1.6,1.6 0 1 0 -3.2,0M436.8,346.4a1.6,1.6 0 1 0 3.2,0a1.6,1.6 0 1 0 -3.2,0M438.4,348.1a1.6,1.6 0 1 0 3.2,0a1.6,1.6 0 1 0 -3.2,0M439.9,346.2a1.6,1.6 0 1 0 3.2,0a1.6,1.6 0 1 0 -3.2,0M441.5,348.3a1.6,1.6 0 1 0 3.2,0a1.6,1.6 0 1 0 -3.2,0M443,348.9a1.6,1.6 0 1 0 3.2,0a1.6,1.6 0 1 0 -3.2,0M444.5,348.9a1.6,1.6 0 1 0 3.2,0a1.6,1.6 0 1 0 -3.2,0M446.1,351.4a1.6,1.6 0 1 0 3.2,0a1.6,1.6 0 1 0 -3.2,0M447.6,350.1a1.6,1.6 0 1 0 3.2,0a1.6,1.6 0 1 0 -3.2,0M449.2,352.3a1.6,1.6 0 1 0 3.2,0a1.6,1.6 0 1 0 -3.2,0M450.7,354.3a1.6,1.6 0 1 0 3.2,0a1.6,1.6 0 1 0 -3.2,0M452.3,355.5a1.6,1.6 0 1 0 3.2,0a1.6,1.6 0 1 0 -3.2,0M453.8,356a1.6,1.6 0 1 0 3.2,0a1.6,1.6 0 1 0 -3.2,0M455.3,355.1a1.6,1.6 0 1 0 3.2,0a1.6,1.6 0 1 0 -3.2,0M456.9,356.1a1.6,1.6 0 1 0 3.2,0a1.6,1.6 0 1 0 -3.2,0M458.4,357a1.6,1.6 0 1 0 3.2,0a1.6,1.6 0 1 0 -3.2,0M460,357.5a1.6,1.6 0 1 0 3.2,0a1.6,1.6 0 1 0 -3.2,0M461.5,357.2a1.6,1.6 0 1 0 3.2,0a1.6,1.6 0 1 0 -3.2,0M463,360a1.6,1.6 0 1 0 3.2,0a1.6,1.6 0 1 0 -3.2,0M464.6,358.8a1.6,1.6 0 1 0 3.2,0a1.6,1.6 0 1 0 -3.2,0M466.1,358.9a1.6,1.6 0 1 0 3.2,0a1.6,1.6 0 1 0 -3.2,0M467.7,360.9a1.6,1.6 0 1 0 3.2,0a1.6,1.6 0 1 0 -3.2,0M469.2,362a1.6,1.6 0 1 0 3.2,0a1.6,1.6 0 1 0 -3.2,0M470.7,361.3a1.6,1.6 0 1 0 3.2,0a1.6,1.6 0 1 0 -3.2,0M472.3,362.4a1.6,1.6 0 1 0 3.2,0a1.6,1.6 0 1 0 -3.2,0M473.8,363.1a1.6,1.6 0 1 0 3.2,0a1.6,1.6 0 1 0 -3.2,0M475.4,362.7a1.6,1.6 0 1 0 3.2,0a1.6,1.6 0 1 0 -3.2,0M476.9,363a1.6,1.6 0 1 0 3.2,0a1.6,1.6 0 1 0 -3.2,0M478.4,363a1.6,1.6 0 1 0 3.2,0a1.6,1.6 0 1 0 -3.2,0M480,363.9a1.6,1.6 0 1 0 3.2,0a1.6,1.6 0 1 0 -3.2,0M481.5,363.7a1.6,1.6 0 1 0 3.2,0a1.6,1.6 0 1 0 -3.2,0M483.1,363.5a1.6,1.6 0 1 0 3.2,0a1.6,1.6 0 1 0 -3.2,0M484.6,364.4a1.6,1.6 0 1 0 3.2,0a1.6,1.6 0 1 0 -3.2,0M486.1,365a1.6,1.6 0 1 0 3.2,0a1.6,1.6 0 1 0 -3.2,0M487.7,365.2a1.6,1.6 0 1 0 3.2,0a1.6,1.6 0 1 0 -3.2,0M489.2,365.3a1.6,1.6 0 1 0 3.2,0a1.6,1.6 0 1 0 -3.2,0" fill="#2a4585"/>
<path d="M431.1,337.5V341.9M434.6,340V345.7M439.2,344.5V350.8M445.6,347V353.4M450.2,349.6V355.9M455,353.4V358.5M472.3,354V362.3M482.9,351.2V364.2M491.6,361V365.5" stroke="#2a4585" stroke-width="1.0" fill="none"/>
<path d="M429.5,337.5a1.6,1.6 0 1 0 3.2,0a1.6,1.6 0 1 0 -3.2,0M433,340a1.6,1.6 0 1 0 3.2,0a1.6,1.6 0 1 0 -3.2,0M437.6,344.5a1.6,1.6 0 1 0 3.2,0a1.6,1.6 0 1 0 -3.2,0M444,347a1.6,1.6 0 1 0 3.2,0a1.6,1.6 0 1 0 -3.2,0M448.6,349.6a1.6,1.6 0 1 0 3.2,0a1.6,1.6 0 1 0 -3.2,0M453.4,353.4a1.6,1.6 0 1 0 3.2,0a1.6,1.6 0 1 0 -3.2,0M470.7,354a1.6,1.6 0 1 0 3.2,0a1.6,1.6 0 1 0 -3.2,0M481.3,351.2a1.6,1.6 0 1 0 3.2,0a1.6,1.6 0 1 0 -3.2,0M490,361a1.6,1.6 0 1 0 3.2,0a1.6,1.6 0 1 0 -3.2,0" fill="#2a4585"/>
<line x1="395.8" y1="300.3" x2="395.8" y2="366.8" stroke="#111" stroke-width="1.25"/>
<line x1="392.8" y1="366.1" x2="395.8" y2="366.1" stroke="#111" stroke-width="1.0"/>
<text transform="translate(389.4,369) scale(0.77,1)" font-size="8.5" text-anchor="end" stroke="#3a3a3a" stroke-width="0.1">0</text>
<line x1="392.8" y1="353.4" x2="395.8" y2="353.4" stroke="#111" stroke-width="1.0"/>
<text transform="translate(389.4,356.3) scale(0.77,1)" font-size="8.5" text-anchor="end" stroke="#3a3a3a" stroke-width="0.1">20</text>
<line x1="392.8" y1="340.7" x2="395.8" y2="340.7" stroke="#111" stroke-width="1.0"/>
<text transform="translate(389.4,343.6) scale(0.77,1)" font-size="8.5" text-anchor="end" stroke="#3a3a3a" stroke-width="0.1">40</text>
<line x1="392.8" y1="327.9" x2="395.8" y2="327.9" stroke="#111" stroke-width="1.0"/>
<text transform="translate(389.4,330.9) scale(0.77,1)" font-size="8.5" text-anchor="end" stroke="#3a3a3a" stroke-width="0.1">60</text>
<line x1="392.8" y1="315.2" x2="395.8" y2="315.2" stroke="#111" stroke-width="1.0"/>
<text transform="translate(389.4,318.2) scale(0.77,1)" font-size="8.5" text-anchor="end" stroke="#3a3a3a" stroke-width="0.1">80</text>
<line x1="392.8" y1="302.5" x2="395.8" y2="302.5" stroke="#111" stroke-width="1.0"/>
<text transform="translate(389.4,305.4) scale(0.77,1)" font-size="8.5" text-anchor="end" stroke="#3a3a3a" stroke-width="0.1">100</text>
<line x1="395.1" y1="366.1" x2="494.2" y2="366.1" stroke="#111" stroke-width="1.25"/>
<line x1="395.3" y1="366.1" x2="395.3" y2="369.1" stroke="#111" stroke-width="1.0"/>
<text transform="translate(395.3,378.5) scale(0.8,1)" font-size="8.2" text-anchor="middle" stroke="#3a3a3a" stroke-width="0.1">0</text>
<line x1="414.6" y1="366.1" x2="414.6" y2="369.1" stroke="#111" stroke-width="1.0"/>
<text transform="translate(414.6,378.5) scale(0.8,1)" font-size="8.2" text-anchor="middle" stroke="#3a3a3a" stroke-width="0.1">10</text>
<line x1="433.8" y1="366.1" x2="433.8" y2="369.1" stroke="#111" stroke-width="1.0"/>
<text transform="translate(433.8,378.5) scale(0.8,1)" font-size="8.2" text-anchor="middle" stroke="#3a3a3a" stroke-width="0.1">20</text>
<line x1="453.1" y1="366.1" x2="453.1" y2="369.1" stroke="#111" stroke-width="1.0"/>
<text transform="translate(453.1,378.5) scale(0.8,1)" font-size="8.2" text-anchor="middle" stroke="#3a3a3a" stroke-width="0.1">30</text>
<line x1="472.3" y1="366.1" x2="472.3" y2="369.1" stroke="#111" stroke-width="1.0"/>
<text transform="translate(472.3,378.5) scale(0.8,1)" font-size="8.2" text-anchor="middle" stroke="#3a3a3a" stroke-width="0.1">40</text>
<line x1="491.6" y1="366.1" x2="491.6" y2="369.1" stroke="#111" stroke-width="1.0"/>
<text transform="translate(491.6,378.5) scale(0.8,1)" font-size="8.2" text-anchor="middle" stroke="#3a3a3a" stroke-width="0.1">50</text>
<text transform="translate(445.4,391.7) scale(0.84,1)" font-size="8.8" text-anchor="middle" stroke="#3a3a3a" stroke-width="0.1">Time (min)</text>
<text transform="translate(371.9,332.9) rotate(-90) scale(0.85,1)" font-size="8.8" text-anchor="middle" stroke="#3a3a3a" stroke-width="0.1">Plasmin (nM)</text>
<line x1="436.7" y1="304.2" x2="444.1" y2="304.2" stroke="#2a4585" stroke-width="1.1"/>
<circle cx="440.4" cy="304.2" r="1.4" fill="#2a4585"/>
<text transform="translate(447.1,306.3)" font-size="5.8">CD</text>
<line x1="436.7" y1="311.9" x2="444.1" y2="311.9" stroke="#6b7ab8" stroke-width="1.1"/>
<rect x="439" y="310.5" width="2.8" height="2.8" fill="#6b7ab8"/>
<text transform="translate(447.1,314)" font-size="5.8">CD + MTM1701</text>
<line x1="436.7" y1="319.2" x2="444.1" y2="319.2" stroke="#aab2d8" stroke-width="1.1"/>
<path d="M440.4,317.5l1.5,2.7h-3.1z" fill="#aab2d8"/>
<text transform="translate(447.1,321.3)" font-size="5.8">CD + PTCI</text>
<text transform="translate(9.2,420.6)" font-size="12.8" font-weight="bold" fill="#111">J</text>
<polyline points="55.2,493.8 56.2,493.7 57.1,493.6 58.1,493.7 59,493.4 60,493.6 60.9,493.4 61.9,493.2 62.8,493.1 63.8,492.9 64.8,493 65.7,492.9 66.7,492.9 67.6,492.8 68.6,492.5 69.5,491.9 70.5,491.3 71.5,490.3 72.4,488.9 73.4,486.9 74.3,483.3 75.3,479.8 76.2,473.1 77.2,465 78.1,464.7 79.1,460.1 80.1,463.5 81,463.9 82,464.7 82.9,463.8 83.9,465.8 84.8,466.3 85.8,469.6 86.7,470.5 87.7,469.1 88.7,471.2 89.6,471.3 90.6,474.6 91.5,475.4 92.5,474.4 93.4,475.5 94.4,476.2 95.4,474.5 96.3,474.5 97.3,477.8 98.2,478.7 99.2,478.8 100.1,479.3 101.1,477.7 102,479.4 103,477.6 104,481.7 104.9,480.2 105.9,482.2 106.8,480.1 107.8,482.3 108.7,483.2 109.7,482.5 110.6,482 111.6,485.4 112.6,485.1 113.5,483.3 114.5,485.3 115.4,486.7 116.4,484.4 117.3,484.7 118.3,486.6 119.3,487.7 120.2,488.5 121.2,486.6 122.1,486.8 123.1,487.2 124,487.6 125,488.8 125.9,489.3 126.9,488.7 127.9,488.3 128.8,489.4 129.8,489.5 130.7,490.1 131.7,489 132.6,488.8 133.6,491 134.5,489.2 135.5,489.8 136.5,491 137.4,491.6 138.4,490.5 139.3,491 140.3,491 141.2,490 142.2,490.2 143.2,491.1 144.1,491.7 145.1,492.7 146,493.1 147,491.2 147.9,492.8 148.9,491.8 149.8,492.9 150.8,493.3" fill="none" stroke="#e8c0b2" stroke-width="1.6" stroke-linejoin="round" stroke-linecap="round"/>
<path d="M55.2,492l1.7,2.8h-3.3zM56.2,491.9l1.7,2.8h-3.3zM57.1,491.8l1.7,2.8h-3.3zM58.1,491.9l1.7,2.8h-3.3zM59,491.6l1.7,2.8h-3.3zM60,491.8l1.7,2.8h-3.3zM60.9,491.6l1.7,2.8h-3.3zM61.9,491.4l1.7,2.8h-3.3zM62.8,491.3l1.7,2.8h-3.3zM63.8,491.1l1.7,2.8h-3.3zM64.8,491.2l1.7,2.8h-3.3zM65.7,491.1l1.7,2.8h-3.3zM66.7,491.1l1.7,2.8h-3.3zM67.6,491l1.7,2.8h-3.3zM68.6,490.7l1.7,2.8h-3.3zM69.5,490.1l1.7,2.8h-3.3zM70.5,489.5l1.7,2.8h-3.3zM71.5,488.5l1.7,2.8h-3.3zM72.4,487.1l1.7,2.8h-3.3zM73.4,485.1l1.7,2.8h-3.3zM74.3,481.5l1.7,2.8h-3.3zM75.3,478l1.7,2.8h-3.3zM76.2,471.3l1.7,2.8h-3.3zM77.2,463.2l1.7,2.8h-3.3zM78.1,462.9l1.7,2.8h-3.3zM79.1,458.3l1.7,2.8h-3.3zM80.1,461.7l1.7,2.8h-3.3zM81,462.1l1.7,2.8h-3.3zM82,462.9l1.7,2.8h-3.3zM82.9,462l1.7,2.8h-3.3zM83.9,464l1.7,2.8h-3.3zM84.8,464.5l1.7,2.8h-3.3zM85.8,467.8l1.7,2.8h-3.3zM86.7,468.7l1.7,2.8h-3.3zM87.7,467.3l1.7,2.8h-3.3zM88.7,469.4l1.7,2.8h-3.3zM89.6,469.5l1.7,2.8h-3.3zM90.6,472.8l1.7,2.8h-3.3zM91.5,473.6l1.7,2.8h-3.3zM92.5,472.6l1.7,2.8h-3.3zM93.4,473.7l1.7,2.8h-3.3zM94.4,474.4l1.7,2.8h-3.3zM95.4,472.7l1.7,2.8h-3.3zM96.3,472.7l1.7,2.8h-3.3zM97.3,476l1.7,2.8h-3.3zM98.2,476.9l1.7,2.8h-3.3zM99.2,477l1.7,2.8h-3.3zM100.1,477.5l1.7,2.8h-3.3zM101.1,475.9l1.7,2.8h-3.3zM102,477.6l1.7,2.8h-3.3zM103,475.8l1.7,2.8h-3.3zM104,479.9l1.7,2.8h-3.3zM104.9,478.4l1.7,2.8h-3.3zM105.9,480.4l1.7,2.8h-3.3zM106.8,478.3l1.7,2.8h-3.3zM107.8,480.5l1.7,2.8h-3.3zM108.7,481.4l1.7,2.8h-3.3zM109.7,480.7l1.7,2.8h-3.3zM110.6,480.2l1.7,2.8h-3.3zM111.6,483.6l1.7,2.8h-3.3zM112.6,483.3l1.7,2.8h-3.3zM113.5,481.5l1.7,2.8h-3.3zM114.5,483.5l1.7,2.8h-3.3zM115.4,484.9l1.7,2.8h-3.3zM116.4,482.6l1.7,2.8h-3.3zM117.3,482.9l1.7,2.8h-3.3zM118.3,484.8l1.7,2.8h-3.3zM119.3,485.9l1.7,2.8h-3.3zM120.2,486.7l1.7,2.8h-3.3zM121.2,484.8l1.7,2.8h-3.3zM122.1,485l1.7,2.8h-3.3zM123.1,485.4l1.7,2.8h-3.3zM124,485.8l1.7,2.8h-3.3zM125,487l1.7,2.8h-3.3zM125.9,487.5l1.7,2.8h-3.3zM126.9,486.9l1.7,2.8h-3.3zM127.9,486.5l1.7,2.8h-3.3zM128.8,487.6l1.7,2.8h-3.3zM129.8,487.7l1.7,2.8h-3.3zM130.7,488.3l1.7,2.8h-3.3zM131.7,487.2l1.7,2.8h-3.3zM132.6,487l1.7,2.8h-3.3zM133.6,489.2l1.7,2.8h-3.3zM134.5,487.4l1.7,2.8h-3.3zM135.5,488l1.7,2.8h-3.3zM136.5,489.2l1.7,2.8h-3.3zM137.4,489.8l1.7,2.8h-3.3zM138.4,488.7l1.7,2.8h-3.3zM139.3,489.2l1.7,2.8h-3.3zM140.3,489.2l1.7,2.8h-3.3zM141.2,488.2l1.7,2.8h-3.3zM142.2,488.4l1.7,2.8h-3.3zM143.2,489.3l1.7,2.8h-3.3zM144.1,489.9l1.7,2.8h-3.3zM145.1,490.9l1.7,2.8h-3.3zM146,491.3l1.7,2.8h-3.3zM147,489.4l1.7,2.8h-3.3zM147.9,491l1.7,2.8h-3.3zM148.9,490l1.7,2.8h-3.3zM149.8,491.1l1.7,2.8h-3.3zM150.8,491.5l1.7,2.8h-3.3z" fill="#e8c0b2"/>
<path d="M112.6,471.4V487.4" stroke="#e8c0b2" stroke-width="0.8" fill="none"/>
<path d="M111.8,471.4a0.8,0.8 0 1 0 1.6,0a0.8,0.8 0 1 0 -1.6,0" fill="#e8c0b2"/>
<polyline points="56,493.8 56.9,493.4 57.9,493 58.8,492.5 59.8,492.2 60.7,491.9 61.7,491.5 62.7,491.3 63.6,490.3 64.6,489.7 65.5,488.6 66.5,487.5 67.4,485.6 68.4,483.1 69.3,480.8 70.3,477.3 71.3,473.1 72.2,468.9 73.2,463.6 74.1,459.1 75.1,459.3 76,460.2 77,458.9 78,456.8 78.9,455.4 79.9,458.2 80.8,460.4 81.8,465.8 82.7,469.8 83.7,470.9 84.6,471.1 85.6,473.7 86.6,477.9 87.5,477.3 88.5,474.8 89.4,475.4 90.4,479.2 91.3,480.1 92.3,481.6 93.2,481.5 94.2,482.2 95.2,478.4 96.1,479 97.1,482.1 98,483.8 99,480.2 99.9,481.9 100.9,481 101.9,483.9 102.8,481.9 103.8,482.5 104.7,483.4 105.7,483.8 106.6,484 107.6,485.3 108.5,483.7 109.5,487.4 110.5,486.5 111.4,486.9 112.4,486.8 113.3,485.7 114.3,488.9 115.2,487.8 116.2,487.9 117.1,488.4 118.1,487.8 119.1,487.7 120,488.2 121,488.8 121.9,489.6 122.9,487.5 123.8,488.3 124.8,489.1 125.8,491.4 126.7,490.5 127.7,489.6 128.6,491.5 129.6,490.9 130.5,491 131.5,492.2 132.4,489.9 133.4,489.9 134.4,492.2 135.3,492.7 136.3,492.6 137.2,491.1 138.2,492.9 139.1,491.3 140.1,490.8 141,493.7 142,491.7 143,491.7 143.9,492.1 144.9,492 145.8,493.3 146.8,493.8 147.7,491.3 148.7,493.8 149.7,491.4 150.6,491.8" fill="none" stroke="#b0163a" stroke-width="1.6" stroke-linejoin="round" stroke-linecap="round"/>
<path d="M54.2,492h3.6v3.6h-3.6zM55.1,491.6h3.6v3.6h-3.6zM56.1,491.2h3.6v3.6h-3.6zM57,490.7h3.6v3.6h-3.6zM58,490.4h3.6v3.6h-3.6zM58.9,490.1h3.6v3.6h-3.6zM59.9,489.7h3.6v3.6h-3.6zM60.9,489.5h3.6v3.6h-3.6zM61.8,488.5h3.6v3.6h-3.6zM62.8,487.9h3.6v3.6h-3.6zM63.7,486.8h3.6v3.6h-3.6zM64.7,485.7h3.6v3.6h-3.6zM65.6,483.8h3.6v3.6h-3.6zM66.6,481.3h3.6v3.6h-3.6zM67.5,479h3.6v3.6h-3.6zM68.5,475.5h3.6v3.6h-3.6zM69.5,471.3h3.6v3.6h-3.6zM70.4,467.1h3.6v3.6h-3.6zM71.4,461.8h3.6v3.6h-3.6zM72.3,457.3h3.6v3.6h-3.6zM73.3,457.5h3.6v3.6h-3.6zM74.2,458.4h3.6v3.6h-3.6zM75.2,457.1h3.6v3.6h-3.6zM76.2,455h3.6v3.6h-3.6zM77.1,453.6h3.6v3.6h-3.6zM78.1,456.4h3.6v3.6h-3.6zM79,458.6h3.6v3.6h-3.6zM80,464h3.6v3.6h-3.6zM80.9,468h3.6v3.6h-3.6zM81.9,469.1h3.6v3.6h-3.6zM82.8,469.3h3.6v3.6h-3.6zM83.8,471.9h3.6v3.6h-3.6zM84.8,476.1h3.6v3.6h-3.6zM85.7,475.5h3.6v3.6h-3.6zM86.7,473h3.6v3.6h-3.6zM87.6,473.6h3.6v3.6h-3.6zM88.6,477.4h3.6v3.6h-3.6zM89.5,478.3h3.6v3.6h-3.6zM90.5,479.8h3.6v3.6h-3.6zM91.4,479.7h3.6v3.6h-3.6zM92.4,480.4h3.6v3.6h-3.6zM93.4,476.6h3.6v3.6h-3.6zM94.3,477.2h3.6v3.6h-3.6zM95.3,480.3h3.6v3.6h-3.6zM96.2,482h3.6v3.6h-3.6zM97.2,478.4h3.6v3.6h-3.6zM98.1,480.1h3.6v3.6h-3.6zM99.1,479.2h3.6v3.6h-3.6zM100.1,482.1h3.6v3.6h-3.6zM101,480.1h3.6v3.6h-3.6zM102,480.7h3.6v3.6h-3.6zM102.9,481.6h3.6v3.6h-3.6zM103.9,482h3.6v3.6h-3.6zM104.8,482.2h3.6v3.6h-3.6zM105.8,483.5h3.6v3.6h-3.6zM106.7,481.9h3.6v3.6h-3.6zM107.7,485.6h3.6v3.6h-3.6zM108.7,484.7h3.6v3.6h-3.6zM109.6,485.1h3.6v3.6h-3.6zM110.6,485h3.6v3.6h-3.6zM111.5,483.9h3.6v3.6h-3.6zM112.5,487.1h3.6v3.6h-3.6zM113.4,486h3.6v3.6h-3.6zM114.4,486.1h3.6v3.6h-3.6zM115.3,486.6h3.6v3.6h-3.6zM116.3,486h3.6v3.6h-3.6zM117.3,485.9h3.6v3.6h-3.6zM118.2,486.4h3.6v3.6h-3.6zM119.2,487h3.6v3.6h-3.6zM120.1,487.8h3.6v3.6h-3.6zM121.1,485.7h3.6v3.6h-3.6zM122,486.5h3.6v3.6h-3.6zM123,487.3h3.6v3.6h-3.6zM124,489.6h3.6v3.6h-3.6zM124.9,488.7h3.6v3.6h-3.6zM125.9,487.8h3.6v3.6h-3.6zM126.8,489.7h3.6v3.6h-3.6zM127.8,489.1h3.6v3.6h-3.6zM128.7,489.2h3.6v3.6h-3.6zM129.7,490.4h3.6v3.6h-3.6zM130.6,488.1h3.6v3.6h-3.6zM131.6,488.1h3.6v3.6h-3.6zM132.6,490.4h3.6v3.6h-3.6zM133.5,490.9h3.6v3.6h-3.6zM134.5,490.8h3.6v3.6h-3.6zM135.4,489.3h3.6v3.6h-3.6zM136.4,491.1h3.6v3.6h-3.6zM137.3,489.5h3.6v3.6h-3.6zM138.3,489h3.6v3.6h-3.6zM139.2,491.9h3.6v3.6h-3.6zM140.2,489.9h3.6v3.6h-3.6zM141.2,489.9h3.6v3.6h-3.6zM142.1,490.3h3.6v3.6h-3.6zM143.1,490.2h3.6v3.6h-3.6zM144,491.5h3.6v3.6h-3.6zM145,492h3.6v3.6h-3.6zM145.9,489.5h3.6v3.6h-3.6zM146.9,492h3.6v3.6h-3.6zM147.9,489.6h3.6v3.6h-3.6zM148.8,490h3.6v3.6h-3.6z" fill="#b0163a"/>
<polyline points="55.2,493.8 56.2,493.5 57.1,493.7 58.1,493.4 59,493.3 60,492.9 60.9,492.9 61.9,492.7 62.8,492.3 63.8,492.5 64.8,492.3 65.7,492.1 66.7,491.7 67.6,491.7 68.6,491.4 69.5,491.2 70.5,491.3 71.5,491.1 72.4,491.1 73.4,490.6 74.3,490.9 75.3,490.4 76.2,490.6 77.2,490.4 78.1,490.6 79.1,490.1 80.1,490.4 81,490.2 82,489.8 82.9,489.8 83.9,489.7 84.8,489.6 85.8,489 86.7,489 87.7,488.8 88.7,488.6 89.6,488.1 90.6,488.2 91.5,487.6 92.5,486.8 93.4,486.2 94.4,485.4 95.4,484.2 96.3,482.7 97.3,480.8 98.2,478.9 99.2,476.5 100.1,475 101.1,474.4 102,472.6 103,472.2 104,468.9 104.9,469.1 105.9,471.7 106.8,470.8 107.8,463.5 108.7,462.2 109.7,457.3 110.6,458.5 111.6,460.1 112.6,454.9 113.5,457.1 114.5,461.1 115.4,461.5 116.4,465.7 117.3,465.3 118.3,471 119.3,470.2 120.2,470.5 121.2,471.3 122.1,475.6 123.1,476.9 124,476 125,476.4 125.9,477.9 126.9,480.6 127.9,480.5 128.8,479.4 129.8,480.9 130.7,479.9 131.7,484.1 132.6,482.5 133.6,483.2 134.5,484.4 135.5,486.3 136.5,485.7 137.4,486.5 138.4,487.5 139.3,485.6 140.3,488.6 141.2,489.2 142.2,486.7 143.2,486.9 144.1,488.3 145.1,489.1 146,488.9 147,491.4 147.9,491.1 148.9,490.8 149.8,492.5 150.8,490.7" fill="none" stroke="#c9725f" stroke-width="2.2" stroke-linejoin="round" stroke-linecap="round"/>
<path d="M55.2,491.6l1.9,2.2l-1.9,2.2l-1.9,-2.2zM56.2,491.3l1.9,2.2l-1.9,2.2l-1.9,-2.2zM57.1,491.4l1.9,2.2l-1.9,2.2l-1.9,-2.2zM58.1,491.2l1.9,2.2l-1.9,2.2l-1.9,-2.2zM59,491.1l1.9,2.2l-1.9,2.2l-1.9,-2.2zM60,490.7l1.9,2.2l-1.9,2.2l-1.9,-2.2zM60.9,490.7l1.9,2.2l-1.9,2.2l-1.9,-2.2zM61.9,490.5l1.9,2.2l-1.9,2.2l-1.9,-2.2zM62.8,490.1l1.9,2.2l-1.9,2.2l-1.9,-2.2zM63.8,490.3l1.9,2.2l-1.9,2.2l-1.9,-2.2zM64.8,490.1l1.9,2.2l-1.9,2.2l-1.9,-2.2zM65.7,489.9l1.9,2.2l-1.9,2.2l-1.9,-2.2zM66.7,489.5l1.9,2.2l-1.9,2.2l-1.9,-2.2zM67.6,489.5l1.9,2.2l-1.9,2.2l-1.9,-2.2zM68.6,489.2l1.9,2.2l-1.9,2.2l-1.9,-2.2zM69.5,489l1.9,2.2l-1.9,2.2l-1.9,-2.2zM70.5,489.1l1.9,2.2l-1.9,2.2l-1.9,-2.2zM71.5,488.9l1.9,2.2l-1.9,2.2l-1.9,-2.2zM72.4,488.8l1.9,2.2l-1.9,2.2l-1.9,-2.2zM73.4,488.4l1.9,2.2l-1.9,2.2l-1.9,-2.2zM74.3,488.7l1.9,2.2l-1.9,2.2l-1.9,-2.2zM75.3,488.2l1.9,2.2l-1.9,2.2l-1.9,-2.2zM76.2,488.4l1.9,2.2l-1.9,2.2l-1.9,-2.2zM77.2,488.2l1.9,2.2l-1.9,2.2l-1.9,-2.2zM78.1,488.3l1.9,2.2l-1.9,2.2l-1.9,-2.2zM79.1,487.9l1.9,2.2l-1.9,2.2l-1.9,-2.2zM80.1,488.2l1.9,2.2l-1.9,2.2l-1.9,-2.2zM81,488l1.9,2.2l-1.9,2.2l-1.9,-2.2zM82,487.6l1.9,2.2l-1.9,2.2l-1.9,-2.2zM82.9,487.6l1.9,2.2l-1.9,2.2l-1.9,-2.2zM83.9,487.5l1.9,2.2l-1.9,2.2l-1.9,-2.2zM84.8,487.4l1.9,2.2l-1.9,2.2l-1.9,-2.2zM85.8,486.8l1.9,2.2l-1.9,2.2l-1.9,-2.2zM86.7,486.7l1.9,2.2l-1.9,2.2l-1.9,-2.2zM87.7,486.6l1.9,2.2l-1.9,2.2l-1.9,-2.2zM88.7,486.4l1.9,2.2l-1.9,2.2l-1.9,-2.2zM89.6,485.9l1.9,2.2l-1.9,2.2l-1.9,-2.2zM90.6,485.9l1.9,2.2l-1.9,2.2l-1.9,-2.2zM91.5,485.4l1.9,2.2l-1.9,2.2l-1.9,-2.2zM92.5,484.6l1.9,2.2l-1.9,2.2l-1.9,-2.2zM93.4,484l1.9,2.2l-1.9,2.2l-1.9,-2.2zM94.4,483.2l1.9,2.2l-1.9,2.2l-1.9,-2.2zM95.4,482l1.9,2.2l-1.9,2.2l-1.9,-2.2zM96.3,480.5l1.9,2.2l-1.9,2.2l-1.9,-2.2zM97.3,478.6l1.9,2.2l-1.9,2.2l-1.9,-2.2zM98.2,476.6l1.9,2.2l-1.9,2.2l-1.9,-2.2zM99.2,474.2l1.9,2.2l-1.9,2.2l-1.9,-2.2zM100.1,472.8l1.9,2.2l-1.9,2.2l-1.9,-2.2zM101.1,472.2l1.9,2.2l-1.9,2.2l-1.9,-2.2zM102,470.4l1.9,2.2l-1.9,2.2l-1.9,-2.2zM103,469.9l1.9,2.2l-1.9,2.2l-1.9,-2.2zM104,466.7l1.9,2.2l-1.9,2.2l-1.9,-2.2zM104.9,466.9l1.9,2.2l-1.9,2.2l-1.9,-2.2zM105.9,469.5l1.9,2.2l-1.9,2.2l-1.9,-2.2zM106.8,468.6l1.9,2.2l-1.9,2.2l-1.9,-2.2zM107.8,461.3l1.9,2.2l-1.9,2.2l-1.9,-2.2zM108.7,460l1.9,2.2l-1.9,2.2l-1.9,-2.2zM109.7,455.1l1.9,2.2l-1.9,2.2l-1.9,-2.2zM110.6,456.3l1.9,2.2l-1.9,2.2l-1.9,-2.2zM111.6,457.9l1.9,2.2l-1.9,2.2l-1.9,-2.2zM112.6,452.7l1.9,2.2l-1.9,2.2l-1.9,-2.2zM113.5,454.9l1.9,2.2l-1.9,2.2l-1.9,-2.2zM114.5,458.9l1.9,2.2l-1.9,2.2l-1.9,-2.2zM115.4,459.3l1.9,2.2l-1.9,2.2l-1.9,-2.2zM116.4,463.5l1.9,2.2l-1.9,2.2l-1.9,-2.2zM117.3,463.1l1.9,2.2l-1.9,2.2l-1.9,-2.2zM118.3,468.8l1.9,2.2l-1.9,2.2l-1.9,-2.2zM119.3,468l1.9,2.2l-1.9,2.2l-1.9,-2.2zM120.2,468.3l1.9,2.2l-1.9,2.2l-1.9,-2.2zM121.2,469.1l1.9,2.2l-1.9,2.2l-1.9,-2.2zM122.1,473.3l1.9,2.2l-1.9,2.2l-1.9,-2.2zM123.1,474.7l1.9,2.2l-1.9,2.2l-1.9,-2.2zM124,473.8l1.9,2.2l-1.9,2.2l-1.9,-2.2zM125,474.2l1.9,2.2l-1.9,2.2l-1.9,-2.2zM125.9,475.7l1.9,2.2l-1.9,2.2l-1.9,-2.2zM126.9,478.3l1.9,2.2l-1.9,2.2l-1.9,-2.2zM127.9,478.3l1.9,2.2l-1.9,2.2l-1.9,-2.2zM128.8,477.2l1.9,2.2l-1.9,2.2l-1.9,-2.2zM129.8,478.7l1.9,2.2l-1.9,2.2l-1.9,-2.2zM130.7,477.7l1.9,2.2l-1.9,2.2l-1.9,-2.2zM131.7,481.9l1.9,2.2l-1.9,2.2l-1.9,-2.2zM132.6,480.3l1.9,2.2l-1.9,2.2l-1.9,-2.2zM133.6,481l1.9,2.2l-1.9,2.2l-1.9,-2.2zM134.5,482.2l1.9,2.2l-1.9,2.2l-1.9,-2.2zM135.5,484.1l1.9,2.2l-1.9,2.2l-1.9,-2.2zM136.5,483.5l1.9,2.2l-1.9,2.2l-1.9,-2.2zM137.4,484.3l1.9,2.2l-1.9,2.2l-1.9,-2.2zM138.4,485.3l1.9,2.2l-1.9,2.2l-1.9,-2.2zM139.3,483.4l1.9,2.2l-1.9,2.2l-1.9,-2.2zM140.3,486.4l1.9,2.2l-1.9,2.2l-1.9,-2.2zM141.2,487l1.9,2.2l-1.9,2.2l-1.9,-2.2zM142.2,484.4l1.9,2.2l-1.9,2.2l-1.9,-2.2zM143.2,484.7l1.9,2.2l-1.9,2.2l-1.9,-2.2zM144.1,486.1l1.9,2.2l-1.9,2.2l-1.9,-2.2zM145.1,486.9l1.9,2.2l-1.9,2.2l-1.9,-2.2zM146,486.7l1.9,2.2l-1.9,2.2l-1.9,-2.2zM147,489.2l1.9,2.2l-1.9,2.2l-1.9,-2.2zM147.9,488.9l1.9,2.2l-1.9,2.2l-1.9,-2.2zM148.9,488.6l1.9,2.2l-1.9,2.2l-1.9,-2.2zM149.8,490.3l1.9,2.2l-1.9,2.2l-1.9,-2.2zM150.8,488.5l1.9,2.2l-1.9,2.2l-1.9,-2.2z" fill="#c9725f"/>
<path d="M124,467.6V479.7M127.3,470.8V481M134.4,468.6V487.4M144.3,479.1V491.9M139.3,482.3V490" stroke="#c9725f" stroke-width="0.9" fill="none"/>
<path d="M122.7,467.6a1.3,1.3 0 1 0 2.6,0a1.3,1.3 0 1 0 -2.6,0M126,470.8a1.3,1.3 0 1 0 2.6,0a1.3,1.3 0 1 0 -2.6,0M133.1,468.6a1.3,1.3 0 1 0 2.6,0a1.3,1.3 0 1 0 -2.6,0M143,479.1a1.3,1.3 0 1 0 2.6,0a1.3,1.3 0 1 0 -2.6,0M138,482.3a1.3,1.3 0 1 0 2.6,0a1.3,1.3 0 1 0 -2.6,0" fill="#c9725f"/>
<line x1="55.4" y1="427.5" x2="55.4" y2="494.4" stroke="#111" stroke-width="1.25"/>
<line x1="52.4" y1="493.8" x2="55.4" y2="493.8" stroke="#111" stroke-width="1.0"/>
<text transform="translate(49,496.7) scale(0.77,1)" font-size="8.5" text-anchor="end" stroke="#3a3a3a" stroke-width="0.1">0</text>
<line x1="52.4" y1="481" x2="55.4" y2="481" stroke="#111" stroke-width="1.0"/>
<text transform="translate(49,483.9) scale(0.77,1)" font-size="8.5" text-anchor="end" stroke="#3a3a3a" stroke-width="0.1">20</text>
<line x1="52.4" y1="468.2" x2="55.4" y2="468.2" stroke="#111" stroke-width="1.0"/>
<text transform="translate(49,471.1) scale(0.77,1)" font-size="8.5" text-anchor="end" stroke="#3a3a3a" stroke-width="0.1">40</text>
<line x1="52.4" y1="455.4" x2="55.4" y2="455.4" stroke="#111" stroke-width="1.0"/>
<text transform="translate(49,458.3) scale(0.77,1)" font-size="8.5" text-anchor="end" stroke="#3a3a3a" stroke-width="0.1">60</text>
<line x1="52.4" y1="442.6" x2="55.4" y2="442.6" stroke="#111" stroke-width="1.0"/>
<text transform="translate(49,445.5) scale(0.77,1)" font-size="8.5" text-anchor="end" stroke="#3a3a3a" stroke-width="0.1">80</text>
<line x1="52.4" y1="429.8" x2="55.4" y2="429.8" stroke="#111" stroke-width="1.0"/>
<text transform="translate(49,432.7) scale(0.77,1)" font-size="8.5" text-anchor="end" stroke="#3a3a3a" stroke-width="0.1">100</text>
<line x1="54.8" y1="493.8" x2="153.6" y2="493.8" stroke="#111" stroke-width="1.25"/>
<line x1="55.2" y1="493.8" x2="55.2" y2="496.8" stroke="#111" stroke-width="1.0"/>
<text transform="translate(55.2,506.2) scale(0.8,1)" font-size="8.2" text-anchor="middle" stroke="#3a3a3a" stroke-width="0.1">0</text>
<line x1="74.3" y1="493.8" x2="74.3" y2="496.8" stroke="#111" stroke-width="1.0"/>
<text transform="translate(74.3,506.2) scale(0.8,1)" font-size="8.2" text-anchor="middle" stroke="#3a3a3a" stroke-width="0.1">10</text>
<line x1="93.4" y1="493.8" x2="93.4" y2="496.8" stroke="#111" stroke-width="1.0"/>
<text transform="translate(93.4,506.2) scale(0.8,1)" font-size="8.2" text-anchor="middle" stroke="#3a3a3a" stroke-width="0.1">20</text>
<line x1="112.6" y1="493.8" x2="112.6" y2="496.8" stroke="#111" stroke-width="1.0"/>
<text transform="translate(112.6,506.2) scale(0.8,1)" font-size="8.2" text-anchor="middle" stroke="#3a3a3a" stroke-width="0.1">30</text>
<line x1="131.7" y1="493.8" x2="131.7" y2="496.8" stroke="#111" stroke-width="1.0"/>
<text transform="translate(131.7,506.2) scale(0.8,1)" font-size="8.2" text-anchor="middle" stroke="#3a3a3a" stroke-width="0.1">40</text>
<line x1="150.8" y1="493.8" x2="150.8" y2="496.8" stroke="#111" stroke-width="1.0"/>
<text transform="translate(150.8,506.2) scale(0.8,1)" font-size="8.2" text-anchor="middle" stroke="#3a3a3a" stroke-width="0.1">50</text>
<text transform="translate(105,519.1) scale(0.84,1)" font-size="8.8" text-anchor="middle" stroke="#3a3a3a" stroke-width="0.1">Time (min)</text>
<text transform="translate(31.4,460.2) rotate(-90) scale(0.85,1)" font-size="8.8" text-anchor="middle" stroke="#3a3a3a" stroke-width="0.1">Plasmin (nM)</text>
<line x1="93.8" y1="431.5" x2="101.2" y2="431.5" stroke="#c9725f" stroke-width="1.1"/>
<path d="M97.5,429.7l1.5,1.8l-1.5,1.8l-1.5,-1.8z" fill="#c9725f"/>
<text transform="translate(104.2,433.6)" font-size="5.8">HFD</text>
<line x1="93.8" y1="439.2" x2="101.2" y2="439.2" stroke="#b0163a" stroke-width="1.1"/>
<rect x="96.1" y="437.8" width="2.8" height="2.8" fill="#b0163a"/>
<text transform="translate(104.2,441.3)" font-size="5.8">HFD + MTM1701</text>
<line x1="93.8" y1="446.5" x2="101.2" y2="446.5" stroke="#e8c0b2" stroke-width="1.1"/>
<path d="M97.5,444.8l1.5,2.7h-3.1z" fill="#e8c0b2"/>
<text transform="translate(104.2,448.6)" font-size="5.8">HFD + PTCI</text>
<text transform="translate(191.2,421.2)" font-size="12.8" font-weight="bold" fill="#111">K</text>
<rect x="237" y="478.6" width="10" height="15.2" fill="#6574a8"/>
<rect x="253.1" y="480.1" width="10" height="13.7" fill="#a3abcf"/>
<rect x="269" y="480.1" width="10" height="13.7" fill="#d3d6ea"/>
<rect x="285.2" y="470.5" width="10" height="23.3" fill="#d9a193"/>
<rect x="301.5" y="482.2" width="10" height="11.6" fill="#c46f62"/>
<rect x="317.4" y="480.6" width="10" height="13.2" fill="#f0dbd3"/>
<circle cx="239.2" cy="478.6" r="2.0" fill="none" stroke="#2d4a8a" stroke-width="1.0"/>
<circle cx="242" cy="478" r="2.0" fill="none" stroke="#2d4a8a" stroke-width="1.0"/>
<circle cx="244.8" cy="478.3" r="2.0" fill="none" stroke="#2d4a8a" stroke-width="1.0"/>
<rect x="253.3" y="478.1" width="4" height="4" fill="none" stroke="#4a62a0" stroke-width="1.0"/>
<rect x="256.1" y="477.3" width="4" height="4" fill="none" stroke="#4a62a0" stroke-width="1.0"/>
<rect x="258.9" y="477.1" width="4" height="4" fill="none" stroke="#4a62a0" stroke-width="1.0"/>
<path d="M271,476.7l2.3,4h-4.6z" fill="none" stroke="#8c96cc" stroke-width="1.0"/>
<path d="M274,476.4l2.3,4h-4.6z" fill="none" stroke="#8c96cc" stroke-width="1.0"/>
<path d="M277,476.2l2.3,4h-4.6z" fill="none" stroke="#8c96cc" stroke-width="1.0"/>
<circle cx="290.2" cy="450.4" r="2.0" fill="none" stroke="#c4584e" stroke-width="1.0"/>
<circle cx="290.2" cy="456.6" r="2.0" fill="none" stroke="#c4584e" stroke-width="1.0"/>
<circle cx="286.7" cy="470.5" r="2.0" fill="none" stroke="#c4584e" stroke-width="1.0"/>
<circle cx="294" cy="468.5" r="2.0" fill="none" stroke="#c4584e" stroke-width="1.0"/>
<circle cx="294" cy="472.9" r="2.0" fill="none" stroke="#c4584e" stroke-width="1.0"/>
<circle cx="290.2" cy="477.3" r="2.0" fill="none" stroke="#c4584e" stroke-width="1.0"/>
<rect x="304.5" y="473.2" width="4" height="4" fill="none" stroke="#b3173d" stroke-width="1.0"/>
<rect x="302" y="478.1" width="4" height="4" fill="none" stroke="#b3173d" stroke-width="1.0"/>
<rect x="307" y="478.1" width="4" height="4" fill="none" stroke="#b3173d" stroke-width="1.0"/>
<rect x="304.5" y="480.2" width="4" height="4" fill="none" stroke="#b3173d" stroke-width="1.0"/>
<rect x="301.5" y="479.7" width="4" height="4" fill="none" stroke="#b3173d" stroke-width="1.0"/>
<rect x="307.5" y="479.7" width="4" height="4" fill="none" stroke="#b3173d" stroke-width="1.0"/>
<path d="M319.4,476.2l2.3,4h-4.6z" fill="none" stroke="#e0a08e" stroke-width="1.0"/>
<path d="M322.4,475.9l2.3,4h-4.6z" fill="none" stroke="#e0a08e" stroke-width="1.0"/>
<path d="M325.4,476.2l2.3,4h-4.6z" fill="none" stroke="#e0a08e" stroke-width="1.0"/>
<path d="M320.4,477.4l2.3,4h-4.6z" fill="none" stroke="#e0a08e" stroke-width="1.0"/>
<path d="M324.4,477.2l2.3,4h-4.6z" fill="none" stroke="#e0a08e" stroke-width="1.0"/>
<line x1="233.5" y1="427.6" x2="233.5" y2="494.4" stroke="#111" stroke-width="1.25"/>
<line x1="230.5" y1="493.8" x2="233.5" y2="493.8" stroke="#111" stroke-width="1.0"/>
<text transform="translate(227.1,496.7) scale(0.77,1)" font-size="8.5" text-anchor="end" stroke="#3a3a3a" stroke-width="0.1">0</text>
<line x1="230.5" y1="480.9" x2="233.5" y2="480.9" stroke="#111" stroke-width="1.0"/>
<text transform="translate(227.1,483.8) scale(0.77,1)" font-size="8.5" text-anchor="end" stroke="#3a3a3a" stroke-width="0.1">5</text>
<line x1="230.5" y1="468" x2="233.5" y2="468" stroke="#111" stroke-width="1.0"/>
<text transform="translate(227.1,470.9) scale(0.77,1)" font-size="8.5" text-anchor="end" stroke="#3a3a3a" stroke-width="0.1">10</text>
<line x1="230.5" y1="455" x2="233.5" y2="455" stroke="#111" stroke-width="1.0"/>
<text transform="translate(227.1,458) scale(0.77,1)" font-size="8.5" text-anchor="end" stroke="#3a3a3a" stroke-width="0.1">15</text>
<line x1="230.5" y1="442.1" x2="233.5" y2="442.1" stroke="#111" stroke-width="1.0"/>
<text transform="translate(227.1,445.1) scale(0.77,1)" font-size="8.5" text-anchor="end" stroke="#3a3a3a" stroke-width="0.1">20</text>
<line x1="230.5" y1="429.2" x2="233.5" y2="429.2" stroke="#111" stroke-width="1.0"/>
<text transform="translate(227.1,432.1) scale(0.77,1)" font-size="8.5" text-anchor="end" stroke="#3a3a3a" stroke-width="0.1">25</text>
<line x1="232.9" y1="493.8" x2="330.4" y2="493.8" stroke="#111" stroke-width="1.25"/>
<line x1="242" y1="493.8" x2="242" y2="496.8" stroke="#111" stroke-width="1.0"/>
<line x1="258.1" y1="493.8" x2="258.1" y2="496.8" stroke="#111" stroke-width="1.0"/>
<line x1="274" y1="493.8" x2="274" y2="496.8" stroke="#111" stroke-width="1.0"/>
<line x1="290.2" y1="493.8" x2="290.2" y2="496.8" stroke="#111" stroke-width="1.0"/>
<line x1="306.5" y1="493.8" x2="306.5" y2="496.8" stroke="#111" stroke-width="1.0"/>
<line x1="322.4" y1="493.8" x2="322.4" y2="496.8" stroke="#111" stroke-width="1.0"/>
<line x1="241.9" y1="430.2" x2="290.4" y2="430.2" stroke="#3a3a3a" stroke-width="1.4"/>
<circle cx="266.1" cy="426.5" r="0.95" fill="#333"/>
<line x1="292.3" y1="430.2" x2="322.1" y2="430.2" stroke="#3a3a3a" stroke-width="1.4"/>
<circle cx="305.5" cy="426.5" r="0.95" fill="#333"/>
<circle cx="308.9" cy="426.5" r="0.95" fill="#333"/>
<line x1="292.3" y1="439.2" x2="306.2" y2="439.2" stroke="#3a3a3a" stroke-width="1.4"/>
<circle cx="295.9" cy="435.5" r="0.95" fill="#333"/>
<circle cx="299.2" cy="435.5" r="0.95" fill="#333"/>
<circle cx="302.6" cy="435.5" r="0.95" fill="#333"/>
<text transform="translate(232.9,506.4) scale(0.99,1)" font-size="7.0" text-anchor="end" stroke="#3a3a3a" stroke-width="0.1">MTM-1701</text>
<text transform="translate(232.9,515) scale(0.92,1)" font-size="7.0" text-anchor="end" stroke="#3a3a3a" stroke-width="0.1">PTCI</text>
<text transform="translate(242,506.1)" font-size="6.6" text-anchor="middle">-</text>
<text transform="translate(258.1,506.1)" font-size="6.6" text-anchor="middle">+</text>
<text transform="translate(274,506.1)" font-size="6.6" text-anchor="middle">-</text>
<text transform="translate(290.2,506.1)" font-size="6.6" text-anchor="middle">-</text>
<text transform="translate(306.5,506.1)" font-size="6.6" text-anchor="middle">+</text>
<text transform="translate(322.4,506.1)" font-size="6.6" text-anchor="middle">-</text>
<text transform="translate(242,514.7)" font-size="6.6" text-anchor="middle">-</text>
<text transform="translate(258.1,514.7)" font-size="6.6" text-anchor="middle">-</text>
<text transform="translate(274,514.7)" font-size="6.6" text-anchor="middle">+</text>
<text transform="translate(290.2,514.7)" font-size="6.6" text-anchor="middle">-</text>
<text transform="translate(306.5,514.7)" font-size="6.6" text-anchor="middle">-</text>
<text transform="translate(322.4,514.7)" font-size="6.6" text-anchor="middle">+</text>
<line x1="241.7" y1="518.2" x2="276.6" y2="518.2" stroke="#555" stroke-width="1.4"/>
<line x1="288" y1="518.2" x2="322.8" y2="518.2" stroke="#555" stroke-width="1.4"/>
<text transform="translate(258.2,528.7) scale(0.95,1)" font-size="7.6" text-anchor="middle" stroke="#3a3a3a" stroke-width="0.1">Control Diet</text>
<text transform="translate(305.5,528.7) scale(0.94,1)" font-size="7.6" text-anchor="middle" stroke="#3a3a3a" stroke-width="0.1">High Fat Diet</text>
<text transform="translate(214.1,459.9) rotate(-90) scale(0.803,1)" font-size="9.0" text-anchor="middle" stroke="#3a3a3a" stroke-width="0.1">PG lagtime (min)</text>
<text transform="translate(354.4,421.2)" font-size="12.8" font-weight="bold" fill="#111">L</text>
<rect x="398.7" y="471.4" width="10" height="22.4" fill="#6574a8"/>
<rect x="415" y="480.9" width="10" height="12.9" fill="#a3abcf"/>
<rect x="431" y="478.3" width="10" height="15.5" fill="#d3d6ea"/>
<rect x="447.1" y="461.9" width="10" height="31.9" fill="#d9a193"/>
<rect x="463.3" y="478.3" width="10" height="15.5" fill="#c46f62"/>
<rect x="479.2" y="483.1" width="10" height="10.7" fill="#f0dbd3"/>
<circle cx="400.7" cy="472.5" r="2.0" fill="none" stroke="#2d4a8a" stroke-width="1.0"/>
<circle cx="403.7" cy="470.3" r="2.0" fill="none" stroke="#2d4a8a" stroke-width="1.0"/>
<circle cx="406.7" cy="470.8" r="2.0" fill="none" stroke="#2d4a8a" stroke-width="1.0"/>
<rect x="415.5" y="478.9" width="4" height="4" fill="none" stroke="#4a62a0" stroke-width="1.0"/>
<rect x="418" y="476.3" width="4" height="4" fill="none" stroke="#4a62a0" stroke-width="1.0"/>
<rect x="420.5" y="477.6" width="4" height="4" fill="none" stroke="#4a62a0" stroke-width="1.0"/>
<path d="M433,475.5l2.3,4h-4.6z" fill="none" stroke="#8c96cc" stroke-width="1.0"/>
<path d="M436,474l2.3,4h-4.6z" fill="none" stroke="#8c96cc" stroke-width="1.0"/>
<path d="M439,475l2.3,4h-4.6z" fill="none" stroke="#8c96cc" stroke-width="1.0"/>
<circle cx="448.6" cy="456.7" r="2.0" fill="none" stroke="#c4584e" stroke-width="1.0"/>
<circle cx="452.1" cy="457.9" r="2.0" fill="none" stroke="#c4584e" stroke-width="1.0"/>
<circle cx="455.9" cy="454.9" r="2.0" fill="none" stroke="#c4584e" stroke-width="1.0"/>
<circle cx="448.6" cy="466.8" r="2.0" fill="none" stroke="#c4584e" stroke-width="1.0"/>
<circle cx="452.1" cy="466.2" r="2.0" fill="none" stroke="#c4584e" stroke-width="1.0"/>
<circle cx="455.9" cy="466.2" r="2.0" fill="none" stroke="#c4584e" stroke-width="1.0"/>
<rect x="463.3" y="476.3" width="4" height="4" fill="none" stroke="#b3173d" stroke-width="1.0"/>
<rect x="466.3" y="475.6" width="4" height="4" fill="none" stroke="#b3173d" stroke-width="1.0"/>
<rect x="469.3" y="476.3" width="4" height="4" fill="none" stroke="#b3173d" stroke-width="1.0"/>
<rect x="463.3" y="478.2" width="4" height="4" fill="none" stroke="#b3173d" stroke-width="1.0"/>
<rect x="469.3" y="478.2" width="4" height="4" fill="none" stroke="#b3173d" stroke-width="1.0"/>
<rect x="466.3" y="477.6" width="4" height="4" fill="none" stroke="#b3173d" stroke-width="1.0"/>
<path d="M484.2,464.3l2.3,4h-4.6z" fill="none" stroke="#e0a08e" stroke-width="1.0"/>
<path d="M481.2,475.2l2.3,4h-4.6z" fill="none" stroke="#e0a08e" stroke-width="1.0"/>
<path d="M484.2,478.6l2.3,4h-4.6z" fill="none" stroke="#e0a08e" stroke-width="1.0"/>
<path d="M488,478.1l2.3,4h-4.6z" fill="none" stroke="#e0a08e" stroke-width="1.0"/>
<path d="M480.7,478.9l2.3,4h-4.6z" fill="none" stroke="#e0a08e" stroke-width="1.0"/>
<line x1="395.8" y1="427.6" x2="395.8" y2="494.4" stroke="#111" stroke-width="1.25"/>
<line x1="392.8" y1="493.8" x2="395.8" y2="493.8" stroke="#111" stroke-width="1.0"/>
<text transform="translate(389.4,496.7) scale(0.77,1)" font-size="8.5" text-anchor="end" stroke="#3a3a3a" stroke-width="0.1">0</text>
<line x1="392.8" y1="480.9" x2="395.8" y2="480.9" stroke="#111" stroke-width="1.0"/>
<text transform="translate(389.4,483.8) scale(0.77,1)" font-size="8.5" text-anchor="end" stroke="#3a3a3a" stroke-width="0.1">10</text>
<line x1="392.8" y1="468" x2="395.8" y2="468" stroke="#111" stroke-width="1.0"/>
<text transform="translate(389.4,470.9) scale(0.77,1)" font-size="8.5" text-anchor="end" stroke="#3a3a3a" stroke-width="0.1">20</text>
<line x1="392.8" y1="455" x2="395.8" y2="455" stroke="#111" stroke-width="1.0"/>
<text transform="translate(389.4,458) scale(0.77,1)" font-size="8.5" text-anchor="end" stroke="#3a3a3a" stroke-width="0.1">30</text>
<line x1="392.8" y1="442.1" x2="395.8" y2="442.1" stroke="#111" stroke-width="1.0"/>
<text transform="translate(389.4,445.1) scale(0.77,1)" font-size="8.5" text-anchor="end" stroke="#3a3a3a" stroke-width="0.1">40</text>
<line x1="392.8" y1="429.2" x2="395.8" y2="429.2" stroke="#111" stroke-width="1.0"/>
<text transform="translate(389.4,432.1) scale(0.77,1)" font-size="8.5" text-anchor="end" stroke="#3a3a3a" stroke-width="0.1">50</text>
<line x1="395.2" y1="493.8" x2="492.3" y2="493.8" stroke="#111" stroke-width="1.25"/>
<line x1="403.7" y1="493.8" x2="403.7" y2="496.8" stroke="#111" stroke-width="1.0"/>
<line x1="420" y1="493.8" x2="420" y2="496.8" stroke="#111" stroke-width="1.0"/>
<line x1="436" y1="493.8" x2="436" y2="496.8" stroke="#111" stroke-width="1.0"/>
<line x1="452.1" y1="493.8" x2="452.1" y2="496.8" stroke="#111" stroke-width="1.0"/>
<line x1="468.3" y1="493.8" x2="468.3" y2="496.8" stroke="#111" stroke-width="1.0"/>
<line x1="484.2" y1="493.8" x2="484.2" y2="496.8" stroke="#111" stroke-width="1.0"/>
<line x1="403.5" y1="430.2" x2="452.3" y2="430.2" stroke="#3a3a3a" stroke-width="1.4"/>
<circle cx="427.9" cy="426.5" r="0.95" fill="#333"/>
<line x1="454.2" y1="430.2" x2="484" y2="430.2" stroke="#3a3a3a" stroke-width="1.4"/>
<circle cx="464" cy="426.5" r="0.95" fill="#333"/>
<circle cx="467.4" cy="426.5" r="0.95" fill="#333"/>
<circle cx="470.8" cy="426.5" r="0.95" fill="#333"/>
<circle cx="474.2" cy="426.5" r="0.95" fill="#333"/>
<line x1="454.2" y1="439.2" x2="467.7" y2="439.2" stroke="#3a3a3a" stroke-width="1.4"/>
<circle cx="455.8" cy="435.5" r="0.95" fill="#333"/>
<circle cx="459.2" cy="435.5" r="0.95" fill="#333"/>
<circle cx="462.6" cy="435.5" r="0.95" fill="#333"/>
<circle cx="466.1" cy="435.5" r="0.95" fill="#333"/>
<text transform="translate(395.2,506.4) scale(0.99,1)" font-size="7.0" text-anchor="end" stroke="#3a3a3a" stroke-width="0.1">MTM-1701</text>
<text transform="translate(395.2,515) scale(0.92,1)" font-size="7.0" text-anchor="end" stroke="#3a3a3a" stroke-width="0.1">PTCI</text>
<text transform="translate(403.7,506.1)" font-size="6.6" text-anchor="middle">-</text>
<text transform="translate(420,506.1)" font-size="6.6" text-anchor="middle">+</text>
<text transform="translate(436,506.1)" font-size="6.6" text-anchor="middle">-</text>
<text transform="translate(452.1,506.1)" font-size="6.6" text-anchor="middle">-</text>
<text transform="translate(468.3,506.1)" font-size="6.6" text-anchor="middle">+</text>
<text transform="translate(484.2,506.1)" font-size="6.6" text-anchor="middle">-</text>
<text transform="translate(403.7,514.7)" font-size="6.6" text-anchor="middle">-</text>
<text transform="translate(420,514.7)" font-size="6.6" text-anchor="middle">-</text>
<text transform="translate(436,514.7)" font-size="6.6" text-anchor="middle">+</text>
<text transform="translate(452.1,514.7)" font-size="6.6" text-anchor="middle">-</text>
<text transform="translate(468.3,514.7)" font-size="6.6" text-anchor="middle">-</text>
<text transform="translate(484.2,514.7)" font-size="6.6" text-anchor="middle">+</text>
<line x1="403.4" y1="518.2" x2="438.6" y2="518.2" stroke="#555" stroke-width="1.4"/>
<line x1="449.9" y1="518.2" x2="484.6" y2="518.2" stroke="#555" stroke-width="1.4"/>
<text transform="translate(420.1,528.7) scale(0.95,1)" font-size="7.6" text-anchor="middle" stroke="#3a3a3a" stroke-width="0.1">Control Diet</text>
<text transform="translate(467.3,528.7) scale(0.94,1)" font-size="7.6" text-anchor="middle" stroke="#3a3a3a" stroke-width="0.1">High Fat Diet</text>
<text transform="translate(376.1,459.9) rotate(-90) scale(0.751,1)" font-size="9.0" text-anchor="middle" stroke="#3a3a3a" stroke-width="0.1">PG TtPeak (min)</text>
<text transform="translate(9.6,557.5)" font-size="12.8" font-weight="bold" fill="#111">M</text>
<rect x="58.3" y="621.8" width="10" height="11.3" fill="#6574a8"/>
<rect x="74.2" y="605.6" width="10" height="27.5" fill="#a3abcf"/>
<rect x="90.4" y="588.2" width="10" height="44.9" fill="#d3d6ea"/>
<rect x="106.3" y="629.9" width="10" height="3.2" fill="#d9a193"/>
<rect x="122.7" y="600.8" width="10" height="32.3" fill="#c46f62"/>
<rect x="138.8" y="592.1" width="10" height="41" fill="#f0dbd3"/>
<circle cx="59.6" cy="617.6" r="2.0" fill="none" stroke="#2d4a8a" stroke-width="1.0"/>
<circle cx="59.6" cy="621.8" r="2.0" fill="none" stroke="#2d4a8a" stroke-width="1.0"/>
<circle cx="66.3" cy="621.5" r="2.0" fill="none" stroke="#2d4a8a" stroke-width="1.0"/>
<rect x="74" y="601.7" width="4" height="4" fill="none" stroke="#4a62a0" stroke-width="1.0"/>
<rect x="80.7" y="602.7" width="4" height="4" fill="none" stroke="#4a62a0" stroke-width="1.0"/>
<rect x="77.4" y="608.2" width="4" height="4" fill="none" stroke="#4a62a0" stroke-width="1.0"/>
<path d="M91.9,583.9l2.3,4h-4.6z" fill="none" stroke="#8c96cc" stroke-width="1.0"/>
<path d="M98.5,585.2l2.3,4h-4.6z" fill="none" stroke="#8c96cc" stroke-width="1.0"/>
<path d="M95.6,597.8l2.3,4h-4.6z" fill="none" stroke="#8c96cc" stroke-width="1.0"/>
<circle cx="109.4" cy="626.6" r="2.0" fill="none" stroke="#c4584e" stroke-width="1.0"/>
<circle cx="115.2" cy="625.7" r="2.0" fill="none" stroke="#c4584e" stroke-width="1.0"/>
<circle cx="111.3" cy="629.5" r="2.0" fill="none" stroke="#c4584e" stroke-width="1.0"/>
<circle cx="115.2" cy="630.5" r="2.0" fill="none" stroke="#c4584e" stroke-width="1.0"/>
<circle cx="107.5" cy="629.5" r="2.0" fill="none" stroke="#c4584e" stroke-width="1.0"/>
<rect x="125.3" y="587.5" width="4" height="4" fill="none" stroke="#b3173d" stroke-width="1.0"/>
<rect x="125.3" y="592.3" width="4" height="4" fill="none" stroke="#b3173d" stroke-width="1.0"/>
<rect x="129.2" y="596.2" width="4" height="4" fill="none" stroke="#b3173d" stroke-width="1.0"/>
<rect x="122.4" y="599.1" width="4" height="4" fill="none" stroke="#b3173d" stroke-width="1.0"/>
<rect x="125.3" y="605.9" width="4" height="4" fill="none" stroke="#b3173d" stroke-width="1.0"/>
<rect x="125.3" y="614.3" width="4" height="4" fill="none" stroke="#b3173d" stroke-width="1.0"/>
<path d="M140.2,579.3l2.3,4h-4.6z" fill="none" stroke="#e0a08e" stroke-width="1.0"/>
<path d="M147.3,578.7l2.3,4h-4.6z" fill="none" stroke="#e0a08e" stroke-width="1.0"/>
<path d="M147.3,587.7l2.3,4h-4.6z" fill="none" stroke="#e0a08e" stroke-width="1.0"/>
<path d="M140.2,591.3l2.3,4h-4.6z" fill="none" stroke="#e0a08e" stroke-width="1.0"/>
<path d="M140.2,597.4l2.3,4h-4.6z" fill="none" stroke="#e0a08e" stroke-width="1.0"/>
<path d="M147.3,596.5l2.3,4h-4.6z" fill="none" stroke="#e0a08e" stroke-width="1.0"/>
<line x1="55.4" y1="566.6" x2="55.4" y2="633.7" stroke="#111" stroke-width="1.25"/>
<line x1="52.4" y1="633.1" x2="55.4" y2="633.1" stroke="#111" stroke-width="1.0"/>
<text transform="translate(49,636) scale(0.77,1)" font-size="8.5" text-anchor="end" stroke="#3a3a3a" stroke-width="0.1">0</text>
<line x1="52.4" y1="617" x2="55.4" y2="617" stroke="#111" stroke-width="1.0"/>
<text transform="translate(49,619.9) scale(0.77,1)" font-size="8.5" text-anchor="end" stroke="#3a3a3a" stroke-width="0.1">5</text>
<line x1="52.4" y1="600.8" x2="55.4" y2="600.8" stroke="#111" stroke-width="1.0"/>
<text transform="translate(49,603.7) scale(0.77,1)" font-size="8.5" text-anchor="end" stroke="#3a3a3a" stroke-width="0.1">10</text>
<line x1="52.4" y1="584.6" x2="55.4" y2="584.6" stroke="#111" stroke-width="1.0"/>
<text transform="translate(49,587.6) scale(0.77,1)" font-size="8.5" text-anchor="end" stroke="#3a3a3a" stroke-width="0.1">15</text>
<line x1="52.4" y1="568.5" x2="55.4" y2="568.5" stroke="#111" stroke-width="1.0"/>
<text transform="translate(49,571.4) scale(0.77,1)" font-size="8.5" text-anchor="end" stroke="#3a3a3a" stroke-width="0.1">20</text>
<line x1="54.8" y1="633.1" x2="151.7" y2="633.1" stroke="#111" stroke-width="1.25"/>
<line x1="63.3" y1="633.1" x2="63.3" y2="636.1" stroke="#111" stroke-width="1.0"/>
<line x1="79.2" y1="633.1" x2="79.2" y2="636.1" stroke="#111" stroke-width="1.0"/>
<line x1="95.4" y1="633.1" x2="95.4" y2="636.1" stroke="#111" stroke-width="1.0"/>
<line x1="111.3" y1="633.1" x2="111.3" y2="636.1" stroke="#111" stroke-width="1.0"/>
<line x1="127.7" y1="633.1" x2="127.7" y2="636.1" stroke="#111" stroke-width="1.0"/>
<line x1="143.8" y1="633.1" x2="143.8" y2="636.1" stroke="#111" stroke-width="1.0"/>
<line x1="63.5" y1="569.8" x2="96.2" y2="569.8" stroke="#3a3a3a" stroke-width="1.4"/>
<circle cx="76.4" cy="566.1" r="0.95" fill="#333"/>
<circle cx="79.8" cy="566.1" r="0.95" fill="#333"/>
<circle cx="83.2" cy="566.1" r="0.95" fill="#333"/>
<line x1="113.8" y1="569.8" x2="143.7" y2="569.8" stroke="#3a3a3a" stroke-width="1.4"/>
<circle cx="123.7" cy="566.1" r="0.95" fill="#333"/>
<circle cx="127" cy="566.1" r="0.95" fill="#333"/>
<circle cx="130.4" cy="566.1" r="0.95" fill="#333"/>
<circle cx="133.8" cy="566.1" r="0.95" fill="#333"/>
<line x1="113.8" y1="578.5" x2="127.7" y2="578.5" stroke="#3a3a3a" stroke-width="1.4"/>
<circle cx="115.7" cy="574.8" r="0.95" fill="#333"/>
<circle cx="119" cy="574.8" r="0.95" fill="#333"/>
<circle cx="122.5" cy="574.8" r="0.95" fill="#333"/>
<circle cx="125.8" cy="574.8" r="0.95" fill="#333"/>
<text transform="translate(54.8,645.7) scale(0.99,1)" font-size="7.0" text-anchor="end" stroke="#3a3a3a" stroke-width="0.1">MTM-1701</text>
<text transform="translate(54.8,654.3) scale(0.92,1)" font-size="7.0" text-anchor="end" stroke="#3a3a3a" stroke-width="0.1">PTCI</text>
<text transform="translate(63.3,645.4)" font-size="6.6" text-anchor="middle">-</text>
<text transform="translate(79.2,645.4)" font-size="6.6" text-anchor="middle">+</text>
<text transform="translate(95.4,645.4)" font-size="6.6" text-anchor="middle">-</text>
<text transform="translate(111.3,645.4)" font-size="6.6" text-anchor="middle">-</text>
<text transform="translate(127.7,645.4)" font-size="6.6" text-anchor="middle">+</text>
<text transform="translate(143.8,645.4)" font-size="6.6" text-anchor="middle">-</text>
<text transform="translate(63.3,654)" font-size="6.6" text-anchor="middle">-</text>
<text transform="translate(79.2,654)" font-size="6.6" text-anchor="middle">-</text>
<text transform="translate(95.4,654)" font-size="6.6" text-anchor="middle">+</text>
<text transform="translate(111.3,654)" font-size="6.6" text-anchor="middle">-</text>
<text transform="translate(127.7,654)" font-size="6.6" text-anchor="middle">-</text>
<text transform="translate(143.8,654)" font-size="6.6" text-anchor="middle">+</text>
<line x1="63" y1="657.5" x2="98" y2="657.5" stroke="#555" stroke-width="1.4"/>
<line x1="109.1" y1="657.5" x2="144.2" y2="657.5" stroke="#555" stroke-width="1.4"/>
<text transform="translate(79.5,668) scale(0.95,1)" font-size="7.6" text-anchor="middle" stroke="#3a3a3a" stroke-width="0.1">Control Diet</text>
<text transform="translate(126.8,668) scale(0.94,1)" font-size="7.6" text-anchor="middle" stroke="#3a3a3a" stroke-width="0.1">High Fat Diet</text>
<text transform="translate(35.4,599) rotate(-90) scale(0.806,1)" font-size="9.0" text-anchor="middle" stroke="#3a3a3a" stroke-width="0.1">PG velocity (nM/min)</text>
<text transform="translate(190.6,557.5)" font-size="12.8" font-weight="bold" fill="#111">N</text>
<rect x="237" y="609.4" width="10" height="23.7" fill="#6574a8"/>
<rect x="253.1" y="599.7" width="10" height="33.4" fill="#a3abcf"/>
<rect x="269" y="602.7" width="10" height="30.4" fill="#d3d6ea"/>
<rect x="285.2" y="606.2" width="10" height="26.9" fill="#d9a193"/>
<rect x="301.5" y="597" width="10" height="36.1" fill="#c46f62"/>
<rect x="317.6" y="597" width="10" height="36.1" fill="#f0dbd3"/>
<circle cx="238.8" cy="609.4" r="2.0" fill="none" stroke="#2d4a8a" stroke-width="1.0"/>
<circle cx="242" cy="607.3" r="2.0" fill="none" stroke="#2d4a8a" stroke-width="1.0"/>
<circle cx="245.2" cy="609.4" r="2.0" fill="none" stroke="#2d4a8a" stroke-width="1.0"/>
<rect x="252.9" y="595.6" width="4" height="4" fill="none" stroke="#4a62a0" stroke-width="1.0"/>
<rect x="252.9" y="598.8" width="4" height="4" fill="none" stroke="#4a62a0" stroke-width="1.0"/>
<rect x="259.3" y="597.2" width="4" height="4" fill="none" stroke="#4a62a0" stroke-width="1.0"/>
<path d="M271,598.4l2.3,4h-4.6z" fill="none" stroke="#8c96cc" stroke-width="1.0"/>
<path d="M274,593l2.3,4h-4.6z" fill="none" stroke="#8c96cc" stroke-width="1.0"/>
<path d="M277,598.4l2.3,4h-4.6z" fill="none" stroke="#8c96cc" stroke-width="1.0"/>
<circle cx="286.7" cy="601.3" r="2.0" fill="none" stroke="#c4584e" stroke-width="1.0"/>
<circle cx="290.2" cy="600.8" r="2.0" fill="none" stroke="#c4584e" stroke-width="1.0"/>
<circle cx="293.7" cy="603" r="2.0" fill="none" stroke="#c4584e" stroke-width="1.0"/>
<circle cx="286.7" cy="607.8" r="2.0" fill="none" stroke="#c4584e" stroke-width="1.0"/>
<circle cx="290.2" cy="605.1" r="2.0" fill="none" stroke="#c4584e" stroke-width="1.0"/>
<circle cx="293.7" cy="605.1" r="2.0" fill="none" stroke="#c4584e" stroke-width="1.0"/>
<rect x="304.5" y="588" width="4" height="4" fill="none" stroke="#b3173d" stroke-width="1.0"/>
<rect x="301.5" y="597.2" width="4" height="4" fill="none" stroke="#b3173d" stroke-width="1.0"/>
<rect x="304.5" y="596.6" width="4" height="4" fill="none" stroke="#b3173d" stroke-width="1.0"/>
<rect x="307.5" y="597.2" width="4" height="4" fill="none" stroke="#b3173d" stroke-width="1.0"/>
<rect x="303.5" y="601.5" width="4" height="4" fill="none" stroke="#b3173d" stroke-width="1.0"/>
<rect x="306" y="599.9" width="4" height="4" fill="none" stroke="#b3173d" stroke-width="1.0"/>
<rect x="304.5" y="603.1" width="4" height="4" fill="none" stroke="#b3173d" stroke-width="1.0"/>
<path d="M319.6,587.6l2.3,4h-4.6z" fill="none" stroke="#e0a08e" stroke-width="1.0"/>
<path d="M322.6,592.7l2.3,4h-4.6z" fill="none" stroke="#e0a08e" stroke-width="1.0"/>
<path d="M325.6,590.3l2.3,4h-4.6z" fill="none" stroke="#e0a08e" stroke-width="1.0"/>
<path d="M319.6,600l2.3,4h-4.6z" fill="none" stroke="#e0a08e" stroke-width="1.0"/>
<path d="M322.6,600l2.3,4h-4.6z" fill="none" stroke="#e0a08e" stroke-width="1.0"/>
<path d="M325.6,600l2.3,4h-4.6z" fill="none" stroke="#e0a08e" stroke-width="1.0"/>
<line x1="233.5" y1="566.6" x2="233.5" y2="633.7" stroke="#111" stroke-width="1.25"/>
<line x1="230.5" y1="633.1" x2="233.5" y2="633.1" stroke="#111" stroke-width="1.0"/>
<text transform="translate(227.1,636) scale(0.77,1)" font-size="8.5" text-anchor="end" stroke="#3a3a3a" stroke-width="0.1">0</text>
<line x1="230.5" y1="617" x2="233.5" y2="617" stroke="#111" stroke-width="1.0"/>
<text transform="translate(227.1,619.9) scale(0.77,1)" font-size="8.5" text-anchor="end" stroke="#3a3a3a" stroke-width="0.1">30</text>
<line x1="230.5" y1="600.8" x2="233.5" y2="600.8" stroke="#111" stroke-width="1.0"/>
<text transform="translate(227.1,603.7) scale(0.77,1)" font-size="8.5" text-anchor="end" stroke="#3a3a3a" stroke-width="0.1">60</text>
<line x1="230.5" y1="584.6" x2="233.5" y2="584.6" stroke="#111" stroke-width="1.0"/>
<text transform="translate(227.1,587.6) scale(0.77,1)" font-size="8.5" text-anchor="end" stroke="#3a3a3a" stroke-width="0.1">90</text>
<line x1="230.5" y1="568.5" x2="233.5" y2="568.5" stroke="#111" stroke-width="1.0"/>
<text transform="translate(227.1,571.4) scale(0.77,1)" font-size="8.5" text-anchor="end" stroke="#3a3a3a" stroke-width="0.1">120</text>
<line x1="232.9" y1="633.1" x2="330.4" y2="633.1" stroke="#111" stroke-width="1.25"/>
<line x1="242" y1="633.1" x2="242" y2="636.1" stroke="#111" stroke-width="1.0"/>
<line x1="258.1" y1="633.1" x2="258.1" y2="636.1" stroke="#111" stroke-width="1.0"/>
<line x1="274" y1="633.1" x2="274" y2="636.1" stroke="#111" stroke-width="1.0"/>
<line x1="290.2" y1="633.1" x2="290.2" y2="636.1" stroke="#111" stroke-width="1.0"/>
<line x1="306.5" y1="633.1" x2="306.5" y2="636.1" stroke="#111" stroke-width="1.0"/>
<line x1="322.6" y1="633.1" x2="322.6" y2="636.1" stroke="#111" stroke-width="1.0"/>
<line x1="241.9" y1="572.7" x2="274.6" y2="572.7" stroke="#3a3a3a" stroke-width="1.4"/>
<circle cx="258.2" cy="569" r="0.95" fill="#333"/>
<line x1="292.3" y1="572.7" x2="322.1" y2="572.7" stroke="#3a3a3a" stroke-width="1.4"/>
<circle cx="305.5" cy="569" r="0.95" fill="#333"/>
<circle cx="308.9" cy="569" r="0.95" fill="#333"/>
<text transform="translate(232.9,645.7) scale(0.99,1)" font-size="7.0" text-anchor="end" stroke="#3a3a3a" stroke-width="0.1">MTM-1701</text>
<text transform="translate(232.9,654.3) scale(0.92,1)" font-size="7.0" text-anchor="end" stroke="#3a3a3a" stroke-width="0.1">PTCI</text>
<text transform="translate(242,645.4)" font-size="6.6" text-anchor="middle">-</text>
<text transform="translate(258.1,645.4)" font-size="6.6" text-anchor="middle">+</text>
<text transform="translate(274,645.4)" font-size="6.6" text-anchor="middle">-</text>
<text transform="translate(290.2,645.4)" font-size="6.6" text-anchor="middle">-</text>
<text transform="translate(306.5,645.4)" font-size="6.6" text-anchor="middle">+</text>
<text transform="translate(322.6,645.4)" font-size="6.6" text-anchor="middle">-</text>
<text transform="translate(242,654)" font-size="6.6" text-anchor="middle">-</text>
<text transform="translate(258.1,654)" font-size="6.6" text-anchor="middle">-</text>
<text transform="translate(274,654)" font-size="6.6" text-anchor="middle">+</text>
<text transform="translate(290.2,654)" font-size="6.6" text-anchor="middle">-</text>
<text transform="translate(306.5,654)" font-size="6.6" text-anchor="middle">-</text>
<text transform="translate(322.6,654)" font-size="6.6" text-anchor="middle">+</text>
<line x1="241.7" y1="657.5" x2="276.6" y2="657.5" stroke="#555" stroke-width="1.4"/>
<line x1="288" y1="657.5" x2="323" y2="657.5" stroke="#555" stroke-width="1.4"/>
<text transform="translate(258.2,668) scale(0.95,1)" font-size="7.6" text-anchor="middle" stroke="#3a3a3a" stroke-width="0.1">Control Diet</text>
<text transform="translate(305.6,668) scale(0.94,1)" font-size="7.6" text-anchor="middle" stroke="#3a3a3a" stroke-width="0.1">High Fat Diet</text>
<text transform="translate(210.8,599) rotate(-90) scale(0.78,1)" font-size="9.0" text-anchor="middle" stroke="#3a3a3a" stroke-width="0.1">PG peak (nM)</text>
<text transform="translate(354.4,557)" font-size="12.8" font-weight="bold" fill="#111">O</text>
<rect x="398.7" y="606.8" width="10" height="26.3" fill="#6574a8"/>
<rect x="415" y="596.5" width="10" height="36.6" fill="#a3abcf"/>
<rect x="430.4" y="604.5" width="10" height="28.6" fill="#d3d6ea"/>
<rect x="447.1" y="601.7" width="10" height="31.4" fill="#d9a193"/>
<rect x="463.3" y="600.8" width="10" height="32.3" fill="#c46f62"/>
<rect x="479.2" y="606.8" width="10" height="26.3" fill="#f0dbd3"/>
<circle cx="400.5" cy="603.4" r="2.0" fill="none" stroke="#2d4a8a" stroke-width="1.0"/>
<circle cx="400.5" cy="607.3" r="2.0" fill="none" stroke="#2d4a8a" stroke-width="1.0"/>
<circle cx="406.9" cy="606.4" r="2.0" fill="none" stroke="#2d4a8a" stroke-width="1.0"/>
<rect x="414.8" y="595.4" width="4" height="4" fill="none" stroke="#4a62a0" stroke-width="1.0"/>
<rect x="418" y="592.3" width="4" height="4" fill="none" stroke="#4a62a0" stroke-width="1.0"/>
<rect x="421.2" y="594.1" width="4" height="4" fill="none" stroke="#4a62a0" stroke-width="1.0"/>
<path d="M432.4,602.1l2.3,4h-4.6z" fill="none" stroke="#8c96cc" stroke-width="1.0"/>
<path d="M435.4,600.6l2.3,4h-4.6z" fill="none" stroke="#8c96cc" stroke-width="1.0"/>
<path d="M438.4,601.4l2.3,4h-4.6z" fill="none" stroke="#8c96cc" stroke-width="1.0"/>
<circle cx="449.1" cy="599.1" r="2.0" fill="none" stroke="#c4584e" stroke-width="1.0"/>
<circle cx="452.1" cy="597.4" r="2.0" fill="none" stroke="#c4584e" stroke-width="1.0"/>
<circle cx="455.6" cy="596.5" r="2.0" fill="none" stroke="#c4584e" stroke-width="1.0"/>
<circle cx="448.6" cy="607.3" r="2.0" fill="none" stroke="#c4584e" stroke-width="1.0"/>
<circle cx="452.1" cy="607.3" r="2.0" fill="none" stroke="#c4584e" stroke-width="1.0"/>
<circle cx="455.6" cy="603.8" r="2.0" fill="none" stroke="#c4584e" stroke-width="1.0"/>
<rect x="466.3" y="573" width="4" height="4" fill="none" stroke="#b3173d" stroke-width="1.0"/>
<rect x="462.8" y="595.8" width="4" height="4" fill="none" stroke="#b3173d" stroke-width="1.0"/>
<rect x="469.8" y="596.2" width="4" height="4" fill="none" stroke="#b3173d" stroke-width="1.0"/>
<rect x="462.8" y="601" width="4" height="4" fill="none" stroke="#b3173d" stroke-width="1.0"/>
<rect x="469.8" y="601" width="4" height="4" fill="none" stroke="#b3173d" stroke-width="1.0"/>
<rect x="466.3" y="598.8" width="4" height="4" fill="none" stroke="#b3173d" stroke-width="1.0"/>
<path d="M483.2,595l2.3,4h-4.6z" fill="none" stroke="#e0a08e" stroke-width="1.0"/>
<path d="M484.2,598l2.3,4h-4.6z" fill="none" stroke="#e0a08e" stroke-width="1.0"/>
<path d="M481.2,603.1l2.3,4h-4.6z" fill="none" stroke="#e0a08e" stroke-width="1.0"/>
<path d="M487.2,602.7l2.3,4h-4.6z" fill="none" stroke="#e0a08e" stroke-width="1.0"/>
<path d="M482.2,601l2.3,4h-4.6z" fill="none" stroke="#e0a08e" stroke-width="1.0"/>
<line x1="395.8" y1="566.6" x2="395.8" y2="633.7" stroke="#111" stroke-width="1.25"/>
<line x1="392.8" y1="633.1" x2="395.8" y2="633.1" stroke="#111" stroke-width="1.0"/>
<text transform="translate(389.4,636) scale(0.77,1)" font-size="8.5" text-anchor="end" stroke="#3a3a3a" stroke-width="0.1">0</text>
<line x1="392.8" y1="611.6" x2="395.8" y2="611.6" stroke="#111" stroke-width="1.0"/>
<text transform="translate(389.4,614.5) scale(0.77,1)" font-size="8.5" text-anchor="end" stroke="#3a3a3a" stroke-width="0.1">500</text>
<line x1="392.8" y1="590" x2="395.8" y2="590" stroke="#111" stroke-width="1.0"/>
<text transform="translate(389.4,593) scale(0.77,1)" font-size="8.5" text-anchor="end" stroke="#3a3a3a" stroke-width="0.1">1000</text>
<line x1="392.8" y1="568.5" x2="395.8" y2="568.5" stroke="#111" stroke-width="1.0"/>
<text transform="translate(389.4,571.4) scale(0.77,1)" font-size="8.5" text-anchor="end" stroke="#3a3a3a" stroke-width="0.1">1500</text>
<line x1="395.2" y1="633.1" x2="492.3" y2="633.1" stroke="#111" stroke-width="1.25"/>
<line x1="403.7" y1="633.1" x2="403.7" y2="636.1" stroke="#111" stroke-width="1.0"/>
<line x1="420" y1="633.1" x2="420" y2="636.1" stroke="#111" stroke-width="1.0"/>
<line x1="435.4" y1="633.1" x2="435.4" y2="636.1" stroke="#111" stroke-width="1.0"/>
<line x1="452.1" y1="633.1" x2="452.1" y2="636.1" stroke="#111" stroke-width="1.0"/>
<line x1="468.3" y1="633.1" x2="468.3" y2="636.1" stroke="#111" stroke-width="1.0"/>
<line x1="484.2" y1="633.1" x2="484.2" y2="636.1" stroke="#111" stroke-width="1.0"/>
<text transform="translate(395.2,645.7) scale(0.99,1)" font-size="7.0" text-anchor="end" stroke="#3a3a3a" stroke-width="0.1">MTM-1701</text>
<text transform="translate(395.2,654.3) scale(0.92,1)" font-size="7.0" text-anchor="end" stroke="#3a3a3a" stroke-width="0.1">PTCI</text>
<text transform="translate(403.7,645.4)" font-size="6.6" text-anchor="middle">-</text>
<text transform="translate(420,645.4)" font-size="6.6" text-anchor="middle">+</text>
<text transform="translate(435.4,645.4)" font-size="6.6" text-anchor="middle">-</text>
<text transform="translate(452.1,645.4)" font-size="6.6" text-anchor="middle">-</text>
<text transform="translate(468.3,645.4)" font-size="6.6" text-anchor="middle">+</text>
<text transform="translate(484.2,645.4)" font-size="6.6" text-anchor="middle">-</text>
<text transform="translate(403.7,654)" font-size="6.6" text-anchor="middle">-</text>
<text transform="translate(420,654)" font-size="6.6" text-anchor="middle">-</text>
<text transform="translate(435.4,654)" font-size="6.6" text-anchor="middle">+</text>
<text transform="translate(452.1,654)" font-size="6.6" text-anchor="middle">-</text>
<text transform="translate(468.3,654)" font-size="6.6" text-anchor="middle">-</text>
<text transform="translate(484.2,654)" font-size="6.6" text-anchor="middle">+</text>
<line x1="403.4" y1="657.5" x2="438" y2="657.5" stroke="#555" stroke-width="1.4"/>
<line x1="449.9" y1="657.5" x2="484.6" y2="657.5" stroke="#555" stroke-width="1.4"/>
<text transform="translate(419.7,668) scale(0.95,1)" font-size="7.6" text-anchor="middle" stroke="#3a3a3a" stroke-width="0.1">Control Diet</text>
<text transform="translate(467.3,668) scale(0.94,1)" font-size="7.6" text-anchor="middle" stroke="#3a3a3a" stroke-width="0.1">High Fat Diet</text>
<text transform="translate(367.8,599) rotate(-90) scale(0.797,1)" font-size="9.0" text-anchor="middle" stroke="#3a3a3a" stroke-width="0.1">EPP (nM·min)</text>
<rect x="0.5" y="0.5" width="519" height="675.5" fill="none" stroke="#000" stroke-width="1"/>
<rect x="0" y="675" width="520" height="1" fill="#707070"/><rect x="0" y="676" width="520" height="1" fill="#000"/><rect x="1" y="1" width="518" height="1" fill="#e0e0e0"/>
</g></svg></body></html>
